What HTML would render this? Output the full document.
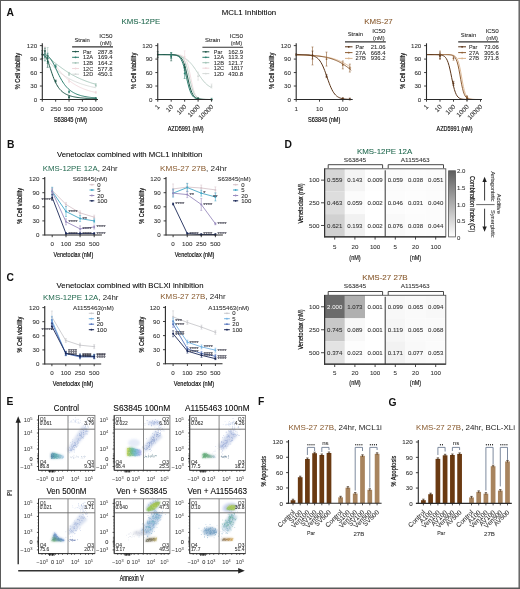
<!DOCTYPE html>
<html><head><meta charset="utf-8"><style>
html,body{margin:0;padding:0;background:#fff;width:520px;height:589px;overflow:hidden}
svg{display:block;filter:blur(0.25px)}
text{font-family:"Liberation Sans", sans-serif}
.b{stroke:#222;stroke-width:0.2px}
</style></head><body>
<svg width="520" height="589" viewBox="0 0 520 589">
<rect width="520" height="589" fill="#fff"/>
<line x1="0" y1="0.5" x2="520" y2="0.5" stroke="#5a5a5a" stroke-width="1"/>
<line x1="0.5" y1="0" x2="0.5" y2="589" stroke="#5a5a5a" stroke-width="1"/>
<line x1="519.2" y1="0" x2="519.2" y2="589" stroke="#5a5a5a" stroke-width="1.4"/>
<line x1="0" y1="588.3" x2="520" y2="588.3" stroke="#5a5a5a" stroke-width="1.4"/>
<text x="6.5" y="16.1" font-size="10.3" fill="#111" font-weight="bold">A</text>
<text x="6.9" y="147.6" font-size="10.3" fill="#111" font-weight="bold">B</text>
<text x="6.6" y="280.9" font-size="10.3" fill="#111" font-weight="bold">C</text>
<text x="284.6" y="147.6" font-size="10.3" fill="#111" font-weight="bold">D</text>
<text x="6.6" y="405.3" font-size="10.3" fill="#111" font-weight="bold">E</text>
<text x="258" y="405.4" font-size="10.3" fill="#111" font-weight="bold">F</text>
<text x="388.4" y="405.8" font-size="10.3" fill="#111" font-weight="bold">G</text>
<text x="249" y="15.4" font-size="7.85" text-anchor="middle" stroke="#222" stroke-width="0.08" textLength="54.4" lengthAdjust="spacingAndGlyphs">MCL1 Inhibition</text>
<text x="140.8" y="23.6" font-size="7.85" text-anchor="middle" fill="#22694f" stroke="#22694f" stroke-width="0.08" textLength="38.7" lengthAdjust="spacingAndGlyphs">KMS-12PE</text>
<text x="378.5" y="23.6" font-size="7.85" text-anchor="middle" fill="#87582c" stroke="#87582c" stroke-width="0.08" textLength="28.5" lengthAdjust="spacingAndGlyphs">KMS-27</text>
<path d="M42.3 54.6 L43.19 55.21 L44.08 56.07 L44.97 57.04 L45.87 58.06 L46.76 59.11 L47.65 60.17 L48.54 61.22 L49.43 62.26 L50.32 63.28 L51.22 64.28 L52.11 65.26 L53 66.2 L53.89 67.12 L54.78 68.01 L55.67 68.87 L56.57 69.7 L57.46 70.5 L58.35 71.27 L59.24 72.01 L60.13 72.73 L61.02 73.41 L61.92 74.08 L62.81 74.72 L63.7 75.33 L64.59 75.93 L65.48 76.5 L66.38 77.05 L67.27 77.58 L68.16 78.09 L69.05 78.59 L69.94 79.06 L70.83 79.52 L71.72 79.96 L72.62 80.39 L73.51 80.8 L74.4 81.2 L75.29 81.58 L76.18 81.96 L77.07 82.32 L77.97 82.66 L78.86 83 L79.75 83.33 L80.64 83.64 L81.53 83.95 L82.42 84.24 L83.32 84.53 L84.21 84.81 L85.1 85.08 L85.99 85.34 L86.88 85.59 L87.78 85.84 L88.67 86.07 L89.56 86.31 L90.45 86.53 L91.34 86.75 L92.23 86.96 L93.12 87.17 L94.02 87.37 L94.91 87.57 L95.8 87.76" stroke="#d6dad8" stroke-width="0.9" fill="none"/>
<path d="M42.3 54.6 L43.19 54.67 L44.08 54.87 L44.97 55.2 L45.87 55.65 L46.76 56.23 L47.65 56.9 L48.54 57.68 L49.43 58.54 L50.32 59.47 L51.22 60.46 L52.11 61.51 L53 62.59 L53.89 63.69 L54.78 64.81 L55.67 65.94 L56.57 67.07 L57.46 68.19 L58.35 69.3 L59.24 70.39 L60.13 71.45 L61.02 72.49 L61.92 73.5 L62.81 74.48 L63.7 75.43 L64.59 76.34 L65.48 77.22 L66.38 78.07 L67.27 78.88 L68.16 79.66 L69.05 80.41 L69.94 81.13 L70.83 81.81 L71.72 82.47 L72.62 83.09 L73.51 83.69 L74.4 84.26 L75.29 84.81 L76.18 85.33 L77.07 85.83 L77.97 86.31 L78.86 86.76 L79.75 87.2 L80.64 87.61 L81.53 88.01 L82.42 88.39 L83.32 88.76 L84.21 89.1 L85.1 89.44 L85.99 89.75 L86.88 90.06 L87.78 90.35 L88.67 90.63 L89.56 90.9 L90.45 91.16 L91.34 91.4 L92.23 91.64 L93.12 91.87 L94.02 92.08 L94.91 92.29 L95.8 92.49" stroke="#f0d8dc" stroke-width="0.9" fill="none"/>
<path d="M42.3 54.6 L43.19 54.79 L44.08 55.13 L44.97 55.56 L45.87 56.06 L46.76 56.61 L47.65 57.21 L48.54 57.84 L49.43 58.5 L50.32 59.18 L51.22 59.87 L52.11 60.57 L53 61.28 L53.89 61.99 L54.78 62.7 L55.67 63.41 L56.57 64.12 L57.46 64.82 L58.35 65.51 L59.24 66.19 L60.13 66.87 L61.02 67.53 L61.92 68.18 L62.81 68.82 L63.7 69.45 L64.59 70.06 L65.48 70.67 L66.38 71.25 L67.27 71.83 L68.16 72.39 L69.05 72.94 L69.94 73.48 L70.83 74 L71.72 74.51 L72.62 75.01 L73.51 75.49 L74.4 75.96 L75.29 76.42 L76.18 76.87 L77.07 77.31 L77.97 77.74 L78.86 78.15 L79.75 78.56 L80.64 78.95 L81.53 79.33 L82.42 79.71 L83.32 80.07 L84.21 80.43 L85.1 80.77 L85.99 81.11 L86.88 81.44 L87.78 81.76 L88.67 82.07 L89.56 82.37 L90.45 82.67 L91.34 82.96 L92.23 83.24 L93.12 83.51 L94.02 83.78 L94.91 84.04 L95.8 84.3" stroke="#a4c4b8" stroke-width="0.9" fill="none"/>
<path d="M42.3 54.6 L43.19 54.61 L44.08 54.65 L44.97 54.76 L45.87 54.97 L46.76 55.31 L47.65 55.82 L48.54 56.5 L49.43 57.38 L50.32 58.45 L51.22 59.72 L52.11 61.17 L53 62.78 L53.89 64.5 L54.78 66.33 L55.67 68.21 L56.57 70.11 L57.46 72 L58.35 73.86 L59.24 75.66 L60.13 77.39 L61.02 79.03 L61.92 80.57 L62.81 82.01 L63.7 83.35 L64.59 84.6 L65.48 85.74 L66.38 86.8 L67.27 87.77 L68.16 88.66 L69.05 89.47 L69.94 90.22 L70.83 90.9 L71.72 91.52 L72.62 92.09 L73.51 92.62 L74.4 93.1 L75.29 93.53 L76.18 93.94 L77.07 94.3 L77.97 94.64 L78.86 94.95 L79.75 95.24 L80.64 95.51 L81.53 95.75 L82.42 95.98 L83.32 96.18 L84.21 96.38 L85.1 96.56 L85.99 96.72 L86.88 96.87 L87.78 97.02 L88.67 97.15 L89.56 97.27 L90.45 97.39 L91.34 97.5 L92.23 97.6 L93.12 97.69 L94.02 97.78 L94.91 97.86 L95.8 97.94" stroke="#2e8070" stroke-width="1" fill="none"/>
<path d="M42.3 54.6 L43.19 54.67 L44.08 55 L44.97 55.72 L45.87 56.9 L46.76 58.54 L47.65 60.61 L48.54 63.02 L49.43 65.66 L50.32 68.4 L51.22 71.15 L52.11 73.81 L53 76.33 L53.89 78.66 L54.78 80.79 L55.67 82.72 L56.57 84.44 L57.46 85.97 L58.35 87.34 L59.24 88.54 L60.13 89.61 L61.02 90.55 L61.92 91.39 L62.81 92.13 L63.7 92.78 L64.59 93.37 L65.48 93.89 L66.38 94.35 L67.27 94.77 L68.16 95.14 L69.05 95.48 L69.94 95.78 L70.83 96.05 L71.72 96.3 L72.62 96.52 L73.51 96.72 L74.4 96.91 L75.29 97.08 L76.18 97.23 L77.07 97.37 L77.97 97.5 L78.86 97.62 L79.75 97.73 L80.64 97.83 L81.53 97.92 L82.42 98.01 L83.32 98.09 L84.21 98.17 L85.1 98.23 L85.99 98.3 L86.88 98.36 L87.78 98.41 L88.67 98.47 L89.56 98.52 L90.45 98.56 L91.34 98.6 L92.23 98.64 L93.12 98.68 L94.02 98.72 L94.91 98.75 L95.8 98.78" stroke="#1e5648" stroke-width="1" fill="none"/>
<line x1="42.3" y1="50.6" x2="42.3" y2="58.6" stroke="#d6dad8" stroke-width="0.6"/>
<line x1="41.3" y1="50.6" x2="43.3" y2="50.6" stroke="#d6dad8" stroke-width="0.5"/>
<line x1="41.3" y1="58.6" x2="43.3" y2="58.6" stroke="#d6dad8" stroke-width="0.5"/>
<circle cx="42.3" cy="54.6" r="0.9" fill="#d6dad8"/>
<line x1="44.97" y1="46.35" x2="44.97" y2="58.35" stroke="#f0d8dc" stroke-width="0.6"/>
<line x1="43.97" y1="46.35" x2="45.97" y2="46.35" stroke="#f0d8dc" stroke-width="0.5"/>
<line x1="43.97" y1="58.35" x2="45.97" y2="58.35" stroke="#f0d8dc" stroke-width="0.5"/>
<circle cx="44.97" cy="52.35" r="0.9" fill="#f0d8dc"/>
<line x1="47.65" y1="47.5" x2="47.65" y2="63.5" stroke="#a4c4b8" stroke-width="0.6"/>
<line x1="46.65" y1="47.5" x2="48.65" y2="47.5" stroke="#a4c4b8" stroke-width="0.5"/>
<line x1="46.65" y1="63.5" x2="48.65" y2="63.5" stroke="#a4c4b8" stroke-width="0.5"/>
<circle cx="47.65" cy="55.5" r="0.9" fill="#a4c4b8"/>
<line x1="42.3" y1="46.25" x2="42.3" y2="60.25" stroke="#a4c4b8" stroke-width="0.6"/>
<line x1="41.3" y1="46.25" x2="43.3" y2="46.25" stroke="#a4c4b8" stroke-width="0.5"/>
<line x1="41.3" y1="60.25" x2="43.3" y2="60.25" stroke="#a4c4b8" stroke-width="0.5"/>
<circle cx="42.3" cy="53.25" r="0.9" fill="#a4c4b8"/>
<line x1="44.97" y1="48.01" x2="44.97" y2="54.01" stroke="#1e5648" stroke-width="0.6"/>
<line x1="43.97" y1="48.01" x2="45.97" y2="48.01" stroke="#1e5648" stroke-width="0.5"/>
<line x1="43.97" y1="54.01" x2="45.97" y2="54.01" stroke="#1e5648" stroke-width="0.5"/>
<circle cx="44.97" cy="51.01" r="0.9" fill="#1e5648"/>
<line x1="42.3" y1="50.6" x2="42.3" y2="58.6" stroke="#1e5648" stroke-width="0.6"/>
<line x1="41.3" y1="50.6" x2="43.3" y2="50.6" stroke="#1e5648" stroke-width="0.5"/>
<line x1="41.3" y1="58.6" x2="43.3" y2="58.6" stroke="#1e5648" stroke-width="0.5"/>
<circle cx="42.3" cy="54.6" r="0.9" fill="#1e5648"/>
<line x1="47.65" y1="53.19" x2="47.65" y2="63.19" stroke="#2e8070" stroke-width="0.6"/>
<line x1="46.65" y1="53.19" x2="48.65" y2="53.19" stroke="#2e8070" stroke-width="0.5"/>
<line x1="46.65" y1="63.19" x2="48.65" y2="63.19" stroke="#2e8070" stroke-width="0.5"/>
<circle cx="47.65" cy="58.19" r="0.9" fill="#2e8070"/>
<line x1="44.97" y1="52.84" x2="44.97" y2="60.84" stroke="#2e8070" stroke-width="0.6"/>
<line x1="43.97" y1="52.84" x2="45.97" y2="52.84" stroke="#2e8070" stroke-width="0.5"/>
<line x1="43.97" y1="60.84" x2="45.97" y2="60.84" stroke="#2e8070" stroke-width="0.5"/>
<circle cx="44.97" cy="56.84" r="0.9" fill="#2e8070"/>
<line x1="47.65" y1="55.34" x2="47.65" y2="67.34" stroke="#1e5648" stroke-width="0.6"/>
<line x1="46.65" y1="55.34" x2="48.65" y2="55.34" stroke="#1e5648" stroke-width="0.5"/>
<line x1="46.65" y1="67.34" x2="48.65" y2="67.34" stroke="#1e5648" stroke-width="0.5"/>
<circle cx="47.65" cy="61.34" r="0.9" fill="#1e5648"/>
<line x1="55.67" y1="64.77" x2="55.67" y2="67.77" stroke="#2e8070" stroke-width="0.6"/>
<line x1="54.67" y1="64.77" x2="56.67" y2="64.77" stroke="#2e8070" stroke-width="0.5"/>
<line x1="54.67" y1="67.77" x2="56.67" y2="67.77" stroke="#2e8070" stroke-width="0.5"/>
<circle cx="55.67" cy="66.27" r="0.9" fill="#2e8070"/>
<line x1="55.67" y1="80.09" x2="55.67" y2="82.09" stroke="#1e5648" stroke-width="0.6"/>
<line x1="54.67" y1="80.09" x2="56.67" y2="80.09" stroke="#1e5648" stroke-width="0.5"/>
<line x1="54.67" y1="82.09" x2="56.67" y2="82.09" stroke="#1e5648" stroke-width="0.5"/>
<circle cx="55.67" cy="81.09" r="0.9" fill="#1e5648"/>
<line x1="69.05" y1="90.87" x2="69.05" y2="92.87" stroke="#2e8070" stroke-width="0.6"/>
<line x1="68.05" y1="90.87" x2="70.05" y2="90.87" stroke="#2e8070" stroke-width="0.5"/>
<line x1="68.05" y1="92.87" x2="70.05" y2="92.87" stroke="#2e8070" stroke-width="0.5"/>
<circle cx="69.05" cy="91.87" r="0.9" fill="#2e8070"/>
<line x1="69.05" y1="96.25" x2="69.05" y2="98.25" stroke="#1e5648" stroke-width="0.6"/>
<line x1="68.05" y1="96.25" x2="70.05" y2="96.25" stroke="#1e5648" stroke-width="0.5"/>
<line x1="68.05" y1="98.25" x2="70.05" y2="98.25" stroke="#1e5648" stroke-width="0.5"/>
<circle cx="69.05" cy="97.25" r="0.9" fill="#1e5648"/>
<line x1="69.05" y1="72.41" x2="69.05" y2="75.41" stroke="#a4c4b8" stroke-width="0.6"/>
<line x1="68.05" y1="72.41" x2="70.05" y2="72.41" stroke="#a4c4b8" stroke-width="0.5"/>
<line x1="68.05" y1="75.41" x2="70.05" y2="75.41" stroke="#a4c4b8" stroke-width="0.5"/>
<circle cx="69.05" cy="73.91" r="0.9" fill="#a4c4b8"/>
<line x1="69.05" y1="79.59" x2="69.05" y2="82.59" stroke="#f0d8dc" stroke-width="0.6"/>
<line x1="68.05" y1="79.59" x2="70.05" y2="79.59" stroke="#f0d8dc" stroke-width="0.5"/>
<line x1="68.05" y1="82.59" x2="70.05" y2="82.59" stroke="#f0d8dc" stroke-width="0.5"/>
<circle cx="69.05" cy="81.09" r="0.9" fill="#f0d8dc"/>
<line x1="95.8" y1="83.63" x2="95.8" y2="86.63" stroke="#a4c4b8" stroke-width="0.6"/>
<line x1="94.8" y1="83.63" x2="96.8" y2="83.63" stroke="#a4c4b8" stroke-width="0.5"/>
<line x1="94.8" y1="86.63" x2="96.8" y2="86.63" stroke="#a4c4b8" stroke-width="0.5"/>
<circle cx="95.8" cy="85.13" r="0.9" fill="#a4c4b8"/>
<line x1="95.8" y1="91.32" x2="95.8" y2="93.32" stroke="#f0d8dc" stroke-width="0.6"/>
<line x1="94.8" y1="91.32" x2="96.8" y2="91.32" stroke="#f0d8dc" stroke-width="0.5"/>
<line x1="94.8" y1="93.32" x2="96.8" y2="93.32" stroke="#f0d8dc" stroke-width="0.5"/>
<circle cx="95.8" cy="92.32" r="0.9" fill="#f0d8dc"/>
<line x1="95.8" y1="97.6" x2="95.8" y2="99.6" stroke="#1e5648" stroke-width="0.6"/>
<line x1="94.8" y1="97.6" x2="96.8" y2="97.6" stroke="#1e5648" stroke-width="0.5"/>
<line x1="94.8" y1="99.6" x2="96.8" y2="99.6" stroke="#1e5648" stroke-width="0.5"/>
<circle cx="95.8" cy="98.6" r="0.9" fill="#1e5648"/>
<line x1="95.8" y1="98.05" x2="95.8" y2="100.05" stroke="#2e8070" stroke-width="0.6"/>
<line x1="94.8" y1="98.05" x2="96.8" y2="98.05" stroke="#2e8070" stroke-width="0.5"/>
<line x1="94.8" y1="100.05" x2="96.8" y2="100.05" stroke="#2e8070" stroke-width="0.5"/>
<circle cx="95.8" cy="99.05" r="0.9" fill="#2e8070"/>
<line x1="42.3" y1="43.3" x2="42.3" y2="100" stroke="#2a2a2a" stroke-width="1.1"/>
<line x1="39.9" y1="99.5" x2="42.3" y2="99.5" stroke="#2a2a2a" stroke-width="0.9"/>
<text x="37.1" y="101.7" font-size="6.2" text-anchor="end" fill="#333" stroke="#333" stroke-width="0.08">0</text>
<line x1="39.9" y1="86.03" x2="42.3" y2="86.03" stroke="#2a2a2a" stroke-width="0.9"/>
<text x="37.1" y="88.23" font-size="6.2" text-anchor="end" fill="#333" stroke="#333" stroke-width="0.08">30</text>
<line x1="39.9" y1="72.56" x2="42.3" y2="72.56" stroke="#2a2a2a" stroke-width="0.9"/>
<text x="37.1" y="74.76" font-size="6.2" text-anchor="end" fill="#333" stroke="#333" stroke-width="0.08">60</text>
<line x1="39.9" y1="59.09" x2="42.3" y2="59.09" stroke="#2a2a2a" stroke-width="0.9"/>
<text x="37.1" y="61.29" font-size="6.2" text-anchor="end" fill="#333" stroke="#333" stroke-width="0.08">90</text>
<line x1="39.9" y1="45.62" x2="42.3" y2="45.62" stroke="#2a2a2a" stroke-width="0.9"/>
<text x="37.1" y="47.82" font-size="6.2" text-anchor="end" fill="#333" stroke="#333" stroke-width="0.08">120</text>
<line x1="42.3" y1="99.5" x2="98" y2="99.5" stroke="#2a2a2a" stroke-width="1.1"/>
<line x1="42.3" y1="99.5" x2="42.3" y2="101.7" stroke="#2a2a2a" stroke-width="0.9"/>
<text x="42.3" y="110.6" font-size="6.2" text-anchor="middle" fill="#333" stroke="#333" stroke-width="0.08">0</text>
<line x1="55.67" y1="99.5" x2="55.67" y2="101.7" stroke="#2a2a2a" stroke-width="0.9"/>
<text x="55.67" y="110.6" font-size="6.2" text-anchor="middle" fill="#333" stroke="#333" stroke-width="0.08">250</text>
<line x1="69.05" y1="99.5" x2="69.05" y2="101.7" stroke="#2a2a2a" stroke-width="0.9"/>
<text x="69.05" y="110.6" font-size="6.2" text-anchor="middle" fill="#333" stroke="#333" stroke-width="0.08">500</text>
<line x1="82.42" y1="99.5" x2="82.42" y2="101.7" stroke="#2a2a2a" stroke-width="0.9"/>
<text x="82.42" y="110.6" font-size="6.2" text-anchor="middle" fill="#333" stroke="#333" stroke-width="0.08">750</text>
<line x1="95.8" y1="99.5" x2="95.8" y2="101.7" stroke="#2a2a2a" stroke-width="0.9"/>
<text x="95.8" y="110.6" font-size="6.2" text-anchor="middle" fill="#333" stroke="#333" stroke-width="0.08">1000</text>
<text x="70.3" y="121.9" font-size="7.9" text-anchor="middle" stroke="#222" stroke-width="0.08" textLength="33" lengthAdjust="spacingAndGlyphs" class="b">S63845 (nM)</text>
<text x="19.6" y="71.1" font-size="7.6" text-anchor="middle" stroke="#222" stroke-width="0.08" textLength="36.2" lengthAdjust="spacingAndGlyphs" transform="rotate(-90 19.6 71.1)" class="b">% Cell viability</text>
<text x="74.4" y="41.7" font-size="6.2" fill="#2a2a2a" stroke="#2a2a2a" stroke-width="0.08" textLength="15.4" lengthAdjust="spacingAndGlyphs">Strain</text>
<text x="105.8" y="37.9" font-size="6.2" text-anchor="middle" fill="#2a2a2a" stroke="#2a2a2a" stroke-width="0.08" textLength="13.3" lengthAdjust="spacingAndGlyphs">IC50</text>
<text x="105.8" y="44.6" font-size="6.2" text-anchor="middle" fill="#2a2a2a" stroke="#2a2a2a" stroke-width="0.08" textLength="11.5" lengthAdjust="spacingAndGlyphs">(nM)</text>
<line x1="72.1" y1="46.9" x2="113" y2="46.9" stroke="#333" stroke-width="1.1"/>
<line x1="72.1" y1="51.6" x2="79" y2="51.6" stroke="#1e5648" stroke-width="1"/>
<circle cx="75.55" cy="51.6" r="0.9" fill="#1e5648"/>
<text x="83" y="53.6" font-size="6" fill="#2a2a2a" stroke="#2a2a2a" stroke-width="0.08" textLength="8.4" lengthAdjust="spacingAndGlyphs">Par</text>
<text x="112.5" y="53.6" font-size="6" text-anchor="end" fill="#2a2a2a" stroke="#2a2a2a" stroke-width="0.08" textLength="14.8" lengthAdjust="spacingAndGlyphs">287.8</text>
<line x1="72.1" y1="57.3" x2="79" y2="57.3" stroke="#2e8070" stroke-width="1"/>
<circle cx="75.55" cy="57.3" r="0.9" fill="#2e8070"/>
<text x="83" y="59.3" font-size="6" fill="#2a2a2a" stroke="#2a2a2a" stroke-width="0.08" textLength="10.2" lengthAdjust="spacingAndGlyphs">12A</text>
<text x="112.5" y="59.3" font-size="6" text-anchor="end" fill="#2a2a2a" stroke="#2a2a2a" stroke-width="0.08" textLength="14.8" lengthAdjust="spacingAndGlyphs">169.4</text>
<line x1="72.1" y1="62.9" x2="79" y2="62.9" stroke="#a4c4b8" stroke-width="1"/>
<circle cx="75.55" cy="62.9" r="0.9" fill="#a4c4b8"/>
<text x="83" y="64.9" font-size="6" fill="#2a2a2a" stroke="#2a2a2a" stroke-width="0.08" textLength="10.2" lengthAdjust="spacingAndGlyphs">12B</text>
<text x="112.5" y="64.9" font-size="6" text-anchor="end" fill="#2a2a2a" stroke="#2a2a2a" stroke-width="0.08" textLength="14.8" lengthAdjust="spacingAndGlyphs">164.2</text>
<line x1="72.1" y1="68.5" x2="79" y2="68.5" stroke="#f0d8dc" stroke-width="1"/>
<circle cx="75.55" cy="68.5" r="0.9" fill="#f0d8dc"/>
<text x="83" y="70.5" font-size="6" fill="#2a2a2a" stroke="#2a2a2a" stroke-width="0.08" textLength="10.2" lengthAdjust="spacingAndGlyphs">12C</text>
<text x="112.5" y="70.5" font-size="6" text-anchor="end" fill="#2a2a2a" stroke="#2a2a2a" stroke-width="0.08" textLength="14.8" lengthAdjust="spacingAndGlyphs">577.8</text>
<line x1="72.1" y1="74.2" x2="79" y2="74.2" stroke="#d6dad8" stroke-width="1"/>
<circle cx="75.55" cy="74.2" r="0.9" fill="#d6dad8"/>
<text x="83" y="76.2" font-size="6" fill="#2a2a2a" stroke="#2a2a2a" stroke-width="0.08" textLength="10.2" lengthAdjust="spacingAndGlyphs">12D</text>
<text x="112.5" y="76.2" font-size="6" text-anchor="end" fill="#2a2a2a" stroke="#2a2a2a" stroke-width="0.08" textLength="14.8" lengthAdjust="spacingAndGlyphs">450.1</text>
<path d="M157.75 54.64 L158.65 54.65 L159.54 54.65 L160.44 54.66 L161.34 54.67 L162.23 54.69 L163.13 54.7 L164.03 54.72 L164.92 54.74 L165.82 54.76 L166.72 54.78 L167.61 54.81 L168.51 54.85 L169.41 54.89 L170.3 54.94 L171.2 54.99 L172.1 55.06 L172.99 55.13 L173.89 55.22 L174.79 55.32 L175.68 55.44 L176.58 55.58 L177.48 55.73 L178.37 55.91 L179.27 56.12 L180.17 56.36 L181.06 56.64 L181.96 56.95 L182.86 57.31 L183.75 57.73 L184.65 58.19 L185.55 58.72 L186.44 59.31 L187.34 59.98 L188.24 60.72 L189.13 61.54 L190.03 62.44 L190.93 63.42 L191.82 64.48 L192.72 65.62 L193.62 66.82 L194.51 68.09 L195.41 69.4 L196.31 70.76 L197.2 72.13 L198.1 73.51 L199 74.87 L199.89 76.21 L200.79 77.51 L201.69 78.76 L202.58 79.94 L203.48 81.04 L204.38 82.08 L205.27 83.03 L206.17 83.9 L207.07 84.69 L207.96 85.4 L208.86 86.04 L209.76 86.6 L210.65 87.11 L211.55 87.55" stroke="#b8ccc4" stroke-width="0.9" fill="none"/>
<path d="M157.75 54.6 L158.65 54.6 L159.54 54.6 L160.44 54.6 L161.34 54.6 L162.23 54.6 L163.13 54.6 L164.03 54.6 L164.92 54.6 L165.82 54.6 L166.72 54.6 L167.61 54.6 L168.51 54.6 L169.41 54.6 L170.3 54.61 L171.2 54.61 L172.1 54.61 L172.99 54.62 L173.89 54.63 L174.79 54.64 L175.68 54.66 L176.58 54.68 L177.48 54.73 L178.37 54.79 L179.27 54.88 L180.17 55.02 L181.06 55.22 L181.96 55.51 L182.86 55.95 L183.75 56.58 L184.65 57.49 L185.55 58.77 L186.44 60.55 L187.34 62.93 L188.24 65.98 L189.13 69.68 L190.03 73.9 L190.93 78.36 L191.82 82.72 L192.72 86.66 L193.62 89.99 L194.51 92.64 L195.41 94.66 L196.31 96.13 L197.2 97.18 L198.1 97.92 L199 98.43 L199.89 98.77 L200.79 99.01 L201.69 99.17 L202.58 99.28 L203.48 99.35 L204.38 99.4 L205.27 99.43 L206.17 99.45 L207.07 99.47 L207.96 99.48 L208.86 99.49 L209.76 99.49 L210.65 99.49 L211.55 99.5" stroke="#f0d8dc" stroke-width="0.8" fill="none"/>
<path d="M157.75 54.6 L158.65 54.6 L159.54 54.6 L160.44 54.6 L161.34 54.6 L162.23 54.6 L163.13 54.6 L164.03 54.6 L164.92 54.6 L165.82 54.6 L166.72 54.61 L167.61 54.61 L168.51 54.61 L169.41 54.62 L170.3 54.63 L171.2 54.64 L172.1 54.65 L172.99 54.67 L173.89 54.71 L174.79 54.75 L175.68 54.81 L176.58 54.9 L177.48 55.03 L178.37 55.21 L179.27 55.46 L180.17 55.82 L181.06 56.32 L181.96 57 L182.86 57.94 L183.75 59.22 L184.65 60.9 L185.55 63.06 L186.44 65.75 L187.34 68.96 L188.24 72.61 L189.13 76.51 L190.03 80.45 L190.93 84.18 L191.82 87.52 L192.72 90.36 L193.62 92.66 L194.51 94.47 L195.41 95.84 L196.31 96.87 L197.2 97.62 L198.1 98.16 L199 98.55 L199.89 98.83 L200.79 99.03 L201.69 99.17 L202.58 99.27 L203.48 99.33 L204.38 99.38 L205.27 99.42 L206.17 99.44 L207.07 99.46 L207.96 99.47 L208.86 99.48 L209.76 99.49 L210.65 99.49 L211.55 99.49" stroke="#a4c4b8" stroke-width="0.8" fill="none"/>
<path d="M157.75 54.6 L158.65 54.6 L159.54 54.6 L160.44 54.6 L161.34 54.6 L162.23 54.6 L163.13 54.6 L164.03 54.61 L164.92 54.61 L165.82 54.61 L166.72 54.62 L167.61 54.63 L168.51 54.64 L169.41 54.66 L170.3 54.68 L171.2 54.71 L172.1 54.76 L172.99 54.83 L173.89 54.92 L174.79 55.06 L175.68 55.25 L176.58 55.52 L177.48 55.9 L178.37 56.42 L179.27 57.15 L180.17 58.15 L181.06 59.49 L181.96 61.25 L182.86 63.51 L183.75 66.3 L184.65 69.6 L185.55 73.3 L186.44 77.23 L187.34 81.15 L188.24 84.82 L189.13 88.08 L190.03 90.82 L190.93 93.03 L191.82 94.75 L192.72 96.05 L193.62 97.02 L194.51 97.73 L195.41 98.24 L196.31 98.61 L197.2 98.87 L198.1 99.06 L199 99.19 L199.89 99.28 L200.79 99.34 L201.69 99.39 L202.58 99.42 L203.48 99.45 L204.38 99.46 L205.27 99.47 L206.17 99.48 L207.07 99.49 L207.96 99.49 L208.86 99.49 L209.76 99.5 L210.65 99.5 L211.55 99.5" stroke="#2e8070" stroke-width="1" fill="none"/>
<path d="M157.75 54.6 L158.65 54.6 L159.54 54.6 L160.44 54.6 L161.34 54.6 L162.23 54.6 L163.13 54.6 L164.03 54.6 L164.92 54.61 L165.82 54.61 L166.72 54.61 L167.61 54.62 L168.51 54.62 L169.41 54.64 L170.3 54.65 L171.2 54.67 L172.1 54.7 L172.99 54.74 L173.89 54.8 L174.79 54.89 L175.68 55.01 L176.58 55.18 L177.48 55.43 L178.37 55.77 L179.27 56.24 L180.17 56.9 L181.06 57.81 L181.96 59.03 L182.86 60.66 L183.75 62.76 L184.65 65.38 L185.55 68.53 L186.44 72.13 L187.34 76.01 L188.24 79.96 L189.13 83.73 L190.03 87.13 L190.93 90.03 L191.82 92.4 L192.72 94.27 L193.62 95.69 L194.51 96.76 L195.41 97.54 L196.31 98.1 L197.2 98.51 L198.1 98.8 L199 99.01 L199.89 99.15 L200.79 99.25 L201.69 99.33 L202.58 99.38 L203.48 99.41 L204.38 99.44 L205.27 99.46 L206.17 99.47 L207.07 99.48 L207.96 99.49 L208.86 99.49 L209.76 99.49 L210.65 99.49 L211.55 99.5" stroke="#1e5648" stroke-width="1" fill="none"/>
<line x1="157.75" y1="51.6" x2="157.75" y2="57.6" stroke="#1e5648" stroke-width="0.6"/>
<line x1="156.75" y1="51.6" x2="158.75" y2="51.6" stroke="#1e5648" stroke-width="0.5"/>
<line x1="156.75" y1="57.6" x2="158.75" y2="57.6" stroke="#1e5648" stroke-width="0.5"/>
<circle cx="157.75" cy="54.6" r="0.9" fill="#1e5648"/>
<line x1="171.2" y1="52.84" x2="171.2" y2="60.84" stroke="#1e5648" stroke-width="0.6"/>
<line x1="170.2" y1="52.84" x2="172.2" y2="52.84" stroke="#1e5648" stroke-width="0.5"/>
<line x1="170.2" y1="60.84" x2="172.2" y2="60.84" stroke="#1e5648" stroke-width="0.5"/>
<circle cx="171.2" cy="56.84" r="0.9" fill="#1e5648"/>
<line x1="171.2" y1="52.5" x2="171.2" y2="58.5" stroke="#2e8070" stroke-width="0.6"/>
<line x1="170.2" y1="52.5" x2="172.2" y2="52.5" stroke="#2e8070" stroke-width="0.5"/>
<line x1="170.2" y1="58.5" x2="172.2" y2="58.5" stroke="#2e8070" stroke-width="0.5"/>
<circle cx="171.2" cy="55.5" r="0.9" fill="#2e8070"/>
<line x1="184.65" y1="64.17" x2="184.65" y2="70.17" stroke="#1e5648" stroke-width="0.6"/>
<line x1="183.65" y1="64.17" x2="185.65" y2="64.17" stroke="#1e5648" stroke-width="0.5"/>
<line x1="183.65" y1="70.17" x2="185.65" y2="70.17" stroke="#1e5648" stroke-width="0.5"/>
<circle cx="184.65" cy="67.17" r="0.9" fill="#1e5648"/>
<line x1="184.65" y1="68.46" x2="184.65" y2="78.46" stroke="#2e8070" stroke-width="0.6"/>
<line x1="183.65" y1="68.46" x2="185.65" y2="68.46" stroke="#2e8070" stroke-width="0.5"/>
<line x1="183.65" y1="78.46" x2="185.65" y2="78.46" stroke="#2e8070" stroke-width="0.5"/>
<circle cx="184.65" cy="73.46" r="0.9" fill="#2e8070"/>
<line x1="184.65" y1="50.84" x2="184.65" y2="62.84" stroke="#f0d8dc" stroke-width="0.6"/>
<line x1="183.65" y1="50.84" x2="185.65" y2="50.84" stroke="#f0d8dc" stroke-width="0.5"/>
<line x1="183.65" y1="62.84" x2="185.65" y2="62.84" stroke="#f0d8dc" stroke-width="0.5"/>
<circle cx="184.65" cy="56.84" r="0.9" fill="#f0d8dc"/>
<line x1="198.1" y1="72.15" x2="198.1" y2="80.15" stroke="#d6dad8" stroke-width="0.6"/>
<line x1="197.1" y1="72.15" x2="199.1" y2="72.15" stroke="#d6dad8" stroke-width="0.5"/>
<line x1="197.1" y1="80.15" x2="199.1" y2="80.15" stroke="#d6dad8" stroke-width="0.5"/>
<circle cx="198.1" cy="76.15" r="0.9" fill="#d6dad8"/>
<line x1="198.1" y1="97.6" x2="198.1" y2="99.6" stroke="#1e5648" stroke-width="0.6"/>
<line x1="197.1" y1="97.6" x2="199.1" y2="97.6" stroke="#1e5648" stroke-width="0.5"/>
<line x1="197.1" y1="99.6" x2="199.1" y2="99.6" stroke="#1e5648" stroke-width="0.5"/>
<circle cx="198.1" cy="98.6" r="0.9" fill="#1e5648"/>
<line x1="211.55" y1="84.03" x2="211.55" y2="88.03" stroke="#d6dad8" stroke-width="0.6"/>
<line x1="210.55" y1="84.03" x2="212.55" y2="84.03" stroke="#d6dad8" stroke-width="0.5"/>
<line x1="210.55" y1="88.03" x2="212.55" y2="88.03" stroke="#d6dad8" stroke-width="0.5"/>
<circle cx="211.55" cy="86.03" r="0.9" fill="#d6dad8"/>
<line x1="211.55" y1="98.28" x2="211.55" y2="100.28" stroke="#2e8070" stroke-width="0.6"/>
<line x1="210.55" y1="98.28" x2="212.55" y2="98.28" stroke="#2e8070" stroke-width="0.5"/>
<line x1="210.55" y1="100.28" x2="212.55" y2="100.28" stroke="#2e8070" stroke-width="0.5"/>
<circle cx="211.55" cy="99.28" r="0.9" fill="#2e8070"/>
<line x1="157.75" y1="43.3" x2="157.75" y2="100" stroke="#2a2a2a" stroke-width="1.1"/>
<line x1="155.35" y1="99.5" x2="157.75" y2="99.5" stroke="#2a2a2a" stroke-width="0.9"/>
<text x="152.55" y="101.7" font-size="6.2" text-anchor="end" fill="#333" stroke="#333" stroke-width="0.08">0</text>
<line x1="155.35" y1="86.03" x2="157.75" y2="86.03" stroke="#2a2a2a" stroke-width="0.9"/>
<text x="152.55" y="88.23" font-size="6.2" text-anchor="end" fill="#333" stroke="#333" stroke-width="0.08">30</text>
<line x1="155.35" y1="72.56" x2="157.75" y2="72.56" stroke="#2a2a2a" stroke-width="0.9"/>
<text x="152.55" y="74.76" font-size="6.2" text-anchor="end" fill="#333" stroke="#333" stroke-width="0.08">60</text>
<line x1="155.35" y1="59.09" x2="157.75" y2="59.09" stroke="#2a2a2a" stroke-width="0.9"/>
<text x="152.55" y="61.29" font-size="6.2" text-anchor="end" fill="#333" stroke="#333" stroke-width="0.08">90</text>
<line x1="155.35" y1="45.62" x2="157.75" y2="45.62" stroke="#2a2a2a" stroke-width="0.9"/>
<text x="152.55" y="47.82" font-size="6.2" text-anchor="end" fill="#333" stroke="#333" stroke-width="0.08">120</text>
<line x1="157.75" y1="99.5" x2="212.5" y2="99.5" stroke="#2a2a2a" stroke-width="1.1"/>
<line x1="157.75" y1="99.5" x2="157.75" y2="101.7" stroke="#2a2a2a" stroke-width="0.9"/>
<text x="160.05" y="107.3" font-size="6.5" text-anchor="end" fill="#333" stroke="#333" stroke-width="0.08" transform="rotate(-45 160.05 107.3)">1</text>
<line x1="171.2" y1="99.5" x2="171.2" y2="101.7" stroke="#2a2a2a" stroke-width="0.9"/>
<text x="173.5" y="107.3" font-size="6.5" text-anchor="end" fill="#333" stroke="#333" stroke-width="0.08" transform="rotate(-45 173.5 107.3)">10</text>
<line x1="184.65" y1="99.5" x2="184.65" y2="101.7" stroke="#2a2a2a" stroke-width="0.9"/>
<text x="186.95" y="107.3" font-size="6.5" text-anchor="end" fill="#333" stroke="#333" stroke-width="0.08" transform="rotate(-45 186.95 107.3)">100</text>
<line x1="198.1" y1="99.5" x2="198.1" y2="101.7" stroke="#2a2a2a" stroke-width="0.9"/>
<text x="200.4" y="107.3" font-size="6.5" text-anchor="end" fill="#333" stroke="#333" stroke-width="0.08" transform="rotate(-45 200.4 107.3)">1000</text>
<line x1="211.55" y1="99.5" x2="211.55" y2="101.7" stroke="#2a2a2a" stroke-width="0.9"/>
<text x="213.85" y="107.3" font-size="6.5" text-anchor="end" fill="#333" stroke="#333" stroke-width="0.08" transform="rotate(-45 213.85 107.3)">10000</text>
<text x="185.7" y="131.3" font-size="7.9" text-anchor="middle" stroke="#222" stroke-width="0.08" textLength="36" lengthAdjust="spacingAndGlyphs" class="b">AZD5991 (nM)</text>
<text x="136" y="70.9" font-size="7.6" text-anchor="middle" stroke="#222" stroke-width="0.08" textLength="36.2" lengthAdjust="spacingAndGlyphs" transform="rotate(-90 136 70.9)" class="b">% Cell viability</text>
<text x="205" y="41.7" font-size="6.2" fill="#2a2a2a" stroke="#2a2a2a" stroke-width="0.08" textLength="15.4" lengthAdjust="spacingAndGlyphs">Strain</text>
<text x="236.4" y="37.7" font-size="6.2" text-anchor="middle" fill="#2a2a2a" stroke="#2a2a2a" stroke-width="0.08" textLength="13.3" lengthAdjust="spacingAndGlyphs">IC50</text>
<text x="236.4" y="44.9" font-size="6.2" text-anchor="middle" fill="#2a2a2a" stroke="#2a2a2a" stroke-width="0.08" textLength="11.5" lengthAdjust="spacingAndGlyphs">(nM)</text>
<line x1="202.4" y1="47.2" x2="243.1" y2="47.2" stroke="#333" stroke-width="1.1"/>
<line x1="202.4" y1="51.8" x2="209.3" y2="51.8" stroke="#1e5648" stroke-width="1"/>
<circle cx="205.85" cy="51.8" r="0.9" fill="#1e5648"/>
<text x="213.8" y="53.8" font-size="6" fill="#2a2a2a" stroke="#2a2a2a" stroke-width="0.08" textLength="8.4" lengthAdjust="spacingAndGlyphs">Par</text>
<text x="243.1" y="53.8" font-size="6" text-anchor="end" fill="#2a2a2a" stroke="#2a2a2a" stroke-width="0.08" textLength="14.8" lengthAdjust="spacingAndGlyphs">162.9</text>
<line x1="202.4" y1="57.3" x2="209.3" y2="57.3" stroke="#2e8070" stroke-width="1"/>
<circle cx="205.85" cy="57.3" r="0.9" fill="#2e8070"/>
<text x="213.8" y="59.3" font-size="6" fill="#2a2a2a" stroke="#2a2a2a" stroke-width="0.08" textLength="10.2" lengthAdjust="spacingAndGlyphs">12A</text>
<text x="243.1" y="59.3" font-size="6" text-anchor="end" fill="#2a2a2a" stroke="#2a2a2a" stroke-width="0.08" textLength="14.8" lengthAdjust="spacingAndGlyphs">113.3</text>
<line x1="202.4" y1="62.7" x2="209.3" y2="62.7" stroke="#a4c4b8" stroke-width="1"/>
<circle cx="205.85" cy="62.7" r="0.9" fill="#a4c4b8"/>
<text x="213.8" y="64.7" font-size="6" fill="#2a2a2a" stroke="#2a2a2a" stroke-width="0.08" textLength="10.2" lengthAdjust="spacingAndGlyphs">12B</text>
<text x="243.1" y="64.7" font-size="6" text-anchor="end" fill="#2a2a2a" stroke="#2a2a2a" stroke-width="0.08" textLength="14.8" lengthAdjust="spacingAndGlyphs">121.7</text>
<line x1="202.4" y1="68.2" x2="209.3" y2="68.2" stroke="#f0d8dc" stroke-width="1"/>
<circle cx="205.85" cy="68.2" r="0.9" fill="#f0d8dc"/>
<text x="213.8" y="70.2" font-size="6" fill="#2a2a2a" stroke="#2a2a2a" stroke-width="0.08" textLength="10.2" lengthAdjust="spacingAndGlyphs">12C</text>
<text x="243.1" y="70.2" font-size="6" text-anchor="end" fill="#2a2a2a" stroke="#2a2a2a" stroke-width="0.08" textLength="12" lengthAdjust="spacingAndGlyphs">1817</text>
<line x1="202.4" y1="73.6" x2="209.3" y2="73.6" stroke="#d6dad8" stroke-width="1"/>
<circle cx="205.85" cy="73.6" r="0.9" fill="#d6dad8"/>
<text x="213.8" y="75.6" font-size="6" fill="#2a2a2a" stroke="#2a2a2a" stroke-width="0.08" textLength="10.2" lengthAdjust="spacingAndGlyphs">12D</text>
<text x="243.1" y="75.6" font-size="6" text-anchor="end" fill="#2a2a2a" stroke="#2a2a2a" stroke-width="0.08" textLength="14.8" lengthAdjust="spacingAndGlyphs">430.8</text>
<path d="M296.2 54.84 L297.12 54.85 L298.03 54.87 L298.95 54.89 L299.87 54.92 L300.79 54.94 L301.7 54.96 L302.62 54.99 L303.54 55.02 L304.45 55.05 L305.37 55.09 L306.29 55.12 L307.21 55.16 L308.12 55.2 L309.04 55.25 L309.96 55.29 L310.87 55.35 L311.79 55.4 L312.71 55.46 L313.63 55.52 L314.54 55.59 L315.46 55.66 L316.38 55.74 L317.29 55.83 L318.21 55.92 L319.13 56.01 L320.05 56.11 L320.96 56.22 L321.88 56.34 L322.8 56.47 L323.71 56.6 L324.63 56.74 L325.55 56.9 L326.47 57.06 L327.38 57.23 L328.3 57.42 L329.22 57.62 L330.13 57.83 L331.05 58.05 L331.97 58.29 L332.89 58.54 L333.8 58.81 L334.72 59.1 L335.64 59.4 L336.55 59.72 L337.47 60.06 L338.39 60.41 L339.31 60.79 L340.22 61.19 L341.14 61.61 L342.06 62.05 L342.97 62.51 L343.89 62.99 L344.81 63.5 L345.73 64.03 L346.64 64.58 L347.56 65.15 L348.48 65.75 L349.39 66.37 L350.31 67.01 L351.23 67.67" stroke="#dcb690" stroke-width="0.9" fill="none"/>
<path d="M296.2 54.83 L297.12 54.85 L298.03 54.87 L298.95 54.9 L299.87 54.92 L300.79 54.94 L301.7 54.97 L302.62 55 L303.54 55.03 L304.45 55.07 L305.37 55.1 L306.29 55.14 L307.21 55.19 L308.12 55.23 L309.04 55.28 L309.96 55.34 L310.87 55.4 L311.79 55.46 L312.71 55.53 L313.63 55.6 L314.54 55.68 L315.46 55.76 L316.38 55.85 L317.29 55.95 L318.21 56.05 L319.13 56.16 L320.05 56.28 L320.96 56.41 L321.88 56.55 L322.8 56.7 L323.71 56.86 L324.63 57.03 L325.55 57.22 L326.47 57.41 L327.38 57.62 L328.3 57.85 L329.22 58.09 L330.13 58.34 L331.05 58.62 L331.97 58.91 L332.89 59.22 L333.8 59.55 L334.72 59.9 L335.64 60.27 L336.55 60.66 L337.47 61.07 L338.39 61.51 L339.31 61.98 L340.22 62.46 L341.14 62.97 L342.06 63.51 L342.97 64.08 L343.89 64.66 L344.81 65.28 L345.73 65.92 L346.64 66.58 L347.56 67.27 L348.48 67.98 L349.39 68.72 L350.31 69.47 L351.23 70.25" stroke="#8e5e34" stroke-width="1" fill="none"/>
<path d="M296.2 54.62 L297.12 54.62 L298.03 54.63 L298.95 54.63 L299.87 54.64 L300.79 54.65 L301.7 54.67 L302.62 54.69 L303.54 54.71 L304.45 54.74 L305.37 54.77 L306.29 54.82 L307.21 54.88 L308.12 54.95 L309.04 55.04 L309.96 55.15 L310.87 55.3 L311.79 55.48 L312.71 55.71 L313.63 56 L314.54 56.35 L315.46 56.8 L316.38 57.35 L317.29 58.02 L318.21 58.84 L319.13 59.84 L320.05 61.03 L320.96 62.44 L321.88 64.08 L322.8 65.97 L323.71 68.08 L324.63 70.4 L325.55 72.89 L326.47 75.49 L327.38 78.13 L328.3 80.74 L329.22 83.26 L330.13 85.61 L331.05 87.77 L331.97 89.69 L332.89 91.38 L333.8 92.83 L334.72 94.06 L335.64 95.09 L336.55 95.94 L337.47 96.64 L338.39 97.21 L339.31 97.67 L340.22 98.04 L341.14 98.34 L342.06 98.58 L342.97 98.77 L343.89 98.92 L344.81 99.04 L345.73 99.14 L346.64 99.21 L347.56 99.27 L348.48 99.32 L349.39 99.36 L350.31 99.39 L351.23 99.41" stroke="#5a3418" stroke-width="1" fill="none"/>
<line x1="312.49" y1="46.95" x2="312.49" y2="64.95" stroke="#8e5e34" stroke-width="0.6"/>
<line x1="311.49" y1="46.95" x2="313.49" y2="46.95" stroke="#8e5e34" stroke-width="0.5"/>
<line x1="311.49" y1="64.95" x2="313.49" y2="64.95" stroke="#8e5e34" stroke-width="0.5"/>
<circle cx="312.49" cy="55.95" r="0.9" fill="#8e5e34"/>
<line x1="312.49" y1="51.05" x2="312.49" y2="59.05" stroke="#5a3418" stroke-width="0.6"/>
<line x1="311.49" y1="51.05" x2="313.49" y2="51.05" stroke="#5a3418" stroke-width="0.5"/>
<line x1="311.49" y1="59.05" x2="313.49" y2="59.05" stroke="#5a3418" stroke-width="0.5"/>
<circle cx="312.49" cy="55.05" r="0.9" fill="#5a3418"/>
<line x1="326.51" y1="52.09" x2="326.51" y2="66.09" stroke="#8e5e34" stroke-width="0.6"/>
<line x1="325.51" y1="52.09" x2="327.51" y2="52.09" stroke="#8e5e34" stroke-width="0.5"/>
<line x1="325.51" y1="66.09" x2="327.51" y2="66.09" stroke="#8e5e34" stroke-width="0.5"/>
<circle cx="326.51" cy="59.09" r="0.9" fill="#8e5e34"/>
<line x1="326.51" y1="74.65" x2="326.51" y2="77.65" stroke="#5a3418" stroke-width="0.6"/>
<line x1="325.51" y1="74.65" x2="327.51" y2="74.65" stroke="#5a3418" stroke-width="0.5"/>
<line x1="325.51" y1="77.65" x2="327.51" y2="77.65" stroke="#5a3418" stroke-width="0.5"/>
<circle cx="326.51" cy="76.15" r="0.9" fill="#5a3418"/>
<line x1="342.8" y1="60.93" x2="342.8" y2="68.93" stroke="#8e5e34" stroke-width="0.6"/>
<line x1="341.8" y1="60.93" x2="343.8" y2="60.93" stroke="#8e5e34" stroke-width="0.5"/>
<line x1="341.8" y1="68.93" x2="343.8" y2="68.93" stroke="#8e5e34" stroke-width="0.5"/>
<circle cx="342.8" cy="64.93" r="0.9" fill="#8e5e34"/>
<line x1="342.8" y1="97.6" x2="342.8" y2="99.6" stroke="#5a3418" stroke-width="0.6"/>
<line x1="341.8" y1="97.6" x2="343.8" y2="97.6" stroke="#5a3418" stroke-width="0.5"/>
<line x1="341.8" y1="99.6" x2="343.8" y2="99.6" stroke="#5a3418" stroke-width="0.5"/>
<circle cx="342.8" cy="98.6" r="0.9" fill="#5a3418"/>
<line x1="349.81" y1="64.07" x2="349.81" y2="72.07" stroke="#8e5e34" stroke-width="0.6"/>
<line x1="348.81" y1="64.07" x2="350.81" y2="64.07" stroke="#8e5e34" stroke-width="0.5"/>
<line x1="348.81" y1="72.07" x2="350.81" y2="72.07" stroke="#8e5e34" stroke-width="0.5"/>
<circle cx="349.81" cy="68.07" r="0.9" fill="#8e5e34"/>
<line x1="349.81" y1="98.05" x2="349.81" y2="100.05" stroke="#5a3418" stroke-width="0.6"/>
<line x1="348.81" y1="98.05" x2="350.81" y2="98.05" stroke="#5a3418" stroke-width="0.5"/>
<line x1="348.81" y1="100.05" x2="350.81" y2="100.05" stroke="#5a3418" stroke-width="0.5"/>
<circle cx="349.81" cy="99.05" r="0.9" fill="#5a3418"/>
<line x1="296.2" y1="53.6" x2="296.2" y2="55.6" stroke="#8e5e34" stroke-width="0.6"/>
<line x1="295.2" y1="53.6" x2="297.2" y2="53.6" stroke="#8e5e34" stroke-width="0.5"/>
<line x1="295.2" y1="55.6" x2="297.2" y2="55.6" stroke="#8e5e34" stroke-width="0.5"/>
<circle cx="296.2" cy="54.6" r="0.9" fill="#8e5e34"/>
<line x1="296.2" y1="43.3" x2="296.2" y2="100" stroke="#2a2a2a" stroke-width="1.1"/>
<line x1="293.8" y1="99.5" x2="296.2" y2="99.5" stroke="#2a2a2a" stroke-width="0.9"/>
<text x="291" y="101.7" font-size="6.2" text-anchor="end" fill="#333" stroke="#333" stroke-width="0.08">0</text>
<line x1="293.8" y1="86.03" x2="296.2" y2="86.03" stroke="#2a2a2a" stroke-width="0.9"/>
<text x="291" y="88.23" font-size="6.2" text-anchor="end" fill="#333" stroke="#333" stroke-width="0.08">30</text>
<line x1="293.8" y1="72.56" x2="296.2" y2="72.56" stroke="#2a2a2a" stroke-width="0.9"/>
<text x="291" y="74.76" font-size="6.2" text-anchor="end" fill="#333" stroke="#333" stroke-width="0.08">60</text>
<line x1="293.8" y1="59.09" x2="296.2" y2="59.09" stroke="#2a2a2a" stroke-width="0.9"/>
<text x="291" y="61.29" font-size="6.2" text-anchor="end" fill="#333" stroke="#333" stroke-width="0.08">90</text>
<line x1="293.8" y1="45.62" x2="296.2" y2="45.62" stroke="#2a2a2a" stroke-width="0.9"/>
<text x="291" y="47.82" font-size="6.2" text-anchor="end" fill="#333" stroke="#333" stroke-width="0.08">120</text>
<line x1="296.2" y1="99.5" x2="352.7" y2="99.5" stroke="#2a2a2a" stroke-width="1.1"/>
<line x1="296.2" y1="99.5" x2="296.2" y2="101.7" stroke="#2a2a2a" stroke-width="0.9"/>
<text x="296.2" y="110.6" font-size="6.2" text-anchor="middle" fill="#333" stroke="#333" stroke-width="0.08">1</text>
<line x1="319.5" y1="99.5" x2="319.5" y2="101.7" stroke="#2a2a2a" stroke-width="0.9"/>
<text x="319.5" y="110.6" font-size="6.2" text-anchor="middle" fill="#333" stroke="#333" stroke-width="0.08">10</text>
<line x1="342.8" y1="99.5" x2="342.8" y2="101.7" stroke="#2a2a2a" stroke-width="0.9"/>
<text x="342.8" y="110.6" font-size="6.2" text-anchor="middle" fill="#333" stroke="#333" stroke-width="0.08">100</text>
<text x="324.2" y="121.6" font-size="7.9" text-anchor="middle" stroke="#222" stroke-width="0.08" textLength="32.4" lengthAdjust="spacingAndGlyphs" class="b">S63845 (nM)</text>
<text x="274.5" y="70.9" font-size="7.6" text-anchor="middle" stroke="#222" stroke-width="0.08" textLength="36.4" lengthAdjust="spacingAndGlyphs" transform="rotate(-90 274.5 70.9)" class="b">% Cell viability</text>
<text x="347.7" y="36.4" font-size="6.2" fill="#2a2a2a" stroke="#2a2a2a" stroke-width="0.08" textLength="15.4" lengthAdjust="spacingAndGlyphs">Strain</text>
<text x="378.8" y="32.9" font-size="6.2" text-anchor="middle" fill="#2a2a2a" stroke="#2a2a2a" stroke-width="0.08" textLength="13.3" lengthAdjust="spacingAndGlyphs">IC50</text>
<text x="378.8" y="39.8" font-size="6.2" text-anchor="middle" fill="#2a2a2a" stroke="#2a2a2a" stroke-width="0.08" textLength="11.5" lengthAdjust="spacingAndGlyphs">(nM)</text>
<line x1="345" y1="41.9" x2="385.8" y2="41.9" stroke="#333" stroke-width="1.1"/>
<line x1="345" y1="46.8" x2="352.5" y2="46.8" stroke="#5a3418" stroke-width="1"/>
<circle cx="348.75" cy="46.8" r="0.9" fill="#5a3418"/>
<text x="355.6" y="48.8" font-size="6" fill="#2a2a2a" stroke="#2a2a2a" stroke-width="0.08" textLength="8.4" lengthAdjust="spacingAndGlyphs">Par</text>
<text x="385.5" y="48.8" font-size="6" text-anchor="end" fill="#2a2a2a" stroke="#2a2a2a" stroke-width="0.08" textLength="14.8" lengthAdjust="spacingAndGlyphs">21.06</text>
<line x1="345" y1="52.6" x2="352.5" y2="52.6" stroke="#8e5e34" stroke-width="1"/>
<circle cx="348.75" cy="52.6" r="0.9" fill="#8e5e34"/>
<text x="355.6" y="54.6" font-size="6" fill="#2a2a2a" stroke="#2a2a2a" stroke-width="0.08" textLength="10.2" lengthAdjust="spacingAndGlyphs">27A</text>
<text x="385.5" y="54.6" font-size="6" text-anchor="end" fill="#2a2a2a" stroke="#2a2a2a" stroke-width="0.08" textLength="14.8" lengthAdjust="spacingAndGlyphs">668.4</text>
<line x1="345" y1="58.4" x2="352.5" y2="58.4" stroke="#dcb690" stroke-width="1"/>
<circle cx="348.75" cy="58.4" r="0.9" fill="#dcb690"/>
<text x="355.6" y="60.4" font-size="6" fill="#2a2a2a" stroke="#2a2a2a" stroke-width="0.08" textLength="10.2" lengthAdjust="spacingAndGlyphs">27B</text>
<text x="385.5" y="60.4" font-size="6" text-anchor="end" fill="#2a2a2a" stroke="#2a2a2a" stroke-width="0.08" textLength="14.8" lengthAdjust="spacingAndGlyphs">936.2</text>
<path d="M426.5 54.6 L427.4 54.6 L428.3 54.6 L429.2 54.6 L430.1 54.6 L431 54.6 L431.9 54.6 L432.8 54.6 L433.7 54.6 L434.6 54.6 L435.5 54.6 L436.4 54.6 L437.3 54.6 L438.2 54.6 L439.1 54.6 L440 54.6 L440.9 54.6 L441.8 54.6 L442.7 54.6 L443.6 54.6 L444.5 54.61 L445.4 54.61 L446.3 54.62 L447.2 54.63 L448.1 54.64 L449 54.67 L449.9 54.71 L450.8 54.78 L451.7 54.88 L452.6 55.04 L453.5 55.29 L454.4 55.69 L455.3 56.3 L456.2 57.23 L457.1 58.63 L458 60.67 L458.9 63.51 L459.8 67.26 L460.7 71.82 L461.6 76.89 L462.5 81.98 L463.4 86.58 L464.3 90.38 L465.2 93.28 L466.1 95.37 L467 96.8 L467.9 97.76 L468.8 98.38 L469.7 98.79 L470.6 99.05 L471.5 99.21 L472.4 99.32 L473.3 99.39 L474.2 99.43 L475.1 99.45 L476 99.47 L476.9 99.48 L477.8 99.49 L478.7 99.49 L479.6 99.5 L480.5 99.5" stroke="#dcb690" stroke-width="0.9" fill="none"/>
<path d="M426.5 54.6 L427.4 54.6 L428.3 54.6 L429.2 54.6 L430.1 54.6 L431 54.6 L431.9 54.6 L432.8 54.6 L433.7 54.6 L434.6 54.6 L435.5 54.6 L436.4 54.6 L437.3 54.6 L438.2 54.6 L439.1 54.6 L440 54.6 L440.9 54.6 L441.8 54.6 L442.7 54.61 L443.6 54.61 L444.5 54.61 L445.4 54.62 L446.3 54.63 L447.2 54.65 L448.1 54.69 L449 54.74 L449.9 54.82 L450.8 54.94 L451.7 55.14 L452.6 55.45 L453.5 55.93 L454.4 56.67 L455.3 57.8 L456.2 59.46 L457.1 61.85 L458 65.1 L458.9 69.24 L459.8 74.08 L460.7 79.23 L461.6 84.15 L462.5 88.42 L463.4 91.81 L464.3 94.32 L465.2 96.09 L466.1 97.28 L467 98.08 L467.9 98.59 L468.8 98.92 L469.7 99.13 L470.6 99.27 L471.5 99.35 L472.4 99.41 L473.3 99.44 L474.2 99.46 L475.1 99.48 L476 99.49 L476.9 99.49 L477.8 99.49 L478.7 99.5 L479.6 99.5 L480.5 99.5" stroke="#8e5e34" stroke-width="1" fill="none"/>
<path d="M426.5 54.6 L427.4 54.6 L428.3 54.6 L429.2 54.6 L430.1 54.6 L431 54.6 L431.9 54.61 L432.8 54.61 L433.7 54.62 L434.6 54.62 L435.5 54.64 L436.4 54.65 L437.3 54.68 L438.2 54.72 L439.1 54.78 L440 54.86 L440.9 54.99 L441.8 55.18 L442.7 55.46 L443.6 55.87 L444.5 56.47 L445.4 57.33 L446.3 58.55 L447.2 60.24 L448.1 62.52 L449 65.47 L449.9 69.08 L450.8 73.23 L451.7 77.68 L452.6 82.07 L453.5 86.09 L454.4 89.53 L455.3 92.28 L456.2 94.39 L457.1 95.94 L458 97.04 L458.9 97.82 L459.8 98.36 L460.7 98.73 L461.6 98.98 L462.5 99.15 L463.4 99.26 L464.3 99.34 L465.2 99.39 L466.1 99.43 L467 99.45 L467.9 99.47 L468.8 99.48 L469.7 99.49 L470.6 99.49 L471.5 99.49 L472.4 99.5 L473.3 99.5 L474.2 99.5 L475.1 99.5 L476 99.5 L476.9 99.5 L477.8 99.5 L478.7 99.5 L479.6 99.5 L480.5 99.5" stroke="#5a3418" stroke-width="1" fill="none"/>
<line x1="440" y1="51.05" x2="440" y2="59.05" stroke="#8e5e34" stroke-width="0.6"/>
<line x1="439" y1="51.05" x2="441" y2="51.05" stroke="#8e5e34" stroke-width="0.5"/>
<line x1="439" y1="59.05" x2="441" y2="59.05" stroke="#8e5e34" stroke-width="0.5"/>
<circle cx="440" cy="55.05" r="0.9" fill="#8e5e34"/>
<line x1="440" y1="52.95" x2="440" y2="58.95" stroke="#5a3418" stroke-width="0.6"/>
<line x1="439" y1="52.95" x2="441" y2="52.95" stroke="#5a3418" stroke-width="0.5"/>
<line x1="439" y1="58.95" x2="441" y2="58.95" stroke="#5a3418" stroke-width="0.5"/>
<circle cx="440" cy="55.95" r="0.9" fill="#5a3418"/>
<line x1="453.5" y1="56.19" x2="453.5" y2="60.19" stroke="#8e5e34" stroke-width="0.6"/>
<line x1="452.5" y1="56.19" x2="454.5" y2="56.19" stroke="#8e5e34" stroke-width="0.5"/>
<line x1="452.5" y1="60.19" x2="454.5" y2="60.19" stroke="#8e5e34" stroke-width="0.5"/>
<circle cx="453.5" cy="58.19" r="0.9" fill="#8e5e34"/>
<line x1="453.5" y1="81.34" x2="453.5" y2="85.34" stroke="#5a3418" stroke-width="0.6"/>
<line x1="452.5" y1="81.34" x2="454.5" y2="81.34" stroke="#5a3418" stroke-width="0.5"/>
<line x1="452.5" y1="85.34" x2="454.5" y2="85.34" stroke="#5a3418" stroke-width="0.5"/>
<circle cx="453.5" cy="83.34" r="0.9" fill="#5a3418"/>
<line x1="467" y1="95.81" x2="467" y2="97.81" stroke="#8e5e34" stroke-width="0.6"/>
<line x1="466" y1="95.81" x2="468" y2="95.81" stroke="#8e5e34" stroke-width="0.5"/>
<line x1="466" y1="97.81" x2="468" y2="97.81" stroke="#8e5e34" stroke-width="0.5"/>
<circle cx="467" cy="96.81" r="0.9" fill="#8e5e34"/>
<line x1="467" y1="98.05" x2="467" y2="100.05" stroke="#5a3418" stroke-width="0.6"/>
<line x1="466" y1="98.05" x2="468" y2="98.05" stroke="#5a3418" stroke-width="0.5"/>
<line x1="466" y1="100.05" x2="468" y2="100.05" stroke="#5a3418" stroke-width="0.5"/>
<circle cx="467" cy="99.05" r="0.9" fill="#5a3418"/>
<line x1="426.5" y1="43.3" x2="426.5" y2="100" stroke="#2a2a2a" stroke-width="1.1"/>
<line x1="424.1" y1="99.5" x2="426.5" y2="99.5" stroke="#2a2a2a" stroke-width="0.9"/>
<text x="421.3" y="101.7" font-size="6.2" text-anchor="end" fill="#333" stroke="#333" stroke-width="0.08">0</text>
<line x1="424.1" y1="86.03" x2="426.5" y2="86.03" stroke="#2a2a2a" stroke-width="0.9"/>
<text x="421.3" y="88.23" font-size="6.2" text-anchor="end" fill="#333" stroke="#333" stroke-width="0.08">30</text>
<line x1="424.1" y1="72.56" x2="426.5" y2="72.56" stroke="#2a2a2a" stroke-width="0.9"/>
<text x="421.3" y="74.76" font-size="6.2" text-anchor="end" fill="#333" stroke="#333" stroke-width="0.08">60</text>
<line x1="424.1" y1="59.09" x2="426.5" y2="59.09" stroke="#2a2a2a" stroke-width="0.9"/>
<text x="421.3" y="61.29" font-size="6.2" text-anchor="end" fill="#333" stroke="#333" stroke-width="0.08">90</text>
<line x1="424.1" y1="45.62" x2="426.5" y2="45.62" stroke="#2a2a2a" stroke-width="0.9"/>
<text x="421.3" y="47.82" font-size="6.2" text-anchor="end" fill="#333" stroke="#333" stroke-width="0.08">120</text>
<line x1="426.5" y1="99.5" x2="482" y2="99.5" stroke="#2a2a2a" stroke-width="1.1"/>
<line x1="426.5" y1="99.5" x2="426.5" y2="101.7" stroke="#2a2a2a" stroke-width="0.9"/>
<text x="428.8" y="107.3" font-size="6.5" text-anchor="end" fill="#333" stroke="#333" stroke-width="0.08" transform="rotate(-45 428.8 107.3)">1</text>
<line x1="440" y1="99.5" x2="440" y2="101.7" stroke="#2a2a2a" stroke-width="0.9"/>
<text x="442.3" y="107.3" font-size="6.5" text-anchor="end" fill="#333" stroke="#333" stroke-width="0.08" transform="rotate(-45 442.3 107.3)">10</text>
<line x1="453.5" y1="99.5" x2="453.5" y2="101.7" stroke="#2a2a2a" stroke-width="0.9"/>
<text x="455.8" y="107.3" font-size="6.5" text-anchor="end" fill="#333" stroke="#333" stroke-width="0.08" transform="rotate(-45 455.8 107.3)">100</text>
<line x1="467" y1="99.5" x2="467" y2="101.7" stroke="#2a2a2a" stroke-width="0.9"/>
<text x="469.3" y="107.3" font-size="6.5" text-anchor="end" fill="#333" stroke="#333" stroke-width="0.08" transform="rotate(-45 469.3 107.3)">1000</text>
<line x1="480.5" y1="99.5" x2="480.5" y2="101.7" stroke="#2a2a2a" stroke-width="0.9"/>
<text x="482.8" y="107.3" font-size="6.5" text-anchor="end" fill="#333" stroke="#333" stroke-width="0.08" transform="rotate(-45 482.8 107.3)">10000</text>
<text x="454.5" y="131.3" font-size="7.9" text-anchor="middle" stroke="#222" stroke-width="0.08" textLength="36" lengthAdjust="spacingAndGlyphs" class="b">AZD5991 (nM)</text>
<text x="404.6" y="70.9" font-size="7.6" text-anchor="middle" stroke="#222" stroke-width="0.08" textLength="35.8" lengthAdjust="spacingAndGlyphs" transform="rotate(-90 404.6 70.9)" class="b">% Cell viability</text>
<text x="460.8" y="36.7" font-size="6.2" fill="#2a2a2a" stroke="#2a2a2a" stroke-width="0.08" textLength="15.4" lengthAdjust="spacingAndGlyphs">Strain</text>
<text x="492.1" y="32.9" font-size="6.2" text-anchor="middle" fill="#2a2a2a" stroke="#2a2a2a" stroke-width="0.08" textLength="13.3" lengthAdjust="spacingAndGlyphs">IC50</text>
<text x="492.1" y="39.8" font-size="6.2" text-anchor="middle" fill="#2a2a2a" stroke="#2a2a2a" stroke-width="0.08" textLength="11.5" lengthAdjust="spacingAndGlyphs">(nM)</text>
<line x1="458.2" y1="41.9" x2="498.8" y2="41.9" stroke="#333" stroke-width="1.1"/>
<line x1="458.2" y1="46.8" x2="466" y2="46.8" stroke="#5a3418" stroke-width="1"/>
<circle cx="462.1" cy="46.8" r="0.9" fill="#5a3418"/>
<text x="469" y="48.8" font-size="6" fill="#2a2a2a" stroke="#2a2a2a" stroke-width="0.08" textLength="8.4" lengthAdjust="spacingAndGlyphs">Par</text>
<text x="498.8" y="48.8" font-size="6" text-anchor="end" fill="#2a2a2a" stroke="#2a2a2a" stroke-width="0.08" textLength="14.8" lengthAdjust="spacingAndGlyphs">73.06</text>
<line x1="458.2" y1="52.6" x2="466" y2="52.6" stroke="#8e5e34" stroke-width="1"/>
<circle cx="462.1" cy="52.6" r="0.9" fill="#8e5e34"/>
<text x="469" y="54.6" font-size="6" fill="#2a2a2a" stroke="#2a2a2a" stroke-width="0.08" textLength="10.2" lengthAdjust="spacingAndGlyphs">27A</text>
<text x="498.8" y="54.6" font-size="6" text-anchor="end" fill="#2a2a2a" stroke="#2a2a2a" stroke-width="0.08" textLength="14.8" lengthAdjust="spacingAndGlyphs">305.6</text>
<line x1="458.2" y1="58.4" x2="466" y2="58.4" stroke="#dcb690" stroke-width="1"/>
<circle cx="462.1" cy="58.4" r="0.9" fill="#dcb690"/>
<text x="469" y="60.4" font-size="6" fill="#2a2a2a" stroke="#2a2a2a" stroke-width="0.08" textLength="10.2" lengthAdjust="spacingAndGlyphs">27B</text>
<text x="498.8" y="60.4" font-size="6" text-anchor="end" fill="#2a2a2a" stroke="#2a2a2a" stroke-width="0.08" textLength="14.8" lengthAdjust="spacingAndGlyphs">371.8</text>
<text x="56.9" y="156.5" font-size="7.8" stroke="#222" stroke-width="0.08" textLength="145.4" lengthAdjust="spacingAndGlyphs">Venetoclax combined with MCL1 inhibition</text>
<text x="42.8" y="170.8" font-size="7.85" textLength="74.9" lengthAdjust="spacingAndGlyphs"><tspan fill="#22694f">KMS-12PE 12A</tspan><tspan fill="#222">, 24hr</tspan></text>
<text x="160" y="170.8" font-size="7.85" textLength="66.9" lengthAdjust="spacingAndGlyphs"><tspan fill="#87582c">KMS-27 27B</tspan><tspan fill="#222">, 24hr</tspan></text>
<text x="56.6" y="288.3" font-size="7.8" stroke="#222" stroke-width="0.08" textLength="146.9" lengthAdjust="spacingAndGlyphs">Venetoclax combined with BCLXI inhibition</text>
<text x="43.1" y="299.6" font-size="7.85" textLength="75.4" lengthAdjust="spacingAndGlyphs"><tspan fill="#22694f">KMS-12PE 12A</tspan><tspan fill="#222">, 24hr</tspan></text>
<text x="160.2" y="299.4" font-size="7.85" textLength="65.5" lengthAdjust="spacingAndGlyphs"><tspan fill="#87582c">KMS-27 27B</tspan><tspan fill="#222">, 24hr</tspan></text>
<path d="M52.2 190.35 L66 204.45 L80.1 212.91 L94.2 217.14" stroke="#d8c6cc" stroke-width="0.9" fill="none"/>
<line x1="52.2" y1="187.35" x2="52.2" y2="193.35" stroke="#d8c6cc" stroke-width="0.6"/>
<line x1="51.2" y1="187.35" x2="53.2" y2="187.35" stroke="#d8c6cc" stroke-width="0.5"/>
<line x1="51.2" y1="193.35" x2="53.2" y2="193.35" stroke="#d8c6cc" stroke-width="0.5"/>
<circle cx="52.2" cy="190.35" r="1" fill="#d8c6cc"/>
<line x1="66" y1="202.45" x2="66" y2="206.45" stroke="#d8c6cc" stroke-width="0.6"/>
<line x1="65" y1="202.45" x2="67" y2="202.45" stroke="#d8c6cc" stroke-width="0.5"/>
<line x1="65" y1="206.45" x2="67" y2="206.45" stroke="#d8c6cc" stroke-width="0.5"/>
<circle cx="66" cy="204.45" r="1" fill="#d8c6cc"/>
<line x1="80.1" y1="210.91" x2="80.1" y2="214.91" stroke="#d8c6cc" stroke-width="0.6"/>
<line x1="79.1" y1="210.91" x2="81.1" y2="210.91" stroke="#d8c6cc" stroke-width="0.5"/>
<line x1="79.1" y1="214.91" x2="81.1" y2="214.91" stroke="#d8c6cc" stroke-width="0.5"/>
<circle cx="80.1" cy="212.91" r="1" fill="#d8c6cc"/>
<line x1="94.2" y1="215.14" x2="94.2" y2="219.14" stroke="#d8c6cc" stroke-width="0.6"/>
<line x1="93.2" y1="215.14" x2="95.2" y2="215.14" stroke="#d8c6cc" stroke-width="0.5"/>
<line x1="93.2" y1="219.14" x2="95.2" y2="219.14" stroke="#d8c6cc" stroke-width="0.5"/>
<circle cx="94.2" cy="217.14" r="1" fill="#d8c6cc"/>
<path d="M52.2 191.29 L66 211.5 L80.1 218.55 L94.2 220.9" stroke="#45a7c6" stroke-width="0.9" fill="none"/>
<line x1="52.2" y1="187.29" x2="52.2" y2="195.29" stroke="#45a7c6" stroke-width="0.6"/>
<line x1="51.2" y1="187.29" x2="53.2" y2="187.29" stroke="#45a7c6" stroke-width="0.5"/>
<line x1="51.2" y1="195.29" x2="53.2" y2="195.29" stroke="#45a7c6" stroke-width="0.5"/>
<circle cx="52.2" cy="191.29" r="1" fill="#45a7c6"/>
<line x1="66" y1="206.5" x2="66" y2="216.5" stroke="#45a7c6" stroke-width="0.6"/>
<line x1="65" y1="206.5" x2="67" y2="206.5" stroke="#45a7c6" stroke-width="0.5"/>
<line x1="65" y1="216.5" x2="67" y2="216.5" stroke="#45a7c6" stroke-width="0.5"/>
<circle cx="66" cy="211.5" r="1" fill="#45a7c6"/>
<line x1="80.1" y1="215.55" x2="80.1" y2="221.55" stroke="#45a7c6" stroke-width="0.6"/>
<line x1="79.1" y1="215.55" x2="81.1" y2="215.55" stroke="#45a7c6" stroke-width="0.5"/>
<line x1="79.1" y1="221.55" x2="81.1" y2="221.55" stroke="#45a7c6" stroke-width="0.5"/>
<circle cx="80.1" cy="218.55" r="1" fill="#45a7c6"/>
<line x1="94.2" y1="218.9" x2="94.2" y2="222.9" stroke="#45a7c6" stroke-width="0.6"/>
<line x1="93.2" y1="218.9" x2="95.2" y2="218.9" stroke="#45a7c6" stroke-width="0.5"/>
<line x1="93.2" y1="222.9" x2="95.2" y2="222.9" stroke="#45a7c6" stroke-width="0.5"/>
<circle cx="94.2" cy="220.9" r="1" fill="#45a7c6"/>
<path d="M52.2 191.76 L66 221.84 L80.1 228.89 L94.2 227.01" stroke="#9a8cbe" stroke-width="0.9" fill="none"/>
<line x1="52.2" y1="188.76" x2="52.2" y2="194.76" stroke="#9a8cbe" stroke-width="0.6"/>
<line x1="51.2" y1="188.76" x2="53.2" y2="188.76" stroke="#9a8cbe" stroke-width="0.5"/>
<line x1="51.2" y1="194.76" x2="53.2" y2="194.76" stroke="#9a8cbe" stroke-width="0.5"/>
<circle cx="52.2" cy="191.76" r="1" fill="#9a8cbe"/>
<line x1="66" y1="218.84" x2="66" y2="224.84" stroke="#9a8cbe" stroke-width="0.6"/>
<line x1="65" y1="218.84" x2="67" y2="218.84" stroke="#9a8cbe" stroke-width="0.5"/>
<line x1="65" y1="224.84" x2="67" y2="224.84" stroke="#9a8cbe" stroke-width="0.5"/>
<circle cx="66" cy="221.84" r="1" fill="#9a8cbe"/>
<line x1="80.1" y1="225.89" x2="80.1" y2="231.89" stroke="#9a8cbe" stroke-width="0.6"/>
<line x1="79.1" y1="225.89" x2="81.1" y2="225.89" stroke="#9a8cbe" stroke-width="0.5"/>
<line x1="79.1" y1="231.89" x2="81.1" y2="231.89" stroke="#9a8cbe" stroke-width="0.5"/>
<circle cx="80.1" cy="228.89" r="1" fill="#9a8cbe"/>
<line x1="94.2" y1="225.01" x2="94.2" y2="229.01" stroke="#9a8cbe" stroke-width="0.6"/>
<line x1="93.2" y1="225.01" x2="95.2" y2="225.01" stroke="#9a8cbe" stroke-width="0.5"/>
<line x1="93.2" y1="229.01" x2="95.2" y2="229.01" stroke="#9a8cbe" stroke-width="0.5"/>
<circle cx="94.2" cy="227.01" r="1" fill="#9a8cbe"/>
<path d="M52.2 197.4 L66 233.59 L80.1 233.59 L94.2 233.59" stroke="#1b2857" stroke-width="0.9" fill="none"/>
<line x1="52.2" y1="194.4" x2="52.2" y2="200.4" stroke="#1b2857" stroke-width="0.6"/>
<line x1="51.2" y1="194.4" x2="53.2" y2="194.4" stroke="#1b2857" stroke-width="0.5"/>
<line x1="51.2" y1="200.4" x2="53.2" y2="200.4" stroke="#1b2857" stroke-width="0.5"/>
<circle cx="52.2" cy="197.4" r="1" fill="#1b2857"/>
<line x1="66" y1="232.59" x2="66" y2="234.59" stroke="#1b2857" stroke-width="0.6"/>
<line x1="65" y1="232.59" x2="67" y2="232.59" stroke="#1b2857" stroke-width="0.5"/>
<line x1="65" y1="234.59" x2="67" y2="234.59" stroke="#1b2857" stroke-width="0.5"/>
<circle cx="66" cy="233.59" r="1" fill="#1b2857"/>
<line x1="80.1" y1="232.59" x2="80.1" y2="234.59" stroke="#1b2857" stroke-width="0.6"/>
<line x1="79.1" y1="232.59" x2="81.1" y2="232.59" stroke="#1b2857" stroke-width="0.5"/>
<line x1="79.1" y1="234.59" x2="81.1" y2="234.59" stroke="#1b2857" stroke-width="0.5"/>
<circle cx="80.1" cy="233.59" r="1" fill="#1b2857"/>
<line x1="94.2" y1="232.59" x2="94.2" y2="234.59" stroke="#1b2857" stroke-width="0.6"/>
<line x1="93.2" y1="232.59" x2="95.2" y2="232.59" stroke="#1b2857" stroke-width="0.5"/>
<line x1="93.2" y1="234.59" x2="95.2" y2="234.59" stroke="#1b2857" stroke-width="0.5"/>
<circle cx="94.2" cy="233.59" r="1" fill="#1b2857"/>
<text x="41.5" y="202.15" font-size="5.2" fill="#2a2a3a" stroke="#2a2a3a" stroke-width="0.08" textLength="11.25" lengthAdjust="spacingAndGlyphs">*****</text>
<text x="68.5" y="213.9" font-size="5.2" fill="#2a2a3a" stroke="#2a2a3a" stroke-width="0.08" textLength="9" lengthAdjust="spacingAndGlyphs">****</text>
<text x="68.5" y="224.24" font-size="5.2" fill="#2a2a3a" stroke="#2a2a3a" stroke-width="0.08" textLength="9" lengthAdjust="spacingAndGlyphs">****</text>
<text x="68.5" y="235.99" font-size="5.2" fill="#2a2a3a" stroke="#2a2a3a" stroke-width="0.08" textLength="9" lengthAdjust="spacingAndGlyphs">****</text>
<text x="82.5" y="220.95" font-size="5.2" fill="#2a2a3a" stroke="#2a2a3a" stroke-width="0.08" textLength="4.5" lengthAdjust="spacingAndGlyphs">**</text>
<text x="82.5" y="231.29" font-size="5.2" fill="#2a2a3a" stroke="#2a2a3a" stroke-width="0.08" textLength="9" lengthAdjust="spacingAndGlyphs">****</text>
<text x="82.5" y="235.99" font-size="5.2" fill="#2a2a3a" stroke="#2a2a3a" stroke-width="0.08" textLength="9" lengthAdjust="spacingAndGlyphs">****</text>
<text x="96.6" y="229.41" font-size="5.2" fill="#2a2a3a" stroke="#2a2a3a" stroke-width="0.08" textLength="9" lengthAdjust="spacingAndGlyphs">****</text>
<text x="96.6" y="235.99" font-size="5.2" fill="#2a2a3a" stroke="#2a2a3a" stroke-width="0.08" textLength="9" lengthAdjust="spacingAndGlyphs">****</text>
<line x1="44.75" y1="177" x2="44.75" y2="235.5" stroke="#2a2a2a" stroke-width="1.1"/>
<line x1="42.35" y1="235" x2="44.75" y2="235" stroke="#2a2a2a" stroke-width="0.9"/>
<text x="39.35" y="237.2" font-size="6.2" text-anchor="end" fill="#333" stroke="#333" stroke-width="0.08">0</text>
<line x1="42.35" y1="220.9" x2="44.75" y2="220.9" stroke="#2a2a2a" stroke-width="0.9"/>
<text x="39.35" y="223.1" font-size="6.2" text-anchor="end" fill="#333" stroke="#333" stroke-width="0.08">30</text>
<line x1="42.35" y1="206.8" x2="44.75" y2="206.8" stroke="#2a2a2a" stroke-width="0.9"/>
<text x="39.35" y="209" font-size="6.2" text-anchor="end" fill="#333" stroke="#333" stroke-width="0.08">60</text>
<line x1="42.35" y1="192.7" x2="44.75" y2="192.7" stroke="#2a2a2a" stroke-width="0.9"/>
<text x="39.35" y="194.9" font-size="6.2" text-anchor="end" fill="#333" stroke="#333" stroke-width="0.08">90</text>
<line x1="42.35" y1="178.6" x2="44.75" y2="178.6" stroke="#2a2a2a" stroke-width="0.9"/>
<text x="39.35" y="180.8" font-size="6.2" text-anchor="end" fill="#333" stroke="#333" stroke-width="0.08">120</text>
<line x1="44.75" y1="235" x2="101.9" y2="235" stroke="#2a2a2a" stroke-width="1.1"/>
<line x1="52.2" y1="235" x2="52.2" y2="237.2" stroke="#2a2a2a" stroke-width="0.9"/>
<text x="52.2" y="246.4" font-size="6.2" text-anchor="middle" fill="#333" stroke="#333" stroke-width="0.08">0</text>
<line x1="66" y1="235" x2="66" y2="237.2" stroke="#2a2a2a" stroke-width="0.9"/>
<text x="66" y="246.4" font-size="6.2" text-anchor="middle" fill="#333" stroke="#333" stroke-width="0.08">100</text>
<line x1="80.1" y1="235" x2="80.1" y2="237.2" stroke="#2a2a2a" stroke-width="0.9"/>
<text x="80.1" y="246.4" font-size="6.2" text-anchor="middle" fill="#333" stroke="#333" stroke-width="0.08">250</text>
<line x1="94.2" y1="235" x2="94.2" y2="237.2" stroke="#2a2a2a" stroke-width="0.9"/>
<text x="94.2" y="246.4" font-size="6.2" text-anchor="middle" fill="#333" stroke="#333" stroke-width="0.08">500</text>
<text x="22.2" y="205.9" font-size="7.6" text-anchor="middle" stroke="#222" stroke-width="0.08" textLength="35.8" lengthAdjust="spacingAndGlyphs" transform="rotate(-90 22.2 205.9)" class="b">% Cell viability</text>
<text x="72.7" y="181" font-size="6.1" fill="#333" stroke="#333" stroke-width="0.08" textLength="34.6" lengthAdjust="spacingAndGlyphs">S63845(nM)</text>
<line x1="89.5" y1="184.7" x2="94.3" y2="184.7" stroke="#d8c6cc" stroke-width="1"/>
<circle cx="91.9" cy="184.7" r="0.9" fill="#d8c6cc"/>
<text x="97.2" y="186.7" font-size="5.8" fill="#2a2a2a" stroke="#2a2a2a" stroke-width="0.08" textLength="3.35" lengthAdjust="spacingAndGlyphs">0</text>
<line x1="89.5" y1="190" x2="94.3" y2="190" stroke="#45a7c6" stroke-width="1"/>
<circle cx="91.9" cy="190" r="0.9" fill="#45a7c6"/>
<text x="97.2" y="192" font-size="5.8" fill="#2a2a2a" stroke="#2a2a2a" stroke-width="0.08" textLength="3.35" lengthAdjust="spacingAndGlyphs">5</text>
<line x1="89.5" y1="195.5" x2="94.3" y2="195.5" stroke="#9a8cbe" stroke-width="1"/>
<circle cx="91.9" cy="195.5" r="0.9" fill="#9a8cbe"/>
<text x="97.2" y="197.5" font-size="5.8" fill="#2a2a2a" stroke="#2a2a2a" stroke-width="0.08" textLength="6.7" lengthAdjust="spacingAndGlyphs">20</text>
<line x1="89.5" y1="200.8" x2="94.3" y2="200.8" stroke="#1b2857" stroke-width="1"/>
<circle cx="91.9" cy="200.8" r="0.9" fill="#1b2857"/>
<text x="97.2" y="202.8" font-size="5.8" fill="#2a2a2a" stroke="#2a2a2a" stroke-width="0.08" textLength="10.05" lengthAdjust="spacingAndGlyphs">100</text>
<text x="73.4" y="257" font-size="7.6" text-anchor="middle" stroke="#222" stroke-width="0.08" textLength="39.7" lengthAdjust="spacingAndGlyphs" class="b">Venetoclax (nM)</text>
<path d="M173.1 188.94 L187.25 187.06 L201.25 188 L215.4 189.88" stroke="#d8c6cc" stroke-width="0.9" fill="none"/>
<line x1="173.1" y1="183.94" x2="173.1" y2="193.94" stroke="#d8c6cc" stroke-width="0.6"/>
<line x1="172.1" y1="183.94" x2="174.1" y2="183.94" stroke="#d8c6cc" stroke-width="0.5"/>
<line x1="172.1" y1="193.94" x2="174.1" y2="193.94" stroke="#d8c6cc" stroke-width="0.5"/>
<circle cx="173.1" cy="188.94" r="1" fill="#d8c6cc"/>
<line x1="187.25" y1="183.06" x2="187.25" y2="191.06" stroke="#d8c6cc" stroke-width="0.6"/>
<line x1="186.25" y1="183.06" x2="188.25" y2="183.06" stroke="#d8c6cc" stroke-width="0.5"/>
<line x1="186.25" y1="191.06" x2="188.25" y2="191.06" stroke="#d8c6cc" stroke-width="0.5"/>
<circle cx="187.25" cy="187.06" r="1" fill="#d8c6cc"/>
<line x1="201.25" y1="185" x2="201.25" y2="191" stroke="#d8c6cc" stroke-width="0.6"/>
<line x1="200.25" y1="185" x2="202.25" y2="185" stroke="#d8c6cc" stroke-width="0.5"/>
<line x1="200.25" y1="191" x2="202.25" y2="191" stroke="#d8c6cc" stroke-width="0.5"/>
<circle cx="201.25" cy="188" r="1" fill="#d8c6cc"/>
<line x1="215.4" y1="186.88" x2="215.4" y2="192.88" stroke="#d8c6cc" stroke-width="0.6"/>
<line x1="214.4" y1="186.88" x2="216.4" y2="186.88" stroke="#d8c6cc" stroke-width="0.5"/>
<line x1="214.4" y1="192.88" x2="216.4" y2="192.88" stroke="#d8c6cc" stroke-width="0.5"/>
<circle cx="215.4" cy="189.88" r="1" fill="#d8c6cc"/>
<path d="M173.1 193.17 L187.25 187.53 L201.25 193.17 L215.4 196.93" stroke="#45a7c6" stroke-width="0.9" fill="none"/>
<line x1="173.1" y1="189.17" x2="173.1" y2="197.17" stroke="#45a7c6" stroke-width="0.6"/>
<line x1="172.1" y1="189.17" x2="174.1" y2="189.17" stroke="#45a7c6" stroke-width="0.5"/>
<line x1="172.1" y1="197.17" x2="174.1" y2="197.17" stroke="#45a7c6" stroke-width="0.5"/>
<circle cx="173.1" cy="193.17" r="1" fill="#45a7c6"/>
<line x1="187.25" y1="183.53" x2="187.25" y2="191.53" stroke="#45a7c6" stroke-width="0.6"/>
<line x1="186.25" y1="183.53" x2="188.25" y2="183.53" stroke="#45a7c6" stroke-width="0.5"/>
<line x1="186.25" y1="191.53" x2="188.25" y2="191.53" stroke="#45a7c6" stroke-width="0.5"/>
<circle cx="187.25" cy="187.53" r="1" fill="#45a7c6"/>
<line x1="201.25" y1="190.17" x2="201.25" y2="196.17" stroke="#45a7c6" stroke-width="0.6"/>
<line x1="200.25" y1="190.17" x2="202.25" y2="190.17" stroke="#45a7c6" stroke-width="0.5"/>
<line x1="200.25" y1="196.17" x2="202.25" y2="196.17" stroke="#45a7c6" stroke-width="0.5"/>
<circle cx="201.25" cy="193.17" r="1" fill="#45a7c6"/>
<line x1="215.4" y1="192.93" x2="215.4" y2="200.93" stroke="#45a7c6" stroke-width="0.6"/>
<line x1="214.4" y1="192.93" x2="216.4" y2="192.93" stroke="#45a7c6" stroke-width="0.5"/>
<line x1="214.4" y1="200.93" x2="216.4" y2="200.93" stroke="#45a7c6" stroke-width="0.5"/>
<circle cx="215.4" cy="196.93" r="1" fill="#45a7c6"/>
<path d="M173.1 193.17 L187.25 194.58 L201.25 204.45 L215.4 223.72" stroke="#9a8cbe" stroke-width="0.9" fill="none"/>
<line x1="173.1" y1="190.17" x2="173.1" y2="196.17" stroke="#9a8cbe" stroke-width="0.6"/>
<line x1="172.1" y1="190.17" x2="174.1" y2="190.17" stroke="#9a8cbe" stroke-width="0.5"/>
<line x1="172.1" y1="196.17" x2="174.1" y2="196.17" stroke="#9a8cbe" stroke-width="0.5"/>
<circle cx="173.1" cy="193.17" r="1" fill="#9a8cbe"/>
<line x1="187.25" y1="191.58" x2="187.25" y2="197.58" stroke="#9a8cbe" stroke-width="0.6"/>
<line x1="186.25" y1="191.58" x2="188.25" y2="191.58" stroke="#9a8cbe" stroke-width="0.5"/>
<line x1="186.25" y1="197.58" x2="188.25" y2="197.58" stroke="#9a8cbe" stroke-width="0.5"/>
<circle cx="187.25" cy="194.58" r="1" fill="#9a8cbe"/>
<line x1="201.25" y1="198.45" x2="201.25" y2="210.45" stroke="#9a8cbe" stroke-width="0.6"/>
<line x1="200.25" y1="198.45" x2="202.25" y2="198.45" stroke="#9a8cbe" stroke-width="0.5"/>
<line x1="200.25" y1="210.45" x2="202.25" y2="210.45" stroke="#9a8cbe" stroke-width="0.5"/>
<circle cx="201.25" cy="204.45" r="1" fill="#9a8cbe"/>
<line x1="215.4" y1="222.72" x2="215.4" y2="224.72" stroke="#9a8cbe" stroke-width="0.6"/>
<line x1="214.4" y1="222.72" x2="216.4" y2="222.72" stroke="#9a8cbe" stroke-width="0.5"/>
<line x1="214.4" y1="224.72" x2="216.4" y2="224.72" stroke="#9a8cbe" stroke-width="0.5"/>
<circle cx="215.4" cy="223.72" r="1" fill="#9a8cbe"/>
<path d="M173.1 203.98 L187.25 233.59 L201.25 234.53 L215.4 234.53" stroke="#1b2857" stroke-width="0.9" fill="none"/>
<line x1="173.1" y1="202.98" x2="173.1" y2="204.98" stroke="#1b2857" stroke-width="0.6"/>
<line x1="172.1" y1="202.98" x2="174.1" y2="202.98" stroke="#1b2857" stroke-width="0.5"/>
<line x1="172.1" y1="204.98" x2="174.1" y2="204.98" stroke="#1b2857" stroke-width="0.5"/>
<circle cx="173.1" cy="203.98" r="1" fill="#1b2857"/>
<line x1="187.25" y1="232.59" x2="187.25" y2="234.59" stroke="#1b2857" stroke-width="0.6"/>
<line x1="186.25" y1="232.59" x2="188.25" y2="232.59" stroke="#1b2857" stroke-width="0.5"/>
<line x1="186.25" y1="234.59" x2="188.25" y2="234.59" stroke="#1b2857" stroke-width="0.5"/>
<circle cx="187.25" cy="233.59" r="1" fill="#1b2857"/>
<line x1="201.25" y1="233.53" x2="201.25" y2="235.53" stroke="#1b2857" stroke-width="0.6"/>
<line x1="200.25" y1="233.53" x2="202.25" y2="233.53" stroke="#1b2857" stroke-width="0.5"/>
<line x1="200.25" y1="235.53" x2="202.25" y2="235.53" stroke="#1b2857" stroke-width="0.5"/>
<circle cx="201.25" cy="234.53" r="1" fill="#1b2857"/>
<line x1="215.4" y1="233.53" x2="215.4" y2="235.53" stroke="#1b2857" stroke-width="0.6"/>
<line x1="214.4" y1="233.53" x2="216.4" y2="233.53" stroke="#1b2857" stroke-width="0.5"/>
<line x1="214.4" y1="235.53" x2="216.4" y2="235.53" stroke="#1b2857" stroke-width="0.5"/>
<circle cx="215.4" cy="234.53" r="1" fill="#1b2857"/>
<text x="175.3" y="206.38" font-size="5.2" fill="#2a2a3a" stroke="#2a2a3a" stroke-width="0.08" textLength="9" lengthAdjust="spacingAndGlyphs">****</text>
<text x="189.5" y="196.98" font-size="5.2" fill="#2a2a3a" stroke="#2a2a3a" stroke-width="0.08" textLength="4.5" lengthAdjust="spacingAndGlyphs">**</text>
<text x="203.3" y="195.1" font-size="5.2" fill="#2a2a3a" stroke="#2a2a3a" stroke-width="0.08" textLength="2.25" lengthAdjust="spacingAndGlyphs">*</text>
<text x="203.3" y="206.85" font-size="5.2" fill="#2a2a3a" stroke="#2a2a3a" stroke-width="0.08" textLength="9" lengthAdjust="spacingAndGlyphs">****</text>
<text x="213" y="199.33" font-size="5.2" fill="#2a2a3a" stroke="#2a2a3a" stroke-width="0.08" textLength="4.5" lengthAdjust="spacingAndGlyphs">**</text>
<text x="217.6" y="226.12" font-size="5.2" fill="#2a2a3a" stroke="#2a2a3a" stroke-width="0.08" textLength="9" lengthAdjust="spacingAndGlyphs">****</text>
<text x="189.5" y="235.52" font-size="5.2" fill="#2a2a3a" stroke="#2a2a3a" stroke-width="0.08" textLength="9" lengthAdjust="spacingAndGlyphs">****</text>
<text x="203.3" y="236.46" font-size="5.2" fill="#2a2a3a" stroke="#2a2a3a" stroke-width="0.08" textLength="9" lengthAdjust="spacingAndGlyphs">****</text>
<text x="217.6" y="236.46" font-size="5.2" fill="#2a2a3a" stroke="#2a2a3a" stroke-width="0.08" textLength="9" lengthAdjust="spacingAndGlyphs">****</text>
<line x1="166" y1="177" x2="166" y2="235.5" stroke="#2a2a2a" stroke-width="1.1"/>
<line x1="163.6" y1="235" x2="166" y2="235" stroke="#2a2a2a" stroke-width="0.9"/>
<text x="160.6" y="237.2" font-size="6.2" text-anchor="end" fill="#333" stroke="#333" stroke-width="0.08">0</text>
<line x1="163.6" y1="220.9" x2="166" y2="220.9" stroke="#2a2a2a" stroke-width="0.9"/>
<text x="160.6" y="223.1" font-size="6.2" text-anchor="end" fill="#333" stroke="#333" stroke-width="0.08">30</text>
<line x1="163.6" y1="206.8" x2="166" y2="206.8" stroke="#2a2a2a" stroke-width="0.9"/>
<text x="160.6" y="209" font-size="6.2" text-anchor="end" fill="#333" stroke="#333" stroke-width="0.08">60</text>
<line x1="163.6" y1="192.7" x2="166" y2="192.7" stroke="#2a2a2a" stroke-width="0.9"/>
<text x="160.6" y="194.9" font-size="6.2" text-anchor="end" fill="#333" stroke="#333" stroke-width="0.08">90</text>
<line x1="163.6" y1="178.6" x2="166" y2="178.6" stroke="#2a2a2a" stroke-width="0.9"/>
<text x="160.6" y="180.8" font-size="6.2" text-anchor="end" fill="#333" stroke="#333" stroke-width="0.08">120</text>
<line x1="166" y1="235" x2="222.9" y2="235" stroke="#2a2a2a" stroke-width="1.1"/>
<line x1="173.1" y1="235" x2="173.1" y2="237.2" stroke="#2a2a2a" stroke-width="0.9"/>
<text x="173.1" y="246.4" font-size="6.2" text-anchor="middle" fill="#333" stroke="#333" stroke-width="0.08">0</text>
<line x1="187.25" y1="235" x2="187.25" y2="237.2" stroke="#2a2a2a" stroke-width="0.9"/>
<text x="187.25" y="246.4" font-size="6.2" text-anchor="middle" fill="#333" stroke="#333" stroke-width="0.08">100</text>
<line x1="201.25" y1="235" x2="201.25" y2="237.2" stroke="#2a2a2a" stroke-width="0.9"/>
<text x="201.25" y="246.4" font-size="6.2" text-anchor="middle" fill="#333" stroke="#333" stroke-width="0.08">250</text>
<line x1="215.4" y1="235" x2="215.4" y2="237.2" stroke="#2a2a2a" stroke-width="0.9"/>
<text x="215.4" y="246.4" font-size="6.2" text-anchor="middle" fill="#333" stroke="#333" stroke-width="0.08">500</text>
<text x="144.2" y="205.9" font-size="7.6" text-anchor="middle" stroke="#222" stroke-width="0.08" textLength="35.8" lengthAdjust="spacingAndGlyphs" transform="rotate(-90 144.2 205.9)" class="b">% Cell viability</text>
<text x="217.4" y="180.8" font-size="6.1" fill="#333" stroke="#333" stroke-width="0.08" textLength="33.3" lengthAdjust="spacingAndGlyphs">S63845(nM)</text>
<line x1="233" y1="184.7" x2="238.2" y2="184.7" stroke="#d8c6cc" stroke-width="1"/>
<circle cx="235.6" cy="184.7" r="0.9" fill="#d8c6cc"/>
<text x="241.2" y="186.7" font-size="5.8" fill="#2a2a2a" stroke="#2a2a2a" stroke-width="0.08" textLength="3.35" lengthAdjust="spacingAndGlyphs">0</text>
<line x1="233" y1="190" x2="238.2" y2="190" stroke="#45a7c6" stroke-width="1"/>
<circle cx="235.6" cy="190" r="0.9" fill="#45a7c6"/>
<text x="241.2" y="192" font-size="5.8" fill="#2a2a2a" stroke="#2a2a2a" stroke-width="0.08" textLength="3.35" lengthAdjust="spacingAndGlyphs">5</text>
<line x1="233" y1="195.5" x2="238.2" y2="195.5" stroke="#9a8cbe" stroke-width="1"/>
<circle cx="235.6" cy="195.5" r="0.9" fill="#9a8cbe"/>
<text x="241.2" y="197.5" font-size="5.8" fill="#2a2a2a" stroke="#2a2a2a" stroke-width="0.08" textLength="6.7" lengthAdjust="spacingAndGlyphs">20</text>
<line x1="233" y1="200.8" x2="238.2" y2="200.8" stroke="#1b2857" stroke-width="1"/>
<circle cx="235.6" cy="200.8" r="0.9" fill="#1b2857"/>
<text x="241.2" y="202.8" font-size="5.8" fill="#2a2a2a" stroke="#2a2a2a" stroke-width="0.08" textLength="10.05" lengthAdjust="spacingAndGlyphs">100</text>
<text x="194.6" y="257" font-size="7.6" text-anchor="middle" stroke="#222" stroke-width="0.08" textLength="39.7" lengthAdjust="spacingAndGlyphs" class="b">Venetoclax (nM)</text>
<path d="M51.9 317 L65.8 340.5 L80 345.2 L94.2 346.61" stroke="#c9c9cd" stroke-width="0.9" fill="none"/>
<line x1="51.9" y1="311" x2="51.9" y2="323" stroke="#c9c9cd" stroke-width="0.6"/>
<line x1="50.9" y1="311" x2="52.9" y2="311" stroke="#c9c9cd" stroke-width="0.5"/>
<line x1="50.9" y1="323" x2="52.9" y2="323" stroke="#c9c9cd" stroke-width="0.5"/>
<circle cx="51.9" cy="317" r="1" fill="#c9c9cd"/>
<line x1="65.8" y1="338.5" x2="65.8" y2="342.5" stroke="#c9c9cd" stroke-width="0.6"/>
<line x1="64.8" y1="338.5" x2="66.8" y2="338.5" stroke="#c9c9cd" stroke-width="0.5"/>
<line x1="64.8" y1="342.5" x2="66.8" y2="342.5" stroke="#c9c9cd" stroke-width="0.5"/>
<circle cx="65.8" cy="340.5" r="1" fill="#c9c9cd"/>
<line x1="80" y1="343.2" x2="80" y2="347.2" stroke="#c9c9cd" stroke-width="0.6"/>
<line x1="79" y1="343.2" x2="81" y2="343.2" stroke="#c9c9cd" stroke-width="0.5"/>
<line x1="79" y1="347.2" x2="81" y2="347.2" stroke="#c9c9cd" stroke-width="0.5"/>
<circle cx="80" cy="345.2" r="1" fill="#c9c9cd"/>
<line x1="94.2" y1="344.61" x2="94.2" y2="348.61" stroke="#c9c9cd" stroke-width="0.6"/>
<line x1="93.2" y1="344.61" x2="95.2" y2="344.61" stroke="#c9c9cd" stroke-width="0.5"/>
<line x1="93.2" y1="348.61" x2="95.2" y2="348.61" stroke="#c9c9cd" stroke-width="0.5"/>
<circle cx="94.2" cy="346.61" r="1" fill="#c9c9cd"/>
<path d="M51.9 320.29 L65.8 353.66 L80 356.01 L94.2 356.01" stroke="#74b2e2" stroke-width="0.9" fill="none"/>
<line x1="51.9" y1="316.29" x2="51.9" y2="324.29" stroke="#74b2e2" stroke-width="0.6"/>
<line x1="50.9" y1="316.29" x2="52.9" y2="316.29" stroke="#74b2e2" stroke-width="0.5"/>
<line x1="50.9" y1="324.29" x2="52.9" y2="324.29" stroke="#74b2e2" stroke-width="0.5"/>
<circle cx="51.9" cy="320.29" r="1" fill="#74b2e2"/>
<line x1="65.8" y1="351.66" x2="65.8" y2="355.66" stroke="#74b2e2" stroke-width="0.6"/>
<line x1="64.8" y1="351.66" x2="66.8" y2="351.66" stroke="#74b2e2" stroke-width="0.5"/>
<line x1="64.8" y1="355.66" x2="66.8" y2="355.66" stroke="#74b2e2" stroke-width="0.5"/>
<circle cx="65.8" cy="353.66" r="1" fill="#74b2e2"/>
<line x1="80" y1="354.01" x2="80" y2="358.01" stroke="#74b2e2" stroke-width="0.6"/>
<line x1="79" y1="354.01" x2="81" y2="354.01" stroke="#74b2e2" stroke-width="0.5"/>
<line x1="79" y1="358.01" x2="81" y2="358.01" stroke="#74b2e2" stroke-width="0.5"/>
<circle cx="80" cy="356.01" r="1" fill="#74b2e2"/>
<line x1="94.2" y1="354.01" x2="94.2" y2="358.01" stroke="#74b2e2" stroke-width="0.6"/>
<line x1="93.2" y1="354.01" x2="95.2" y2="354.01" stroke="#74b2e2" stroke-width="0.5"/>
<line x1="93.2" y1="358.01" x2="95.2" y2="358.01" stroke="#74b2e2" stroke-width="0.5"/>
<circle cx="94.2" cy="356.01" r="1" fill="#74b2e2"/>
<path d="M51.9 322.64 L65.8 353.66 L80 356.95 L94.2 356.95" stroke="#5877be" stroke-width="0.9" fill="none"/>
<line x1="51.9" y1="319.64" x2="51.9" y2="325.64" stroke="#5877be" stroke-width="0.6"/>
<line x1="50.9" y1="319.64" x2="52.9" y2="319.64" stroke="#5877be" stroke-width="0.5"/>
<line x1="50.9" y1="325.64" x2="52.9" y2="325.64" stroke="#5877be" stroke-width="0.5"/>
<circle cx="51.9" cy="322.64" r="1" fill="#5877be"/>
<line x1="65.8" y1="351.66" x2="65.8" y2="355.66" stroke="#5877be" stroke-width="0.6"/>
<line x1="64.8" y1="351.66" x2="66.8" y2="351.66" stroke="#5877be" stroke-width="0.5"/>
<line x1="64.8" y1="355.66" x2="66.8" y2="355.66" stroke="#5877be" stroke-width="0.5"/>
<circle cx="65.8" cy="353.66" r="1" fill="#5877be"/>
<line x1="80" y1="354.95" x2="80" y2="358.95" stroke="#5877be" stroke-width="0.6"/>
<line x1="79" y1="354.95" x2="81" y2="354.95" stroke="#5877be" stroke-width="0.5"/>
<line x1="79" y1="358.95" x2="81" y2="358.95" stroke="#5877be" stroke-width="0.5"/>
<circle cx="80" cy="356.95" r="1" fill="#5877be"/>
<line x1="94.2" y1="354.95" x2="94.2" y2="358.95" stroke="#5877be" stroke-width="0.6"/>
<line x1="93.2" y1="354.95" x2="95.2" y2="354.95" stroke="#5877be" stroke-width="0.5"/>
<line x1="93.2" y1="358.95" x2="95.2" y2="358.95" stroke="#5877be" stroke-width="0.5"/>
<circle cx="94.2" cy="356.95" r="1" fill="#5877be"/>
<path d="M51.9 326.4 L65.8 353.19 L80 356.01 L94.2 356.48" stroke="#1b2857" stroke-width="0.9" fill="none"/>
<line x1="51.9" y1="323.4" x2="51.9" y2="329.4" stroke="#1b2857" stroke-width="0.6"/>
<line x1="50.9" y1="323.4" x2="52.9" y2="323.4" stroke="#1b2857" stroke-width="0.5"/>
<line x1="50.9" y1="329.4" x2="52.9" y2="329.4" stroke="#1b2857" stroke-width="0.5"/>
<circle cx="51.9" cy="326.4" r="1" fill="#1b2857"/>
<line x1="65.8" y1="351.19" x2="65.8" y2="355.19" stroke="#1b2857" stroke-width="0.6"/>
<line x1="64.8" y1="351.19" x2="66.8" y2="351.19" stroke="#1b2857" stroke-width="0.5"/>
<line x1="64.8" y1="355.19" x2="66.8" y2="355.19" stroke="#1b2857" stroke-width="0.5"/>
<circle cx="65.8" cy="353.19" r="1" fill="#1b2857"/>
<line x1="80" y1="354.01" x2="80" y2="358.01" stroke="#1b2857" stroke-width="0.6"/>
<line x1="79" y1="354.01" x2="81" y2="354.01" stroke="#1b2857" stroke-width="0.5"/>
<line x1="79" y1="358.01" x2="81" y2="358.01" stroke="#1b2857" stroke-width="0.5"/>
<circle cx="80" cy="356.01" r="1" fill="#1b2857"/>
<line x1="94.2" y1="354.48" x2="94.2" y2="358.48" stroke="#1b2857" stroke-width="0.6"/>
<line x1="93.2" y1="354.48" x2="95.2" y2="354.48" stroke="#1b2857" stroke-width="0.5"/>
<line x1="93.2" y1="358.48" x2="95.2" y2="358.48" stroke="#1b2857" stroke-width="0.5"/>
<circle cx="94.2" cy="356.48" r="1" fill="#1b2857"/>
<text x="41.5" y="332.09" font-size="5.2" fill="#2a2a3a" stroke="#2a2a3a" stroke-width="0.08" textLength="11.25" lengthAdjust="spacingAndGlyphs">*****</text>
<text x="68" y="352.77" font-size="5.2" fill="#2a2a3a" stroke="#2a2a3a" stroke-width="0.08" textLength="9" lengthAdjust="spacingAndGlyphs">****</text>
<text x="68" y="354.65" font-size="5.2" fill="#2a2a3a" stroke="#2a2a3a" stroke-width="0.08" textLength="9" lengthAdjust="spacingAndGlyphs">****</text>
<text x="68" y="356.53" font-size="5.2" fill="#2a2a3a" stroke="#2a2a3a" stroke-width="0.08" textLength="9" lengthAdjust="spacingAndGlyphs">****</text>
<text x="82.2" y="356.53" font-size="5.2" fill="#2a2a3a" stroke="#2a2a3a" stroke-width="0.08" textLength="9" lengthAdjust="spacingAndGlyphs">****</text>
<text x="82.2" y="357.94" font-size="5.2" fill="#2a2a3a" stroke="#2a2a3a" stroke-width="0.08" textLength="9" lengthAdjust="spacingAndGlyphs">****</text>
<text x="82.2" y="359.35" font-size="5.2" fill="#2a2a3a" stroke="#2a2a3a" stroke-width="0.08" textLength="9" lengthAdjust="spacingAndGlyphs">****</text>
<text x="96.4" y="356.53" font-size="5.2" fill="#2a2a3a" stroke="#2a2a3a" stroke-width="0.08" textLength="9" lengthAdjust="spacingAndGlyphs">****</text>
<text x="96.4" y="358.41" font-size="5.2" fill="#2a2a3a" stroke="#2a2a3a" stroke-width="0.08" textLength="9" lengthAdjust="spacingAndGlyphs">****</text>
<text x="96.4" y="359.82" font-size="5.2" fill="#2a2a3a" stroke="#2a2a3a" stroke-width="0.08" textLength="9" lengthAdjust="spacingAndGlyphs">****</text>
<line x1="44.75" y1="306" x2="44.75" y2="364.5" stroke="#2a2a2a" stroke-width="1.1"/>
<line x1="42.35" y1="364" x2="44.75" y2="364" stroke="#2a2a2a" stroke-width="0.9"/>
<text x="39.35" y="366.2" font-size="6.2" text-anchor="end" fill="#333" stroke="#333" stroke-width="0.08">0</text>
<line x1="42.35" y1="349.9" x2="44.75" y2="349.9" stroke="#2a2a2a" stroke-width="0.9"/>
<text x="39.35" y="352.1" font-size="6.2" text-anchor="end" fill="#333" stroke="#333" stroke-width="0.08">30</text>
<line x1="42.35" y1="335.8" x2="44.75" y2="335.8" stroke="#2a2a2a" stroke-width="0.9"/>
<text x="39.35" y="338" font-size="6.2" text-anchor="end" fill="#333" stroke="#333" stroke-width="0.08">60</text>
<line x1="42.35" y1="321.7" x2="44.75" y2="321.7" stroke="#2a2a2a" stroke-width="0.9"/>
<text x="39.35" y="323.9" font-size="6.2" text-anchor="end" fill="#333" stroke="#333" stroke-width="0.08">90</text>
<line x1="42.35" y1="307.6" x2="44.75" y2="307.6" stroke="#2a2a2a" stroke-width="0.9"/>
<text x="39.35" y="309.8" font-size="6.2" text-anchor="end" fill="#333" stroke="#333" stroke-width="0.08">120</text>
<line x1="44.75" y1="364" x2="101.2" y2="364" stroke="#2a2a2a" stroke-width="1.1"/>
<line x1="51.9" y1="364" x2="51.9" y2="366.2" stroke="#2a2a2a" stroke-width="0.9"/>
<text x="51.9" y="375.4" font-size="6.2" text-anchor="middle" fill="#333" stroke="#333" stroke-width="0.08">0</text>
<line x1="65.8" y1="364" x2="65.8" y2="366.2" stroke="#2a2a2a" stroke-width="0.9"/>
<text x="65.8" y="375.4" font-size="6.2" text-anchor="middle" fill="#333" stroke="#333" stroke-width="0.08">100</text>
<line x1="80" y1="364" x2="80" y2="366.2" stroke="#2a2a2a" stroke-width="0.9"/>
<text x="80" y="375.4" font-size="6.2" text-anchor="middle" fill="#333" stroke="#333" stroke-width="0.08">250</text>
<line x1="94.2" y1="364" x2="94.2" y2="366.2" stroke="#2a2a2a" stroke-width="0.9"/>
<text x="94.2" y="375.4" font-size="6.2" text-anchor="middle" fill="#333" stroke="#333" stroke-width="0.08">500</text>
<text x="22.2" y="334.7" font-size="7.6" text-anchor="middle" stroke="#222" stroke-width="0.08" textLength="35.8" lengthAdjust="spacingAndGlyphs" transform="rotate(-90 22.2 334.7)" class="b">% Cell viability</text>
<text x="72.9" y="310" font-size="6.1" fill="#333" stroke="#333" stroke-width="0.08" textLength="41" lengthAdjust="spacingAndGlyphs">A1155463(nM)</text>
<line x1="88.8" y1="313.3" x2="94.1" y2="313.3" stroke="#c9c9cd" stroke-width="1"/>
<circle cx="91.45" cy="313.3" r="0.9" fill="#c9c9cd"/>
<text x="96.7" y="315.3" font-size="5.8" fill="#2a2a2a" stroke="#2a2a2a" stroke-width="0.08" textLength="3.35" lengthAdjust="spacingAndGlyphs">0</text>
<line x1="88.8" y1="318.7" x2="94.1" y2="318.7" stroke="#74b2e2" stroke-width="1"/>
<circle cx="91.45" cy="318.7" r="0.9" fill="#74b2e2"/>
<text x="96.7" y="320.7" font-size="5.8" fill="#2a2a2a" stroke="#2a2a2a" stroke-width="0.08" textLength="3.35" lengthAdjust="spacingAndGlyphs">5</text>
<line x1="88.8" y1="324.2" x2="94.1" y2="324.2" stroke="#5877be" stroke-width="1"/>
<circle cx="91.45" cy="324.2" r="0.9" fill="#5877be"/>
<text x="96.7" y="326.2" font-size="5.8" fill="#2a2a2a" stroke="#2a2a2a" stroke-width="0.08" textLength="6.7" lengthAdjust="spacingAndGlyphs">20</text>
<line x1="88.8" y1="329.7" x2="94.1" y2="329.7" stroke="#1b2857" stroke-width="1"/>
<circle cx="91.45" cy="329.7" r="0.9" fill="#1b2857"/>
<text x="96.7" y="331.7" font-size="5.8" fill="#2a2a2a" stroke="#2a2a2a" stroke-width="0.08" textLength="10.05" lengthAdjust="spacingAndGlyphs">100</text>
<text x="73" y="386.3" font-size="7.6" text-anchor="middle" stroke="#222" stroke-width="0.08" textLength="40.4" lengthAdjust="spacingAndGlyphs" class="b">Venetoclax (nM)</text>
<path d="M173.1 316.8 L187.4 322.44 L201.5 327.14 L215.4 332.31" stroke="#c9c9cd" stroke-width="0.9" fill="none"/>
<line x1="173.1" y1="310.8" x2="173.1" y2="322.8" stroke="#c9c9cd" stroke-width="0.6"/>
<line x1="172.1" y1="310.8" x2="174.1" y2="310.8" stroke="#c9c9cd" stroke-width="0.5"/>
<line x1="172.1" y1="322.8" x2="174.1" y2="322.8" stroke="#c9c9cd" stroke-width="0.5"/>
<circle cx="173.1" cy="316.8" r="1" fill="#c9c9cd"/>
<line x1="187.4" y1="320.44" x2="187.4" y2="324.44" stroke="#c9c9cd" stroke-width="0.6"/>
<line x1="186.4" y1="320.44" x2="188.4" y2="320.44" stroke="#c9c9cd" stroke-width="0.5"/>
<line x1="186.4" y1="324.44" x2="188.4" y2="324.44" stroke="#c9c9cd" stroke-width="0.5"/>
<circle cx="187.4" cy="322.44" r="1" fill="#c9c9cd"/>
<line x1="201.5" y1="325.14" x2="201.5" y2="329.14" stroke="#c9c9cd" stroke-width="0.6"/>
<line x1="200.5" y1="325.14" x2="202.5" y2="325.14" stroke="#c9c9cd" stroke-width="0.5"/>
<line x1="200.5" y1="329.14" x2="202.5" y2="329.14" stroke="#c9c9cd" stroke-width="0.5"/>
<circle cx="201.5" cy="327.14" r="1" fill="#c9c9cd"/>
<line x1="215.4" y1="330.31" x2="215.4" y2="334.31" stroke="#c9c9cd" stroke-width="0.6"/>
<line x1="214.4" y1="330.31" x2="216.4" y2="330.31" stroke="#c9c9cd" stroke-width="0.5"/>
<line x1="214.4" y1="334.31" x2="216.4" y2="334.31" stroke="#c9c9cd" stroke-width="0.5"/>
<circle cx="215.4" cy="332.31" r="1" fill="#c9c9cd"/>
<path d="M173.1 321.03 L187.4 342.18 L201.5 346.88 L215.4 350.17" stroke="#74b2e2" stroke-width="0.9" fill="none"/>
<line x1="173.1" y1="318.03" x2="173.1" y2="324.03" stroke="#74b2e2" stroke-width="0.6"/>
<line x1="172.1" y1="318.03" x2="174.1" y2="318.03" stroke="#74b2e2" stroke-width="0.5"/>
<line x1="172.1" y1="324.03" x2="174.1" y2="324.03" stroke="#74b2e2" stroke-width="0.5"/>
<circle cx="173.1" cy="321.03" r="1" fill="#74b2e2"/>
<line x1="187.4" y1="340.18" x2="187.4" y2="344.18" stroke="#74b2e2" stroke-width="0.6"/>
<line x1="186.4" y1="340.18" x2="188.4" y2="340.18" stroke="#74b2e2" stroke-width="0.5"/>
<line x1="186.4" y1="344.18" x2="188.4" y2="344.18" stroke="#74b2e2" stroke-width="0.5"/>
<circle cx="187.4" cy="342.18" r="1" fill="#74b2e2"/>
<line x1="201.5" y1="344.88" x2="201.5" y2="348.88" stroke="#74b2e2" stroke-width="0.6"/>
<line x1="200.5" y1="344.88" x2="202.5" y2="344.88" stroke="#74b2e2" stroke-width="0.5"/>
<line x1="200.5" y1="348.88" x2="202.5" y2="348.88" stroke="#74b2e2" stroke-width="0.5"/>
<circle cx="201.5" cy="346.88" r="1" fill="#74b2e2"/>
<line x1="215.4" y1="348.17" x2="215.4" y2="352.17" stroke="#74b2e2" stroke-width="0.6"/>
<line x1="214.4" y1="348.17" x2="216.4" y2="348.17" stroke="#74b2e2" stroke-width="0.5"/>
<line x1="214.4" y1="352.17" x2="216.4" y2="352.17" stroke="#74b2e2" stroke-width="0.5"/>
<circle cx="215.4" cy="350.17" r="1" fill="#74b2e2"/>
<path d="M173.1 324.32 L187.4 348.76 L201.5 353.46 L215.4 356.28" stroke="#5877be" stroke-width="0.9" fill="none"/>
<line x1="173.1" y1="321.32" x2="173.1" y2="327.32" stroke="#5877be" stroke-width="0.6"/>
<line x1="172.1" y1="321.32" x2="174.1" y2="321.32" stroke="#5877be" stroke-width="0.5"/>
<line x1="172.1" y1="327.32" x2="174.1" y2="327.32" stroke="#5877be" stroke-width="0.5"/>
<circle cx="173.1" cy="324.32" r="1" fill="#5877be"/>
<line x1="187.4" y1="346.76" x2="187.4" y2="350.76" stroke="#5877be" stroke-width="0.6"/>
<line x1="186.4" y1="346.76" x2="188.4" y2="346.76" stroke="#5877be" stroke-width="0.5"/>
<line x1="186.4" y1="350.76" x2="188.4" y2="350.76" stroke="#5877be" stroke-width="0.5"/>
<circle cx="187.4" cy="348.76" r="1" fill="#5877be"/>
<line x1="201.5" y1="351.46" x2="201.5" y2="355.46" stroke="#5877be" stroke-width="0.6"/>
<line x1="200.5" y1="351.46" x2="202.5" y2="351.46" stroke="#5877be" stroke-width="0.5"/>
<line x1="200.5" y1="355.46" x2="202.5" y2="355.46" stroke="#5877be" stroke-width="0.5"/>
<circle cx="201.5" cy="353.46" r="1" fill="#5877be"/>
<line x1="215.4" y1="354.28" x2="215.4" y2="358.28" stroke="#5877be" stroke-width="0.6"/>
<line x1="214.4" y1="354.28" x2="216.4" y2="354.28" stroke="#5877be" stroke-width="0.5"/>
<line x1="214.4" y1="358.28" x2="216.4" y2="358.28" stroke="#5877be" stroke-width="0.5"/>
<circle cx="215.4" cy="356.28" r="1" fill="#5877be"/>
<path d="M173.1 333.72 L187.4 351.11 L201.5 355.34 L215.4 358.63" stroke="#1b2857" stroke-width="0.9" fill="none"/>
<line x1="173.1" y1="330.72" x2="173.1" y2="336.72" stroke="#1b2857" stroke-width="0.6"/>
<line x1="172.1" y1="330.72" x2="174.1" y2="330.72" stroke="#1b2857" stroke-width="0.5"/>
<line x1="172.1" y1="336.72" x2="174.1" y2="336.72" stroke="#1b2857" stroke-width="0.5"/>
<circle cx="173.1" cy="333.72" r="1" fill="#1b2857"/>
<line x1="187.4" y1="349.11" x2="187.4" y2="353.11" stroke="#1b2857" stroke-width="0.6"/>
<line x1="186.4" y1="349.11" x2="188.4" y2="349.11" stroke="#1b2857" stroke-width="0.5"/>
<line x1="186.4" y1="353.11" x2="188.4" y2="353.11" stroke="#1b2857" stroke-width="0.5"/>
<circle cx="187.4" cy="351.11" r="1" fill="#1b2857"/>
<line x1="201.5" y1="353.34" x2="201.5" y2="357.34" stroke="#1b2857" stroke-width="0.6"/>
<line x1="200.5" y1="353.34" x2="202.5" y2="353.34" stroke="#1b2857" stroke-width="0.5"/>
<line x1="200.5" y1="357.34" x2="202.5" y2="357.34" stroke="#1b2857" stroke-width="0.5"/>
<circle cx="201.5" cy="355.34" r="1" fill="#1b2857"/>
<line x1="215.4" y1="357.63" x2="215.4" y2="359.63" stroke="#1b2857" stroke-width="0.6"/>
<line x1="214.4" y1="357.63" x2="216.4" y2="357.63" stroke="#1b2857" stroke-width="0.5"/>
<line x1="214.4" y1="359.63" x2="216.4" y2="359.63" stroke="#1b2857" stroke-width="0.5"/>
<circle cx="215.4" cy="358.63" r="1" fill="#1b2857"/>
<text x="175.3" y="323.43" font-size="5.2" fill="#2a2a3a" stroke="#2a2a3a" stroke-width="0.08" textLength="6.75" lengthAdjust="spacingAndGlyphs">***</text>
<text x="175.3" y="326.72" font-size="5.2" fill="#2a2a3a" stroke="#2a2a3a" stroke-width="0.08" textLength="9" lengthAdjust="spacingAndGlyphs">****</text>
<text x="175.3" y="335.18" font-size="5.2" fill="#2a2a3a" stroke="#2a2a3a" stroke-width="0.08" textLength="9" lengthAdjust="spacingAndGlyphs">****</text>
<text x="175.3" y="337.06" font-size="5.2" fill="#2a2a3a" stroke="#2a2a3a" stroke-width="0.08" textLength="9" lengthAdjust="spacingAndGlyphs">****</text>
<text x="189.6" y="344.58" font-size="5.2" fill="#2a2a3a" stroke="#2a2a3a" stroke-width="0.08" textLength="9" lengthAdjust="spacingAndGlyphs">****</text>
<text x="189.6" y="351.16" font-size="5.2" fill="#2a2a3a" stroke="#2a2a3a" stroke-width="0.08" textLength="9" lengthAdjust="spacingAndGlyphs">****</text>
<text x="189.6" y="353.51" font-size="5.2" fill="#2a2a3a" stroke="#2a2a3a" stroke-width="0.08" textLength="9" lengthAdjust="spacingAndGlyphs">****</text>
<text x="203.7" y="349.28" font-size="5.2" fill="#2a2a3a" stroke="#2a2a3a" stroke-width="0.08" textLength="9" lengthAdjust="spacingAndGlyphs">****</text>
<text x="203.7" y="355.86" font-size="5.2" fill="#2a2a3a" stroke="#2a2a3a" stroke-width="0.08" textLength="9" lengthAdjust="spacingAndGlyphs">****</text>
<text x="203.7" y="357.74" font-size="5.2" fill="#2a2a3a" stroke="#2a2a3a" stroke-width="0.08" textLength="9" lengthAdjust="spacingAndGlyphs">****</text>
<text x="217.6" y="352.57" font-size="5.2" fill="#2a2a3a" stroke="#2a2a3a" stroke-width="0.08" textLength="9" lengthAdjust="spacingAndGlyphs">****</text>
<text x="217.6" y="358.68" font-size="5.2" fill="#2a2a3a" stroke="#2a2a3a" stroke-width="0.08" textLength="9" lengthAdjust="spacingAndGlyphs">****</text>
<text x="217.6" y="361.03" font-size="5.2" fill="#2a2a3a" stroke="#2a2a3a" stroke-width="0.08" textLength="9" lengthAdjust="spacingAndGlyphs">****</text>
<line x1="165.4" y1="306" x2="165.4" y2="364.3" stroke="#2a2a2a" stroke-width="1.1"/>
<line x1="163" y1="363.8" x2="165.4" y2="363.8" stroke="#2a2a2a" stroke-width="0.9"/>
<text x="160" y="366" font-size="6.2" text-anchor="end" fill="#333" stroke="#333" stroke-width="0.08">0</text>
<line x1="163" y1="349.7" x2="165.4" y2="349.7" stroke="#2a2a2a" stroke-width="0.9"/>
<text x="160" y="351.9" font-size="6.2" text-anchor="end" fill="#333" stroke="#333" stroke-width="0.08">30</text>
<line x1="163" y1="335.6" x2="165.4" y2="335.6" stroke="#2a2a2a" stroke-width="0.9"/>
<text x="160" y="337.8" font-size="6.2" text-anchor="end" fill="#333" stroke="#333" stroke-width="0.08">60</text>
<line x1="163" y1="321.5" x2="165.4" y2="321.5" stroke="#2a2a2a" stroke-width="0.9"/>
<text x="160" y="323.7" font-size="6.2" text-anchor="end" fill="#333" stroke="#333" stroke-width="0.08">90</text>
<line x1="163" y1="307.4" x2="165.4" y2="307.4" stroke="#2a2a2a" stroke-width="0.9"/>
<text x="160" y="309.6" font-size="6.2" text-anchor="end" fill="#333" stroke="#333" stroke-width="0.08">120</text>
<line x1="165.4" y1="363.8" x2="222.5" y2="363.8" stroke="#2a2a2a" stroke-width="1.1"/>
<line x1="173.1" y1="363.8" x2="173.1" y2="366" stroke="#2a2a2a" stroke-width="0.9"/>
<text x="173.1" y="375.2" font-size="6.2" text-anchor="middle" fill="#333" stroke="#333" stroke-width="0.08">0</text>
<line x1="187.4" y1="363.8" x2="187.4" y2="366" stroke="#2a2a2a" stroke-width="0.9"/>
<text x="187.4" y="375.2" font-size="6.2" text-anchor="middle" fill="#333" stroke="#333" stroke-width="0.08">100</text>
<line x1="201.5" y1="363.8" x2="201.5" y2="366" stroke="#2a2a2a" stroke-width="0.9"/>
<text x="201.5" y="375.2" font-size="6.2" text-anchor="middle" fill="#333" stroke="#333" stroke-width="0.08">250</text>
<line x1="215.4" y1="363.8" x2="215.4" y2="366" stroke="#2a2a2a" stroke-width="0.9"/>
<text x="215.4" y="375.2" font-size="6.2" text-anchor="middle" fill="#333" stroke="#333" stroke-width="0.08">500</text>
<text x="144.2" y="334.7" font-size="7.6" text-anchor="middle" stroke="#222" stroke-width="0.08" textLength="35.8" lengthAdjust="spacingAndGlyphs" transform="rotate(-90 144.2 334.7)" class="b">% Cell viability</text>
<text x="208.3" y="310" font-size="6.1" fill="#333" stroke="#333" stroke-width="0.08" textLength="40.9" lengthAdjust="spacingAndGlyphs">A1155463(nM)</text>
<line x1="224.1" y1="313.3" x2="229.8" y2="313.3" stroke="#c9c9cd" stroke-width="1"/>
<circle cx="226.95" cy="313.3" r="0.9" fill="#c9c9cd"/>
<text x="232.3" y="315.3" font-size="5.8" fill="#2a2a2a" stroke="#2a2a2a" stroke-width="0.08" textLength="3.35" lengthAdjust="spacingAndGlyphs">0</text>
<line x1="224.1" y1="318.7" x2="229.8" y2="318.7" stroke="#74b2e2" stroke-width="1"/>
<circle cx="226.95" cy="318.7" r="0.9" fill="#74b2e2"/>
<text x="232.3" y="320.7" font-size="5.8" fill="#2a2a2a" stroke="#2a2a2a" stroke-width="0.08" textLength="3.35" lengthAdjust="spacingAndGlyphs">5</text>
<line x1="224.1" y1="324.2" x2="229.8" y2="324.2" stroke="#5877be" stroke-width="1"/>
<circle cx="226.95" cy="324.2" r="0.9" fill="#5877be"/>
<text x="232.3" y="326.2" font-size="5.8" fill="#2a2a2a" stroke="#2a2a2a" stroke-width="0.08" textLength="6.7" lengthAdjust="spacingAndGlyphs">20</text>
<line x1="224.1" y1="329.7" x2="229.8" y2="329.7" stroke="#1b2857" stroke-width="1"/>
<circle cx="226.95" cy="329.7" r="0.9" fill="#1b2857"/>
<text x="232.3" y="331.7" font-size="5.8" fill="#2a2a2a" stroke="#2a2a2a" stroke-width="0.08" textLength="10.05" lengthAdjust="spacingAndGlyphs">100</text>
<text x="194" y="386.3" font-size="7.6" text-anchor="middle" stroke="#222" stroke-width="0.08" textLength="40.4" lengthAdjust="spacingAndGlyphs" class="b">Venetoclax (nM)</text>
<rect x="324.6" y="168.8" width="20.25" height="22.72" fill="#d6d6d6"/>
<text x="334.7" y="182.23" font-size="5.9" text-anchor="middle" fill="#333" stroke="#333" stroke-width="0.08" textLength="15.2" lengthAdjust="spacingAndGlyphs">0.559</text>
<rect x="344.8" y="168.8" width="20.25" height="22.72" fill="#f4f4f4"/>
<text x="354.9" y="182.23" font-size="5.9" text-anchor="middle" fill="#333" stroke="#333" stroke-width="0.08" textLength="15.2" lengthAdjust="spacingAndGlyphs">0.143</text>
<rect x="365" y="168.8" width="20.25" height="22.72" fill="#fefefe"/>
<text x="375.1" y="182.23" font-size="5.9" text-anchor="middle" fill="#333" stroke="#333" stroke-width="0.08" textLength="15.2" lengthAdjust="spacingAndGlyphs">0.009</text>
<rect x="385.2" y="168.8" width="20.25" height="22.72" fill="#fbfbfb"/>
<text x="395.3" y="182.23" font-size="5.9" text-anchor="middle" fill="#333" stroke="#333" stroke-width="0.08" textLength="15.2" lengthAdjust="spacingAndGlyphs">0.059</text>
<rect x="405.4" y="168.8" width="20.25" height="22.72" fill="#fcfcfc"/>
<text x="415.5" y="182.23" font-size="5.9" text-anchor="middle" fill="#333" stroke="#333" stroke-width="0.08" textLength="15.2" lengthAdjust="spacingAndGlyphs">0.038</text>
<rect x="425.6" y="168.8" width="20.25" height="22.72" fill="#fbfbfb"/>
<text x="435.7" y="182.23" font-size="5.9" text-anchor="middle" fill="#333" stroke="#333" stroke-width="0.08" textLength="15.2" lengthAdjust="spacingAndGlyphs">0.051</text>
<rect x="324.6" y="191.47" width="20.25" height="22.72" fill="#dddddd"/>
<text x="334.7" y="204.9" font-size="5.9" text-anchor="middle" fill="#333" stroke="#333" stroke-width="0.08" textLength="15.2" lengthAdjust="spacingAndGlyphs">0.463</text>
<rect x="344.8" y="191.47" width="20.25" height="22.72" fill="#fbfbfb"/>
<text x="354.9" y="204.9" font-size="5.9" text-anchor="middle" fill="#333" stroke="#333" stroke-width="0.08" textLength="15.2" lengthAdjust="spacingAndGlyphs">0.059</text>
<rect x="365" y="191.47" width="20.25" height="22.72" fill="#ffffff"/>
<text x="375.1" y="204.9" font-size="5.9" text-anchor="middle" fill="#333" stroke="#333" stroke-width="0.08" textLength="15.2" lengthAdjust="spacingAndGlyphs">0.002</text>
<rect x="385.2" y="191.47" width="20.25" height="22.72" fill="#fcfcfc"/>
<text x="395.3" y="204.9" font-size="5.9" text-anchor="middle" fill="#333" stroke="#333" stroke-width="0.08" textLength="15.2" lengthAdjust="spacingAndGlyphs">0.046</text>
<rect x="405.4" y="191.47" width="20.25" height="22.72" fill="#fdfdfd"/>
<text x="415.5" y="204.9" font-size="5.9" text-anchor="middle" fill="#333" stroke="#333" stroke-width="0.08" textLength="15.2" lengthAdjust="spacingAndGlyphs">0.031</text>
<rect x="425.6" y="191.47" width="20.25" height="22.72" fill="#fcfcfc"/>
<text x="435.7" y="204.9" font-size="5.9" text-anchor="middle" fill="#333" stroke="#333" stroke-width="0.08" textLength="15.2" lengthAdjust="spacingAndGlyphs">0.040</text>
<rect x="324.6" y="214.13" width="20.25" height="22.72" fill="#d1d1d1"/>
<text x="334.7" y="227.57" font-size="5.9" text-anchor="middle" fill="#333" stroke="#333" stroke-width="0.08" textLength="15.2" lengthAdjust="spacingAndGlyphs">0.621</text>
<rect x="344.8" y="214.13" width="20.25" height="22.72" fill="#f1f1f1"/>
<text x="354.9" y="227.57" font-size="5.9" text-anchor="middle" fill="#333" stroke="#333" stroke-width="0.08" textLength="15.2" lengthAdjust="spacingAndGlyphs">0.193</text>
<rect x="365" y="214.13" width="20.25" height="22.72" fill="#ffffff"/>
<text x="375.1" y="227.57" font-size="5.9" text-anchor="middle" fill="#333" stroke="#333" stroke-width="0.08" textLength="15.2" lengthAdjust="spacingAndGlyphs">0.002</text>
<rect x="385.2" y="214.13" width="20.25" height="22.72" fill="#f9f9f9"/>
<text x="395.3" y="227.57" font-size="5.9" text-anchor="middle" fill="#333" stroke="#333" stroke-width="0.08" textLength="15.2" lengthAdjust="spacingAndGlyphs">0.076</text>
<rect x="405.4" y="214.13" width="20.25" height="22.72" fill="#fcfcfc"/>
<text x="415.5" y="227.57" font-size="5.9" text-anchor="middle" fill="#333" stroke="#333" stroke-width="0.08" textLength="15.2" lengthAdjust="spacingAndGlyphs">0.038</text>
<rect x="425.6" y="214.13" width="20.25" height="22.72" fill="#fcfcfc"/>
<text x="435.7" y="227.57" font-size="5.9" text-anchor="middle" fill="#333" stroke="#333" stroke-width="0.08" textLength="15.2" lengthAdjust="spacingAndGlyphs">0.044</text>
<rect x="324.6" y="168.8" width="121.2" height="68" fill="none" stroke="#555" stroke-width="0.9"/>
<line x1="324.6" y1="168.5" x2="324.6" y2="237.3" stroke="#333" stroke-width="1.2"/>
<line x1="324.1" y1="236.8" x2="445.8" y2="236.8" stroke="#333" stroke-width="1.2"/>
<line x1="385.2" y1="170.3" x2="385.2" y2="236.8" stroke="#333" stroke-width="1"/>
<path d="M328.2 168.3 L328.2 164.7 L382.6 164.7 L382.6 168.3" stroke="#333" stroke-width="0.9" fill="none"/>
<path d="M388.2 168.3 L388.2 164.7 L443.5 164.7 L443.5 168.3" stroke="#333" stroke-width="0.9" fill="none"/>
<text x="355" y="161.6" font-size="6.2" text-anchor="middle" fill="#333" stroke="#333" stroke-width="0.08" textLength="22.4" lengthAdjust="spacingAndGlyphs">S63845</text>
<text x="415.2" y="161.6" font-size="6.2" text-anchor="middle" fill="#333" stroke="#333" stroke-width="0.08" textLength="28.9" lengthAdjust="spacingAndGlyphs">A1155463</text>
<text x="384.6" y="154.3" font-size="7.8" text-anchor="middle" fill="#22694f" stroke="#22694f" stroke-width="0.08" textLength="55.4" lengthAdjust="spacingAndGlyphs">KMS-12PE 12A</text>
<line x1="321" y1="180.13" x2="324.6" y2="180.13" stroke="#333" stroke-width="0.9"/>
<text x="319.4" y="182.33" font-size="6.2" text-anchor="end" fill="#333" stroke="#333" stroke-width="0.08">100</text>
<line x1="321" y1="202.8" x2="324.6" y2="202.8" stroke="#333" stroke-width="0.9"/>
<text x="319.4" y="205" font-size="6.2" text-anchor="end" fill="#333" stroke="#333" stroke-width="0.08">250</text>
<line x1="321" y1="225.47" x2="324.6" y2="225.47" stroke="#333" stroke-width="0.9"/>
<text x="319.4" y="227.67" font-size="6.2" text-anchor="end" fill="#333" stroke="#333" stroke-width="0.08">500</text>
<line x1="334.7" y1="236.8" x2="334.7" y2="239.6" stroke="#333" stroke-width="0.9"/>
<text x="334.7" y="248.8" font-size="6.2" text-anchor="middle" fill="#333" stroke="#333" stroke-width="0.08">5</text>
<line x1="354.9" y1="236.8" x2="354.9" y2="239.6" stroke="#333" stroke-width="0.9"/>
<text x="354.9" y="248.8" font-size="6.2" text-anchor="middle" fill="#333" stroke="#333" stroke-width="0.08">20</text>
<line x1="375.1" y1="236.8" x2="375.1" y2="239.6" stroke="#333" stroke-width="0.9"/>
<text x="375.1" y="248.8" font-size="6.2" text-anchor="middle" fill="#333" stroke="#333" stroke-width="0.08">100</text>
<line x1="395.3" y1="236.8" x2="395.3" y2="239.6" stroke="#333" stroke-width="0.9"/>
<text x="395.3" y="248.8" font-size="6.2" text-anchor="middle" fill="#333" stroke="#333" stroke-width="0.08">5</text>
<line x1="415.5" y1="236.8" x2="415.5" y2="239.6" stroke="#333" stroke-width="0.9"/>
<text x="415.5" y="248.8" font-size="6.2" text-anchor="middle" fill="#333" stroke="#333" stroke-width="0.08">20</text>
<line x1="435.7" y1="236.8" x2="435.7" y2="239.6" stroke="#333" stroke-width="0.9"/>
<text x="435.7" y="248.8" font-size="6.2" text-anchor="middle" fill="#333" stroke="#333" stroke-width="0.08">100</text>
<text x="355" y="259.6" font-size="6.8" text-anchor="middle" fill="#333" stroke="#333" stroke-width="0.08" textLength="11.4" lengthAdjust="spacingAndGlyphs" class="b">(nM)</text>
<text x="415.5" y="259.6" font-size="6.8" text-anchor="middle" fill="#333" stroke="#333" stroke-width="0.08" textLength="11.4" lengthAdjust="spacingAndGlyphs" class="b">(nM)</text>
<text x="303.3" y="203.5" font-size="7.6" text-anchor="middle" stroke="#222" stroke-width="0.08" textLength="40.2" lengthAdjust="spacingAndGlyphs" transform="rotate(-90 303.3 203.5)" class="b">Venetoclax (nM)</text>
<rect x="324.6" y="295.3" width="20.25" height="23.02" fill="#6b6b6b"/>
<text x="334.7" y="308.88" font-size="5.9" text-anchor="middle" fill="#fff" textLength="15.2" lengthAdjust="spacingAndGlyphs">2.000</text>
<rect x="344.8" y="295.3" width="20.25" height="23.02" fill="#b0b0b0"/>
<text x="354.9" y="308.88" font-size="5.9" text-anchor="middle" fill="#333" stroke="#333" stroke-width="0.08" textLength="15.2" lengthAdjust="spacingAndGlyphs">1.073</text>
<rect x="365" y="295.3" width="20.25" height="23.02" fill="#ffffff"/>
<text x="375.1" y="308.88" font-size="5.9" text-anchor="middle" fill="#333" stroke="#333" stroke-width="0.08" textLength="15.2" lengthAdjust="spacingAndGlyphs">0.001</text>
<rect x="385.2" y="295.3" width="20.25" height="23.02" fill="#f8f8f8"/>
<text x="395.3" y="308.88" font-size="5.9" text-anchor="middle" fill="#333" stroke="#333" stroke-width="0.08" textLength="15.2" lengthAdjust="spacingAndGlyphs">0.099</text>
<rect x="405.4" y="295.3" width="20.25" height="23.02" fill="#fafafa"/>
<text x="415.5" y="308.88" font-size="5.9" text-anchor="middle" fill="#333" stroke="#333" stroke-width="0.08" textLength="15.2" lengthAdjust="spacingAndGlyphs">0.065</text>
<rect x="425.6" y="295.3" width="20.25" height="23.02" fill="#f8f8f8"/>
<text x="435.7" y="308.88" font-size="5.9" text-anchor="middle" fill="#333" stroke="#333" stroke-width="0.08" textLength="15.2" lengthAdjust="spacingAndGlyphs">0.094</text>
<rect x="324.6" y="318.27" width="20.25" height="23.02" fill="#c8c8c8"/>
<text x="334.7" y="331.85" font-size="5.9" text-anchor="middle" fill="#333" stroke="#333" stroke-width="0.08" textLength="15.2" lengthAdjust="spacingAndGlyphs">0.745</text>
<rect x="344.8" y="318.27" width="20.25" height="23.02" fill="#f8f8f8"/>
<text x="354.9" y="331.85" font-size="5.9" text-anchor="middle" fill="#333" stroke="#333" stroke-width="0.08" textLength="15.2" lengthAdjust="spacingAndGlyphs">0.089</text>
<rect x="365" y="318.27" width="20.25" height="23.02" fill="#ffffff"/>
<text x="375.1" y="331.85" font-size="5.9" text-anchor="middle" fill="#333" stroke="#333" stroke-width="0.08" textLength="15.2" lengthAdjust="spacingAndGlyphs">0.001</text>
<rect x="385.2" y="318.27" width="20.25" height="23.02" fill="#f6f6f6"/>
<text x="395.3" y="331.85" font-size="5.9" text-anchor="middle" fill="#333" stroke="#333" stroke-width="0.08" textLength="15.2" lengthAdjust="spacingAndGlyphs">0.119</text>
<rect x="405.4" y="318.27" width="20.25" height="23.02" fill="#fafafa"/>
<text x="415.5" y="331.85" font-size="5.9" text-anchor="middle" fill="#333" stroke="#333" stroke-width="0.08" textLength="15.2" lengthAdjust="spacingAndGlyphs">0.065</text>
<rect x="425.6" y="318.27" width="20.25" height="23.02" fill="#fafafa"/>
<text x="435.7" y="331.85" font-size="5.9" text-anchor="middle" fill="#333" stroke="#333" stroke-width="0.08" textLength="15.2" lengthAdjust="spacingAndGlyphs">0.068</text>
<rect x="324.6" y="341.23" width="20.25" height="23.02" fill="#e3e3e3"/>
<text x="334.7" y="354.82" font-size="5.9" text-anchor="middle" fill="#333" stroke="#333" stroke-width="0.08" textLength="15.2" lengthAdjust="spacingAndGlyphs">0.374</text>
<rect x="344.8" y="341.23" width="20.25" height="23.02" fill="#fdfdfd"/>
<text x="354.9" y="354.82" font-size="5.9" text-anchor="middle" fill="#333" stroke="#333" stroke-width="0.08" textLength="15.2" lengthAdjust="spacingAndGlyphs">0.023</text>
<rect x="365" y="341.23" width="20.25" height="23.02" fill="#ffffff"/>
<text x="375.1" y="354.82" font-size="5.9" text-anchor="middle" fill="#333" stroke="#333" stroke-width="0.08" textLength="15.2" lengthAdjust="spacingAndGlyphs">0.001</text>
<rect x="385.2" y="341.23" width="20.25" height="23.02" fill="#f2f2f2"/>
<text x="395.3" y="354.82" font-size="5.9" text-anchor="middle" fill="#333" stroke="#333" stroke-width="0.08" textLength="15.2" lengthAdjust="spacingAndGlyphs">0.171</text>
<rect x="405.4" y="341.23" width="20.25" height="23.02" fill="#f9f9f9"/>
<text x="415.5" y="354.82" font-size="5.9" text-anchor="middle" fill="#333" stroke="#333" stroke-width="0.08" textLength="15.2" lengthAdjust="spacingAndGlyphs">0.077</text>
<rect x="425.6" y="341.23" width="20.25" height="23.02" fill="#fbfbfb"/>
<text x="435.7" y="354.82" font-size="5.9" text-anchor="middle" fill="#333" stroke="#333" stroke-width="0.08" textLength="15.2" lengthAdjust="spacingAndGlyphs">0.053</text>
<rect x="324.6" y="295.3" width="121.2" height="68.9" fill="none" stroke="#555" stroke-width="0.9"/>
<line x1="324.6" y1="295" x2="324.6" y2="364.7" stroke="#333" stroke-width="1.2"/>
<line x1="324.1" y1="364.2" x2="445.8" y2="364.2" stroke="#333" stroke-width="1.2"/>
<line x1="385.2" y1="296.8" x2="385.2" y2="364.2" stroke="#333" stroke-width="1"/>
<path d="M328.2 295.1 L328.2 291.5 L382.6 291.5 L382.6 295.1" stroke="#333" stroke-width="0.9" fill="none"/>
<path d="M388.2 295.1 L388.2 291.5 L443.5 291.5 L443.5 295.1" stroke="#333" stroke-width="0.9" fill="none"/>
<text x="355" y="287.8" font-size="6.2" text-anchor="middle" fill="#333" stroke="#333" stroke-width="0.08" textLength="22.4" lengthAdjust="spacingAndGlyphs">S63845</text>
<text x="415.2" y="287.8" font-size="6.2" text-anchor="middle" fill="#333" stroke="#333" stroke-width="0.08" textLength="28.9" lengthAdjust="spacingAndGlyphs">A1155463</text>
<text x="385" y="280.4" font-size="7.8" text-anchor="middle" fill="#87582c" stroke="#87582c" stroke-width="0.08" textLength="45.4" lengthAdjust="spacingAndGlyphs">KMS-27 27B</text>
<line x1="321" y1="306.78" x2="324.6" y2="306.78" stroke="#333" stroke-width="0.9"/>
<text x="319.4" y="308.98" font-size="6.2" text-anchor="end" fill="#333" stroke="#333" stroke-width="0.08">100</text>
<line x1="321" y1="329.75" x2="324.6" y2="329.75" stroke="#333" stroke-width="0.9"/>
<text x="319.4" y="331.95" font-size="6.2" text-anchor="end" fill="#333" stroke="#333" stroke-width="0.08">250</text>
<line x1="321" y1="352.72" x2="324.6" y2="352.72" stroke="#333" stroke-width="0.9"/>
<text x="319.4" y="354.92" font-size="6.2" text-anchor="end" fill="#333" stroke="#333" stroke-width="0.08">500</text>
<line x1="334.7" y1="364.2" x2="334.7" y2="367" stroke="#333" stroke-width="0.9"/>
<text x="334.7" y="375.3" font-size="6.2" text-anchor="middle" fill="#333" stroke="#333" stroke-width="0.08">5</text>
<line x1="354.9" y1="364.2" x2="354.9" y2="367" stroke="#333" stroke-width="0.9"/>
<text x="354.9" y="375.3" font-size="6.2" text-anchor="middle" fill="#333" stroke="#333" stroke-width="0.08">20</text>
<line x1="375.1" y1="364.2" x2="375.1" y2="367" stroke="#333" stroke-width="0.9"/>
<text x="375.1" y="375.3" font-size="6.2" text-anchor="middle" fill="#333" stroke="#333" stroke-width="0.08">100</text>
<line x1="395.3" y1="364.2" x2="395.3" y2="367" stroke="#333" stroke-width="0.9"/>
<text x="395.3" y="375.3" font-size="6.2" text-anchor="middle" fill="#333" stroke="#333" stroke-width="0.08">5</text>
<line x1="415.5" y1="364.2" x2="415.5" y2="367" stroke="#333" stroke-width="0.9"/>
<text x="415.5" y="375.3" font-size="6.2" text-anchor="middle" fill="#333" stroke="#333" stroke-width="0.08">20</text>
<line x1="435.7" y1="364.2" x2="435.7" y2="367" stroke="#333" stroke-width="0.9"/>
<text x="435.7" y="375.3" font-size="6.2" text-anchor="middle" fill="#333" stroke="#333" stroke-width="0.08">100</text>
<text x="355" y="385.3" font-size="6.8" text-anchor="middle" fill="#333" stroke="#333" stroke-width="0.08" textLength="11.4" lengthAdjust="spacingAndGlyphs" class="b">(nM)</text>
<text x="415.5" y="385.3" font-size="6.8" text-anchor="middle" fill="#333" stroke="#333" stroke-width="0.08" textLength="11.4" lengthAdjust="spacingAndGlyphs" class="b">(nM)</text>
<text x="303.3" y="329.5" font-size="7.6" text-anchor="middle" stroke="#222" stroke-width="0.08" textLength="40.2" lengthAdjust="spacingAndGlyphs" transform="rotate(-90 303.3 329.5)" class="b">Venetoclax (nM)</text>
<defs><linearGradient id="cb" x1="0" y1="0" x2="0" y2="1"><stop offset="0" stop-color="#5e5e5e"/><stop offset="1" stop-color="#ffffff"/></linearGradient></defs>
<rect x="448.6" y="170.8" width="6.8" height="66.1" fill="url(#cb)" stroke="#555" stroke-width="0.8"/>
<text x="457" y="173" font-size="6" fill="#333" stroke="#333" stroke-width="0.08">2.0</text>
<text x="457" y="189.8" font-size="6" fill="#333" stroke="#333" stroke-width="0.08">1.5</text>
<text x="457" y="206.6" font-size="6" fill="#333" stroke="#333" stroke-width="0.08">1.0</text>
<text x="457" y="223.2" font-size="6" fill="#333" stroke="#333" stroke-width="0.08">0.5</text>
<text x="457" y="239.9" font-size="6" fill="#333" stroke="#333" stroke-width="0.08">0</text>
<text x="469.9" y="204.2" font-size="7" text-anchor="middle" stroke="#222" stroke-width="0.08" textLength="56.3" lengthAdjust="spacingAndGlyphs" transform="rotate(90 469.9 204.2)" class="b">Combination index (CI)</text>
<line x1="476.2" y1="204.6" x2="494.6" y2="204.6" stroke="#444" stroke-width="0.8"/>
<line x1="484.6" y1="200.5" x2="484.6" y2="181" stroke="#222" stroke-width="0.9"/>
<path d="M482.4 182 L484.6 176.8 L486.8 182" stroke="none" stroke-width="0" fill="#222"/>
<line x1="484.6" y1="208.7" x2="484.6" y2="227.5" stroke="#222" stroke-width="0.9"/>
<path d="M482.4 226.5 L484.6 231.8 L486.8 226.5" stroke="none" stroke-width="0" fill="#222"/>
<text x="490.9" y="186.5" font-size="6.2" text-anchor="middle" fill="#333" stroke="#333" stroke-width="0.08" textLength="30" lengthAdjust="spacingAndGlyphs" transform="rotate(90 490.9 186.5)">Antagonistic</text>
<text x="490.9" y="223.8" font-size="6.2" text-anchor="middle" fill="#333" stroke="#333" stroke-width="0.08" textLength="27.7" lengthAdjust="spacingAndGlyphs" transform="rotate(90 490.9 223.8)">Synergistic</text>
<text x="497.1" y="203.8" font-size="6.2" text-anchor="middle" fill="#333" stroke="#333" stroke-width="0.08" textLength="20" lengthAdjust="spacingAndGlyphs" transform="rotate(90 497.1 203.8)">Additive</text>
<defs><filter id="bl1" x="-50%" y="-50%" width="200%" height="200%"><feGaussianBlur stdDeviation="1.2"/></filter><filter id="bl2" x="-50%" y="-50%" width="200%" height="200%"><feGaussianBlur stdDeviation="0.6"/></filter></defs>
<line x1="18.2" y1="564.2" x2="18.2" y2="421" stroke="#222" stroke-width="1.3"/>
<path d="M15.6 422.8 L18.2 416.2 L20.8 422.8" stroke="none" stroke-width="0" fill="#222"/>
<line x1="18.2" y1="570.8" x2="240" y2="570.8" stroke="#333" stroke-width="1.6"/>
<path d="M238.2 568 L244.8 570.8 L238.2 573.6" stroke="none" stroke-width="0" fill="#222"/>
<text x="11.6" y="493" font-size="6.5" text-anchor="middle" stroke="#222" stroke-width="0.08" transform="rotate(-90 11.6 493)">PI</text>
<text x="131.7" y="580.8" font-size="8.2" text-anchor="middle" stroke="#222" stroke-width="0.08" textLength="24.1" lengthAdjust="spacingAndGlyphs" class="b">Annexin V</text>
<defs><linearGradient id="gC" x1="0" y1="0" x2="1" y2="0"><stop offset="0" stop-color="#2d6e96"/><stop offset="0.35" stop-color="#3f9aa0"/><stop offset="1" stop-color="#a8c8e4"/></linearGradient><linearGradient id="gS" x1="0" y1="0" x2="1" y2="0"><stop offset="0" stop-color="#b8c828"/><stop offset="0.3" stop-color="#58b078"/><stop offset="0.6" stop-color="#5aa8c8"/><stop offset="1" stop-color="#b0a8ec"/></linearGradient><linearGradient id="gA" x1="0" y1="0" x2="1" y2="0"><stop offset="0" stop-color="#3c9a58"/><stop offset="0.45" stop-color="#58a070"/><stop offset="1" stop-color="#a8bcd8"/></linearGradient><linearGradient id="gV" x1="0" y1="1" x2="1" y2="0"><stop offset="0" stop-color="#4aa040"/><stop offset="0.5" stop-color="#4a78c0"/><stop offset="1" stop-color="#a8bce4"/></linearGradient><linearGradient id="gG" x1="0" y1="1" x2="1" y2="0"><stop offset="0" stop-color="#78b848"/><stop offset="0.6" stop-color="#a8c838"/><stop offset="1" stop-color="#88b048"/></linearGradient><linearGradient id="gB" x1="0" y1="0" x2="1" y2="0"><stop offset="0" stop-color="#585848"/><stop offset="0.6" stop-color="#6a6040"/><stop offset="1" stop-color="#c0b060"/></linearGradient><linearGradient id="gB2" x1="0" y1="0" x2="1" y2="0"><stop offset="0" stop-color="#60584a"/><stop offset="0.5" stop-color="#a07030"/><stop offset="1" stop-color="#d0a040"/></linearGradient></defs>
<g>
<path d="M71.09 452.55 L89.38 430.5 L82.62 425.5 L66.91 449.45 Z" fill="#b4c2e4" opacity="0.5" filter="url(#bl1)"/>
<g fill="#7f98cc" opacity="0.6"><circle cx="77.96" cy="445.43" r="0.42"/><circle cx="68.61" cy="449.58" r="0.42"/><circle cx="69.58" cy="450.38" r="0.42"/><circle cx="79.45" cy="440.33" r="0.42"/><circle cx="78.97" cy="439.32" r="0.42"/><circle cx="70.56" cy="442.36" r="0.42"/><circle cx="77.07" cy="438.92" r="0.42"/><circle cx="70.92" cy="449.43" r="0.42"/><circle cx="73.39" cy="449.18" r="0.42"/><circle cx="86.79" cy="430.58" r="0.42"/><circle cx="80.87" cy="435.55" r="0.42"/><circle cx="71.51" cy="450.77" r="0.42"/><circle cx="81.86" cy="433.24" r="0.42"/><circle cx="79.98" cy="435.84" r="0.42"/><circle cx="84.94" cy="427.5" r="0.42"/><circle cx="77.35" cy="435.05" r="0.42"/><circle cx="83.05" cy="436.43" r="0.42"/><circle cx="68.59" cy="450.4" r="0.42"/><circle cx="71.74" cy="447.85" r="0.42"/><circle cx="83.43" cy="430.25" r="0.42"/><circle cx="85.23" cy="429.03" r="0.42"/><circle cx="79.83" cy="434.02" r="0.42"/><circle cx="88.11" cy="426.61" r="0.42"/><circle cx="86" cy="434.13" r="0.42"/><circle cx="86.49" cy="433.32" r="0.42"/><circle cx="73.12" cy="446.11" r="0.42"/><circle cx="68.14" cy="451.67" r="0.42"/><circle cx="74.69" cy="450.01" r="0.42"/><circle cx="71.81" cy="450.43" r="0.42"/><circle cx="88.29" cy="427.38" r="0.42"/><circle cx="83.65" cy="433.97" r="0.42"/><circle cx="85.92" cy="428.61" r="0.42"/><circle cx="80.83" cy="438.77" r="0.42"/><circle cx="72.93" cy="449.14" r="0.42"/><circle cx="71.52" cy="445.82" r="0.42"/><circle cx="76.94" cy="444.81" r="0.42"/><circle cx="72.79" cy="439.82" r="0.42"/><circle cx="80.86" cy="431.9" r="0.42"/><circle cx="87.39" cy="434.03" r="0.42"/><circle cx="87.75" cy="426.86" r="0.42"/><circle cx="77.09" cy="441.74" r="0.42"/><circle cx="83.22" cy="434.16" r="0.42"/><circle cx="74.57" cy="447.8" r="0.42"/><circle cx="71.16" cy="450.55" r="0.42"/><circle cx="70.84" cy="449.55" r="0.42"/><circle cx="85.56" cy="425.48" r="0.42"/><circle cx="73.52" cy="446.61" r="0.42"/><circle cx="75.31" cy="443.49" r="0.42"/><circle cx="78.44" cy="439.06" r="0.42"/><circle cx="70.29" cy="450.49" r="0.42"/><circle cx="86.07" cy="428.12" r="0.42"/><circle cx="86.27" cy="423.45" r="0.42"/><circle cx="83.19" cy="437.05" r="0.42"/><circle cx="89.75" cy="420.39" r="0.42"/><circle cx="74.01" cy="445.7" r="0.42"/><circle cx="81.72" cy="428.96" r="0.42"/><circle cx="77.01" cy="446.52" r="0.42"/><circle cx="89.99" cy="419.61" r="0.42"/><circle cx="85.62" cy="426.68" r="0.42"/><circle cx="79.99" cy="437.79" r="0.42"/><circle cx="69.16" cy="452.75" r="0.42"/><circle cx="85.75" cy="431.52" r="0.42"/><circle cx="92.17" cy="423.74" r="0.42"/><circle cx="77.47" cy="443.36" r="0.42"/><circle cx="74.12" cy="449.26" r="0.42"/><circle cx="87.97" cy="423.43" r="0.42"/><circle cx="83.15" cy="432.51" r="0.42"/><circle cx="85.99" cy="431.2" r="0.42"/><circle cx="83.53" cy="430.54" r="0.42"/><circle cx="83.56" cy="432.21" r="0.42"/><circle cx="86.04" cy="424.19" r="0.42"/><circle cx="87.14" cy="422.58" r="0.42"/><circle cx="74.25" cy="452.03" r="0.42"/><circle cx="87.83" cy="431.48" r="0.42"/><circle cx="86.73" cy="421.11" r="0.42"/><circle cx="81.11" cy="436.72" r="0.42"/><circle cx="86.19" cy="421" r="0.42"/><circle cx="83.45" cy="425.87" r="0.42"/><circle cx="86.18" cy="429.33" r="0.42"/><circle cx="75.71" cy="446.58" r="0.42"/><circle cx="73.85" cy="445.37" r="0.42"/><circle cx="85.52" cy="426.79" r="0.42"/><circle cx="83.27" cy="434.24" r="0.42"/><circle cx="84.5" cy="424.74" r="0.42"/><circle cx="82.54" cy="437.49" r="0.42"/><circle cx="76.6" cy="447.04" r="0.42"/><circle cx="69.6" cy="447.78" r="0.42"/><circle cx="79.92" cy="438.38" r="0.42"/><circle cx="81.22" cy="435.34" r="0.42"/><circle cx="81.12" cy="437.73" r="0.42"/><circle cx="82.56" cy="429.54" r="0.42"/><circle cx="86.8" cy="428.93" r="0.42"/><circle cx="79.72" cy="434.45" r="0.42"/><circle cx="81.3" cy="432.83" r="0.42"/><circle cx="82.41" cy="437.5" r="0.42"/><circle cx="87.89" cy="425.6" r="0.42"/><circle cx="84.68" cy="434.81" r="0.42"/><circle cx="73.52" cy="449.72" r="0.42"/><circle cx="70.52" cy="450.78" r="0.42"/><circle cx="84.11" cy="428.64" r="0.42"/><circle cx="71.74" cy="444.87" r="0.42"/><circle cx="75.98" cy="444.54" r="0.42"/><circle cx="75.79" cy="445.36" r="0.42"/><circle cx="83.47" cy="438.09" r="0.42"/><circle cx="70.33" cy="448.56" r="0.42"/><circle cx="77.2" cy="444.31" r="0.42"/><circle cx="86.75" cy="431.52" r="0.42"/><circle cx="80.58" cy="439.95" r="0.42"/><circle cx="81.61" cy="434.13" r="0.42"/><circle cx="89.09" cy="417.32" r="0.42"/></g>
<g fill="#5e7ab8" opacity="0.55"><circle cx="72.32" cy="447.51" r="0.42"/><circle cx="81.03" cy="435.71" r="0.42"/><circle cx="78.69" cy="440.03" r="0.42"/><circle cx="76.22" cy="446.88" r="0.42"/><circle cx="78.23" cy="438.15" r="0.42"/><circle cx="71.19" cy="446.6" r="0.42"/><circle cx="73.78" cy="446.95" r="0.42"/><circle cx="83.81" cy="435.96" r="0.42"/><circle cx="72.87" cy="446.63" r="0.42"/><circle cx="72.38" cy="441.85" r="0.42"/><circle cx="75.66" cy="445.42" r="0.42"/><circle cx="74.74" cy="445.24" r="0.42"/><circle cx="72.02" cy="449.25" r="0.42"/><circle cx="75.03" cy="442.35" r="0.42"/><circle cx="78.07" cy="441.16" r="0.42"/><circle cx="71.24" cy="448.92" r="0.42"/><circle cx="79.67" cy="435.52" r="0.42"/><circle cx="77.78" cy="440.19" r="0.42"/><circle cx="80.16" cy="434.94" r="0.42"/><circle cx="80.55" cy="435.01" r="0.42"/><circle cx="81.22" cy="436.48" r="0.42"/><circle cx="81.29" cy="432.1" r="0.42"/><circle cx="75.99" cy="442.1" r="0.42"/><circle cx="74.77" cy="447.65" r="0.42"/><circle cx="74.63" cy="444.9" r="0.42"/><circle cx="83.37" cy="432.34" r="0.42"/><circle cx="74.72" cy="445.09" r="0.42"/><circle cx="77.81" cy="442" r="0.42"/><circle cx="78.07" cy="443.37" r="0.42"/><circle cx="78.24" cy="442.79" r="0.42"/><circle cx="74.98" cy="443.48" r="0.42"/><circle cx="74.33" cy="442.39" r="0.42"/><circle cx="73.47" cy="445.38" r="0.42"/><circle cx="75.63" cy="445" r="0.42"/><circle cx="72.72" cy="448.42" r="0.42"/><circle cx="72.55" cy="443.93" r="0.42"/><circle cx="79.54" cy="433.63" r="0.42"/><circle cx="81.47" cy="433.97" r="0.42"/><circle cx="85.13" cy="433.09" r="0.42"/><circle cx="81.92" cy="438.14" r="0.42"/></g>
<g fill="#9aaed8" opacity="0.55"><circle cx="80.37" cy="420.59" r="0.4"/><circle cx="75.26" cy="419.09" r="0.4"/><circle cx="79.12" cy="423.5" r="0.4"/><circle cx="68.41" cy="421.92" r="0.4"/><circle cx="78.52" cy="419.18" r="0.4"/><circle cx="68.7" cy="420.3" r="0.4"/><circle cx="73.48" cy="419.76" r="0.4"/><circle cx="76.13" cy="422.4" r="0.4"/><circle cx="78.54" cy="423.12" r="0.4"/><circle cx="82.01" cy="423.86" r="0.4"/><circle cx="70.75" cy="421.19" r="0.4"/><circle cx="71.76" cy="420.28" r="0.4"/><circle cx="75.67" cy="422.01" r="0.4"/><circle cx="77.96" cy="419.46" r="0.4"/><circle cx="71.05" cy="421.96" r="0.4"/><circle cx="75.2" cy="421.5" r="0.4"/><circle cx="75.75" cy="420.78" r="0.4"/><circle cx="78.81" cy="422.57" r="0.4"/><circle cx="75.65" cy="420.92" r="0.4"/><circle cx="75.3" cy="417.65" r="0.4"/><circle cx="72.07" cy="422.06" r="0.4"/><circle cx="69.98" cy="422.32" r="0.4"/><circle cx="76.59" cy="419.8" r="0.4"/><circle cx="75" cy="421.5" r="0.4"/><circle cx="77.84" cy="422.98" r="0.4"/><circle cx="75.85" cy="420.64" r="0.4"/><circle cx="75.42" cy="421.9" r="0.4"/><circle cx="78.94" cy="422.47" r="0.4"/><circle cx="73.11" cy="419.83" r="0.4"/><circle cx="74.51" cy="420.82" r="0.4"/><circle cx="71.55" cy="421.81" r="0.4"/><circle cx="74.04" cy="422.17" r="0.4"/><circle cx="78.09" cy="421.34" r="0.4"/><circle cx="85.3" cy="421.49" r="0.4"/><circle cx="80.41" cy="422.19" r="0.4"/></g>
<g fill="#98aac4" opacity="0.7"><circle cx="83.58" cy="456.67" r="0.4"/><circle cx="73.93" cy="458.2" r="0.4"/><circle cx="72.29" cy="456.64" r="0.4"/><circle cx="78.22" cy="456.71" r="0.4"/><circle cx="81.69" cy="456.73" r="0.4"/><circle cx="81.11" cy="458.07" r="0.4"/><circle cx="77.31" cy="456.81" r="0.4"/><circle cx="76.87" cy="456.95" r="0.4"/><circle cx="71.1" cy="457.23" r="0.4"/><circle cx="84.28" cy="456.81" r="0.4"/><circle cx="84.26" cy="457.74" r="0.4"/><circle cx="81.53" cy="456.51" r="0.4"/><circle cx="73.61" cy="458.17" r="0.4"/><circle cx="78.61" cy="457.29" r="0.4"/><circle cx="73.94" cy="456.88" r="0.4"/><circle cx="82.88" cy="458.17" r="0.4"/><circle cx="73.17" cy="457.51" r="0.4"/><circle cx="71.18" cy="457.87" r="0.4"/><circle cx="84.35" cy="456.02" r="0.4"/><circle cx="85.23" cy="456.52" r="0.4"/><circle cx="82.16" cy="457.1" r="0.4"/><circle cx="76.68" cy="455.94" r="0.4"/><circle cx="75.17" cy="457.22" r="0.4"/><circle cx="70.62" cy="456.9" r="0.4"/><circle cx="73.95" cy="455.16" r="0.4"/></g>
<path d="M50.8 458.5 L50.8 453.5 L53 452.4 L56.5 453.6 L63.5 455.6 L63.5 458.3 Z" fill="url(#gC)" opacity="0.66" filter="url(#bl1)"/>
<g opacity="0.81"><rect x="52.32" y="452.75" width="0.6" height="0.6" fill="#2d6e96"/><rect x="53.22" y="453.06" width="0.6" height="0.6" fill="#35839a"/><rect x="53.68" y="452.93" width="0.6" height="0.6" fill="#409aa1"/><rect x="53.97" y="453.16" width="0.6" height="0.6" fill="#3b919e"/><rect x="51.2" y="453.65" width="0.6" height="0.6" fill="#2d6e96"/><rect x="52.32" y="453.36" width="0.6" height="0.6" fill="#337c99"/><rect x="52.9" y="453.73" width="0.6" height="0.6" fill="#36859b"/><rect x="53.92" y="453.45" width="0.6" height="0.6" fill="#3c939e"/><rect x="54.89" y="453.32" width="0.6" height="0.6" fill="#469da4"/><rect x="55.4" y="453.69" width="0.6" height="0.6" fill="#459ca4"/><rect x="56" y="453.72" width="0.6" height="0.6" fill="#54a3ad"/><rect x="50.93" y="453.82" width="0.6" height="0.6" fill="#36849b"/><rect x="51.13" y="454.26" width="0.6" height="0.6" fill="#2e7096"/><rect x="52.51" y="453.93" width="0.6" height="0.6" fill="#2d6e96"/><rect x="52.91" y="453.94" width="0.6" height="0.6" fill="#35839a"/><rect x="53.62" y="454.27" width="0.6" height="0.6" fill="#2f7397"/><rect x="54.88" y="453.99" width="0.6" height="0.6" fill="#398b9c"/><rect x="55.87" y="454.21" width="0.6" height="0.6" fill="#4da0a9"/><rect x="56.35" y="453.96" width="0.6" height="0.6" fill="#3e999f"/><rect x="56.64" y="453.9" width="0.6" height="0.6" fill="#61a9b6"/><rect x="57.27" y="453.83" width="0.6" height="0.6" fill="#4da0a9"/><rect x="51.18" y="454.79" width="0.6" height="0.6" fill="#2d6e96"/><rect x="53.08" y="454.85" width="0.6" height="0.6" fill="#2e7296"/><rect x="53.72" y="454.81" width="0.6" height="0.6" fill="#3a8d9d"/><rect x="54" y="454.41" width="0.6" height="0.6" fill="#3f9aa0"/><rect x="55.17" y="454.48" width="0.6" height="0.6" fill="#3d979f"/><rect x="55.97" y="454.4" width="0.6" height="0.6" fill="#419ba1"/><rect x="56.23" y="454.42" width="0.6" height="0.6" fill="#459ca4"/><rect x="56.73" y="454.65" width="0.6" height="0.6" fill="#52a2ac"/><rect x="57.31" y="454.69" width="0.6" height="0.6" fill="#5ba6b2"/><rect x="57.86" y="454.45" width="0.6" height="0.6" fill="#5ba6b2"/><rect x="58.3" y="454.55" width="0.6" height="0.6" fill="#64aab8"/><rect x="59.12" y="454.4" width="0.6" height="0.6" fill="#6badbd"/><rect x="60.06" y="454.63" width="0.6" height="0.6" fill="#6fafbf"/><rect x="50.99" y="455.13" width="0.6" height="0.6" fill="#327c99"/><rect x="51.42" y="455.35" width="0.6" height="0.6" fill="#2f7597"/><rect x="51.96" y="455.09" width="0.6" height="0.6" fill="#337e99"/><rect x="52.46" y="455.36" width="0.6" height="0.6" fill="#36849b"/><rect x="54.34" y="455.14" width="0.6" height="0.6" fill="#3e999f"/><rect x="55.03" y="455.29" width="0.6" height="0.6" fill="#3c939e"/><rect x="56.14" y="455.01" width="0.6" height="0.6" fill="#3e999f"/><rect x="56.66" y="455.02" width="0.6" height="0.6" fill="#4fa1aa"/><rect x="57.6" y="454.92" width="0.6" height="0.6" fill="#5da7b3"/><rect x="58.12" y="454.96" width="0.6" height="0.6" fill="#5fa8b5"/><rect x="58.53" y="455.21" width="0.6" height="0.6" fill="#59a5b1"/><rect x="59.01" y="455.23" width="0.6" height="0.6" fill="#77b2c4"/><rect x="59.57" y="454.91" width="0.6" height="0.6" fill="#6cadbd"/><rect x="60.28" y="455.29" width="0.6" height="0.6" fill="#7fb6c9"/><rect x="60.54" y="455.14" width="0.6" height="0.6" fill="#8bbbd1"/><rect x="61.05" y="455.12" width="0.6" height="0.6" fill="#92bed6"/><rect x="61.57" y="455.22" width="0.6" height="0.6" fill="#8dbcd2"/><rect x="50.98" y="455.95" width="0.6" height="0.6" fill="#2d6e96"/><rect x="52.78" y="455.63" width="0.6" height="0.6" fill="#398d9d"/><rect x="53.44" y="455.86" width="0.6" height="0.6" fill="#3f9aa0"/><rect x="54.1" y="455.91" width="0.6" height="0.6" fill="#398d9d"/><rect x="54.56" y="455.47" width="0.6" height="0.6" fill="#459ca4"/><rect x="55.03" y="455.92" width="0.6" height="0.6" fill="#429ba2"/><rect x="55.89" y="455.51" width="0.6" height="0.6" fill="#429ba2"/><rect x="57.2" y="455.95" width="0.6" height="0.6" fill="#459ca4"/><rect x="57.83" y="455.95" width="0.6" height="0.6" fill="#6eaebe"/><rect x="58.43" y="455.83" width="0.6" height="0.6" fill="#70afc0"/><rect x="58.82" y="455.86" width="0.6" height="0.6" fill="#7fb6c9"/><rect x="59.67" y="455.94" width="0.6" height="0.6" fill="#71b0c0"/><rect x="59.9" y="455.47" width="0.6" height="0.6" fill="#70afc0"/><rect x="60.76" y="455.67" width="0.6" height="0.6" fill="#8abbd0"/><rect x="61.11" y="455.78" width="0.6" height="0.6" fill="#85b8cd"/><rect x="61.55" y="455.63" width="0.6" height="0.6" fill="#89bad0"/><rect x="62.39" y="455.74" width="0.6" height="0.6" fill="#a1c4df"/><rect x="62.96" y="455.69" width="0.6" height="0.6" fill="#a8c8e4"/><rect x="50.87" y="456.44" width="0.6" height="0.6" fill="#2d6e96"/><rect x="51.3" y="456.13" width="0.6" height="0.6" fill="#2d6e96"/><rect x="51.83" y="456.32" width="0.6" height="0.6" fill="#2d6e96"/><rect x="52.67" y="456.37" width="0.6" height="0.6" fill="#35829a"/><rect x="53.02" y="456.2" width="0.6" height="0.6" fill="#35829a"/><rect x="53.33" y="456.39" width="0.6" height="0.6" fill="#2d7096"/><rect x="53.92" y="456.1" width="0.6" height="0.6" fill="#36859b"/><rect x="55.04" y="456.15" width="0.6" height="0.6" fill="#56a4af"/><rect x="55.89" y="456.36" width="0.6" height="0.6" fill="#4fa1aa"/><rect x="56.47" y="456.37" width="0.6" height="0.6" fill="#4da0a9"/><rect x="56.71" y="456.05" width="0.6" height="0.6" fill="#439ba2"/><rect x="57.17" y="456.17" width="0.6" height="0.6" fill="#4fa1aa"/><rect x="58.06" y="456.13" width="0.6" height="0.6" fill="#4b9fa7"/><rect x="58.47" y="456.39" width="0.6" height="0.6" fill="#66abb9"/><rect x="59.36" y="456.13" width="0.6" height="0.6" fill="#85b8cd"/><rect x="60.27" y="456.47" width="0.6" height="0.6" fill="#72b0c1"/><rect x="61.32" y="456.35" width="0.6" height="0.6" fill="#a3c6e1"/><rect x="62.45" y="456.43" width="0.6" height="0.6" fill="#97c0d9"/><rect x="62.8" y="456.11" width="0.6" height="0.6" fill="#8ebcd3"/><rect x="63.24" y="456.46" width="0.6" height="0.6" fill="#a8c8e4"/><rect x="51.01" y="456.72" width="0.6" height="0.6" fill="#2e7096"/><rect x="51.11" y="456.57" width="0.6" height="0.6" fill="#2d6e96"/><rect x="52.02" y="456.58" width="0.6" height="0.6" fill="#2d6e96"/><rect x="53.76" y="457.02" width="0.6" height="0.6" fill="#398c9c"/><rect x="54.72" y="456.96" width="0.6" height="0.6" fill="#3e999f"/><rect x="55.09" y="456.6" width="0.6" height="0.6" fill="#3e989f"/><rect x="55.66" y="456.76" width="0.6" height="0.6" fill="#3d979f"/><rect x="56.18" y="456.69" width="0.6" height="0.6" fill="#439ba2"/><rect x="57.46" y="456.57" width="0.6" height="0.6" fill="#63aab7"/><rect x="57.92" y="456.94" width="0.6" height="0.6" fill="#5ca6b3"/><rect x="58.36" y="456.98" width="0.6" height="0.6" fill="#57a4af"/><rect x="59.21" y="456.64" width="0.6" height="0.6" fill="#77b2c4"/><rect x="59.84" y="456.55" width="0.6" height="0.6" fill="#8ebcd3"/><rect x="60.15" y="456.95" width="0.6" height="0.6" fill="#71b0c0"/><rect x="61.14" y="456.66" width="0.6" height="0.6" fill="#8abbd0"/><rect x="61.8" y="456.6" width="0.6" height="0.6" fill="#a6c7e2"/><rect x="62.45" y="456.94" width="0.6" height="0.6" fill="#a5c6e2"/><rect x="62.83" y="456.75" width="0.6" height="0.6" fill="#a3c6e1"/><rect x="51.55" y="457.35" width="0.6" height="0.6" fill="#2e7297"/><rect x="52.09" y="457.22" width="0.6" height="0.6" fill="#2d6e96"/><rect x="52.58" y="457.42" width="0.6" height="0.6" fill="#327c99"/><rect x="53.63" y="457.47" width="0.6" height="0.6" fill="#317998"/><rect x="54.14" y="457.16" width="0.6" height="0.6" fill="#3d959e"/><rect x="54.84" y="457.22" width="0.6" height="0.6" fill="#3b919d"/><rect x="55.37" y="457.18" width="0.6" height="0.6" fill="#53a3ad"/><rect x="55.62" y="457.26" width="0.6" height="0.6" fill="#499ea7"/><rect x="56.14" y="457.59" width="0.6" height="0.6" fill="#54a3ad"/><rect x="56.65" y="457.58" width="0.6" height="0.6" fill="#3b929e"/><rect x="57.55" y="457.47" width="0.6" height="0.6" fill="#74b1c2"/><rect x="57.8" y="457.42" width="0.6" height="0.6" fill="#62a9b7"/><rect x="58.27" y="457.3" width="0.6" height="0.6" fill="#71b0c0"/><rect x="59.15" y="457.35" width="0.6" height="0.6" fill="#69acbb"/><rect x="59.65" y="457.3" width="0.6" height="0.6" fill="#78b3c5"/><rect x="60.35" y="457.32" width="0.6" height="0.6" fill="#7fb6ca"/><rect x="61.89" y="457.42" width="0.6" height="0.6" fill="#86b9cd"/><rect x="62.26" y="457.41" width="0.6" height="0.6" fill="#84b8cc"/><rect x="63.01" y="457.41" width="0.6" height="0.6" fill="#a8c8e4"/><rect x="63.41" y="457.33" width="0.6" height="0.6" fill="#96c0d8"/><rect x="51.02" y="457.74" width="0.6" height="0.6" fill="#317898"/><rect x="51.49" y="457.84" width="0.6" height="0.6" fill="#307798"/><rect x="51.92" y="457.73" width="0.6" height="0.6" fill="#317898"/><rect x="52.67" y="457.91" width="0.6" height="0.6" fill="#2f7597"/><rect x="53.11" y="457.91" width="0.6" height="0.6" fill="#347f99"/><rect x="53.71" y="457.91" width="0.6" height="0.6" fill="#3b919e"/><rect x="54.19" y="457.85" width="0.6" height="0.6" fill="#398d9d"/><rect x="54.46" y="458.14" width="0.6" height="0.6" fill="#3e999f"/><rect x="55.15" y="457.66" width="0.6" height="0.6" fill="#419ba1"/><rect x="55.71" y="458" width="0.6" height="0.6" fill="#449ca3"/><rect x="56.42" y="458.12" width="0.6" height="0.6" fill="#57a4af"/><rect x="56.71" y="458.05" width="0.6" height="0.6" fill="#53a2ad"/><rect x="57.54" y="458.05" width="0.6" height="0.6" fill="#62a9b7"/><rect x="57.93" y="457.93" width="0.6" height="0.6" fill="#6caebd"/><rect x="59.03" y="457.8" width="0.6" height="0.6" fill="#6cadbd"/><rect x="59.41" y="458.07" width="0.6" height="0.6" fill="#7ab3c6"/><rect x="60.09" y="457.78" width="0.6" height="0.6" fill="#74b1c2"/><rect x="60.54" y="457.65" width="0.6" height="0.6" fill="#80b6ca"/><rect x="61.15" y="457.89" width="0.6" height="0.6" fill="#93bfd6"/><rect x="61.87" y="457.98" width="0.6" height="0.6" fill="#a8c8e4"/><rect x="51.43" y="458.33" width="0.6" height="0.6" fill="#2d6e96"/><rect x="51.72" y="458.32" width="0.6" height="0.6" fill="#2f7397"/><rect x="56.88" y="458.33" width="0.6" height="0.6" fill="#59a5b1"/><rect x="62.03" y="458.24" width="0.6" height="0.6" fill="#93bed6"/></g>
</g>
<rect x="38.5" y="415.4" width="56.4" height="54.9" fill="none" stroke="#777" stroke-width="0.9"/>
<line x1="68" y1="415.4" x2="68" y2="470.3" stroke="#7a7a7a" stroke-width="0.9"/>
<line x1="38.5" y1="429.2" x2="94.9" y2="429.2" stroke="#6a6a6a" stroke-width="0.9"/>
<line x1="38.5" y1="415.4" x2="38.5" y2="470.3" stroke="#333" stroke-width="1"/>
<line x1="38.5" y1="470.3" x2="94.9" y2="470.3" stroke="#333" stroke-width="1"/>
<text x="66.4" y="410.8" font-size="8.4" text-anchor="middle" stroke="#222" stroke-width="0.08" textLength="25.2" lengthAdjust="spacingAndGlyphs">Control</text>
<text x="39.7" y="421.2" font-size="4.9" fill="#333" stroke="#333" stroke-width="0.08">Q1</text>
<text x="39.7" y="425.4" font-size="4.9" fill="#333" stroke="#333" stroke-width="0.08">0.061</text>
<text x="93.9" y="421.2" font-size="4.9" text-anchor="end" fill="#333" stroke="#333" stroke-width="0.08">Q2</text>
<text x="93.9" y="425.4" font-size="4.9" text-anchor="end" fill="#333" stroke="#333" stroke-width="0.08">3.79</text>
<text x="39.7" y="463.9" font-size="4.9" fill="#333" stroke="#333" stroke-width="0.08">Q4</text>
<text x="39.7" y="468.1" font-size="4.9" fill="#333" stroke="#333" stroke-width="0.08">86.8</text>
<text x="93.9" y="463.9" font-size="4.9" text-anchor="end" fill="#333" stroke="#333" stroke-width="0.08">Q3</text>
<text x="93.9" y="468.1" font-size="4.9" text-anchor="end" fill="#333" stroke="#333" stroke-width="0.08">9.34</text>
<text x="32.5" y="422" font-size="5.9" text-anchor="end" fill="#333">10<tspan font-size="4.01" dy="-2.2">5</tspan></text>
<line x1="36.9" y1="420" x2="38.5" y2="420" stroke="#222" stroke-width="0.8"/>
<text x="32.5" y="435" font-size="5.9" text-anchor="end" fill="#333">10<tspan font-size="4.01" dy="-2.2">4</tspan></text>
<line x1="36.9" y1="433" x2="38.5" y2="433" stroke="#222" stroke-width="0.8"/>
<text x="32.5" y="451" font-size="5.9" text-anchor="end" fill="#333">10<tspan font-size="4.01" dy="-2.2">3</tspan></text>
<line x1="36.9" y1="449" x2="38.5" y2="449" stroke="#222" stroke-width="0.8"/>
<text x="32.6" y="460.5" font-size="5.6" text-anchor="end" fill="#333" stroke="#333" stroke-width="0.08">0</text>
<line x1="36.9" y1="458.5" x2="38.5" y2="458.5" stroke="#222" stroke-width="0.8"/>
<text x="32.5" y="468.5" font-size="5.9" text-anchor="end" fill="#333">−10<tspan font-size="4.01" dy="-2.2">3</tspan></text>
<line x1="36.9" y1="466.5" x2="38.5" y2="466.5" stroke="#222" stroke-width="0.8"/>
<line x1="37.5" y1="423.4" x2="38.5" y2="423.4" stroke="#333" stroke-width="0.5"/>
<line x1="37.5" y1="425.4" x2="38.5" y2="425.4" stroke="#333" stroke-width="0.5"/>
<line x1="37.5" y1="427.4" x2="38.5" y2="427.4" stroke="#333" stroke-width="0.5"/>
<line x1="37.5" y1="429.4" x2="38.5" y2="429.4" stroke="#333" stroke-width="0.5"/>
<line x1="37.5" y1="436.4" x2="38.5" y2="436.4" stroke="#333" stroke-width="0.5"/>
<line x1="37.5" y1="439.4" x2="38.5" y2="439.4" stroke="#333" stroke-width="0.5"/>
<line x1="37.5" y1="442.4" x2="38.5" y2="442.4" stroke="#333" stroke-width="0.5"/>
<line x1="37.5" y1="445.4" x2="38.5" y2="445.4" stroke="#333" stroke-width="0.5"/>
<line x1="37.2" y1="453.9" x2="38.5" y2="453.9" stroke="#222" stroke-width="0.6"/>
<line x1="37.2" y1="455.4" x2="38.5" y2="455.4" stroke="#222" stroke-width="0.6"/>
<line x1="37.2" y1="456.9" x2="38.5" y2="456.9" stroke="#222" stroke-width="0.6"/>
<line x1="37.2" y1="458.5" x2="38.5" y2="458.5" stroke="#222" stroke-width="0.6"/>
<line x1="37.2" y1="459.9" x2="38.5" y2="459.9" stroke="#222" stroke-width="0.6"/>
<line x1="37.2" y1="461.4" x2="38.5" y2="461.4" stroke="#222" stroke-width="0.6"/>
<line x1="37.2" y1="462.9" x2="38.5" y2="462.9" stroke="#222" stroke-width="0.6"/>
<text x="42.1" y="480.9" font-size="5.6" text-anchor="middle" fill="#333">−10<tspan font-size="3.81" dy="-2.2">3</tspan></text>
<text x="52.5" y="480.9" font-size="5.6" text-anchor="middle" fill="#333" stroke="#333" stroke-width="0.08">0</text>
<text x="60" y="480.9" font-size="5.6" text-anchor="middle" fill="#333">10<tspan font-size="3.81" dy="-2.2">3</tspan></text>
<text x="75.3" y="480.9" font-size="5.6" text-anchor="middle" fill="#333">10<tspan font-size="3.81" dy="-2.2">4</tspan></text>
<text x="88.8" y="480.9" font-size="5.6" text-anchor="middle" fill="#333">10<tspan font-size="3.81" dy="-2.2">5</tspan></text>
<line x1="42" y1="470.3" x2="42" y2="471.7" stroke="#222" stroke-width="0.6"/>
<line x1="45.5" y1="470.3" x2="45.5" y2="471.7" stroke="#222" stroke-width="0.6"/>
<line x1="48.5" y1="470.3" x2="48.5" y2="471.7" stroke="#222" stroke-width="0.6"/>
<line x1="50.5" y1="470.3" x2="50.5" y2="471.7" stroke="#222" stroke-width="0.6"/>
<line x1="52" y1="470.3" x2="52" y2="471.7" stroke="#222" stroke-width="0.6"/>
<line x1="53.5" y1="470.3" x2="53.5" y2="471.7" stroke="#222" stroke-width="0.6"/>
<line x1="55.5" y1="470.3" x2="55.5" y2="471.7" stroke="#222" stroke-width="0.6"/>
<line x1="58.5" y1="470.3" x2="58.5" y2="471.7" stroke="#222" stroke-width="0.6"/>
<line x1="62.5" y1="470.3" x2="62.5" y2="471.7" stroke="#222" stroke-width="0.6"/>
<line x1="67.5" y1="470.3" x2="67.5" y2="471.7" stroke="#222" stroke-width="0.6"/>
<line x1="71.5" y1="470.3" x2="71.5" y2="471.7" stroke="#222" stroke-width="0.6"/>
<line x1="74.5" y1="470.3" x2="74.5" y2="471.7" stroke="#222" stroke-width="0.6"/>
<line x1="80.5" y1="470.3" x2="80.5" y2="471.7" stroke="#222" stroke-width="0.6"/>
<line x1="85.5" y1="470.3" x2="85.5" y2="471.7" stroke="#222" stroke-width="0.6"/>
<line x1="88.5" y1="470.3" x2="88.5" y2="471.7" stroke="#222" stroke-width="0.6"/>
<line x1="92.5" y1="470.3" x2="92.5" y2="471.7" stroke="#222" stroke-width="0.6"/>
<line x1="49.5" y1="470.3" x2="49.5" y2="472.5" stroke="#111" stroke-width="0.9"/>
<line x1="51" y1="470.3" x2="51" y2="472.5" stroke="#111" stroke-width="0.9"/>
<line x1="52.5" y1="470.3" x2="52.5" y2="472.5" stroke="#111" stroke-width="0.9"/>
<line x1="54" y1="470.3" x2="54" y2="472.5" stroke="#111" stroke-width="0.9"/>
<g>
<ellipse cx="134" cy="443" rx="6" ry="4" fill="#c8d4f0" opacity="0.45" transform="rotate(0 134 443)" filter="url(#bl1)"/>
<path d="M146.6 451.85 L162.61 436.67 L155.39 430.33 L142.4 448.15 Z" fill="#aebee0" opacity="0.5" filter="url(#bl1)"/>
<g fill="#7890c8" opacity="0.6"><circle cx="153.1" cy="440.32" r="0.42"/><circle cx="157.21" cy="432.66" r="0.42"/><circle cx="157.58" cy="428.52" r="0.42"/><circle cx="156.07" cy="439.04" r="0.42"/><circle cx="151.14" cy="438.61" r="0.42"/><circle cx="160.31" cy="430.14" r="0.42"/><circle cx="156.07" cy="440.11" r="0.42"/><circle cx="153.84" cy="442.48" r="0.42"/><circle cx="158.33" cy="431.3" r="0.42"/><circle cx="151.69" cy="441.56" r="0.42"/><circle cx="157.08" cy="435.84" r="0.42"/><circle cx="159.88" cy="428.79" r="0.42"/><circle cx="149.84" cy="445.64" r="0.42"/><circle cx="159.06" cy="425.88" r="0.42"/><circle cx="156.75" cy="434.87" r="0.42"/><circle cx="154.17" cy="434.21" r="0.42"/><circle cx="153.01" cy="436.45" r="0.42"/><circle cx="155.28" cy="431.73" r="0.42"/><circle cx="147.01" cy="448.96" r="0.42"/><circle cx="159.08" cy="435.43" r="0.42"/><circle cx="149.76" cy="444.36" r="0.42"/><circle cx="151.37" cy="437.84" r="0.42"/><circle cx="154.27" cy="440.44" r="0.42"/><circle cx="158.35" cy="436.64" r="0.42"/><circle cx="154.64" cy="438.87" r="0.42"/><circle cx="159.27" cy="427.35" r="0.42"/><circle cx="150.59" cy="442.97" r="0.42"/><circle cx="155.56" cy="442.91" r="0.42"/><circle cx="150.98" cy="439.21" r="0.42"/><circle cx="156.81" cy="436.19" r="0.42"/><circle cx="145.54" cy="453.99" r="0.42"/><circle cx="146.55" cy="449.17" r="0.42"/><circle cx="158.8" cy="430.23" r="0.42"/><circle cx="157.87" cy="434.21" r="0.42"/><circle cx="151.34" cy="450.37" r="0.42"/><circle cx="158.65" cy="436.37" r="0.42"/><circle cx="142.89" cy="446.71" r="0.42"/><circle cx="150.58" cy="441.99" r="0.42"/><circle cx="158.31" cy="427.01" r="0.42"/><circle cx="143.97" cy="448.3" r="0.42"/><circle cx="142.31" cy="447.87" r="0.42"/><circle cx="150.63" cy="448.88" r="0.42"/><circle cx="143.25" cy="447.71" r="0.42"/><circle cx="154.83" cy="440.45" r="0.42"/><circle cx="157.82" cy="430.04" r="0.42"/><circle cx="158.41" cy="434.37" r="0.42"/><circle cx="159.8" cy="436.01" r="0.42"/><circle cx="153.62" cy="437.61" r="0.42"/><circle cx="159.75" cy="425.59" r="0.42"/><circle cx="146.73" cy="438.73" r="0.42"/><circle cx="155.26" cy="429.58" r="0.42"/><circle cx="151.41" cy="442.88" r="0.42"/><circle cx="155.59" cy="431.14" r="0.42"/><circle cx="156.21" cy="431.8" r="0.42"/><circle cx="149.41" cy="442.47" r="0.42"/><circle cx="160.37" cy="432.06" r="0.42"/><circle cx="158.58" cy="432.72" r="0.42"/><circle cx="150.92" cy="437.05" r="0.42"/><circle cx="163.25" cy="429.89" r="0.42"/><circle cx="146.5" cy="445.56" r="0.42"/><circle cx="160.35" cy="433.23" r="0.42"/><circle cx="162.49" cy="428.37" r="0.42"/><circle cx="159.84" cy="433.61" r="0.42"/><circle cx="149.44" cy="445.27" r="0.42"/><circle cx="149.17" cy="443.87" r="0.42"/><circle cx="160.58" cy="433.04" r="0.42"/><circle cx="161.88" cy="431.12" r="0.42"/><circle cx="151.6" cy="438.85" r="0.42"/><circle cx="147.11" cy="448.09" r="0.42"/><circle cx="154.39" cy="440.75" r="0.42"/><circle cx="153.19" cy="439.44" r="0.42"/><circle cx="159.54" cy="425.35" r="0.42"/><circle cx="156.81" cy="436.48" r="0.42"/><circle cx="154.21" cy="435.57" r="0.42"/><circle cx="146.62" cy="457.09" r="0.42"/><circle cx="160.4" cy="427.21" r="0.42"/><circle cx="149.5" cy="445.51" r="0.42"/><circle cx="156.72" cy="428.06" r="0.42"/><circle cx="154.96" cy="427.09" r="0.42"/><circle cx="148.65" cy="446.84" r="0.42"/><circle cx="145.86" cy="445.68" r="0.42"/><circle cx="151.47" cy="445.07" r="0.42"/><circle cx="143.72" cy="447.74" r="0.42"/><circle cx="145.13" cy="449.93" r="0.42"/><circle cx="154.46" cy="434.38" r="0.42"/><circle cx="152.45" cy="433.39" r="0.42"/><circle cx="148.7" cy="454.04" r="0.42"/><circle cx="147" cy="447.63" r="0.42"/><circle cx="151.48" cy="446.95" r="0.42"/><circle cx="156.26" cy="434.62" r="0.42"/><circle cx="158.53" cy="430.41" r="0.42"/><circle cx="140.02" cy="452" r="0.42"/><circle cx="161.91" cy="427.01" r="0.42"/><circle cx="153.69" cy="437.26" r="0.42"/><circle cx="149.47" cy="443.63" r="0.42"/><circle cx="154.58" cy="440.73" r="0.42"/><circle cx="148.29" cy="447.61" r="0.42"/><circle cx="157.22" cy="434.29" r="0.42"/><circle cx="159.56" cy="429.13" r="0.42"/><circle cx="164.04" cy="430.95" r="0.42"/><circle cx="152.08" cy="444.93" r="0.42"/><circle cx="161.89" cy="429.1" r="0.42"/><circle cx="149.09" cy="444.43" r="0.42"/><circle cx="153.74" cy="437.27" r="0.42"/><circle cx="146.36" cy="449.09" r="0.42"/><circle cx="144.19" cy="448.92" r="0.42"/><circle cx="150.98" cy="442.64" r="0.42"/><circle cx="160.45" cy="430.18" r="0.42"/><circle cx="154.76" cy="437.73" r="0.42"/><circle cx="150.62" cy="449.16" r="0.42"/><circle cx="158.9" cy="428.43" r="0.42"/><circle cx="152.06" cy="439.65" r="0.42"/><circle cx="149.71" cy="442" r="0.42"/><circle cx="164.09" cy="426.95" r="0.42"/><circle cx="149.36" cy="445.06" r="0.42"/><circle cx="157.24" cy="432.21" r="0.42"/><circle cx="150.2" cy="451.34" r="0.42"/><circle cx="144.94" cy="451.99" r="0.42"/><circle cx="154.28" cy="439.74" r="0.42"/><circle cx="161.16" cy="429.23" r="0.42"/><circle cx="149.58" cy="449.48" r="0.42"/><circle cx="160.85" cy="434.52" r="0.42"/><circle cx="146.6" cy="447.03" r="0.42"/><circle cx="147.88" cy="445.63" r="0.42"/><circle cx="160.29" cy="435.42" r="0.42"/><circle cx="145.37" cy="449.7" r="0.42"/><circle cx="153.61" cy="441.62" r="0.42"/><circle cx="158.27" cy="429.57" r="0.42"/><circle cx="162.63" cy="429.71" r="0.42"/><circle cx="159.02" cy="424.3" r="0.42"/></g>
<g fill="#5a76b4" opacity="0.55"><circle cx="149.64" cy="445.38" r="0.42"/><circle cx="153.01" cy="443.61" r="0.42"/><circle cx="154.38" cy="441.49" r="0.42"/><circle cx="151.4" cy="441" r="0.42"/><circle cx="154.5" cy="439.22" r="0.42"/><circle cx="147.11" cy="443.15" r="0.42"/><circle cx="153.59" cy="440.31" r="0.42"/><circle cx="158.59" cy="432.84" r="0.42"/><circle cx="152.42" cy="440.27" r="0.42"/><circle cx="157.54" cy="434.61" r="0.42"/><circle cx="148.17" cy="446.55" r="0.42"/><circle cx="149.13" cy="449.49" r="0.42"/><circle cx="149.67" cy="447.29" r="0.42"/><circle cx="153.14" cy="437.62" r="0.42"/><circle cx="146.9" cy="448.19" r="0.42"/><circle cx="144.8" cy="448.62" r="0.42"/><circle cx="153.23" cy="440.85" r="0.42"/><circle cx="151.62" cy="443.63" r="0.42"/><circle cx="157.86" cy="437.12" r="0.42"/><circle cx="156.52" cy="438.99" r="0.42"/><circle cx="159.66" cy="433.67" r="0.42"/><circle cx="157.08" cy="434.76" r="0.42"/><circle cx="157.05" cy="435.05" r="0.42"/><circle cx="147.54" cy="443.82" r="0.42"/><circle cx="159.16" cy="435.37" r="0.42"/><circle cx="152.66" cy="436.88" r="0.42"/><circle cx="151.8" cy="444.14" r="0.42"/><circle cx="148.08" cy="442.64" r="0.42"/><circle cx="151.37" cy="442.34" r="0.42"/><circle cx="151.09" cy="441.63" r="0.42"/><circle cx="147.66" cy="448.6" r="0.42"/><circle cx="156.75" cy="433.05" r="0.42"/><circle cx="154.58" cy="435.92" r="0.42"/><circle cx="153.44" cy="438.79" r="0.42"/><circle cx="151.53" cy="440.88" r="0.42"/><circle cx="152.56" cy="439.3" r="0.42"/><circle cx="153.02" cy="443.11" r="0.42"/><circle cx="149.29" cy="443.27" r="0.42"/><circle cx="152.52" cy="441.41" r="0.42"/><circle cx="148.73" cy="442.43" r="0.42"/><circle cx="148.17" cy="446.49" r="0.42"/><circle cx="150.08" cy="442.86" r="0.42"/><circle cx="149.61" cy="446.2" r="0.42"/><circle cx="157.07" cy="434.74" r="0.42"/><circle cx="152.56" cy="439.61" r="0.42"/><circle cx="153.78" cy="439.57" r="0.42"/><circle cx="151.01" cy="441.02" r="0.42"/><circle cx="149.7" cy="443.43" r="0.42"/><circle cx="152.91" cy="441.2" r="0.42"/><circle cx="156.45" cy="436.07" r="0.42"/></g>
<ellipse cx="154" cy="423" rx="7" ry="2.2" fill="#b0bee4" opacity="0.55" transform="rotate(0 154 423)" filter="url(#bl1)"/>
<g fill="#6a84c0" opacity="0.6"><circle cx="159.34" cy="421.77" r="0.42"/><circle cx="154.19" cy="424.25" r="0.42"/><circle cx="153.72" cy="423.12" r="0.42"/><circle cx="151.56" cy="425.77" r="0.42"/><circle cx="157.47" cy="422.5" r="0.42"/><circle cx="154.55" cy="421.77" r="0.42"/><circle cx="156.93" cy="422.93" r="0.42"/><circle cx="151.99" cy="423.59" r="0.42"/><circle cx="164.5" cy="422.94" r="0.42"/><circle cx="151.57" cy="422.27" r="0.42"/><circle cx="157.34" cy="422.06" r="0.42"/><circle cx="148.81" cy="424.64" r="0.42"/><circle cx="147.7" cy="420.56" r="0.42"/><circle cx="153.23" cy="422.89" r="0.42"/><circle cx="146.91" cy="420.4" r="0.42"/><circle cx="155.14" cy="422.14" r="0.42"/><circle cx="145" cy="425.12" r="0.42"/><circle cx="160.09" cy="425.55" r="0.42"/><circle cx="154.19" cy="421.49" r="0.42"/><circle cx="151.47" cy="424.9" r="0.42"/><circle cx="152.73" cy="420.72" r="0.42"/><circle cx="157.62" cy="424.43" r="0.42"/><circle cx="149.88" cy="421.8" r="0.42"/><circle cx="157.16" cy="420.68" r="0.42"/><circle cx="155.76" cy="422.6" r="0.42"/><circle cx="158.03" cy="421.61" r="0.42"/><circle cx="152.59" cy="421.85" r="0.42"/><circle cx="160.64" cy="424.03" r="0.42"/><circle cx="149.99" cy="422.1" r="0.42"/><circle cx="154.92" cy="422.72" r="0.42"/><circle cx="156.22" cy="421.24" r="0.42"/><circle cx="151.47" cy="425.87" r="0.42"/><circle cx="158.96" cy="421.71" r="0.42"/><circle cx="161.23" cy="424.99" r="0.42"/><circle cx="144.98" cy="423.45" r="0.42"/><circle cx="158.25" cy="423.19" r="0.42"/><circle cx="153.67" cy="424.85" r="0.42"/><circle cx="155.59" cy="419.63" r="0.42"/><circle cx="154.16" cy="423.27" r="0.42"/><circle cx="148.83" cy="424.81" r="0.42"/></g>
<g fill="#6a8a94" opacity="0.8"><circle cx="150.96" cy="456.11" r="0.45"/><circle cx="148.42" cy="455.93" r="0.45"/><circle cx="156.04" cy="455.89" r="0.45"/><circle cx="145.08" cy="456.04" r="0.45"/><circle cx="151.95" cy="455.23" r="0.45"/><circle cx="156" cy="455.57" r="0.45"/><circle cx="152.36" cy="456.86" r="0.45"/><circle cx="151.11" cy="456.49" r="0.45"/><circle cx="148.14" cy="457.52" r="0.45"/><circle cx="150.76" cy="457.32" r="0.45"/><circle cx="153.94" cy="457.08" r="0.45"/><circle cx="153.95" cy="455.93" r="0.45"/><circle cx="148.29" cy="455.7" r="0.45"/><circle cx="146.8" cy="456.79" r="0.45"/><circle cx="152.81" cy="455.16" r="0.45"/><circle cx="153.98" cy="456.91" r="0.45"/><circle cx="154.51" cy="455.94" r="0.45"/><circle cx="145.41" cy="456.11" r="0.45"/><circle cx="152.91" cy="456.13" r="0.45"/><circle cx="150.38" cy="455.9" r="0.45"/><circle cx="152.43" cy="454.29" r="0.45"/><circle cx="151.28" cy="456.07" r="0.45"/><circle cx="146.62" cy="456.47" r="0.45"/><circle cx="145.47" cy="456.82" r="0.45"/><circle cx="155.43" cy="455.43" r="0.45"/><circle cx="144.57" cy="457.51" r="0.45"/><circle cx="148.62" cy="456.28" r="0.45"/><circle cx="146.07" cy="456.42" r="0.45"/><circle cx="156.07" cy="455.75" r="0.45"/><circle cx="149.85" cy="456.21" r="0.45"/></g>
<path d="M126.9 456 L126.9 448 L131 447.3 L141 450 L141 455.5 Z" fill="url(#gS)" opacity="0.66" filter="url(#bl1)"/>
<g opacity="0.81"><rect x="127.62" y="448" width="0.6" height="0.6" fill="#a2c23a"/><rect x="127.93" y="447.96" width="0.6" height="0.6" fill="#8fbd49"/><rect x="128.78" y="447.85" width="0.6" height="0.6" fill="#91be47"/><rect x="129.08" y="447.67" width="0.6" height="0.6" fill="#8abc4e"/><rect x="129.69" y="447.78" width="0.6" height="0.6" fill="#58ae8a"/><rect x="130.56" y="447.86" width="0.6" height="0.6" fill="#6ab468"/><rect x="131.24" y="447.93" width="0.6" height="0.6" fill="#58ac9e"/><rect x="131.76" y="447.79" width="0.6" height="0.6" fill="#58ac96"/><rect x="132.31" y="447.93" width="0.6" height="0.6" fill="#59aab3"/><rect x="127.11" y="448.52" width="0.6" height="0.6" fill="#acc531"/><rect x="127.28" y="448.25" width="0.6" height="0.6" fill="#adc530"/><rect x="127.94" y="448.17" width="0.6" height="0.6" fill="#aac433"/><rect x="128.72" y="448.44" width="0.6" height="0.6" fill="#9bc040"/><rect x="128.98" y="448.37" width="0.6" height="0.6" fill="#89bc4e"/><rect x="129.82" y="448.54" width="0.6" height="0.6" fill="#74b75f"/><rect x="129.97" y="448.58" width="0.6" height="0.6" fill="#5fb171"/><rect x="130.56" y="448.55" width="0.6" height="0.6" fill="#5fb171"/><rect x="131.51" y="448.52" width="0.6" height="0.6" fill="#58b077"/><rect x="131.97" y="448.56" width="0.6" height="0.6" fill="#5cb173"/><rect x="132.19" y="448.62" width="0.6" height="0.6" fill="#59aba9"/><rect x="133.07" y="448.56" width="0.6" height="0.6" fill="#58ad8e"/><rect x="133.48" y="448.18" width="0.6" height="0.6" fill="#58ad8d"/><rect x="134.26" y="448.21" width="0.6" height="0.6" fill="#59a8be"/><rect x="127.47" y="449.08" width="0.6" height="0.6" fill="#b8c828"/><rect x="128.36" y="448.84" width="0.6" height="0.6" fill="#b4c72a"/><rect x="128.95" y="448.73" width="0.6" height="0.6" fill="#7cb959"/><rect x="129.62" y="448.76" width="0.6" height="0.6" fill="#58af7a"/><rect x="130.18" y="448.88" width="0.6" height="0.6" fill="#6ab468"/><rect x="131" y="449.08" width="0.6" height="0.6" fill="#59b076"/><rect x="131.41" y="449.19" width="0.6" height="0.6" fill="#58ad90"/><rect x="131.82" y="448.79" width="0.6" height="0.6" fill="#58ad94"/><rect x="132.15" y="449.16" width="0.6" height="0.6" fill="#6ab468"/><rect x="133.03" y="448.83" width="0.6" height="0.6" fill="#58b077"/><rect x="133.32" y="448.71" width="0.6" height="0.6" fill="#59aaaa"/><rect x="134.81" y="448.78" width="0.6" height="0.6" fill="#59aaae"/><rect x="135.32" y="449.07" width="0.6" height="0.6" fill="#66a8cd"/><rect x="135.61" y="448.88" width="0.6" height="0.6" fill="#7ba8d5"/><rect x="136.18" y="449.12" width="0.6" height="0.6" fill="#7ca8d6"/><rect x="136.86" y="449.11" width="0.6" height="0.6" fill="#76a8d3"/><rect x="137.55" y="449.17" width="0.6" height="0.6" fill="#71a8d1"/><rect x="127.63" y="449.64" width="0.6" height="0.6" fill="#a7c335"/><rect x="127.89" y="449.58" width="0.6" height="0.6" fill="#b5c729"/><rect x="129.3" y="449.33" width="0.6" height="0.6" fill="#76b75e"/><rect x="129.62" y="449.53" width="0.6" height="0.6" fill="#76b75e"/><rect x="131.63" y="449.59" width="0.6" height="0.6" fill="#58ae89"/><rect x="132.94" y="449.57" width="0.6" height="0.6" fill="#58af81"/><rect x="133.26" y="449.34" width="0.6" height="0.6" fill="#59a8c5"/><rect x="134.02" y="449.29" width="0.6" height="0.6" fill="#58ac9b"/><rect x="134.56" y="449.51" width="0.6" height="0.6" fill="#5ea8c9"/><rect x="135.1" y="449.31" width="0.6" height="0.6" fill="#66a8cd"/><rect x="135.51" y="449.68" width="0.6" height="0.6" fill="#59a9b9"/><rect x="136.05" y="449.52" width="0.6" height="0.6" fill="#59a9b9"/><rect x="136.66" y="449.54" width="0.6" height="0.6" fill="#6fa8d0"/><rect x="137.36" y="449.54" width="0.6" height="0.6" fill="#72a8d2"/><rect x="137.87" y="449.68" width="0.6" height="0.6" fill="#83a8d9"/><rect x="138.56" y="449.63" width="0.6" height="0.6" fill="#a6a8e7"/><rect x="138.8" y="449.67" width="0.6" height="0.6" fill="#8ca8dd"/><rect x="139.39" y="449.73" width="0.6" height="0.6" fill="#98a8e2"/><rect x="127.31" y="449.95" width="0.6" height="0.6" fill="#b8c828"/><rect x="127.96" y="450.24" width="0.6" height="0.6" fill="#89bc4f"/><rect x="128.76" y="450.24" width="0.6" height="0.6" fill="#a5c337"/><rect x="129.22" y="449.97" width="0.6" height="0.6" fill="#97bf43"/><rect x="129.46" y="449.99" width="0.6" height="0.6" fill="#a9c434"/><rect x="130.42" y="450.16" width="0.6" height="0.6" fill="#71b662"/><rect x="130.77" y="450.2" width="0.6" height="0.6" fill="#67b36b"/><rect x="131.51" y="450.14" width="0.6" height="0.6" fill="#58ae87"/><rect x="132.02" y="450.09" width="0.6" height="0.6" fill="#58ac9e"/><rect x="132.79" y="450.08" width="0.6" height="0.6" fill="#58ad8f"/><rect x="133.32" y="450.24" width="0.6" height="0.6" fill="#58ad8e"/><rect x="134.36" y="449.97" width="0.6" height="0.6" fill="#58ae89"/><rect x="135.3" y="449.82" width="0.6" height="0.6" fill="#59a8c6"/><rect x="135.86" y="450.14" width="0.6" height="0.6" fill="#59a8c5"/><rect x="136.86" y="449.84" width="0.6" height="0.6" fill="#72a8d2"/><rect x="137.21" y="450.25" width="0.6" height="0.6" fill="#80a8d8"/><rect x="137.83" y="450.03" width="0.6" height="0.6" fill="#82a8d8"/><rect x="138.39" y="449.98" width="0.6" height="0.6" fill="#7aa8d5"/><rect x="139.32" y="449.87" width="0.6" height="0.6" fill="#8fa8de"/><rect x="139.99" y="449.94" width="0.6" height="0.6" fill="#9ea8e4"/><rect x="127.59" y="450.79" width="0.6" height="0.6" fill="#87bb50"/><rect x="128.07" y="450.67" width="0.6" height="0.6" fill="#a6c336"/><rect x="128.74" y="450.82" width="0.6" height="0.6" fill="#61b26f"/><rect x="129" y="450.73" width="0.6" height="0.6" fill="#acc531"/><rect x="129.58" y="450.63" width="0.6" height="0.6" fill="#7db958"/><rect x="129.98" y="450.52" width="0.6" height="0.6" fill="#58af7a"/><rect x="130.68" y="450.47" width="0.6" height="0.6" fill="#64b36d"/><rect x="131.22" y="450.42" width="0.6" height="0.6" fill="#58ae89"/><rect x="131.82" y="450.63" width="0.6" height="0.6" fill="#5cb174"/><rect x="132.23" y="450.38" width="0.6" height="0.6" fill="#58af80"/><rect x="132.98" y="450.82" width="0.6" height="0.6" fill="#59a9ba"/><rect x="133.71" y="450.64" width="0.6" height="0.6" fill="#59a9b4"/><rect x="134.29" y="450.53" width="0.6" height="0.6" fill="#5ea8c9"/><rect x="134.56" y="450.78" width="0.6" height="0.6" fill="#58ae8b"/><rect x="135.04" y="450.48" width="0.6" height="0.6" fill="#59a8c6"/><rect x="135.53" y="450.48" width="0.6" height="0.6" fill="#60a8ca"/><rect x="136.87" y="450.45" width="0.6" height="0.6" fill="#82a8d8"/><rect x="137.58" y="450.65" width="0.6" height="0.6" fill="#88a8db"/><rect x="137.82" y="450.42" width="0.6" height="0.6" fill="#5ea8ca"/><rect x="138.47" y="450.79" width="0.6" height="0.6" fill="#93a8e0"/><rect x="138.91" y="450.72" width="0.6" height="0.6" fill="#8aa8dc"/><rect x="139.5" y="450.69" width="0.6" height="0.6" fill="#a9a8e9"/><rect x="139.87" y="450.66" width="0.6" height="0.6" fill="#a5a8e7"/><rect x="140.65" y="450.65" width="0.6" height="0.6" fill="#a7a8e8"/><rect x="127.23" y="451.21" width="0.6" height="0.6" fill="#afc52f"/><rect x="127.91" y="450.95" width="0.6" height="0.6" fill="#85bb51"/><rect x="128.34" y="451.31" width="0.6" height="0.6" fill="#75b75f"/><rect x="129.12" y="451.19" width="0.6" height="0.6" fill="#98c042"/><rect x="129.57" y="451.27" width="0.6" height="0.6" fill="#98c042"/><rect x="130.31" y="451.28" width="0.6" height="0.6" fill="#7ab85b"/><rect x="130.99" y="451.13" width="0.6" height="0.6" fill="#58ac97"/><rect x="131.31" y="451.37" width="0.6" height="0.6" fill="#58ad93"/><rect x="131.93" y="451.29" width="0.6" height="0.6" fill="#58ae88"/><rect x="132.64" y="451.01" width="0.6" height="0.6" fill="#58ac98"/><rect x="132.77" y="450.93" width="0.6" height="0.6" fill="#58ac99"/><rect x="133.98" y="450.97" width="0.6" height="0.6" fill="#59aaaa"/><rect x="134.43" y="450.91" width="0.6" height="0.6" fill="#58ae86"/><rect x="135.02" y="451.39" width="0.6" height="0.6" fill="#59a9b4"/><rect x="135.85" y="451.13" width="0.6" height="0.6" fill="#59a8c2"/><rect x="136.45" y="450.95" width="0.6" height="0.6" fill="#81a8d8"/><rect x="136.75" y="451.33" width="0.6" height="0.6" fill="#79a8d5"/><rect x="138.12" y="451.21" width="0.6" height="0.6" fill="#83a8d9"/><rect x="138.42" y="451.02" width="0.6" height="0.6" fill="#96a8e1"/><rect x="139.13" y="451.22" width="0.6" height="0.6" fill="#9fa8e5"/><rect x="140.28" y="451.03" width="0.6" height="0.6" fill="#a4a8e7"/><rect x="140.81" y="451.04" width="0.6" height="0.6" fill="#89a8db"/><rect x="127.5" y="451.68" width="0.6" height="0.6" fill="#a5c337"/><rect x="129.55" y="451.46" width="0.6" height="0.6" fill="#78b85c"/><rect x="130.41" y="451.53" width="0.6" height="0.6" fill="#69b469"/><rect x="130.55" y="451.53" width="0.6" height="0.6" fill="#58af7d"/><rect x="132.09" y="451.47" width="0.6" height="0.6" fill="#58ad94"/><rect x="132.55" y="451.79" width="0.6" height="0.6" fill="#58ae83"/><rect x="132.92" y="451.5" width="0.6" height="0.6" fill="#58ac99"/><rect x="133.86" y="451.69" width="0.6" height="0.6" fill="#58ac9f"/><rect x="134.69" y="451.52" width="0.6" height="0.6" fill="#59a8c1"/><rect x="135.15" y="451.51" width="0.6" height="0.6" fill="#58ad94"/><rect x="136.44" y="451.82" width="0.6" height="0.6" fill="#6ba8cf"/><rect x="136.64" y="451.58" width="0.6" height="0.6" fill="#81a8d8"/><rect x="137.3" y="451.73" width="0.6" height="0.6" fill="#7da8d6"/><rect x="137.66" y="451.79" width="0.6" height="0.6" fill="#68a8cd"/><rect x="139.11" y="451.65" width="0.6" height="0.6" fill="#8da8dd"/><rect x="139.51" y="451.94" width="0.6" height="0.6" fill="#8ba8dc"/><rect x="139.92" y="451.95" width="0.6" height="0.6" fill="#aba8e9"/><rect x="140.7" y="451.91" width="0.6" height="0.6" fill="#9ea8e4"/><rect x="127.26" y="452.42" width="0.6" height="0.6" fill="#b8c828"/><rect x="128.2" y="452.02" width="0.6" height="0.6" fill="#abc432"/><rect x="130.07" y="452.31" width="0.6" height="0.6" fill="#58af7f"/><rect x="130.69" y="452.36" width="0.6" height="0.6" fill="#84bb52"/><rect x="131.39" y="452.16" width="0.6" height="0.6" fill="#58af78"/><rect x="131.87" y="452.11" width="0.6" height="0.6" fill="#58af81"/><rect x="132.39" y="452.36" width="0.6" height="0.6" fill="#59a8be"/><rect x="132.94" y="452.11" width="0.6" height="0.6" fill="#59aab1"/><rect x="135.35" y="452.43" width="0.6" height="0.6" fill="#59a9bc"/><rect x="136.06" y="452.08" width="0.6" height="0.6" fill="#71a8d1"/><rect x="136.95" y="452.26" width="0.6" height="0.6" fill="#7ba8d6"/><rect x="138" y="452.22" width="0.6" height="0.6" fill="#8aa8dc"/><rect x="138.27" y="452.34" width="0.6" height="0.6" fill="#6aa8cf"/><rect x="139.01" y="452.12" width="0.6" height="0.6" fill="#88a8db"/><rect x="139.31" y="452.1" width="0.6" height="0.6" fill="#a4a8e7"/><rect x="139.88" y="452.09" width="0.6" height="0.6" fill="#9ca8e3"/><rect x="140.52" y="452.42" width="0.6" height="0.6" fill="#b0a8ec"/><rect x="126.97" y="452.98" width="0.6" height="0.6" fill="#b8c828"/><rect x="127.51" y="452.74" width="0.6" height="0.6" fill="#95bf45"/><rect x="127.97" y="452.73" width="0.6" height="0.6" fill="#a7c336"/><rect x="128.62" y="452.96" width="0.6" height="0.6" fill="#77b75d"/><rect x="129.5" y="453.04" width="0.6" height="0.6" fill="#97bf43"/><rect x="130.11" y="452.59" width="0.6" height="0.6" fill="#58af7b"/><rect x="130.69" y="452.81" width="0.6" height="0.6" fill="#58ad8c"/><rect x="131.06" y="452.85" width="0.6" height="0.6" fill="#72b661"/><rect x="131.83" y="452.97" width="0.6" height="0.6" fill="#7db959"/><rect x="132.37" y="452.8" width="0.6" height="0.6" fill="#58ac96"/><rect x="133.11" y="452.89" width="0.6" height="0.6" fill="#58ac98"/><rect x="133.59" y="452.83" width="0.6" height="0.6" fill="#59aaaa"/><rect x="134.18" y="452.61" width="0.6" height="0.6" fill="#64a8cc"/><rect x="134.4" y="452.59" width="0.6" height="0.6" fill="#5aa8c8"/><rect x="135.18" y="452.58" width="0.6" height="0.6" fill="#59a8be"/><rect x="135.48" y="452.9" width="0.6" height="0.6" fill="#59aab2"/><rect x="136.99" y="452.62" width="0.6" height="0.6" fill="#70a8d1"/><rect x="137.59" y="452.69" width="0.6" height="0.6" fill="#7ba8d6"/><rect x="138.48" y="452.81" width="0.6" height="0.6" fill="#97a8e1"/><rect x="139.43" y="452.65" width="0.6" height="0.6" fill="#9ca8e3"/><rect x="140.12" y="452.74" width="0.6" height="0.6" fill="#8ba8dc"/><rect x="140.58" y="452.95" width="0.6" height="0.6" fill="#aba8e9"/><rect x="127.11" y="453.38" width="0.6" height="0.6" fill="#b8c828"/><rect x="127.4" y="453.38" width="0.6" height="0.6" fill="#8fbd49"/><rect x="127.89" y="453.5" width="0.6" height="0.6" fill="#acc531"/><rect x="129.07" y="453.54" width="0.6" height="0.6" fill="#b3c62b"/><rect x="129.62" y="453.42" width="0.6" height="0.6" fill="#73b660"/><rect x="130.78" y="453.5" width="0.6" height="0.6" fill="#67b36b"/><rect x="131.39" y="453.44" width="0.6" height="0.6" fill="#58ae86"/><rect x="131.67" y="453.56" width="0.6" height="0.6" fill="#59aba9"/><rect x="132.2" y="453.15" width="0.6" height="0.6" fill="#59aba1"/><rect x="133.59" y="453.18" width="0.6" height="0.6" fill="#58ac9f"/><rect x="134.5" y="453.22" width="0.6" height="0.6" fill="#59aaac"/><rect x="134.98" y="453.56" width="0.6" height="0.6" fill="#68a8cd"/><rect x="135.87" y="453.18" width="0.6" height="0.6" fill="#72a8d2"/><rect x="136.02" y="453.29" width="0.6" height="0.6" fill="#61a8cb"/><rect x="136.66" y="453.37" width="0.6" height="0.6" fill="#59a8bf"/><rect x="137.31" y="453.44" width="0.6" height="0.6" fill="#7da8d7"/><rect x="138.7" y="453.57" width="0.6" height="0.6" fill="#88a8db"/><rect x="140.15" y="453.37" width="0.6" height="0.6" fill="#b0a8ec"/><rect x="127.92" y="454.12" width="0.6" height="0.6" fill="#8abc4d"/><rect x="128.52" y="453.77" width="0.6" height="0.6" fill="#8bbc4c"/><rect x="128.94" y="454.04" width="0.6" height="0.6" fill="#6cb567"/><rect x="129.45" y="453.93" width="0.6" height="0.6" fill="#70b663"/><rect x="130.25" y="453.88" width="0.6" height="0.6" fill="#77b75d"/><rect x="130.82" y="453.72" width="0.6" height="0.6" fill="#5fb171"/><rect x="131.23" y="453.84" width="0.6" height="0.6" fill="#58af80"/><rect x="132.59" y="453.89" width="0.6" height="0.6" fill="#58ac9e"/><rect x="132.75" y="454.09" width="0.6" height="0.6" fill="#58af7c"/><rect x="133.31" y="453.88" width="0.6" height="0.6" fill="#59aba1"/><rect x="134.07" y="453.9" width="0.6" height="0.6" fill="#59a9b6"/><rect x="134.45" y="453.71" width="0.6" height="0.6" fill="#5ca8c9"/><rect x="135.46" y="454.12" width="0.6" height="0.6" fill="#61a8cb"/><rect x="136.34" y="453.76" width="0.6" height="0.6" fill="#59a8bf"/><rect x="136.63" y="453.78" width="0.6" height="0.6" fill="#5da8c9"/><rect x="137.25" y="454.1" width="0.6" height="0.6" fill="#83a8d9"/><rect x="137.94" y="453.77" width="0.6" height="0.6" fill="#87a8da"/><rect x="138.23" y="453.77" width="0.6" height="0.6" fill="#6ba8cf"/><rect x="139.24" y="453.67" width="0.6" height="0.6" fill="#89a8dc"/><rect x="139.47" y="454.06" width="0.6" height="0.6" fill="#7ba8d5"/><rect x="140.61" y="453.85" width="0.6" height="0.6" fill="#aaa8e9"/><rect x="126.99" y="454.28" width="0.6" height="0.6" fill="#8cbd4c"/><rect x="127.27" y="454.3" width="0.6" height="0.6" fill="#b8c828"/><rect x="128.25" y="454.6" width="0.6" height="0.6" fill="#5cb174"/><rect x="129.23" y="454.52" width="0.6" height="0.6" fill="#a6c336"/><rect x="129.79" y="454.25" width="0.6" height="0.6" fill="#99c041"/><rect x="130.84" y="454.57" width="0.6" height="0.6" fill="#58ae8a"/><rect x="132" y="454.5" width="0.6" height="0.6" fill="#79b85c"/><rect x="132.85" y="454.68" width="0.6" height="0.6" fill="#59aba2"/><rect x="133.73" y="454.59" width="0.6" height="0.6" fill="#59aba5"/><rect x="134.22" y="454.32" width="0.6" height="0.6" fill="#59aba3"/><rect x="134.6" y="454.65" width="0.6" height="0.6" fill="#59a9bd"/><rect x="135.26" y="454.4" width="0.6" height="0.6" fill="#5fa8ca"/><rect x="135.92" y="454.61" width="0.6" height="0.6" fill="#59aab3"/><rect x="137.5" y="454.2" width="0.6" height="0.6" fill="#82a8d9"/><rect x="138.06" y="454.41" width="0.6" height="0.6" fill="#83a8d9"/><rect x="138.43" y="454.37" width="0.6" height="0.6" fill="#74a8d3"/><rect x="139.06" y="454.35" width="0.6" height="0.6" fill="#aca8ea"/><rect x="139.44" y="454.55" width="0.6" height="0.6" fill="#87a8db"/><rect x="139.91" y="454.54" width="0.6" height="0.6" fill="#84a8d9"/><rect x="140.81" y="454.29" width="0.6" height="0.6" fill="#b0a8ec"/><rect x="127.51" y="455.2" width="0.6" height="0.6" fill="#b0c62e"/><rect x="128" y="455.23" width="0.6" height="0.6" fill="#8ebd4a"/><rect x="128.72" y="454.83" width="0.6" height="0.6" fill="#8fbd49"/><rect x="129.63" y="455.15" width="0.6" height="0.6" fill="#81ba55"/><rect x="130.23" y="455.18" width="0.6" height="0.6" fill="#63b26e"/><rect x="131.38" y="454.79" width="0.6" height="0.6" fill="#8ebd4a"/><rect x="131.78" y="455.08" width="0.6" height="0.6" fill="#58ac96"/><rect x="132.34" y="455.01" width="0.6" height="0.6" fill="#59aba3"/><rect x="132.88" y="455.24" width="0.6" height="0.6" fill="#58ae8b"/><rect x="133.67" y="455.09" width="0.6" height="0.6" fill="#58ae86"/><rect x="134.25" y="455.11" width="0.6" height="0.6" fill="#59a8be"/><rect x="134.37" y="454.91" width="0.6" height="0.6" fill="#6da8d0"/><rect x="134.97" y="455.04" width="0.6" height="0.6" fill="#59aab3"/><rect x="135.47" y="454.95" width="0.6" height="0.6" fill="#59a8bf"/><rect x="136.38" y="454.9" width="0.6" height="0.6" fill="#5ea8c9"/><rect x="136.76" y="455.24" width="0.6" height="0.6" fill="#78a8d4"/><rect x="137.29" y="455.23" width="0.6" height="0.6" fill="#5fa8ca"/><rect x="138" y="454.89" width="0.6" height="0.6" fill="#65a8cc"/><rect x="138.6" y="454.92" width="0.6" height="0.6" fill="#7ca8d6"/><rect x="139.01" y="455.19" width="0.6" height="0.6" fill="#90a8de"/><rect x="139.46" y="454.78" width="0.6" height="0.6" fill="#8da8dd"/><rect x="127.42" y="455.35" width="0.6" height="0.6" fill="#b8c828"/><rect x="128.23" y="455.43" width="0.6" height="0.6" fill="#8abc4e"/><rect x="129.17" y="455.69" width="0.6" height="0.6" fill="#6bb467"/><rect x="129.64" y="455.58" width="0.6" height="0.6" fill="#58af79"/><rect x="130.33" y="455.44" width="0.6" height="0.6" fill="#58af7f"/><rect x="130.64" y="455.62" width="0.6" height="0.6" fill="#72b661"/><rect x="132.28" y="455.42" width="0.6" height="0.6" fill="#66b36b"/><rect x="133.31" y="455.45" width="0.6" height="0.6" fill="#58ac96"/><rect x="134.28" y="455.62" width="0.6" height="0.6" fill="#59a9b6"/><rect x="134.82" y="455.67" width="0.6" height="0.6" fill="#59aba8"/><rect x="135.1" y="455.7" width="0.6" height="0.6" fill="#63a8cc"/><rect x="135.72" y="455.56" width="0.6" height="0.6" fill="#7fa8d7"/><rect x="136.45" y="455.37" width="0.6" height="0.6" fill="#7aa8d5"/><rect x="137.43" y="455.59" width="0.6" height="0.6" fill="#80a8d8"/></g>
</g>
<rect x="114.2" y="415.4" width="55.7" height="54.9" fill="none" stroke="#777" stroke-width="0.9"/>
<line x1="143.5" y1="415.4" x2="143.5" y2="470.3" stroke="#7a7a7a" stroke-width="0.9"/>
<line x1="114.2" y1="429.2" x2="169.9" y2="429.2" stroke="#6a6a6a" stroke-width="0.9"/>
<line x1="114.2" y1="415.4" x2="114.2" y2="470.3" stroke="#333" stroke-width="1"/>
<line x1="114.2" y1="470.3" x2="169.9" y2="470.3" stroke="#333" stroke-width="1"/>
<text x="141.75" y="410.8" font-size="8.4" text-anchor="middle" stroke="#222" stroke-width="0.08" textLength="56.8" lengthAdjust="spacingAndGlyphs">S63845 100nM</text>
<text x="115.4" y="421.2" font-size="4.9" fill="#333" stroke="#333" stroke-width="0.08">Q1</text>
<text x="115.4" y="425.4" font-size="4.9" fill="#333" stroke="#333" stroke-width="0.08">0.022</text>
<text x="168.9" y="421.2" font-size="4.9" text-anchor="end" fill="#333" stroke="#333" stroke-width="0.08">Q2</text>
<text x="168.9" y="425.4" font-size="4.9" text-anchor="end" fill="#333" stroke="#333" stroke-width="0.08">6.10</text>
<text x="115.4" y="463.9" font-size="4.9" fill="#333" stroke="#333" stroke-width="0.08">Q4</text>
<text x="115.4" y="468.1" font-size="4.9" fill="#333" stroke="#333" stroke-width="0.08">68.4</text>
<text x="168.9" y="463.9" font-size="4.9" text-anchor="end" fill="#333" stroke="#333" stroke-width="0.08">Q3</text>
<text x="168.9" y="468.1" font-size="4.9" text-anchor="end" fill="#333" stroke="#333" stroke-width="0.08">25.5</text>
<text x="108.2" y="422" font-size="5.9" text-anchor="end" fill="#333">10<tspan font-size="4.01" dy="-2.2">5</tspan></text>
<line x1="112.6" y1="420" x2="114.2" y2="420" stroke="#222" stroke-width="0.8"/>
<text x="108.2" y="435" font-size="5.9" text-anchor="end" fill="#333">10<tspan font-size="4.01" dy="-2.2">4</tspan></text>
<line x1="112.6" y1="433" x2="114.2" y2="433" stroke="#222" stroke-width="0.8"/>
<text x="108.2" y="451" font-size="5.9" text-anchor="end" fill="#333">10<tspan font-size="4.01" dy="-2.2">3</tspan></text>
<line x1="112.6" y1="449" x2="114.2" y2="449" stroke="#222" stroke-width="0.8"/>
<text x="108.3" y="460.5" font-size="5.6" text-anchor="end" fill="#333" stroke="#333" stroke-width="0.08">0</text>
<line x1="112.6" y1="458.5" x2="114.2" y2="458.5" stroke="#222" stroke-width="0.8"/>
<text x="108.2" y="468.5" font-size="5.9" text-anchor="end" fill="#333">−10<tspan font-size="4.01" dy="-2.2">3</tspan></text>
<line x1="112.6" y1="466.5" x2="114.2" y2="466.5" stroke="#222" stroke-width="0.8"/>
<line x1="113.2" y1="423.4" x2="114.2" y2="423.4" stroke="#333" stroke-width="0.5"/>
<line x1="113.2" y1="425.4" x2="114.2" y2="425.4" stroke="#333" stroke-width="0.5"/>
<line x1="113.2" y1="427.4" x2="114.2" y2="427.4" stroke="#333" stroke-width="0.5"/>
<line x1="113.2" y1="429.4" x2="114.2" y2="429.4" stroke="#333" stroke-width="0.5"/>
<line x1="113.2" y1="436.4" x2="114.2" y2="436.4" stroke="#333" stroke-width="0.5"/>
<line x1="113.2" y1="439.4" x2="114.2" y2="439.4" stroke="#333" stroke-width="0.5"/>
<line x1="113.2" y1="442.4" x2="114.2" y2="442.4" stroke="#333" stroke-width="0.5"/>
<line x1="113.2" y1="445.4" x2="114.2" y2="445.4" stroke="#333" stroke-width="0.5"/>
<line x1="112.9" y1="453.9" x2="114.2" y2="453.9" stroke="#222" stroke-width="0.6"/>
<line x1="112.9" y1="455.4" x2="114.2" y2="455.4" stroke="#222" stroke-width="0.6"/>
<line x1="112.9" y1="456.9" x2="114.2" y2="456.9" stroke="#222" stroke-width="0.6"/>
<line x1="112.9" y1="458.5" x2="114.2" y2="458.5" stroke="#222" stroke-width="0.6"/>
<line x1="112.9" y1="459.9" x2="114.2" y2="459.9" stroke="#222" stroke-width="0.6"/>
<line x1="112.9" y1="461.4" x2="114.2" y2="461.4" stroke="#222" stroke-width="0.6"/>
<line x1="112.9" y1="462.9" x2="114.2" y2="462.9" stroke="#222" stroke-width="0.6"/>
<text x="117.8" y="480.9" font-size="5.6" text-anchor="middle" fill="#333">−10<tspan font-size="3.81" dy="-2.2">3</tspan></text>
<text x="128.2" y="480.9" font-size="5.6" text-anchor="middle" fill="#333" stroke="#333" stroke-width="0.08">0</text>
<text x="135.7" y="480.9" font-size="5.6" text-anchor="middle" fill="#333">10<tspan font-size="3.81" dy="-2.2">3</tspan></text>
<text x="151" y="480.9" font-size="5.6" text-anchor="middle" fill="#333">10<tspan font-size="3.81" dy="-2.2">4</tspan></text>
<text x="164.5" y="480.9" font-size="5.6" text-anchor="middle" fill="#333">10<tspan font-size="3.81" dy="-2.2">5</tspan></text>
<line x1="117.7" y1="470.3" x2="117.7" y2="471.7" stroke="#222" stroke-width="0.6"/>
<line x1="121.2" y1="470.3" x2="121.2" y2="471.7" stroke="#222" stroke-width="0.6"/>
<line x1="124.2" y1="470.3" x2="124.2" y2="471.7" stroke="#222" stroke-width="0.6"/>
<line x1="126.2" y1="470.3" x2="126.2" y2="471.7" stroke="#222" stroke-width="0.6"/>
<line x1="127.7" y1="470.3" x2="127.7" y2="471.7" stroke="#222" stroke-width="0.6"/>
<line x1="129.2" y1="470.3" x2="129.2" y2="471.7" stroke="#222" stroke-width="0.6"/>
<line x1="131.2" y1="470.3" x2="131.2" y2="471.7" stroke="#222" stroke-width="0.6"/>
<line x1="134.2" y1="470.3" x2="134.2" y2="471.7" stroke="#222" stroke-width="0.6"/>
<line x1="138.2" y1="470.3" x2="138.2" y2="471.7" stroke="#222" stroke-width="0.6"/>
<line x1="143.2" y1="470.3" x2="143.2" y2="471.7" stroke="#222" stroke-width="0.6"/>
<line x1="147.2" y1="470.3" x2="147.2" y2="471.7" stroke="#222" stroke-width="0.6"/>
<line x1="150.2" y1="470.3" x2="150.2" y2="471.7" stroke="#222" stroke-width="0.6"/>
<line x1="156.2" y1="470.3" x2="156.2" y2="471.7" stroke="#222" stroke-width="0.6"/>
<line x1="161.2" y1="470.3" x2="161.2" y2="471.7" stroke="#222" stroke-width="0.6"/>
<line x1="164.2" y1="470.3" x2="164.2" y2="471.7" stroke="#222" stroke-width="0.6"/>
<line x1="168.2" y1="470.3" x2="168.2" y2="471.7" stroke="#222" stroke-width="0.6"/>
<line x1="125.2" y1="470.3" x2="125.2" y2="472.5" stroke="#111" stroke-width="0.9"/>
<line x1="126.7" y1="470.3" x2="126.7" y2="472.5" stroke="#111" stroke-width="0.9"/>
<line x1="128.2" y1="470.3" x2="128.2" y2="472.5" stroke="#111" stroke-width="0.9"/>
<line x1="129.7" y1="470.3" x2="129.7" y2="472.5" stroke="#111" stroke-width="0.9"/>
<g>
<path d="M223.61 450.18 L237.68 435.58 L230.32 429.42 L218.39 445.82 Z" fill="#a8b8de" opacity="0.55" filter="url(#bl1)"/>
<g fill="#7088c4" opacity="0.6"><circle cx="233.09" cy="432.77" r="0.42"/><circle cx="232.01" cy="428.95" r="0.42"/><circle cx="228.86" cy="444.14" r="0.42"/><circle cx="233.48" cy="430.93" r="0.42"/><circle cx="227.92" cy="446.03" r="0.42"/><circle cx="233.89" cy="422.41" r="0.42"/><circle cx="237.42" cy="434.67" r="0.42"/><circle cx="230.23" cy="441.61" r="0.42"/><circle cx="222.95" cy="446.71" r="0.42"/><circle cx="224.21" cy="437.05" r="0.42"/><circle cx="221.83" cy="446.98" r="0.42"/><circle cx="223.06" cy="442.12" r="0.42"/><circle cx="225.02" cy="440.64" r="0.42"/><circle cx="235.13" cy="434.86" r="0.42"/><circle cx="233.17" cy="429.45" r="0.42"/><circle cx="236.96" cy="431.05" r="0.42"/><circle cx="231.66" cy="440.58" r="0.42"/><circle cx="231.12" cy="430.55" r="0.42"/><circle cx="228.2" cy="436.05" r="0.42"/><circle cx="238.25" cy="427.75" r="0.42"/><circle cx="229.52" cy="431.82" r="0.42"/><circle cx="220.45" cy="447.55" r="0.42"/><circle cx="227.12" cy="434.72" r="0.42"/><circle cx="227.88" cy="439.84" r="0.42"/><circle cx="227.58" cy="441.35" r="0.42"/><circle cx="230.8" cy="431.32" r="0.42"/><circle cx="223.7" cy="442.81" r="0.42"/><circle cx="221.7" cy="441.41" r="0.42"/><circle cx="233.02" cy="418.46" r="0.42"/><circle cx="232.62" cy="422.26" r="0.42"/><circle cx="221.79" cy="447.96" r="0.42"/><circle cx="232.93" cy="424.39" r="0.42"/><circle cx="224.47" cy="444.17" r="0.42"/><circle cx="234.03" cy="434" r="0.42"/><circle cx="222.43" cy="450.16" r="0.42"/><circle cx="234.38" cy="424.26" r="0.42"/><circle cx="223.58" cy="447.59" r="0.42"/><circle cx="226.12" cy="431.94" r="0.42"/><circle cx="234.19" cy="423.74" r="0.42"/><circle cx="234.61" cy="430.12" r="0.42"/><circle cx="228.87" cy="435.7" r="0.42"/><circle cx="230.84" cy="443.97" r="0.42"/><circle cx="240.01" cy="429.77" r="0.42"/><circle cx="228.22" cy="436.31" r="0.42"/><circle cx="234.54" cy="428.34" r="0.42"/><circle cx="221.51" cy="452.07" r="0.42"/><circle cx="232.41" cy="440.54" r="0.42"/><circle cx="233.14" cy="430.44" r="0.42"/><circle cx="232.49" cy="427.04" r="0.42"/><circle cx="222.7" cy="437.76" r="0.42"/><circle cx="228.18" cy="436.34" r="0.42"/><circle cx="227.16" cy="441.99" r="0.42"/><circle cx="221.31" cy="445.88" r="0.42"/><circle cx="220.91" cy="445.34" r="0.42"/><circle cx="231.14" cy="431.32" r="0.42"/><circle cx="221.62" cy="446.6" r="0.42"/><circle cx="225.93" cy="440.32" r="0.42"/><circle cx="233.44" cy="435.9" r="0.42"/><circle cx="231.41" cy="432.93" r="0.42"/><circle cx="232.62" cy="426.12" r="0.42"/><circle cx="226.82" cy="443.37" r="0.42"/><circle cx="228.89" cy="435.23" r="0.42"/><circle cx="231.81" cy="433.35" r="0.42"/><circle cx="226.88" cy="446.15" r="0.42"/><circle cx="223.05" cy="448.71" r="0.42"/><circle cx="234.03" cy="429.84" r="0.42"/><circle cx="229.53" cy="421.58" r="0.42"/><circle cx="225.69" cy="443.37" r="0.42"/><circle cx="239.49" cy="435.34" r="0.42"/><circle cx="234.95" cy="436.59" r="0.42"/><circle cx="222.31" cy="445.17" r="0.42"/><circle cx="238.35" cy="426.54" r="0.42"/><circle cx="222.51" cy="446.29" r="0.42"/><circle cx="230.13" cy="429.18" r="0.42"/><circle cx="231.5" cy="434.04" r="0.42"/><circle cx="219.44" cy="447.15" r="0.42"/><circle cx="232.12" cy="440.03" r="0.42"/><circle cx="223.23" cy="444.28" r="0.42"/><circle cx="231.57" cy="440.96" r="0.42"/><circle cx="223.23" cy="444.79" r="0.42"/><circle cx="230.78" cy="424" r="0.42"/><circle cx="221.63" cy="441.82" r="0.42"/><circle cx="235.64" cy="429.92" r="0.42"/><circle cx="226.26" cy="440.58" r="0.42"/><circle cx="235.79" cy="434.15" r="0.42"/><circle cx="221.77" cy="449.42" r="0.42"/><circle cx="230.27" cy="430.83" r="0.42"/><circle cx="225.83" cy="440.37" r="0.42"/><circle cx="235.75" cy="431.61" r="0.42"/><circle cx="238.08" cy="427.38" r="0.42"/><circle cx="237.11" cy="432.83" r="0.42"/><circle cx="228.79" cy="430.64" r="0.42"/><circle cx="226.48" cy="443.88" r="0.42"/><circle cx="233.04" cy="434.52" r="0.42"/><circle cx="226.48" cy="442.03" r="0.42"/><circle cx="232.36" cy="438.26" r="0.42"/><circle cx="233.67" cy="421.05" r="0.42"/><circle cx="233.06" cy="422.09" r="0.42"/><circle cx="224.7" cy="443.55" r="0.42"/><circle cx="229.23" cy="439.86" r="0.42"/><circle cx="227.21" cy="437" r="0.42"/><circle cx="234.35" cy="424.15" r="0.42"/><circle cx="223.49" cy="444.59" r="0.42"/><circle cx="229.56" cy="436.64" r="0.42"/><circle cx="234.84" cy="427.72" r="0.42"/><circle cx="226.16" cy="432.23" r="0.42"/><circle cx="231.41" cy="437.52" r="0.42"/><circle cx="234.66" cy="425.91" r="0.42"/><circle cx="226.22" cy="442.16" r="0.42"/><circle cx="223.68" cy="435.34" r="0.42"/><circle cx="220.12" cy="446.46" r="0.42"/><circle cx="232.7" cy="428.36" r="0.42"/><circle cx="225.11" cy="443.91" r="0.42"/><circle cx="233.33" cy="434.64" r="0.42"/><circle cx="230.99" cy="422.32" r="0.42"/><circle cx="228.95" cy="431.23" r="0.42"/><circle cx="227.06" cy="442.4" r="0.42"/><circle cx="219.84" cy="449.77" r="0.42"/><circle cx="215.74" cy="446.68" r="0.42"/><circle cx="232.1" cy="437.19" r="0.42"/><circle cx="225.61" cy="446.22" r="0.42"/><circle cx="226.98" cy="436.91" r="0.42"/><circle cx="238.44" cy="435.18" r="0.42"/><circle cx="227.21" cy="440.57" r="0.42"/><circle cx="234.48" cy="434.07" r="0.42"/><circle cx="232.82" cy="427.93" r="0.42"/><circle cx="222.76" cy="454.02" r="0.42"/><circle cx="221.58" cy="442.46" r="0.42"/><circle cx="232.92" cy="434.73" r="0.42"/><circle cx="224.85" cy="446.49" r="0.42"/><circle cx="230.48" cy="432.85" r="0.42"/><circle cx="226.77" cy="447.99" r="0.42"/><circle cx="225.33" cy="445.45" r="0.42"/><circle cx="236.3" cy="435.43" r="0.42"/><circle cx="223.08" cy="445.58" r="0.42"/><circle cx="222.63" cy="451.08" r="0.42"/><circle cx="222.58" cy="445.46" r="0.42"/><circle cx="225.31" cy="445.57" r="0.42"/><circle cx="225.14" cy="442.92" r="0.42"/><circle cx="229.67" cy="437.4" r="0.42"/></g>
<g fill="#98aedc" opacity="0.55"><circle cx="225.06" cy="421.56" r="0.4"/><circle cx="228.58" cy="424.36" r="0.4"/><circle cx="226.89" cy="424.28" r="0.4"/><circle cx="223.16" cy="424.59" r="0.4"/><circle cx="229.96" cy="424.42" r="0.4"/><circle cx="226.36" cy="424.12" r="0.4"/><circle cx="228.96" cy="425.6" r="0.4"/><circle cx="229.47" cy="424.38" r="0.4"/><circle cx="225.97" cy="425.29" r="0.4"/><circle cx="232.6" cy="423.26" r="0.4"/><circle cx="230.74" cy="424.46" r="0.4"/><circle cx="228.34" cy="422.07" r="0.4"/><circle cx="234.65" cy="421.2" r="0.4"/><circle cx="229.56" cy="423.44" r="0.4"/><circle cx="232.51" cy="423.37" r="0.4"/><circle cx="228.64" cy="424.92" r="0.4"/><circle cx="230.1" cy="423.22" r="0.4"/><circle cx="230.88" cy="424.59" r="0.4"/><circle cx="231.96" cy="423.23" r="0.4"/><circle cx="228.34" cy="423.41" r="0.4"/><circle cx="225.57" cy="424.38" r="0.4"/><circle cx="229.93" cy="426.13" r="0.4"/><circle cx="227.36" cy="424.58" r="0.4"/><circle cx="232.49" cy="423.83" r="0.4"/><circle cx="228.72" cy="424.2" r="0.4"/></g>
<g fill="#5e7890" opacity="0.8"><circle cx="225.94" cy="456.56" r="0.45"/><circle cx="224.46" cy="455.99" r="0.45"/><circle cx="221.81" cy="456.66" r="0.45"/><circle cx="226.59" cy="457.28" r="0.45"/><circle cx="228.48" cy="455.53" r="0.45"/><circle cx="223.89" cy="456.44" r="0.45"/><circle cx="221.55" cy="456.03" r="0.45"/><circle cx="221.22" cy="456.82" r="0.45"/><circle cx="224.44" cy="456.86" r="0.45"/><circle cx="225.84" cy="455.96" r="0.45"/><circle cx="223.88" cy="456.55" r="0.45"/><circle cx="228.62" cy="457.08" r="0.45"/><circle cx="225.4" cy="456.41" r="0.45"/><circle cx="228.68" cy="456.26" r="0.45"/><circle cx="228.18" cy="458.42" r="0.45"/><circle cx="224.57" cy="457.87" r="0.45"/><circle cx="222.85" cy="456.89" r="0.45"/><circle cx="226.66" cy="456.64" r="0.45"/><circle cx="221.88" cy="456.66" r="0.45"/><circle cx="225.64" cy="457.13" r="0.45"/><circle cx="225.21" cy="456.32" r="0.45"/><circle cx="223.47" cy="457.52" r="0.45"/><circle cx="222.16" cy="457.13" r="0.45"/><circle cx="225.57" cy="456.47" r="0.45"/><circle cx="222.82" cy="457.23" r="0.45"/></g>
<g fill="#b0c0e0" opacity="0.5"><circle cx="210.16" cy="454.55" r="0.35"/><circle cx="217.84" cy="448.6" r="0.35"/><circle cx="212.49" cy="453.07" r="0.35"/><circle cx="209.21" cy="454.36" r="0.35"/><circle cx="207.87" cy="456.19" r="0.35"/><circle cx="219.78" cy="448.95" r="0.35"/><circle cx="215.51" cy="449.99" r="0.35"/><circle cx="214.39" cy="451.67" r="0.35"/><circle cx="209.52" cy="452" r="0.35"/><circle cx="220.11" cy="448.56" r="0.35"/><circle cx="213.15" cy="455.61" r="0.35"/><circle cx="215.3" cy="454.38" r="0.35"/><circle cx="210.94" cy="455.24" r="0.35"/><circle cx="213.49" cy="451.82" r="0.35"/><circle cx="214.87" cy="450.02" r="0.35"/><circle cx="215.46" cy="451.43" r="0.35"/></g>
<path d="M202.2 457.8 L202.6 453.6 L205.5 452.8 L208.7 454.6 L215.3 455.8 L215.3 457.4 Z" fill="url(#gA)" opacity="0.63" filter="url(#bl1)"/>
<g opacity="0.77"><rect x="205.73" y="453" width="0.6" height="0.6" fill="#4c9d66"/><rect x="202.92" y="453.54" width="0.6" height="0.6" fill="#3c9a58"/><rect x="203.87" y="453.46" width="0.6" height="0.6" fill="#449b5f"/><rect x="204.24" y="453.45" width="0.6" height="0.6" fill="#459c60"/><rect x="204.81" y="453.23" width="0.6" height="0.6" fill="#499c63"/><rect x="205.87" y="453.27" width="0.6" height="0.6" fill="#4d9d66"/><rect x="202.83" y="453.93" width="0.6" height="0.6" fill="#419b5c"/><rect x="203.1" y="453.97" width="0.6" height="0.6" fill="#469c60"/><rect x="203.73" y="453.86" width="0.6" height="0.6" fill="#439b5e"/><rect x="204.51" y="453.76" width="0.6" height="0.6" fill="#459c60"/><rect x="205.02" y="454" width="0.6" height="0.6" fill="#4c9d65"/><rect x="205.41" y="453.98" width="0.6" height="0.6" fill="#499c63"/><rect x="205.88" y="453.76" width="0.6" height="0.6" fill="#519e6a"/><rect x="206.83" y="454.05" width="0.6" height="0.6" fill="#4a9d64"/><rect x="207.06" y="454.01" width="0.6" height="0.6" fill="#519e6a"/><rect x="202.55" y="454.43" width="0.6" height="0.6" fill="#3c9a58"/><rect x="204.05" y="454.26" width="0.6" height="0.6" fill="#419b5c"/><rect x="204.18" y="454.58" width="0.6" height="0.6" fill="#429b5d"/><rect x="204.92" y="454.24" width="0.6" height="0.6" fill="#539f6c"/><rect x="205.28" y="454.34" width="0.6" height="0.6" fill="#519e6a"/><rect x="205.87" y="454.25" width="0.6" height="0.6" fill="#509e69"/><rect x="206.77" y="454.28" width="0.6" height="0.6" fill="#569f6f"/><rect x="207.28" y="454.41" width="0.6" height="0.6" fill="#569f6e"/><rect x="207.94" y="454.26" width="0.6" height="0.6" fill="#5ca175"/><rect x="208.79" y="454.68" width="0.6" height="0.6" fill="#5ca175"/><rect x="204.01" y="454.88" width="0.6" height="0.6" fill="#4a9d64"/><rect x="204.34" y="454.93" width="0.6" height="0.6" fill="#489c63"/><rect x="205.15" y="454.96" width="0.6" height="0.6" fill="#4c9d65"/><rect x="205.69" y="455.13" width="0.6" height="0.6" fill="#549f6c"/><rect x="206.3" y="455.11" width="0.6" height="0.6" fill="#4b9d64"/><rect x="206.76" y="454.88" width="0.6" height="0.6" fill="#4a9d64"/><rect x="206.97" y="455.02" width="0.6" height="0.6" fill="#5aa073"/><rect x="208.42" y="455.19" width="0.6" height="0.6" fill="#6da78b"/><rect x="208.89" y="455.08" width="0.6" height="0.6" fill="#59a072"/><rect x="209.54" y="455.02" width="0.6" height="0.6" fill="#5da176"/><rect x="210.04" y="455.18" width="0.6" height="0.6" fill="#7eada2"/><rect x="211.31" y="455.15" width="0.6" height="0.6" fill="#7fada3"/><rect x="202.79" y="455.35" width="0.6" height="0.6" fill="#3f9a5b"/><rect x="203.46" y="455.56" width="0.6" height="0.6" fill="#3c9a58"/><rect x="203.93" y="455.4" width="0.6" height="0.6" fill="#499c63"/><rect x="204.33" y="455.78" width="0.6" height="0.6" fill="#4d9d67"/><rect x="204.72" y="455.6" width="0.6" height="0.6" fill="#4f9e68"/><rect x="205.61" y="455.51" width="0.6" height="0.6" fill="#439b5e"/><rect x="206.19" y="455.48" width="0.6" height="0.6" fill="#4d9d67"/><rect x="206.72" y="455.7" width="0.6" height="0.6" fill="#63a47f"/><rect x="207.12" y="455.49" width="0.6" height="0.6" fill="#489c63"/><rect x="207.91" y="455.4" width="0.6" height="0.6" fill="#539e6b"/><rect x="208.09" y="455.57" width="0.6" height="0.6" fill="#68a585"/><rect x="209.6" y="455.58" width="0.6" height="0.6" fill="#73a993"/><rect x="210.38" y="455.76" width="0.6" height="0.6" fill="#88b1af"/><rect x="211.75" y="455.78" width="0.6" height="0.6" fill="#8eb2b6"/><rect x="212.61" y="455.6" width="0.6" height="0.6" fill="#84afa9"/><rect x="213.09" y="455.51" width="0.6" height="0.6" fill="#8ab1b1"/><rect x="214.41" y="455.67" width="0.6" height="0.6" fill="#9fb8cc"/><rect x="202.95" y="455.95" width="0.6" height="0.6" fill="#3e9a59"/><rect x="203.41" y="456.21" width="0.6" height="0.6" fill="#3c9a58"/><rect x="204.02" y="456.31" width="0.6" height="0.6" fill="#499c63"/><rect x="204.19" y="455.88" width="0.6" height="0.6" fill="#439b5e"/><rect x="205.04" y="455.92" width="0.6" height="0.6" fill="#3e9a5a"/><rect x="205.42" y="456.23" width="0.6" height="0.6" fill="#3e9a59"/><rect x="205.9" y="455.93" width="0.6" height="0.6" fill="#4a9d64"/><rect x="206.43" y="455.96" width="0.6" height="0.6" fill="#4d9d66"/><rect x="207" y="456.01" width="0.6" height="0.6" fill="#559f6d"/><rect x="207.67" y="456.34" width="0.6" height="0.6" fill="#5fa279"/><rect x="208.47" y="456.09" width="0.6" height="0.6" fill="#579f6f"/><rect x="208.63" y="455.89" width="0.6" height="0.6" fill="#5aa073"/><rect x="209.58" y="456.05" width="0.6" height="0.6" fill="#5ea278"/><rect x="210" y="456.05" width="0.6" height="0.6" fill="#72a991"/><rect x="210.63" y="456.14" width="0.6" height="0.6" fill="#7fada2"/><rect x="211.5" y="456.07" width="0.6" height="0.6" fill="#6ea78d"/><rect x="212.13" y="456.18" width="0.6" height="0.6" fill="#8ab1b2"/><rect x="212.58" y="456.28" width="0.6" height="0.6" fill="#87b0ae"/><rect x="213.25" y="456.19" width="0.6" height="0.6" fill="#9fb8cc"/><rect x="213.7" y="455.94" width="0.6" height="0.6" fill="#91b4ba"/><rect x="214.5" y="456.25" width="0.6" height="0.6" fill="#99b6c4"/><rect x="202.96" y="456.72" width="0.6" height="0.6" fill="#449b5f"/><rect x="203.22" y="456.59" width="0.6" height="0.6" fill="#419b5c"/><rect x="203.79" y="456.59" width="0.6" height="0.6" fill="#3f9a5b"/><rect x="204.61" y="456.67" width="0.6" height="0.6" fill="#429b5d"/><rect x="204.78" y="456.74" width="0.6" height="0.6" fill="#509e69"/><rect x="205.87" y="456.51" width="0.6" height="0.6" fill="#4c9d66"/><rect x="207.18" y="456.86" width="0.6" height="0.6" fill="#60a37b"/><rect x="207.91" y="456.62" width="0.6" height="0.6" fill="#579f6f"/><rect x="209.12" y="456.43" width="0.6" height="0.6" fill="#539e6b"/><rect x="209.66" y="456.75" width="0.6" height="0.6" fill="#6ea78d"/><rect x="210.29" y="456.7" width="0.6" height="0.6" fill="#74aa95"/><rect x="211.52" y="456.6" width="0.6" height="0.6" fill="#81aea5"/><rect x="212.35" y="456.75" width="0.6" height="0.6" fill="#a6bbd6"/><rect x="212.49" y="456.48" width="0.6" height="0.6" fill="#88b0af"/><rect x="213.22" y="456.74" width="0.6" height="0.6" fill="#8cb2b4"/><rect x="213.72" y="456.8" width="0.6" height="0.6" fill="#7fada3"/><rect x="214.35" y="456.57" width="0.6" height="0.6" fill="#a4bad3"/><rect x="202.59" y="457.14" width="0.6" height="0.6" fill="#469c61"/><rect x="203.44" y="457.21" width="0.6" height="0.6" fill="#429b5d"/><rect x="204" y="457.16" width="0.6" height="0.6" fill="#3d9a59"/><rect x="205.16" y="457.26" width="0.6" height="0.6" fill="#469c61"/><rect x="206.85" y="457.29" width="0.6" height="0.6" fill="#529e6b"/><rect x="208.04" y="457.42" width="0.6" height="0.6" fill="#539f6c"/><rect x="208.62" y="457.33" width="0.6" height="0.6" fill="#6aa688"/><rect x="209.31" y="457.42" width="0.6" height="0.6" fill="#5da176"/><rect x="210.04" y="457" width="0.6" height="0.6" fill="#7fada3"/><rect x="210.42" y="457.31" width="0.6" height="0.6" fill="#81aea5"/><rect x="211.12" y="457.27" width="0.6" height="0.6" fill="#66a583"/><rect x="211.41" y="457.28" width="0.6" height="0.6" fill="#7dada0"/><rect x="212.9" y="457.16" width="0.6" height="0.6" fill="#94b5be"/><rect x="213.18" y="457.38" width="0.6" height="0.6" fill="#7eada1"/><rect x="213.98" y="457.19" width="0.6" height="0.6" fill="#99b6c4"/><rect x="214.87" y="457.32" width="0.6" height="0.6" fill="#9cb8c9"/><rect x="202.27" y="457.69" width="0.6" height="0.6" fill="#3c9a58"/><rect x="203.5" y="457.52" width="0.6" height="0.6" fill="#409b5c"/><rect x="205.31" y="457.59" width="0.6" height="0.6" fill="#499c63"/></g>
</g>
<rect x="189.7" y="415.4" width="55.7" height="54.9" fill="none" stroke="#777" stroke-width="0.9"/>
<line x1="219.1" y1="415.4" x2="219.1" y2="470.3" stroke="#7a7a7a" stroke-width="0.9"/>
<line x1="189.7" y1="429.2" x2="245.4" y2="429.2" stroke="#6a6a6a" stroke-width="0.9"/>
<line x1="189.7" y1="415.4" x2="189.7" y2="470.3" stroke="#333" stroke-width="1"/>
<line x1="189.7" y1="470.3" x2="245.4" y2="470.3" stroke="#333" stroke-width="1"/>
<text x="217.25" y="410.8" font-size="8.4" text-anchor="middle" stroke="#222" stroke-width="0.08" textLength="64.6" lengthAdjust="spacingAndGlyphs">A1155463 100nM</text>
<text x="190.9" y="421.2" font-size="4.9" fill="#333" stroke="#333" stroke-width="0.08">Q1</text>
<text x="190.9" y="425.4" font-size="4.9" fill="#333" stroke="#333" stroke-width="0.08">0.062</text>
<text x="244.4" y="421.2" font-size="4.9" text-anchor="end" fill="#333" stroke="#333" stroke-width="0.08">Q2</text>
<text x="244.4" y="425.4" font-size="4.9" text-anchor="end" fill="#333" stroke="#333" stroke-width="0.08">4.26</text>
<text x="190.9" y="463.9" font-size="4.9" fill="#333" stroke="#333" stroke-width="0.08">Q4</text>
<text x="190.9" y="468.1" font-size="4.9" fill="#333" stroke="#333" stroke-width="0.08">77.5</text>
<text x="244.4" y="463.9" font-size="4.9" text-anchor="end" fill="#333" stroke="#333" stroke-width="0.08">Q3</text>
<text x="244.4" y="468.1" font-size="4.9" text-anchor="end" fill="#333" stroke="#333" stroke-width="0.08">18.2</text>
<text x="183.7" y="422" font-size="5.9" text-anchor="end" fill="#333">10<tspan font-size="4.01" dy="-2.2">5</tspan></text>
<line x1="188.1" y1="420" x2="189.7" y2="420" stroke="#222" stroke-width="0.8"/>
<text x="183.7" y="435" font-size="5.9" text-anchor="end" fill="#333">10<tspan font-size="4.01" dy="-2.2">4</tspan></text>
<line x1="188.1" y1="433" x2="189.7" y2="433" stroke="#222" stroke-width="0.8"/>
<text x="183.7" y="451" font-size="5.9" text-anchor="end" fill="#333">10<tspan font-size="4.01" dy="-2.2">3</tspan></text>
<line x1="188.1" y1="449" x2="189.7" y2="449" stroke="#222" stroke-width="0.8"/>
<text x="183.8" y="460.5" font-size="5.6" text-anchor="end" fill="#333" stroke="#333" stroke-width="0.08">0</text>
<line x1="188.1" y1="458.5" x2="189.7" y2="458.5" stroke="#222" stroke-width="0.8"/>
<text x="183.7" y="468.5" font-size="5.9" text-anchor="end" fill="#333">−10<tspan font-size="4.01" dy="-2.2">3</tspan></text>
<line x1="188.1" y1="466.5" x2="189.7" y2="466.5" stroke="#222" stroke-width="0.8"/>
<line x1="188.7" y1="423.4" x2="189.7" y2="423.4" stroke="#333" stroke-width="0.5"/>
<line x1="188.7" y1="425.4" x2="189.7" y2="425.4" stroke="#333" stroke-width="0.5"/>
<line x1="188.7" y1="427.4" x2="189.7" y2="427.4" stroke="#333" stroke-width="0.5"/>
<line x1="188.7" y1="429.4" x2="189.7" y2="429.4" stroke="#333" stroke-width="0.5"/>
<line x1="188.7" y1="436.4" x2="189.7" y2="436.4" stroke="#333" stroke-width="0.5"/>
<line x1="188.7" y1="439.4" x2="189.7" y2="439.4" stroke="#333" stroke-width="0.5"/>
<line x1="188.7" y1="442.4" x2="189.7" y2="442.4" stroke="#333" stroke-width="0.5"/>
<line x1="188.7" y1="445.4" x2="189.7" y2="445.4" stroke="#333" stroke-width="0.5"/>
<line x1="188.4" y1="453.9" x2="189.7" y2="453.9" stroke="#222" stroke-width="0.6"/>
<line x1="188.4" y1="455.4" x2="189.7" y2="455.4" stroke="#222" stroke-width="0.6"/>
<line x1="188.4" y1="456.9" x2="189.7" y2="456.9" stroke="#222" stroke-width="0.6"/>
<line x1="188.4" y1="458.5" x2="189.7" y2="458.5" stroke="#222" stroke-width="0.6"/>
<line x1="188.4" y1="459.9" x2="189.7" y2="459.9" stroke="#222" stroke-width="0.6"/>
<line x1="188.4" y1="461.4" x2="189.7" y2="461.4" stroke="#222" stroke-width="0.6"/>
<line x1="188.4" y1="462.9" x2="189.7" y2="462.9" stroke="#222" stroke-width="0.6"/>
<text x="193.3" y="480.9" font-size="5.6" text-anchor="middle" fill="#333">−10<tspan font-size="3.81" dy="-2.2">3</tspan></text>
<text x="203.7" y="480.9" font-size="5.6" text-anchor="middle" fill="#333" stroke="#333" stroke-width="0.08">0</text>
<text x="211.2" y="480.9" font-size="5.6" text-anchor="middle" fill="#333">10<tspan font-size="3.81" dy="-2.2">3</tspan></text>
<text x="226.5" y="480.9" font-size="5.6" text-anchor="middle" fill="#333">10<tspan font-size="3.81" dy="-2.2">4</tspan></text>
<text x="240" y="480.9" font-size="5.6" text-anchor="middle" fill="#333">10<tspan font-size="3.81" dy="-2.2">5</tspan></text>
<line x1="193.2" y1="470.3" x2="193.2" y2="471.7" stroke="#222" stroke-width="0.6"/>
<line x1="196.7" y1="470.3" x2="196.7" y2="471.7" stroke="#222" stroke-width="0.6"/>
<line x1="199.7" y1="470.3" x2="199.7" y2="471.7" stroke="#222" stroke-width="0.6"/>
<line x1="201.7" y1="470.3" x2="201.7" y2="471.7" stroke="#222" stroke-width="0.6"/>
<line x1="203.2" y1="470.3" x2="203.2" y2="471.7" stroke="#222" stroke-width="0.6"/>
<line x1="204.7" y1="470.3" x2="204.7" y2="471.7" stroke="#222" stroke-width="0.6"/>
<line x1="206.7" y1="470.3" x2="206.7" y2="471.7" stroke="#222" stroke-width="0.6"/>
<line x1="209.7" y1="470.3" x2="209.7" y2="471.7" stroke="#222" stroke-width="0.6"/>
<line x1="213.7" y1="470.3" x2="213.7" y2="471.7" stroke="#222" stroke-width="0.6"/>
<line x1="218.7" y1="470.3" x2="218.7" y2="471.7" stroke="#222" stroke-width="0.6"/>
<line x1="222.7" y1="470.3" x2="222.7" y2="471.7" stroke="#222" stroke-width="0.6"/>
<line x1="225.7" y1="470.3" x2="225.7" y2="471.7" stroke="#222" stroke-width="0.6"/>
<line x1="231.7" y1="470.3" x2="231.7" y2="471.7" stroke="#222" stroke-width="0.6"/>
<line x1="236.7" y1="470.3" x2="236.7" y2="471.7" stroke="#222" stroke-width="0.6"/>
<line x1="239.7" y1="470.3" x2="239.7" y2="471.7" stroke="#222" stroke-width="0.6"/>
<line x1="243.7" y1="470.3" x2="243.7" y2="471.7" stroke="#222" stroke-width="0.6"/>
<line x1="200.7" y1="470.3" x2="200.7" y2="472.5" stroke="#111" stroke-width="0.9"/>
<line x1="202.2" y1="470.3" x2="202.2" y2="472.5" stroke="#111" stroke-width="0.9"/>
<line x1="203.7" y1="470.3" x2="203.7" y2="472.5" stroke="#111" stroke-width="0.9"/>
<line x1="205.2" y1="470.3" x2="205.2" y2="472.5" stroke="#111" stroke-width="0.9"/>
<g>
<path d="M71.86 533.9 L87.38 519.72 L80.62 513.48 L67.74 530.1 Z" fill="#b0c0e0" opacity="0.5" filter="url(#bl1)"/>
<g fill="#7890c8" opacity="0.6"><circle cx="82.11" cy="520.71" r="0.42"/><circle cx="80.44" cy="530.66" r="0.42"/><circle cx="70.32" cy="526.05" r="0.42"/><circle cx="74.06" cy="522.32" r="0.42"/><circle cx="69.03" cy="534.51" r="0.42"/><circle cx="75.91" cy="525.04" r="0.42"/><circle cx="81.14" cy="505.97" r="0.42"/><circle cx="81.28" cy="504.92" r="0.42"/><circle cx="81.47" cy="508.76" r="0.42"/><circle cx="79.47" cy="516.06" r="0.42"/><circle cx="79.53" cy="528.91" r="0.42"/><circle cx="69.07" cy="533.31" r="0.42"/><circle cx="78.86" cy="523.74" r="0.42"/><circle cx="85.41" cy="514.01" r="0.42"/><circle cx="78.42" cy="503.76" r="0.42"/><circle cx="65.91" cy="537.16" r="0.42"/><circle cx="83.83" cy="504.97" r="0.42"/><circle cx="71.81" cy="530.65" r="0.42"/><circle cx="83.38" cy="518.47" r="0.42"/><circle cx="72.84" cy="531.07" r="0.42"/><circle cx="74.84" cy="533.71" r="0.42"/><circle cx="82.74" cy="507.21" r="0.42"/><circle cx="82.94" cy="503.35" r="0.42"/><circle cx="72.29" cy="536.11" r="0.42"/><circle cx="65.84" cy="531.84" r="0.42"/><circle cx="70.29" cy="528.7" r="0.42"/><circle cx="85.62" cy="513.6" r="0.42"/><circle cx="81.4" cy="516.6" r="0.42"/><circle cx="82.64" cy="512.44" r="0.42"/><circle cx="82.73" cy="508.42" r="0.42"/><circle cx="73.46" cy="532.27" r="0.42"/><circle cx="86.13" cy="513.29" r="0.42"/><circle cx="82.88" cy="516.63" r="0.42"/><circle cx="79.23" cy="520.37" r="0.42"/><circle cx="77.72" cy="523.38" r="0.42"/><circle cx="77.65" cy="528.91" r="0.42"/><circle cx="69.44" cy="530.23" r="0.42"/><circle cx="76.19" cy="525.69" r="0.42"/><circle cx="81.04" cy="517.23" r="0.42"/><circle cx="77.18" cy="523.43" r="0.42"/><circle cx="71.33" cy="530.72" r="0.42"/><circle cx="76.19" cy="528.35" r="0.42"/><circle cx="79.35" cy="522.1" r="0.42"/><circle cx="85.7" cy="507.24" r="0.42"/><circle cx="76.54" cy="524.22" r="0.42"/><circle cx="87.63" cy="513.78" r="0.42"/><circle cx="70.5" cy="536.78" r="0.42"/><circle cx="85.12" cy="518.34" r="0.42"/><circle cx="72.76" cy="531.37" r="0.42"/><circle cx="71.01" cy="531.95" r="0.42"/><circle cx="75.92" cy="522.17" r="0.42"/><circle cx="80.71" cy="522.26" r="0.42"/><circle cx="82.56" cy="509.94" r="0.42"/><circle cx="77.2" cy="524.07" r="0.42"/><circle cx="83.84" cy="517.49" r="0.42"/><circle cx="74.38" cy="526.75" r="0.42"/><circle cx="75.84" cy="522.82" r="0.42"/><circle cx="70.03" cy="533.1" r="0.42"/><circle cx="84.22" cy="506.21" r="0.42"/><circle cx="78.76" cy="519.36" r="0.42"/><circle cx="82.7" cy="512.01" r="0.42"/><circle cx="75.1" cy="530.46" r="0.42"/><circle cx="77.04" cy="523.22" r="0.42"/><circle cx="73.57" cy="530.08" r="0.42"/><circle cx="77.63" cy="519.29" r="0.42"/><circle cx="83.4" cy="515.05" r="0.42"/><circle cx="74.58" cy="528.67" r="0.42"/><circle cx="84.62" cy="512.53" r="0.42"/><circle cx="79.29" cy="524.24" r="0.42"/><circle cx="81.36" cy="505.58" r="0.42"/><circle cx="70.95" cy="531.76" r="0.42"/><circle cx="77.58" cy="519.46" r="0.42"/><circle cx="87.23" cy="516.28" r="0.42"/><circle cx="84.05" cy="516.61" r="0.42"/><circle cx="76.27" cy="530.23" r="0.42"/><circle cx="70.3" cy="529.27" r="0.42"/><circle cx="81.43" cy="504.74" r="0.42"/><circle cx="79.02" cy="519.44" r="0.42"/><circle cx="72.12" cy="526.95" r="0.42"/><circle cx="75.62" cy="523.64" r="0.42"/><circle cx="82.83" cy="518.65" r="0.42"/><circle cx="81" cy="518.49" r="0.42"/><circle cx="82.42" cy="517.24" r="0.42"/><circle cx="77.15" cy="527.66" r="0.42"/><circle cx="80.44" cy="510.93" r="0.42"/><circle cx="83.1" cy="505.45" r="0.42"/><circle cx="74.81" cy="523.99" r="0.42"/><circle cx="85.69" cy="507.74" r="0.42"/><circle cx="73.76" cy="527.02" r="0.42"/><circle cx="75.9" cy="524.02" r="0.42"/><circle cx="86.71" cy="514.62" r="0.42"/><circle cx="85.38" cy="510.61" r="0.42"/><circle cx="79.17" cy="516.39" r="0.42"/><circle cx="68.6" cy="532.92" r="0.42"/><circle cx="83.58" cy="503.08" r="0.42"/><circle cx="82.62" cy="506.69" r="0.42"/><circle cx="74.41" cy="528.54" r="0.42"/><circle cx="86.41" cy="511.98" r="0.42"/><circle cx="74.7" cy="523.93" r="0.42"/><circle cx="83.68" cy="511.2" r="0.42"/><circle cx="74.38" cy="520.92" r="0.42"/><circle cx="84.01" cy="506.42" r="0.42"/><circle cx="75.94" cy="530.88" r="0.42"/><circle cx="73.77" cy="528.41" r="0.42"/><circle cx="74.03" cy="524.28" r="0.42"/><circle cx="80.22" cy="527.91" r="0.42"/><circle cx="81.22" cy="520.22" r="0.42"/><circle cx="76.01" cy="529.97" r="0.42"/><circle cx="77.05" cy="526.42" r="0.42"/><circle cx="84.07" cy="511.62" r="0.42"/><circle cx="84.57" cy="517.47" r="0.42"/><circle cx="83.1" cy="514.48" r="0.42"/><circle cx="71.93" cy="532.32" r="0.42"/><circle cx="69.98" cy="525.95" r="0.42"/><circle cx="74.12" cy="527.82" r="0.42"/><circle cx="82.53" cy="514.63" r="0.42"/><circle cx="69.94" cy="531.99" r="0.42"/><circle cx="79.37" cy="520.15" r="0.42"/><circle cx="74.97" cy="533.35" r="0.42"/><circle cx="83.41" cy="510.09" r="0.42"/></g>
<g fill="#98aedc" opacity="0.55"><circle cx="83.65" cy="507.14" r="0.4"/><circle cx="79.68" cy="508.44" r="0.4"/><circle cx="72.89" cy="507.13" r="0.4"/><circle cx="85.01" cy="502.24" r="0.4"/><circle cx="80.35" cy="509.16" r="0.4"/><circle cx="80.15" cy="507.85" r="0.4"/><circle cx="83.85" cy="508.1" r="0.4"/><circle cx="72.38" cy="505.8" r="0.4"/><circle cx="77.96" cy="507.76" r="0.4"/><circle cx="77.43" cy="507.31" r="0.4"/><circle cx="84.84" cy="502.22" r="0.4"/><circle cx="83.03" cy="509.19" r="0.4"/><circle cx="81.11" cy="507.53" r="0.4"/><circle cx="79.22" cy="508.15" r="0.4"/><circle cx="79.85" cy="506.2" r="0.4"/><circle cx="81.73" cy="506.01" r="0.4"/><circle cx="78.86" cy="506.86" r="0.4"/><circle cx="74.97" cy="508.59" r="0.4"/><circle cx="78.76" cy="505.4" r="0.4"/><circle cx="78.73" cy="505.02" r="0.4"/><circle cx="84.02" cy="508.43" r="0.4"/><circle cx="85.94" cy="506.48" r="0.4"/><circle cx="81.47" cy="505.76" r="0.4"/><circle cx="76.02" cy="507.34" r="0.4"/><circle cx="80.44" cy="509.16" r="0.4"/></g>
<g fill="#5a70a8" opacity="0.8"><circle cx="69.63" cy="539.85" r="0.45"/><circle cx="71.23" cy="539.71" r="0.45"/><circle cx="72.7" cy="539.08" r="0.45"/><circle cx="72.68" cy="539.92" r="0.45"/><circle cx="75.03" cy="539.86" r="0.45"/><circle cx="72.01" cy="540.26" r="0.45"/><circle cx="73.83" cy="540.39" r="0.45"/><circle cx="75.1" cy="540.47" r="0.45"/><circle cx="77.7" cy="539.79" r="0.45"/><circle cx="72.64" cy="539.82" r="0.45"/><circle cx="70.37" cy="539.71" r="0.45"/><circle cx="70.5" cy="540.01" r="0.45"/><circle cx="74.19" cy="540.42" r="0.45"/><circle cx="72.15" cy="539.91" r="0.45"/><circle cx="73.11" cy="539.95" r="0.45"/><circle cx="71.39" cy="539.9" r="0.45"/><circle cx="73.87" cy="540.26" r="0.45"/><circle cx="70.13" cy="539.3" r="0.45"/><circle cx="74.3" cy="540.15" r="0.45"/><circle cx="72.4" cy="541.07" r="0.45"/><circle cx="74.6" cy="540.67" r="0.45"/><circle cx="69.44" cy="541.42" r="0.45"/><circle cx="74.93" cy="540.02" r="0.45"/><circle cx="71.31" cy="540.47" r="0.45"/><circle cx="68.31" cy="540.61" r="0.45"/></g>
<path d="M51.2 541.3 L54.4 532 L58 537 L64.3 539.6 L64.3 541.2 Z" fill="url(#gV)" opacity="0.66" filter="url(#bl1)"/>
<g opacity="0.81"><rect x="54.45" y="532.56" width="0.6" height="0.6" fill="#517dc2"/><rect x="54.52" y="533.07" width="0.6" height="0.6" fill="#5882c5"/><rect x="55" y="533.56" width="0.6" height="0.6" fill="#537ec3"/><rect x="53.84" y="534.35" width="0.6" height="0.6" fill="#4a8595"/><rect x="54.31" y="534.32" width="0.6" height="0.6" fill="#4a7bb3"/><rect x="55.27" y="533.96" width="0.6" height="0.6" fill="#4c7ac1"/><rect x="55.55" y="534.2" width="0.6" height="0.6" fill="#5983c6"/><rect x="55.96" y="534.21" width="0.6" height="0.6" fill="#648bca"/><rect x="53.76" y="534.74" width="0.6" height="0.6" fill="#4a7daf"/><rect x="54.33" y="534.61" width="0.6" height="0.6" fill="#4e7bc1"/><rect x="55.56" y="534.63" width="0.6" height="0.6" fill="#547fc3"/><rect x="53.28" y="535.46" width="0.6" height="0.6" fill="#4a7ab8"/><rect x="54.02" y="535.45" width="0.6" height="0.6" fill="#6d91cd"/><rect x="54.29" y="535.48" width="0.6" height="0.6" fill="#4a7eac"/><rect x="54.9" y="535.28" width="0.6" height="0.6" fill="#5882c5"/><rect x="55.4" y="535.38" width="0.6" height="0.6" fill="#4a829d"/><rect x="56.24" y="535.07" width="0.6" height="0.6" fill="#527ec3"/><rect x="53.32" y="535.65" width="0.6" height="0.6" fill="#4a829f"/><rect x="54.4" y="535.73" width="0.6" height="0.6" fill="#4a829d"/><rect x="54.81" y="535.82" width="0.6" height="0.6" fill="#5b84c6"/><rect x="56.01" y="535.73" width="0.6" height="0.6" fill="#4a78be"/><rect x="56.5" y="535.95" width="0.6" height="0.6" fill="#4a7dad"/><rect x="57.14" y="536.09" width="0.6" height="0.6" fill="#4b78c0"/><rect x="53.54" y="536.37" width="0.6" height="0.6" fill="#4a839b"/><rect x="54.86" y="536.22" width="0.6" height="0.6" fill="#4a8497"/><rect x="56.12" y="536.55" width="0.6" height="0.6" fill="#517dc3"/><rect x="56.54" y="536.19" width="0.6" height="0.6" fill="#698ecc"/><rect x="57.01" y="536.39" width="0.6" height="0.6" fill="#5680c4"/><rect x="52.79" y="536.95" width="0.6" height="0.6" fill="#4a8a85"/><rect x="54" y="536.76" width="0.6" height="0.6" fill="#4c79c0"/><rect x="55.76" y="537.15" width="0.6" height="0.6" fill="#4a8d7a"/><rect x="56.19" y="536.89" width="0.6" height="0.6" fill="#4a7daf"/><rect x="57.28" y="537.16" width="0.6" height="0.6" fill="#4a8498"/><rect x="52.72" y="537.51" width="0.6" height="0.6" fill="#4a916e"/><rect x="53.24" y="537.53" width="0.6" height="0.6" fill="#4a80a6"/><rect x="54.17" y="537.26" width="0.6" height="0.6" fill="#4a9464"/><rect x="54.33" y="537.67" width="0.6" height="0.6" fill="#4a8692"/><rect x="55.07" y="537.71" width="0.6" height="0.6" fill="#4a8691"/><rect x="55.42" y="537.4" width="0.6" height="0.6" fill="#4a7fa9"/><rect x="57.96" y="537.36" width="0.6" height="0.6" fill="#5781c5"/><rect x="58.15" y="537.63" width="0.6" height="0.6" fill="#4a839a"/><rect x="52.68" y="537.85" width="0.6" height="0.6" fill="#4a8986"/><rect x="53.19" y="538.18" width="0.6" height="0.6" fill="#4a8f76"/><rect x="54.03" y="537.84" width="0.6" height="0.6" fill="#4a8f75"/><rect x="54.45" y="538.02" width="0.6" height="0.6" fill="#4a9369"/><rect x="54.97" y="537.92" width="0.6" height="0.6" fill="#4a888b"/><rect x="55.62" y="538.15" width="0.6" height="0.6" fill="#4a8f73"/><rect x="56.09" y="537.95" width="0.6" height="0.6" fill="#4a829c"/><rect x="57.32" y="538.04" width="0.6" height="0.6" fill="#4a839a"/><rect x="58.01" y="538.27" width="0.6" height="0.6" fill="#4a8987"/><rect x="58.23" y="537.93" width="0.6" height="0.6" fill="#4a81a2"/><rect x="58.9" y="538.18" width="0.6" height="0.6" fill="#4a8c7d"/><rect x="60.2" y="537.99" width="0.6" height="0.6" fill="#6088c8"/><rect x="53.26" y="538.73" width="0.6" height="0.6" fill="#4a926c"/><rect x="54.1" y="538.72" width="0.6" height="0.6" fill="#4a8987"/><rect x="54.74" y="538.46" width="0.6" height="0.6" fill="#4a9072"/><rect x="55.25" y="538.82" width="0.6" height="0.6" fill="#4a8497"/><rect x="55.53" y="538.4" width="0.6" height="0.6" fill="#4a8e77"/><rect x="56.12" y="538.84" width="0.6" height="0.6" fill="#4a878e"/><rect x="56.63" y="538.56" width="0.6" height="0.6" fill="#4a7bb4"/><rect x="57.27" y="538.56" width="0.6" height="0.6" fill="#4a8496"/><rect x="57.71" y="538.6" width="0.6" height="0.6" fill="#4a78be"/><rect x="58.2" y="538.38" width="0.6" height="0.6" fill="#4a7fa9"/><rect x="59.32" y="538.74" width="0.6" height="0.6" fill="#4a8399"/><rect x="59.77" y="538.38" width="0.6" height="0.6" fill="#4a7bb5"/><rect x="61.26" y="538.5" width="0.6" height="0.6" fill="#4a7eac"/><rect x="52.22" y="539.3" width="0.6" height="0.6" fill="#4a975b"/><rect x="52.93" y="539.1" width="0.6" height="0.6" fill="#4a8a83"/><rect x="53.49" y="539.17" width="0.6" height="0.6" fill="#4a7fa7"/><rect x="53.75" y="539.07" width="0.6" height="0.6" fill="#4a8e79"/><rect x="54.47" y="539.33" width="0.6" height="0.6" fill="#4a8e78"/><rect x="55.16" y="539.05" width="0.6" height="0.6" fill="#4a8b80"/><rect x="55.71" y="539.07" width="0.6" height="0.6" fill="#4a8d7a"/><rect x="56.64" y="539.39" width="0.6" height="0.6" fill="#4a8693"/><rect x="57.27" y="539.09" width="0.6" height="0.6" fill="#4a8596"/><rect x="57.71" y="539" width="0.6" height="0.6" fill="#4a8c7e"/><rect x="58.34" y="538.92" width="0.6" height="0.6" fill="#4a839b"/><rect x="58.76" y="539.14" width="0.6" height="0.6" fill="#4a80a5"/><rect x="59.58" y="539.22" width="0.6" height="0.6" fill="#537ec3"/><rect x="60.12" y="539.23" width="0.6" height="0.6" fill="#4a8498"/><rect x="60.66" y="539" width="0.6" height="0.6" fill="#4a7bb6"/><rect x="61.02" y="538.95" width="0.6" height="0.6" fill="#4a78bc"/><rect x="61.49" y="539.27" width="0.6" height="0.6" fill="#4a80a5"/><rect x="62.33" y="538.97" width="0.6" height="0.6" fill="#537ec3"/><rect x="63.19" y="539.27" width="0.6" height="0.6" fill="#688ecb"/><rect x="52.21" y="539.55" width="0.6" height="0.6" fill="#4a9465"/><rect x="53.02" y="539.6" width="0.6" height="0.6" fill="#4a9366"/><rect x="53.6" y="539.59" width="0.6" height="0.6" fill="#4a8c7d"/><rect x="53.76" y="539.54" width="0.6" height="0.6" fill="#4a8c7e"/><rect x="54.54" y="539.67" width="0.6" height="0.6" fill="#4a9954"/><rect x="55.75" y="539.73" width="0.6" height="0.6" fill="#4a8d7c"/><rect x="57.44" y="539.47" width="0.6" height="0.6" fill="#4a8498"/><rect x="57.97" y="539.63" width="0.6" height="0.6" fill="#4a7cb2"/><rect x="58.43" y="539.55" width="0.6" height="0.6" fill="#4a926a"/><rect x="58.74" y="539.81" width="0.6" height="0.6" fill="#4a7ab8"/><rect x="59.34" y="539.51" width="0.6" height="0.6" fill="#4a839b"/><rect x="60.15" y="539.5" width="0.6" height="0.6" fill="#4a7dad"/><rect x="60.73" y="539.51" width="0.6" height="0.6" fill="#4a7ab7"/><rect x="61.32" y="539.62" width="0.6" height="0.6" fill="#4a81a2"/><rect x="62.4" y="539.55" width="0.6" height="0.6" fill="#557fc4"/><rect x="62.92" y="539.84" width="0.6" height="0.6" fill="#4c79c0"/><rect x="63.65" y="539.84" width="0.6" height="0.6" fill="#4a78c0"/><rect x="51.52" y="540.47" width="0.6" height="0.6" fill="#4a926a"/><rect x="52.75" y="540.27" width="0.6" height="0.6" fill="#4a9954"/><rect x="53.58" y="540.34" width="0.6" height="0.6" fill="#4a9465"/><rect x="54.29" y="540.35" width="0.6" height="0.6" fill="#4a9368"/><rect x="55.26" y="540.22" width="0.6" height="0.6" fill="#4a8f74"/><rect x="55.76" y="540.14" width="0.6" height="0.6" fill="#4a888a"/><rect x="56.82" y="540.1" width="0.6" height="0.6" fill="#4a8c7f"/><rect x="57.45" y="540.33" width="0.6" height="0.6" fill="#4a8498"/><rect x="58.02" y="540" width="0.6" height="0.6" fill="#4a80a4"/><rect x="58.13" y="540.5" width="0.6" height="0.6" fill="#4a7bb4"/><rect x="59.02" y="540.02" width="0.6" height="0.6" fill="#4a8692"/><rect x="59.45" y="540.25" width="0.6" height="0.6" fill="#4a8d7a"/><rect x="59.82" y="540.44" width="0.6" height="0.6" fill="#4a829d"/><rect x="60.43" y="540.12" width="0.6" height="0.6" fill="#4a839a"/><rect x="61.3" y="540.26" width="0.6" height="0.6" fill="#4a839b"/><rect x="61.89" y="540.11" width="0.6" height="0.6" fill="#4a7cb0"/><rect x="62.01" y="540.21" width="0.6" height="0.6" fill="#507cc2"/><rect x="63.4" y="540.36" width="0.6" height="0.6" fill="#4a7ab9"/><rect x="63.7" y="540.28" width="0.6" height="0.6" fill="#678dcb"/><rect x="52.54" y="540.61" width="0.6" height="0.6" fill="#4a9070"/><rect x="52.97" y="540.87" width="0.6" height="0.6" fill="#4a926b"/><rect x="54.02" y="540.88" width="0.6" height="0.6" fill="#4aa040"/><rect x="54.54" y="540.61" width="0.6" height="0.6" fill="#4a926b"/><rect x="55.01" y="540.77" width="0.6" height="0.6" fill="#4a965f"/><rect x="55.95" y="540.56" width="0.6" height="0.6" fill="#4a8988"/><rect x="56.65" y="540.77" width="0.6" height="0.6" fill="#4a9072"/><rect x="57.69" y="540.78" width="0.6" height="0.6" fill="#4a8691"/><rect x="58.77" y="540.68" width="0.6" height="0.6" fill="#4a8499"/><rect x="59.39" y="540.67" width="0.6" height="0.6" fill="#4a8b82"/><rect x="60.18" y="540.98" width="0.6" height="0.6" fill="#4a926a"/><rect x="60.66" y="540.78" width="0.6" height="0.6" fill="#4a8b82"/><rect x="60.88" y="540.92" width="0.6" height="0.6" fill="#4a7dae"/><rect x="62.26" y="540.6" width="0.6" height="0.6" fill="#4a8499"/><rect x="63.42" y="540.61" width="0.6" height="0.6" fill="#4a7cb2"/></g>
</g>
<rect x="38.5" y="498.8" width="56.4" height="54.8" fill="none" stroke="#777" stroke-width="0.9"/>
<line x1="68" y1="498.8" x2="68" y2="553.6" stroke="#7a7a7a" stroke-width="0.9"/>
<line x1="38.5" y1="512.8" x2="94.9" y2="512.8" stroke="#6a6a6a" stroke-width="0.9"/>
<line x1="38.5" y1="498.8" x2="38.5" y2="553.6" stroke="#333" stroke-width="1"/>
<line x1="38.5" y1="553.6" x2="94.9" y2="553.6" stroke="#333" stroke-width="1"/>
<text x="66.4" y="494.2" font-size="8.4" text-anchor="middle" stroke="#222" stroke-width="0.08" textLength="40" lengthAdjust="spacingAndGlyphs">Ven 500nM</text>
<text x="39.7" y="504.6" font-size="4.9" fill="#333" stroke="#333" stroke-width="0.08">Q1</text>
<text x="39.7" y="508.8" font-size="4.9" fill="#333" stroke="#333" stroke-width="0.08">0.021</text>
<text x="93.9" y="504.6" font-size="4.9" text-anchor="end" fill="#333" stroke="#333" stroke-width="0.08">Q2</text>
<text x="93.9" y="508.8" font-size="4.9" text-anchor="end" fill="#333" stroke="#333" stroke-width="0.08">3.71</text>
<text x="39.7" y="547.2" font-size="4.9" fill="#333" stroke="#333" stroke-width="0.08">Q4</text>
<text x="39.7" y="551.4" font-size="4.9" fill="#333" stroke="#333" stroke-width="0.08">75.6</text>
<text x="93.9" y="547.2" font-size="4.9" text-anchor="end" fill="#333" stroke="#333" stroke-width="0.08">Q3</text>
<text x="93.9" y="551.4" font-size="4.9" text-anchor="end" fill="#333" stroke="#333" stroke-width="0.08">20.7</text>
<text x="32.5" y="505.4" font-size="5.9" text-anchor="end" fill="#333">10<tspan font-size="4.01" dy="-2.2">5</tspan></text>
<line x1="36.9" y1="503.4" x2="38.5" y2="503.4" stroke="#222" stroke-width="0.8"/>
<text x="32.5" y="518.4" font-size="5.9" text-anchor="end" fill="#333">10<tspan font-size="4.01" dy="-2.2">4</tspan></text>
<line x1="36.9" y1="516.4" x2="38.5" y2="516.4" stroke="#222" stroke-width="0.8"/>
<text x="32.5" y="534.4" font-size="5.9" text-anchor="end" fill="#333">10<tspan font-size="4.01" dy="-2.2">3</tspan></text>
<line x1="36.9" y1="532.4" x2="38.5" y2="532.4" stroke="#222" stroke-width="0.8"/>
<text x="32.6" y="543.9" font-size="5.6" text-anchor="end" fill="#333" stroke="#333" stroke-width="0.08">0</text>
<line x1="36.9" y1="541.9" x2="38.5" y2="541.9" stroke="#222" stroke-width="0.8"/>
<text x="32.5" y="551.9" font-size="5.9" text-anchor="end" fill="#333">−10<tspan font-size="4.01" dy="-2.2">3</tspan></text>
<line x1="36.9" y1="549.9" x2="38.5" y2="549.9" stroke="#222" stroke-width="0.8"/>
<line x1="37.5" y1="506.8" x2="38.5" y2="506.8" stroke="#333" stroke-width="0.5"/>
<line x1="37.5" y1="508.8" x2="38.5" y2="508.8" stroke="#333" stroke-width="0.5"/>
<line x1="37.5" y1="510.8" x2="38.5" y2="510.8" stroke="#333" stroke-width="0.5"/>
<line x1="37.5" y1="512.8" x2="38.5" y2="512.8" stroke="#333" stroke-width="0.5"/>
<line x1="37.5" y1="519.8" x2="38.5" y2="519.8" stroke="#333" stroke-width="0.5"/>
<line x1="37.5" y1="522.8" x2="38.5" y2="522.8" stroke="#333" stroke-width="0.5"/>
<line x1="37.5" y1="525.8" x2="38.5" y2="525.8" stroke="#333" stroke-width="0.5"/>
<line x1="37.5" y1="528.8" x2="38.5" y2="528.8" stroke="#333" stroke-width="0.5"/>
<line x1="37.2" y1="537.3" x2="38.5" y2="537.3" stroke="#222" stroke-width="0.6"/>
<line x1="37.2" y1="538.8" x2="38.5" y2="538.8" stroke="#222" stroke-width="0.6"/>
<line x1="37.2" y1="540.3" x2="38.5" y2="540.3" stroke="#222" stroke-width="0.6"/>
<line x1="37.2" y1="541.9" x2="38.5" y2="541.9" stroke="#222" stroke-width="0.6"/>
<line x1="37.2" y1="543.3" x2="38.5" y2="543.3" stroke="#222" stroke-width="0.6"/>
<line x1="37.2" y1="544.8" x2="38.5" y2="544.8" stroke="#222" stroke-width="0.6"/>
<line x1="37.2" y1="546.3" x2="38.5" y2="546.3" stroke="#222" stroke-width="0.6"/>
<text x="42.1" y="564.2" font-size="5.6" text-anchor="middle" fill="#333">−10<tspan font-size="3.81" dy="-2.2">3</tspan></text>
<text x="52.5" y="564.2" font-size="5.6" text-anchor="middle" fill="#333" stroke="#333" stroke-width="0.08">0</text>
<text x="60" y="564.2" font-size="5.6" text-anchor="middle" fill="#333">10<tspan font-size="3.81" dy="-2.2">3</tspan></text>
<text x="75.3" y="564.2" font-size="5.6" text-anchor="middle" fill="#333">10<tspan font-size="3.81" dy="-2.2">4</tspan></text>
<text x="88.8" y="564.2" font-size="5.6" text-anchor="middle" fill="#333">10<tspan font-size="3.81" dy="-2.2">5</tspan></text>
<line x1="42" y1="553.6" x2="42" y2="555" stroke="#222" stroke-width="0.6"/>
<line x1="45.5" y1="553.6" x2="45.5" y2="555" stroke="#222" stroke-width="0.6"/>
<line x1="48.5" y1="553.6" x2="48.5" y2="555" stroke="#222" stroke-width="0.6"/>
<line x1="50.5" y1="553.6" x2="50.5" y2="555" stroke="#222" stroke-width="0.6"/>
<line x1="52" y1="553.6" x2="52" y2="555" stroke="#222" stroke-width="0.6"/>
<line x1="53.5" y1="553.6" x2="53.5" y2="555" stroke="#222" stroke-width="0.6"/>
<line x1="55.5" y1="553.6" x2="55.5" y2="555" stroke="#222" stroke-width="0.6"/>
<line x1="58.5" y1="553.6" x2="58.5" y2="555" stroke="#222" stroke-width="0.6"/>
<line x1="62.5" y1="553.6" x2="62.5" y2="555" stroke="#222" stroke-width="0.6"/>
<line x1="67.5" y1="553.6" x2="67.5" y2="555" stroke="#222" stroke-width="0.6"/>
<line x1="71.5" y1="553.6" x2="71.5" y2="555" stroke="#222" stroke-width="0.6"/>
<line x1="74.5" y1="553.6" x2="74.5" y2="555" stroke="#222" stroke-width="0.6"/>
<line x1="80.5" y1="553.6" x2="80.5" y2="555" stroke="#222" stroke-width="0.6"/>
<line x1="85.5" y1="553.6" x2="85.5" y2="555" stroke="#222" stroke-width="0.6"/>
<line x1="88.5" y1="553.6" x2="88.5" y2="555" stroke="#222" stroke-width="0.6"/>
<line x1="92.5" y1="553.6" x2="92.5" y2="555" stroke="#222" stroke-width="0.6"/>
<line x1="49.5" y1="553.6" x2="49.5" y2="555.8" stroke="#111" stroke-width="0.9"/>
<line x1="51" y1="553.6" x2="51" y2="555.8" stroke="#111" stroke-width="0.9"/>
<line x1="52.5" y1="553.6" x2="52.5" y2="555.8" stroke="#111" stroke-width="0.9"/>
<line x1="54" y1="553.6" x2="54" y2="555.8" stroke="#111" stroke-width="0.9"/>
<g>
<ellipse cx="153" cy="506" rx="7.5" ry="4.8" fill="#a4bce4" opacity="0.6" transform="rotate(-35 153 506)" filter="url(#bl1)"/>
<path d="M154.46 509.9 L140.63 530.69 L149.37 536.31 L162.54 515.1 Z" fill="#9ab8d8" opacity="0.6" filter="url(#bl1)"/>
<g fill="#5a8cc0" opacity="0.6"><circle cx="159.37" cy="515.78" r="0.45"/><circle cx="143.39" cy="534.7" r="0.45"/><circle cx="149.7" cy="527.47" r="0.45"/><circle cx="152.25" cy="523.69" r="0.45"/><circle cx="155.96" cy="515.94" r="0.45"/><circle cx="158.95" cy="514.62" r="0.45"/><circle cx="150.52" cy="528.95" r="0.45"/><circle cx="150.55" cy="523.85" r="0.45"/><circle cx="161.61" cy="515.5" r="0.45"/><circle cx="149.73" cy="532.38" r="0.45"/><circle cx="158.45" cy="515.85" r="0.45"/><circle cx="155.91" cy="520.9" r="0.45"/><circle cx="149.18" cy="518.26" r="0.45"/><circle cx="149.71" cy="525.25" r="0.45"/><circle cx="158.24" cy="521.34" r="0.45"/><circle cx="148.99" cy="524.93" r="0.45"/><circle cx="158.34" cy="517.44" r="0.45"/><circle cx="147.41" cy="523.47" r="0.45"/><circle cx="156.67" cy="518" r="0.45"/><circle cx="151.94" cy="526.48" r="0.45"/><circle cx="149.06" cy="526.25" r="0.45"/><circle cx="155.53" cy="519.24" r="0.45"/><circle cx="156.66" cy="522.89" r="0.45"/><circle cx="156.67" cy="518.04" r="0.45"/><circle cx="150.78" cy="530.06" r="0.45"/><circle cx="142.31" cy="530.07" r="0.45"/><circle cx="156.7" cy="514.61" r="0.45"/><circle cx="153.52" cy="525.23" r="0.45"/><circle cx="149.25" cy="521.86" r="0.45"/><circle cx="157.03" cy="527.67" r="0.45"/><circle cx="146.31" cy="532.7" r="0.45"/><circle cx="162.77" cy="513.33" r="0.45"/><circle cx="144.46" cy="530.59" r="0.45"/><circle cx="157.2" cy="519.49" r="0.45"/><circle cx="142.2" cy="524.86" r="0.45"/><circle cx="152.68" cy="525.59" r="0.45"/><circle cx="162.43" cy="511.28" r="0.45"/><circle cx="154.23" cy="510" r="0.45"/><circle cx="157.94" cy="519.81" r="0.45"/><circle cx="153.46" cy="524.28" r="0.45"/><circle cx="146.83" cy="532.11" r="0.45"/><circle cx="156.5" cy="514.13" r="0.45"/><circle cx="150.9" cy="523.1" r="0.45"/><circle cx="146.03" cy="527.7" r="0.45"/><circle cx="159.73" cy="512.19" r="0.45"/><circle cx="152.07" cy="525.34" r="0.45"/><circle cx="153.07" cy="521.34" r="0.45"/><circle cx="153.38" cy="512.68" r="0.45"/><circle cx="148.19" cy="523.46" r="0.45"/><circle cx="157.93" cy="520.34" r="0.45"/><circle cx="154.53" cy="522.94" r="0.45"/><circle cx="153.34" cy="521.08" r="0.45"/><circle cx="146.96" cy="531.43" r="0.45"/><circle cx="147.59" cy="536.36" r="0.45"/><circle cx="143.31" cy="523.27" r="0.45"/><circle cx="149.77" cy="526.11" r="0.45"/><circle cx="158.77" cy="516.4" r="0.45"/><circle cx="151.25" cy="519.63" r="0.45"/><circle cx="148.85" cy="528.69" r="0.45"/><circle cx="141.74" cy="530.14" r="0.45"/><circle cx="149.98" cy="527.33" r="0.45"/><circle cx="151.26" cy="522.86" r="0.45"/><circle cx="157.08" cy="523.12" r="0.45"/><circle cx="151.73" cy="514.23" r="0.45"/><circle cx="146.44" cy="528.07" r="0.45"/><circle cx="156.85" cy="524.16" r="0.45"/><circle cx="147.29" cy="522.49" r="0.45"/><circle cx="148.64" cy="531.71" r="0.45"/><circle cx="154.95" cy="516.88" r="0.45"/><circle cx="165.27" cy="514.67" r="0.45"/><circle cx="147.76" cy="521.03" r="0.45"/><circle cx="150.39" cy="529.78" r="0.45"/><circle cx="160.75" cy="517.52" r="0.45"/><circle cx="153.47" cy="527.44" r="0.45"/><circle cx="141.9" cy="532.27" r="0.45"/><circle cx="155.51" cy="517.74" r="0.45"/><circle cx="149.79" cy="523.77" r="0.45"/><circle cx="149.8" cy="527.51" r="0.45"/><circle cx="150.34" cy="518.38" r="0.45"/><circle cx="146.14" cy="533.4" r="0.45"/><circle cx="150.05" cy="518.43" r="0.45"/><circle cx="144.52" cy="525.04" r="0.45"/><circle cx="154.14" cy="523.07" r="0.45"/><circle cx="149.05" cy="521.75" r="0.45"/><circle cx="157.02" cy="516.44" r="0.45"/><circle cx="149.18" cy="523.68" r="0.45"/><circle cx="152.66" cy="518.27" r="0.45"/><circle cx="148.13" cy="524.59" r="0.45"/><circle cx="157.74" cy="514.3" r="0.45"/><circle cx="151.81" cy="523.34" r="0.45"/><circle cx="154.69" cy="527.6" r="0.45"/><circle cx="150.53" cy="526.9" r="0.45"/><circle cx="153.26" cy="516.7" r="0.45"/><circle cx="143.96" cy="537.44" r="0.45"/><circle cx="146.28" cy="531.05" r="0.45"/><circle cx="154.64" cy="521.89" r="0.45"/><circle cx="147.72" cy="536.84" r="0.45"/><circle cx="149.04" cy="517.22" r="0.45"/><circle cx="155.53" cy="521.64" r="0.45"/><circle cx="155.81" cy="516.98" r="0.45"/><circle cx="147.2" cy="523.42" r="0.45"/><circle cx="154.05" cy="526.08" r="0.45"/><circle cx="149.08" cy="521.96" r="0.45"/><circle cx="153.19" cy="520.76" r="0.45"/><circle cx="145.86" cy="534.65" r="0.45"/><circle cx="143.68" cy="527.61" r="0.45"/><circle cx="155.06" cy="517.47" r="0.45"/><circle cx="148.39" cy="517.61" r="0.45"/><circle cx="154" cy="518.57" r="0.45"/><circle cx="146.52" cy="526.6" r="0.45"/><circle cx="159.74" cy="518.71" r="0.45"/><circle cx="147.51" cy="527.84" r="0.45"/><circle cx="154.68" cy="509.11" r="0.45"/><circle cx="144.21" cy="534.26" r="0.45"/><circle cx="153.03" cy="523.98" r="0.45"/><circle cx="145.84" cy="532.39" r="0.45"/><circle cx="146.69" cy="531.85" r="0.45"/><circle cx="157.57" cy="513.82" r="0.45"/><circle cx="142.73" cy="533.85" r="0.45"/><circle cx="146.05" cy="532.67" r="0.45"/><circle cx="146.4" cy="532.06" r="0.45"/><circle cx="153.69" cy="525" r="0.45"/><circle cx="154.58" cy="531.65" r="0.45"/><circle cx="161.35" cy="513.07" r="0.45"/><circle cx="153.98" cy="524.73" r="0.45"/><circle cx="152.87" cy="523.97" r="0.45"/><circle cx="147.06" cy="535.98" r="0.45"/><circle cx="153.22" cy="509.81" r="0.45"/><circle cx="147.88" cy="524.9" r="0.45"/><circle cx="148.05" cy="515.57" r="0.45"/><circle cx="153.76" cy="517.07" r="0.45"/><circle cx="150.89" cy="522.17" r="0.45"/><circle cx="145.56" cy="529.9" r="0.45"/><circle cx="153.78" cy="518.39" r="0.45"/><circle cx="156.74" cy="516.53" r="0.45"/><circle cx="159.36" cy="515.06" r="0.45"/><circle cx="152.57" cy="531.79" r="0.45"/><circle cx="157.17" cy="512.72" r="0.45"/><circle cx="149.63" cy="523.25" r="0.45"/><circle cx="155.74" cy="510.26" r="0.45"/><circle cx="151.31" cy="520.97" r="0.45"/><circle cx="159.18" cy="515.29" r="0.45"/><circle cx="148.66" cy="531.83" r="0.45"/><circle cx="154.56" cy="523.98" r="0.45"/><circle cx="151.85" cy="524.67" r="0.45"/><circle cx="160.85" cy="519.72" r="0.45"/><circle cx="155.03" cy="523.15" r="0.45"/><circle cx="147.95" cy="526.63" r="0.45"/><circle cx="154.28" cy="511.31" r="0.45"/><circle cx="148.99" cy="517.83" r="0.45"/><circle cx="151.24" cy="523.47" r="0.45"/><circle cx="153.27" cy="516.06" r="0.45"/><circle cx="143.4" cy="530.68" r="0.45"/><circle cx="154.62" cy="513.78" r="0.45"/><circle cx="151.64" cy="513.5" r="0.45"/><circle cx="142.77" cy="523.62" r="0.45"/><circle cx="148.69" cy="527.42" r="0.45"/><circle cx="152.44" cy="520.78" r="0.45"/><circle cx="154.35" cy="513.96" r="0.45"/><circle cx="150.91" cy="529.65" r="0.45"/><circle cx="156.57" cy="513.27" r="0.45"/><circle cx="153.16" cy="525.09" r="0.45"/><circle cx="150.77" cy="527.4" r="0.45"/><circle cx="158.68" cy="523.84" r="0.45"/><circle cx="149.61" cy="523.13" r="0.45"/><circle cx="147.6" cy="530.99" r="0.45"/><circle cx="154.32" cy="521.78" r="0.45"/><circle cx="155.63" cy="512.01" r="0.45"/><circle cx="151.74" cy="533.36" r="0.45"/><circle cx="156.65" cy="517.52" r="0.45"/><circle cx="152.24" cy="528.33" r="0.45"/><circle cx="145.98" cy="531.18" r="0.45"/><circle cx="151.99" cy="520.96" r="0.45"/><circle cx="150.86" cy="524.73" r="0.45"/><circle cx="153.07" cy="521.31" r="0.45"/><circle cx="156.48" cy="511.42" r="0.45"/><circle cx="159.95" cy="520.32" r="0.45"/><circle cx="146.85" cy="532.56" r="0.45"/><circle cx="157.11" cy="513.99" r="0.45"/><circle cx="142.68" cy="529.31" r="0.45"/><circle cx="156.85" cy="517.59" r="0.45"/><circle cx="150.73" cy="527.57" r="0.45"/><circle cx="146.97" cy="532.26" r="0.45"/><circle cx="160.3" cy="515.63" r="0.45"/><circle cx="147.99" cy="529.8" r="0.45"/><circle cx="141.72" cy="534.08" r="0.45"/><circle cx="139" cy="536.89" r="0.45"/><circle cx="157.98" cy="515.97" r="0.45"/><circle cx="147.9" cy="536.04" r="0.45"/><circle cx="157.99" cy="518.68" r="0.45"/><circle cx="149.18" cy="522.02" r="0.45"/><circle cx="153.41" cy="515.26" r="0.45"/><circle cx="151.79" cy="529.08" r="0.45"/><circle cx="145.63" cy="529.83" r="0.45"/><circle cx="149.21" cy="519.89" r="0.45"/><circle cx="156.73" cy="513.94" r="0.45"/><circle cx="159.28" cy="512.51" r="0.45"/><circle cx="145.61" cy="526.62" r="0.45"/><circle cx="152.22" cy="528.1" r="0.45"/><circle cx="149.58" cy="522.37" r="0.45"/></g>
<g fill="#58a8b8" opacity="0.6"><circle cx="157.44" cy="517.58" r="0.45"/><circle cx="145.4" cy="529.67" r="0.45"/><circle cx="153.92" cy="523.4" r="0.45"/><circle cx="152.74" cy="517.39" r="0.45"/><circle cx="152.2" cy="520.92" r="0.45"/><circle cx="147.14" cy="526.3" r="0.45"/><circle cx="147.27" cy="529.97" r="0.45"/><circle cx="155.66" cy="515.46" r="0.45"/><circle cx="159.73" cy="517.78" r="0.45"/><circle cx="158.25" cy="512.98" r="0.45"/><circle cx="157.9" cy="518.2" r="0.45"/><circle cx="155.35" cy="516.12" r="0.45"/><circle cx="156.07" cy="518.92" r="0.45"/><circle cx="149.18" cy="527.04" r="0.45"/><circle cx="155.41" cy="513.54" r="0.45"/><circle cx="157.67" cy="521.9" r="0.45"/><circle cx="152.11" cy="530.02" r="0.45"/><circle cx="153.63" cy="523.97" r="0.45"/><circle cx="152.5" cy="522.08" r="0.45"/><circle cx="148.43" cy="522.95" r="0.45"/><circle cx="158.4" cy="515.58" r="0.45"/><circle cx="144.29" cy="531.73" r="0.45"/><circle cx="157.84" cy="515.08" r="0.45"/><circle cx="149.75" cy="529.37" r="0.45"/><circle cx="150.03" cy="521.06" r="0.45"/><circle cx="151.02" cy="522.02" r="0.45"/><circle cx="152.38" cy="522.66" r="0.45"/><circle cx="158.28" cy="517.3" r="0.45"/><circle cx="152.3" cy="522.14" r="0.45"/><circle cx="146.57" cy="527.53" r="0.45"/><circle cx="150.61" cy="522.88" r="0.45"/><circle cx="157.81" cy="517.31" r="0.45"/><circle cx="149.2" cy="527.55" r="0.45"/><circle cx="154.81" cy="514.46" r="0.45"/><circle cx="156.24" cy="515.81" r="0.45"/><circle cx="152.97" cy="526.53" r="0.45"/><circle cx="157.19" cy="514.8" r="0.45"/><circle cx="152.82" cy="520.86" r="0.45"/><circle cx="152.61" cy="516.12" r="0.45"/><circle cx="146.08" cy="530.13" r="0.45"/><circle cx="147.4" cy="521.59" r="0.45"/><circle cx="143.08" cy="529.6" r="0.45"/><circle cx="150.21" cy="521.18" r="0.45"/><circle cx="150" cy="526.91" r="0.45"/><circle cx="156.02" cy="518.23" r="0.45"/><circle cx="151.55" cy="533.43" r="0.45"/><circle cx="148.67" cy="526.31" r="0.45"/><circle cx="155.81" cy="523.65" r="0.45"/><circle cx="153.19" cy="521.52" r="0.45"/><circle cx="152.54" cy="521.68" r="0.45"/><circle cx="153.64" cy="522.45" r="0.45"/><circle cx="153.7" cy="519.05" r="0.45"/><circle cx="154.28" cy="521.11" r="0.45"/><circle cx="158.56" cy="507.88" r="0.45"/><circle cx="152.78" cy="516.63" r="0.45"/><circle cx="151.38" cy="521.7" r="0.45"/><circle cx="158.11" cy="514.09" r="0.45"/><circle cx="155.05" cy="517.52" r="0.45"/><circle cx="148.66" cy="526.74" r="0.45"/><circle cx="148.48" cy="527.52" r="0.45"/><circle cx="146.59" cy="526.78" r="0.45"/><circle cx="147.98" cy="526.44" r="0.45"/><circle cx="156.64" cy="514.07" r="0.45"/><circle cx="148.8" cy="522.9" r="0.45"/><circle cx="158.76" cy="518.52" r="0.45"/><circle cx="160.15" cy="516.45" r="0.45"/><circle cx="149.73" cy="530.8" r="0.45"/><circle cx="150.25" cy="528.56" r="0.45"/><circle cx="150.42" cy="525.41" r="0.45"/><circle cx="152.91" cy="516.59" r="0.45"/><circle cx="147.72" cy="522.28" r="0.45"/><circle cx="153.56" cy="521.06" r="0.45"/><circle cx="153.79" cy="522.69" r="0.45"/><circle cx="148.78" cy="523.94" r="0.45"/><circle cx="154.38" cy="513.11" r="0.45"/><circle cx="157.12" cy="514.41" r="0.45"/><circle cx="154.99" cy="522.29" r="0.45"/><circle cx="148.36" cy="530.47" r="0.45"/><circle cx="156.6" cy="514.77" r="0.45"/><circle cx="154.41" cy="518.8" r="0.45"/></g>
<g fill="#6a90d0" opacity="0.6"><circle cx="157.64" cy="499.9" r="0.4"/><circle cx="151.97" cy="503.8" r="0.4"/><circle cx="150.66" cy="505.83" r="0.4"/><circle cx="155.13" cy="501.14" r="0.4"/><circle cx="153.81" cy="501.59" r="0.4"/><circle cx="157.91" cy="502.18" r="0.4"/><circle cx="154.45" cy="506.57" r="0.4"/><circle cx="153.66" cy="504.49" r="0.4"/><circle cx="156.53" cy="502.7" r="0.4"/><circle cx="151.54" cy="503.91" r="0.4"/><circle cx="156.08" cy="504.7" r="0.4"/><circle cx="156.11" cy="504.15" r="0.4"/><circle cx="158.13" cy="500.7" r="0.4"/><circle cx="151.48" cy="506.33" r="0.4"/><circle cx="160.63" cy="498.2" r="0.4"/><circle cx="152.86" cy="502.35" r="0.4"/><circle cx="150.73" cy="502.6" r="0.4"/><circle cx="152.23" cy="504.85" r="0.4"/><circle cx="148.52" cy="504.91" r="0.4"/><circle cx="153.04" cy="500.24" r="0.4"/><circle cx="155.71" cy="500.84" r="0.4"/><circle cx="157.14" cy="501.21" r="0.4"/><circle cx="157.7" cy="499.21" r="0.4"/><circle cx="151.57" cy="505.8" r="0.4"/><circle cx="158.24" cy="502.06" r="0.4"/><circle cx="149.87" cy="506.49" r="0.4"/><circle cx="152.38" cy="504.33" r="0.4"/><circle cx="157.21" cy="503.08" r="0.4"/><circle cx="154.53" cy="504.69" r="0.4"/><circle cx="156.24" cy="502.25" r="0.4"/><circle cx="148.75" cy="504.93" r="0.4"/><circle cx="153.66" cy="505.79" r="0.4"/><circle cx="158.91" cy="499.22" r="0.4"/><circle cx="159.1" cy="498.89" r="0.4"/><circle cx="154.94" cy="503.35" r="0.4"/><circle cx="152.83" cy="497.61" r="0.4"/><circle cx="153.63" cy="502.91" r="0.4"/><circle cx="155.61" cy="500.28" r="0.4"/><circle cx="150.73" cy="503.16" r="0.4"/><circle cx="155.91" cy="502.97" r="0.4"/></g>
<path d="M146 509.5 L151 504.5 L156.5 501.3 L160 501.5 L159 505 L153.5 509.5 L148 511.2 Z" fill="url(#gG)" opacity="0.66" filter="url(#bl1)"/>
<g opacity="0.81"><rect x="157.57" y="502.07" width="0.6" height="0.6" fill="#98bc3f"/><rect x="157.89" y="501.95" width="0.6" height="0.6" fill="#88b047"/><rect x="158.85" y="501.85" width="0.6" height="0.6" fill="#8eb444"/><rect x="159.28" y="501.95" width="0.6" height="0.6" fill="#8db445"/><rect x="159.86" y="501.71" width="0.6" height="0.6" fill="#88b048"/><rect x="155.05" y="502.6" width="0.6" height="0.6" fill="#94b941"/><rect x="155.24" y="502.55" width="0.6" height="0.6" fill="#90b643"/><rect x="155.95" y="502.52" width="0.6" height="0.6" fill="#94b941"/><rect x="156.58" y="502.57" width="0.6" height="0.6" fill="#9dc03d"/><rect x="156.96" y="502.33" width="0.6" height="0.6" fill="#8db445"/><rect x="157.88" y="502.33" width="0.6" height="0.6" fill="#99bc3f"/><rect x="158.67" y="502.4" width="0.6" height="0.6" fill="#8eb444"/><rect x="153.49" y="503.15" width="0.6" height="0.6" fill="#98bc3f"/><rect x="154.24" y="503.19" width="0.6" height="0.6" fill="#a1c33b"/><rect x="154.83" y="503.07" width="0.6" height="0.6" fill="#9fc13c"/><rect x="156.05" y="503.17" width="0.6" height="0.6" fill="#a6c638"/><rect x="156.6" y="503.01" width="0.6" height="0.6" fill="#9cbf3d"/><rect x="156.84" y="502.87" width="0.6" height="0.6" fill="#90b643"/><rect x="157.45" y="503.2" width="0.6" height="0.6" fill="#9fc13c"/><rect x="157.88" y="502.86" width="0.6" height="0.6" fill="#8eb444"/><rect x="158.59" y="503.13" width="0.6" height="0.6" fill="#95b941"/><rect x="159.27" y="502.92" width="0.6" height="0.6" fill="#8bb246"/><rect x="152.92" y="503.59" width="0.6" height="0.6" fill="#a6c738"/><rect x="153.91" y="503.4" width="0.6" height="0.6" fill="#a5c539"/><rect x="154.14" y="503.58" width="0.6" height="0.6" fill="#9abe3e"/><rect x="154.9" y="503.4" width="0.6" height="0.6" fill="#a7c738"/><rect x="155.43" y="503.46" width="0.6" height="0.6" fill="#a1c33b"/><rect x="155.71" y="503.32" width="0.6" height="0.6" fill="#98bc3f"/><rect x="156.37" y="503.7" width="0.6" height="0.6" fill="#93b842"/><rect x="156.87" y="503.34" width="0.6" height="0.6" fill="#9cbf3d"/><rect x="157.43" y="503.66" width="0.6" height="0.6" fill="#a0c23b"/><rect x="158.06" y="503.55" width="0.6" height="0.6" fill="#99bc3f"/><rect x="158.58" y="503.72" width="0.6" height="0.6" fill="#94b941"/><rect x="159.27" y="503.29" width="0.6" height="0.6" fill="#8eb444"/><rect x="152.5" y="504.09" width="0.6" height="0.6" fill="#a2c639"/><rect x="153.32" y="503.9" width="0.6" height="0.6" fill="#a5c738"/><rect x="153.49" y="504.04" width="0.6" height="0.6" fill="#a7c738"/><rect x="154.41" y="503.9" width="0.6" height="0.6" fill="#a6c638"/><rect x="154.67" y="504.12" width="0.6" height="0.6" fill="#97bb40"/><rect x="155.14" y="504.15" width="0.6" height="0.6" fill="#9bbe3e"/><rect x="156.12" y="504" width="0.6" height="0.6" fill="#99bc3f"/><rect x="156.41" y="504.05" width="0.6" height="0.6" fill="#97bb40"/><rect x="156.92" y="503.94" width="0.6" height="0.6" fill="#a1c23b"/><rect x="157.77" y="504.22" width="0.6" height="0.6" fill="#a0c23b"/><rect x="157.95" y="503.82" width="0.6" height="0.6" fill="#9cbf3d"/><rect x="158.48" y="504.08" width="0.6" height="0.6" fill="#93b842"/><rect x="151.18" y="504.5" width="0.6" height="0.6" fill="#a2c639"/><rect x="152.18" y="504.65" width="0.6" height="0.6" fill="#9dc03d"/><rect x="153.68" y="504.55" width="0.6" height="0.6" fill="#9fc53a"/><rect x="154.57" y="504.36" width="0.6" height="0.6" fill="#99bd3f"/><rect x="155.14" y="504.79" width="0.6" height="0.6" fill="#9cbf3d"/><rect x="155.72" y="504.73" width="0.6" height="0.6" fill="#a6c738"/><rect x="156.48" y="504.82" width="0.6" height="0.6" fill="#9bbe3e"/><rect x="157.02" y="504.58" width="0.6" height="0.6" fill="#9ec13c"/><rect x="157.65" y="504.81" width="0.6" height="0.6" fill="#9fc13c"/><rect x="158.12" y="504.53" width="0.6" height="0.6" fill="#93b842"/><rect x="158.84" y="504.78" width="0.6" height="0.6" fill="#95b941"/><rect x="150.63" y="505.04" width="0.6" height="0.6" fill="#a2c639"/><rect x="150.73" y="505" width="0.6" height="0.6" fill="#9dc43b"/><rect x="151.68" y="505.16" width="0.6" height="0.6" fill="#9fc53a"/><rect x="152.57" y="505.02" width="0.6" height="0.6" fill="#a4c539"/><rect x="152.96" y="505.16" width="0.6" height="0.6" fill="#a4c539"/><rect x="153.6" y="505.27" width="0.6" height="0.6" fill="#a6c638"/><rect x="154.45" y="505.2" width="0.6" height="0.6" fill="#a3c43a"/><rect x="154.96" y="504.93" width="0.6" height="0.6" fill="#9bbe3e"/><rect x="155.93" y="505.27" width="0.6" height="0.6" fill="#a5c539"/><rect x="156.39" y="505.14" width="0.6" height="0.6" fill="#99bc3f"/><rect x="158.42" y="505.38" width="0.6" height="0.6" fill="#92b742"/><rect x="150.25" y="505.76" width="0.6" height="0.6" fill="#9cc43b"/><rect x="151.29" y="505.87" width="0.6" height="0.6" fill="#99c33c"/><rect x="152.15" y="505.65" width="0.6" height="0.6" fill="#9cc43b"/><rect x="152.64" y="505.52" width="0.6" height="0.6" fill="#a1c53a"/><rect x="153.22" y="505.72" width="0.6" height="0.6" fill="#a1c53a"/><rect x="153.61" y="505.69" width="0.6" height="0.6" fill="#a4c639"/><rect x="154.26" y="505.58" width="0.6" height="0.6" fill="#a3c639"/><rect x="154.68" y="505.55" width="0.6" height="0.6" fill="#a3c43a"/><rect x="155.54" y="505.82" width="0.6" height="0.6" fill="#a5c738"/><rect x="156.52" y="505.51" width="0.6" height="0.6" fill="#a3c639"/><rect x="156.89" y="505.9" width="0.6" height="0.6" fill="#a3c43a"/><rect x="149.95" y="506.34" width="0.6" height="0.6" fill="#8ebf40"/><rect x="150.8" y="506.23" width="0.6" height="0.6" fill="#95c13e"/><rect x="151.38" y="506.41" width="0.6" height="0.6" fill="#9ec43b"/><rect x="153.17" y="506.34" width="0.6" height="0.6" fill="#95c13e"/><rect x="153.45" y="506.13" width="0.6" height="0.6" fill="#a3c639"/><rect x="154.48" y="506.34" width="0.6" height="0.6" fill="#9fc53a"/><rect x="154.91" y="506.16" width="0.6" height="0.6" fill="#9fc13c"/><rect x="155.49" y="506.29" width="0.6" height="0.6" fill="#a3c43a"/><rect x="155.82" y="506.06" width="0.6" height="0.6" fill="#a7c738"/><rect x="156.27" y="506.12" width="0.6" height="0.6" fill="#a1c53a"/><rect x="156.76" y="506.02" width="0.6" height="0.6" fill="#9bbe3e"/><rect x="148.75" y="506.97" width="0.6" height="0.6" fill="#9ac33c"/><rect x="149.35" y="506.94" width="0.6" height="0.6" fill="#91c03f"/><rect x="149.84" y="506.68" width="0.6" height="0.6" fill="#93c13e"/><rect x="150.35" y="506.78" width="0.6" height="0.6" fill="#8abe41"/><rect x="150.84" y="506.69" width="0.6" height="0.6" fill="#90c03f"/><rect x="153.05" y="506.58" width="0.6" height="0.6" fill="#9dc43b"/><rect x="153.58" y="506.79" width="0.6" height="0.6" fill="#9fc53a"/><rect x="154.08" y="506.61" width="0.6" height="0.6" fill="#a4c639"/><rect x="148.25" y="507.35" width="0.6" height="0.6" fill="#8fbf40"/><rect x="148.77" y="507.24" width="0.6" height="0.6" fill="#90c03f"/><rect x="149.31" y="507.54" width="0.6" height="0.6" fill="#90c03f"/><rect x="149.7" y="507.35" width="0.6" height="0.6" fill="#8bbe41"/><rect x="150.96" y="507.49" width="0.6" height="0.6" fill="#91c03f"/><rect x="151.31" y="507.23" width="0.6" height="0.6" fill="#92c03f"/><rect x="151.95" y="507.6" width="0.6" height="0.6" fill="#9dc43b"/><rect x="154.76" y="507.28" width="0.6" height="0.6" fill="#9fc53a"/><rect x="155.56" y="507.48" width="0.6" height="0.6" fill="#94c13e"/><rect x="155.83" y="507.1" width="0.6" height="0.6" fill="#a2c639"/><rect x="147.61" y="508.14" width="0.6" height="0.6" fill="#8cbe41"/><rect x="148.87" y="508.06" width="0.6" height="0.6" fill="#8ebf40"/><rect x="149.07" y="507.93" width="0.6" height="0.6" fill="#92c03f"/><rect x="150.78" y="507.72" width="0.6" height="0.6" fill="#94c13e"/><rect x="151.64" y="507.92" width="0.6" height="0.6" fill="#92c03f"/><rect x="151.97" y="507.67" width="0.6" height="0.6" fill="#96c23d"/><rect x="152.73" y="507.75" width="0.6" height="0.6" fill="#91c03f"/><rect x="153.01" y="508.08" width="0.6" height="0.6" fill="#9ec43b"/><rect x="153.47" y="507.88" width="0.6" height="0.6" fill="#a3c639"/><rect x="154.38" y="508.01" width="0.6" height="0.6" fill="#9dc43b"/><rect x="154.87" y="508" width="0.6" height="0.6" fill="#a0c53a"/><rect x="147.11" y="508.57" width="0.6" height="0.6" fill="#82bb44"/><rect x="147.88" y="508.5" width="0.6" height="0.6" fill="#8abe41"/><rect x="148.12" y="508.26" width="0.6" height="0.6" fill="#7eba45"/><rect x="148.83" y="508.58" width="0.6" height="0.6" fill="#92c03f"/><rect x="149.89" y="508.5" width="0.6" height="0.6" fill="#96c23d"/><rect x="150.51" y="508.53" width="0.6" height="0.6" fill="#95c13e"/><rect x="150.94" y="508.58" width="0.6" height="0.6" fill="#93c13e"/><rect x="151.64" y="508.21" width="0.6" height="0.6" fill="#92c03f"/><rect x="152.07" y="508.24" width="0.6" height="0.6" fill="#8ebf40"/><rect x="152.39" y="508.45" width="0.6" height="0.6" fill="#8abe41"/><rect x="153.62" y="508.3" width="0.6" height="0.6" fill="#9ac33c"/><rect x="154.35" y="508.67" width="0.6" height="0.6" fill="#a0c53a"/><rect x="147.33" y="509.14" width="0.6" height="0.6" fill="#7eba45"/><rect x="147.89" y="509.1" width="0.6" height="0.6" fill="#84bc43"/><rect x="148.08" y="508.97" width="0.6" height="0.6" fill="#80ba45"/><rect x="149.25" y="509" width="0.6" height="0.6" fill="#8fbf40"/><rect x="150.01" y="509.12" width="0.6" height="0.6" fill="#8abe41"/><rect x="150.46" y="508.76" width="0.6" height="0.6" fill="#8abe41"/><rect x="150.79" y="508.93" width="0.6" height="0.6" fill="#9bc33c"/><rect x="152.57" y="509.18" width="0.6" height="0.6" fill="#94c13e"/><rect x="153.29" y="509.07" width="0.6" height="0.6" fill="#96c23d"/><rect x="153.71" y="509.05" width="0.6" height="0.6" fill="#98c23d"/><rect x="146.46" y="509.71" width="0.6" height="0.6" fill="#7bb946"/><rect x="148.43" y="509.56" width="0.6" height="0.6" fill="#81bb44"/><rect x="148.6" y="509.69" width="0.6" height="0.6" fill="#86bc43"/><rect x="149.36" y="509.65" width="0.6" height="0.6" fill="#79b847"/><rect x="149.67" y="509.53" width="0.6" height="0.6" fill="#90c03f"/><rect x="150.34" y="509.37" width="0.6" height="0.6" fill="#9cc43b"/><rect x="150.73" y="509.6" width="0.6" height="0.6" fill="#8dbf40"/><rect x="151.71" y="509.31" width="0.6" height="0.6" fill="#98c23d"/><rect x="152.09" y="509.54" width="0.6" height="0.6" fill="#96c23d"/><rect x="146.86" y="509.97" width="0.6" height="0.6" fill="#7fba45"/><rect x="147.82" y="509.9" width="0.6" height="0.6" fill="#8fbf40"/><rect x="148.35" y="509.88" width="0.6" height="0.6" fill="#78b847"/><rect x="148.61" y="509.91" width="0.6" height="0.6" fill="#83bb44"/><rect x="149.12" y="509.99" width="0.6" height="0.6" fill="#7db946"/><rect x="150.06" y="510.23" width="0.6" height="0.6" fill="#98c23d"/><rect x="150.25" y="509.98" width="0.6" height="0.6" fill="#84bc43"/><rect x="151.01" y="510.15" width="0.6" height="0.6" fill="#8bbe41"/><rect x="152.27" y="509.87" width="0.6" height="0.6" fill="#87bd42"/><rect x="147.63" y="510.62" width="0.6" height="0.6" fill="#81bb44"/><rect x="148.1" y="510.76" width="0.6" height="0.6" fill="#78b848"/><rect x="148.5" y="510.74" width="0.6" height="0.6" fill="#78b848"/><rect x="149.41" y="510.56" width="0.6" height="0.6" fill="#96c23d"/></g>
<ellipse cx="140" cy="533" rx="7" ry="2.4" fill="#c4c8d6" opacity="0.6" transform="rotate(0 140 533)" filter="url(#bl1)"/>
<g fill="#a8b0c8" opacity="0.5"><circle cx="143.62" cy="532.2" r="0.4"/><circle cx="131.14" cy="533.97" r="0.4"/><circle cx="126.67" cy="535.2" r="0.4"/><circle cx="138.14" cy="535.19" r="0.4"/><circle cx="137.77" cy="534.9" r="0.4"/><circle cx="140.96" cy="534" r="0.4"/><circle cx="136.5" cy="532.85" r="0.4"/><circle cx="130.54" cy="536.49" r="0.4"/><circle cx="132.58" cy="535.1" r="0.4"/><circle cx="139.33" cy="533.3" r="0.4"/><circle cx="133.46" cy="534.12" r="0.4"/><circle cx="141.98" cy="531.04" r="0.4"/><circle cx="128.5" cy="537.52" r="0.4"/><circle cx="139.34" cy="535.24" r="0.4"/><circle cx="129.81" cy="533.83" r="0.4"/><circle cx="136.29" cy="531.42" r="0.4"/><circle cx="128.19" cy="533.94" r="0.4"/><circle cx="141.69" cy="532.32" r="0.4"/><circle cx="141.93" cy="535.19" r="0.4"/><circle cx="128.98" cy="534.23" r="0.4"/><circle cx="133.54" cy="534.21" r="0.4"/><circle cx="130.78" cy="532.72" r="0.4"/><circle cx="128.34" cy="539.92" r="0.4"/><circle cx="131.89" cy="537.15" r="0.4"/><circle cx="138.81" cy="532.85" r="0.4"/><circle cx="130.24" cy="536.57" r="0.4"/><circle cx="134.55" cy="536.86" r="0.4"/><circle cx="142.54" cy="532.64" r="0.4"/><circle cx="129.44" cy="536.45" r="0.4"/><circle cx="133.01" cy="536.47" r="0.4"/></g>
<path d="M145 541.6 L146.5 538.6 L156.6 537.3 L156.2 540.8 Z" fill="url(#gB)" opacity="0.66" filter="url(#bl1)"/>
<g opacity="0.81"><rect x="156.24" y="537.43" width="0.6" height="0.6" fill="#c0b060"/><rect x="153.45" y="538.07" width="0.6" height="0.6" fill="#695f40"/><rect x="153.74" y="537.78" width="0.6" height="0.6" fill="#877b4a"/><rect x="154.37" y="538.06" width="0.6" height="0.6" fill="#93874f"/><rect x="155.56" y="537.96" width="0.6" height="0.6" fill="#a59756"/><rect x="156.18" y="538.04" width="0.6" height="0.6" fill="#bcac5e"/><rect x="156.41" y="537.85" width="0.6" height="0.6" fill="#afa059"/><rect x="148.99" y="538.4" width="0.6" height="0.6" fill="#645d42"/><rect x="149.65" y="538.29" width="0.6" height="0.6" fill="#665e41"/><rect x="150.44" y="538.64" width="0.6" height="0.6" fill="#645d42"/><rect x="151.16" y="538.57" width="0.6" height="0.6" fill="#655e41"/><rect x="151.93" y="538.64" width="0.6" height="0.6" fill="#716642"/><rect x="152.73" y="538.47" width="0.6" height="0.6" fill="#7b7046"/><rect x="153.19" y="538.4" width="0.6" height="0.6" fill="#685f40"/><rect x="153.68" y="538.58" width="0.6" height="0.6" fill="#726743"/><rect x="154.19" y="538.15" width="0.6" height="0.6" fill="#9b8d52"/><rect x="154.94" y="538.24" width="0.6" height="0.6" fill="#9b8d52"/><rect x="155.57" y="538.33" width="0.6" height="0.6" fill="#b8a95d"/><rect x="156.12" y="538.34" width="0.6" height="0.6" fill="#c0b060"/><rect x="146.85" y="539.15" width="0.6" height="0.6" fill="#5a5946"/><rect x="146.95" y="539.01" width="0.6" height="0.6" fill="#595847"/><rect x="147.57" y="539.12" width="0.6" height="0.6" fill="#5c5a45"/><rect x="148.18" y="538.72" width="0.6" height="0.6" fill="#5f5b44"/><rect x="149.07" y="538.79" width="0.6" height="0.6" fill="#655d42"/><rect x="149.34" y="539.02" width="0.6" height="0.6" fill="#625c43"/><rect x="149.72" y="538.99" width="0.6" height="0.6" fill="#635c43"/><rect x="150.32" y="538.72" width="0.6" height="0.6" fill="#6f6542"/><rect x="151.15" y="538.78" width="0.6" height="0.6" fill="#6a6040"/><rect x="151.38" y="538.74" width="0.6" height="0.6" fill="#7a6f46"/><rect x="152.28" y="539.02" width="0.6" height="0.6" fill="#675e41"/><rect x="152.71" y="539.03" width="0.6" height="0.6" fill="#685f40"/><rect x="153.15" y="538.9" width="0.6" height="0.6" fill="#93864f"/><rect x="154.03" y="538.87" width="0.6" height="0.6" fill="#867a4a"/><rect x="154.28" y="539.09" width="0.6" height="0.6" fill="#9b8e52"/><rect x="154.89" y="538.84" width="0.6" height="0.6" fill="#a19354"/><rect x="155.44" y="538.79" width="0.6" height="0.6" fill="#a29454"/><rect x="156.09" y="538.81" width="0.6" height="0.6" fill="#b1a25a"/><rect x="146.08" y="539.73" width="0.6" height="0.6" fill="#5c5a45"/><rect x="147.1" y="539.49" width="0.6" height="0.6" fill="#5c5946"/><rect x="147.9" y="539.61" width="0.6" height="0.6" fill="#5c5a45"/><rect x="148.18" y="539.38" width="0.6" height="0.6" fill="#655e41"/><rect x="148.96" y="539.5" width="0.6" height="0.6" fill="#635d42"/><rect x="149.19" y="539.53" width="0.6" height="0.6" fill="#635d42"/><rect x="150.04" y="539.48" width="0.6" height="0.6" fill="#655e41"/><rect x="150.96" y="539.52" width="0.6" height="0.6" fill="#635c43"/><rect x="151.7" y="539.66" width="0.6" height="0.6" fill="#6e6441"/><rect x="152.15" y="539.52" width="0.6" height="0.6" fill="#8c804c"/><rect x="153.28" y="539.62" width="0.6" height="0.6" fill="#85794a"/><rect x="153.86" y="539.71" width="0.6" height="0.6" fill="#887c4b"/><rect x="154.42" y="539.36" width="0.6" height="0.6" fill="#a09254"/><rect x="154.72" y="539.34" width="0.6" height="0.6" fill="#8a7e4c"/><rect x="155.21" y="539.51" width="0.6" height="0.6" fill="#ab9c58"/><rect x="155.8" y="539.28" width="0.6" height="0.6" fill="#a89a57"/><rect x="146.33" y="539.84" width="0.6" height="0.6" fill="#5c5946"/><rect x="147.95" y="540.22" width="0.6" height="0.6" fill="#5a5946"/><rect x="148.24" y="539.93" width="0.6" height="0.6" fill="#605b44"/><rect x="150.05" y="540.02" width="0.6" height="0.6" fill="#635d42"/><rect x="151.39" y="540.19" width="0.6" height="0.6" fill="#6a6040"/><rect x="152.04" y="540.22" width="0.6" height="0.6" fill="#817548"/><rect x="152.92" y="540.27" width="0.6" height="0.6" fill="#796e45"/><rect x="153.35" y="540.16" width="0.6" height="0.6" fill="#9d9053"/><rect x="153.93" y="539.9" width="0.6" height="0.6" fill="#92854f"/><rect x="154.13" y="540.07" width="0.6" height="0.6" fill="#9c8f52"/><rect x="155.15" y="540.17" width="0.6" height="0.6" fill="#968950"/><rect x="155.29" y="540.01" width="0.6" height="0.6" fill="#bfaf5f"/><rect x="155.91" y="539.81" width="0.6" height="0.6" fill="#978a50"/><rect x="145.61" y="540.76" width="0.6" height="0.6" fill="#5c5a45"/><rect x="145.9" y="540.43" width="0.6" height="0.6" fill="#595847"/><rect x="146.55" y="540.82" width="0.6" height="0.6" fill="#595847"/><rect x="148.49" y="540.72" width="0.6" height="0.6" fill="#615c43"/><rect x="148.62" y="540.46" width="0.6" height="0.6" fill="#635d42"/><rect x="150.12" y="540.72" width="0.6" height="0.6" fill="#675e41"/><rect x="151.37" y="540.41" width="0.6" height="0.6" fill="#695f40"/><rect x="154.02" y="540.7" width="0.6" height="0.6" fill="#ab9c58"/><rect x="154.29" y="540.7" width="0.6" height="0.6" fill="#9e9053"/><rect x="154.72" y="540.59" width="0.6" height="0.6" fill="#ad9e59"/><rect x="155.8" y="540.67" width="0.6" height="0.6" fill="#b8a95d"/><rect x="145.72" y="541.21" width="0.6" height="0.6" fill="#5d5a45"/><rect x="146.02" y="541.34" width="0.6" height="0.6" fill="#585848"/><rect x="146.62" y="540.9" width="0.6" height="0.6" fill="#5c5a45"/><rect x="147.37" y="541.13" width="0.6" height="0.6" fill="#5d5a45"/><rect x="147.54" y="541.31" width="0.6" height="0.6" fill="#5e5b44"/><rect x="148.15" y="541.06" width="0.6" height="0.6" fill="#5e5b44"/><rect x="149.65" y="541.18" width="0.6" height="0.6" fill="#665e41"/><rect x="149.77" y="541.24" width="0.6" height="0.6" fill="#645d42"/><rect x="151.65" y="540.96" width="0.6" height="0.6" fill="#685f40"/></g>
</g>
<rect x="114.2" y="498.8" width="55.7" height="54.8" fill="none" stroke="#777" stroke-width="0.9"/>
<line x1="143.5" y1="498.8" x2="143.5" y2="553.6" stroke="#7a7a7a" stroke-width="0.9"/>
<line x1="114.2" y1="512.8" x2="169.9" y2="512.8" stroke="#6a6a6a" stroke-width="0.9"/>
<line x1="114.2" y1="498.8" x2="114.2" y2="553.6" stroke="#333" stroke-width="1"/>
<line x1="114.2" y1="553.6" x2="169.9" y2="553.6" stroke="#333" stroke-width="1"/>
<text x="141.75" y="494.2" font-size="8.4" text-anchor="middle" stroke="#222" stroke-width="0.08" textLength="50.8" lengthAdjust="spacingAndGlyphs">Ven + S63845</text>
<text x="115.4" y="504.6" font-size="4.9" fill="#333" stroke="#333" stroke-width="0.08">Q1</text>
<text x="115.4" y="508.8" font-size="4.9" fill="#333" stroke="#333" stroke-width="0.08">0.040</text>
<text x="168.9" y="504.6" font-size="4.9" text-anchor="end" fill="#333" stroke="#333" stroke-width="0.08">Q2</text>
<text x="168.9" y="508.8" font-size="4.9" text-anchor="end" fill="#333" stroke="#333" stroke-width="0.08">47.3</text>
<text x="115.4" y="547.2" font-size="4.9" fill="#333" stroke="#333" stroke-width="0.08">Q4</text>
<text x="115.4" y="551.4" font-size="4.9" fill="#333" stroke="#333" stroke-width="0.08">3.17</text>
<text x="168.9" y="547.2" font-size="4.9" text-anchor="end" fill="#333" stroke="#333" stroke-width="0.08">Q3</text>
<text x="168.9" y="551.4" font-size="4.9" text-anchor="end" fill="#333" stroke="#333" stroke-width="0.08">49.5</text>
<text x="108.2" y="505.4" font-size="5.9" text-anchor="end" fill="#333">10<tspan font-size="4.01" dy="-2.2">5</tspan></text>
<line x1="112.6" y1="503.4" x2="114.2" y2="503.4" stroke="#222" stroke-width="0.8"/>
<text x="108.2" y="518.4" font-size="5.9" text-anchor="end" fill="#333">10<tspan font-size="4.01" dy="-2.2">4</tspan></text>
<line x1="112.6" y1="516.4" x2="114.2" y2="516.4" stroke="#222" stroke-width="0.8"/>
<text x="108.2" y="534.4" font-size="5.9" text-anchor="end" fill="#333">10<tspan font-size="4.01" dy="-2.2">3</tspan></text>
<line x1="112.6" y1="532.4" x2="114.2" y2="532.4" stroke="#222" stroke-width="0.8"/>
<text x="108.3" y="543.9" font-size="5.6" text-anchor="end" fill="#333" stroke="#333" stroke-width="0.08">0</text>
<line x1="112.6" y1="541.9" x2="114.2" y2="541.9" stroke="#222" stroke-width="0.8"/>
<text x="108.2" y="551.9" font-size="5.9" text-anchor="end" fill="#333">−10<tspan font-size="4.01" dy="-2.2">3</tspan></text>
<line x1="112.6" y1="549.9" x2="114.2" y2="549.9" stroke="#222" stroke-width="0.8"/>
<line x1="113.2" y1="506.8" x2="114.2" y2="506.8" stroke="#333" stroke-width="0.5"/>
<line x1="113.2" y1="508.8" x2="114.2" y2="508.8" stroke="#333" stroke-width="0.5"/>
<line x1="113.2" y1="510.8" x2="114.2" y2="510.8" stroke="#333" stroke-width="0.5"/>
<line x1="113.2" y1="512.8" x2="114.2" y2="512.8" stroke="#333" stroke-width="0.5"/>
<line x1="113.2" y1="519.8" x2="114.2" y2="519.8" stroke="#333" stroke-width="0.5"/>
<line x1="113.2" y1="522.8" x2="114.2" y2="522.8" stroke="#333" stroke-width="0.5"/>
<line x1="113.2" y1="525.8" x2="114.2" y2="525.8" stroke="#333" stroke-width="0.5"/>
<line x1="113.2" y1="528.8" x2="114.2" y2="528.8" stroke="#333" stroke-width="0.5"/>
<line x1="112.9" y1="537.3" x2="114.2" y2="537.3" stroke="#222" stroke-width="0.6"/>
<line x1="112.9" y1="538.8" x2="114.2" y2="538.8" stroke="#222" stroke-width="0.6"/>
<line x1="112.9" y1="540.3" x2="114.2" y2="540.3" stroke="#222" stroke-width="0.6"/>
<line x1="112.9" y1="541.9" x2="114.2" y2="541.9" stroke="#222" stroke-width="0.6"/>
<line x1="112.9" y1="543.3" x2="114.2" y2="543.3" stroke="#222" stroke-width="0.6"/>
<line x1="112.9" y1="544.8" x2="114.2" y2="544.8" stroke="#222" stroke-width="0.6"/>
<line x1="112.9" y1="546.3" x2="114.2" y2="546.3" stroke="#222" stroke-width="0.6"/>
<text x="117.8" y="564.2" font-size="5.6" text-anchor="middle" fill="#333">−10<tspan font-size="3.81" dy="-2.2">3</tspan></text>
<text x="128.2" y="564.2" font-size="5.6" text-anchor="middle" fill="#333" stroke="#333" stroke-width="0.08">0</text>
<text x="135.7" y="564.2" font-size="5.6" text-anchor="middle" fill="#333">10<tspan font-size="3.81" dy="-2.2">3</tspan></text>
<text x="151" y="564.2" font-size="5.6" text-anchor="middle" fill="#333">10<tspan font-size="3.81" dy="-2.2">4</tspan></text>
<text x="164.5" y="564.2" font-size="5.6" text-anchor="middle" fill="#333">10<tspan font-size="3.81" dy="-2.2">5</tspan></text>
<line x1="117.7" y1="553.6" x2="117.7" y2="555" stroke="#222" stroke-width="0.6"/>
<line x1="121.2" y1="553.6" x2="121.2" y2="555" stroke="#222" stroke-width="0.6"/>
<line x1="124.2" y1="553.6" x2="124.2" y2="555" stroke="#222" stroke-width="0.6"/>
<line x1="126.2" y1="553.6" x2="126.2" y2="555" stroke="#222" stroke-width="0.6"/>
<line x1="127.7" y1="553.6" x2="127.7" y2="555" stroke="#222" stroke-width="0.6"/>
<line x1="129.2" y1="553.6" x2="129.2" y2="555" stroke="#222" stroke-width="0.6"/>
<line x1="131.2" y1="553.6" x2="131.2" y2="555" stroke="#222" stroke-width="0.6"/>
<line x1="134.2" y1="553.6" x2="134.2" y2="555" stroke="#222" stroke-width="0.6"/>
<line x1="138.2" y1="553.6" x2="138.2" y2="555" stroke="#222" stroke-width="0.6"/>
<line x1="143.2" y1="553.6" x2="143.2" y2="555" stroke="#222" stroke-width="0.6"/>
<line x1="147.2" y1="553.6" x2="147.2" y2="555" stroke="#222" stroke-width="0.6"/>
<line x1="150.2" y1="553.6" x2="150.2" y2="555" stroke="#222" stroke-width="0.6"/>
<line x1="156.2" y1="553.6" x2="156.2" y2="555" stroke="#222" stroke-width="0.6"/>
<line x1="161.2" y1="553.6" x2="161.2" y2="555" stroke="#222" stroke-width="0.6"/>
<line x1="164.2" y1="553.6" x2="164.2" y2="555" stroke="#222" stroke-width="0.6"/>
<line x1="168.2" y1="553.6" x2="168.2" y2="555" stroke="#222" stroke-width="0.6"/>
<line x1="125.2" y1="553.6" x2="125.2" y2="555.8" stroke="#111" stroke-width="0.9"/>
<line x1="126.7" y1="553.6" x2="126.7" y2="555.8" stroke="#111" stroke-width="0.9"/>
<line x1="128.2" y1="553.6" x2="128.2" y2="555.8" stroke="#111" stroke-width="0.9"/>
<line x1="129.7" y1="553.6" x2="129.7" y2="555.8" stroke="#111" stroke-width="0.9"/>
<g>
<ellipse cx="230" cy="507.5" rx="7.5" ry="4.5" fill="#a8b8e8" opacity="0.6" transform="rotate(-10 230 507.5)" filter="url(#bl1)"/>
<path d="M230.53 512.42 L221.03 527.42 L229.37 532.18 L237.47 516.38 Z" fill="#92b8cc" opacity="0.55" filter="url(#bl1)"/>
<g fill="#5a9ab0" opacity="0.6"><circle cx="231.45" cy="515.23" r="0.45"/><circle cx="233.02" cy="524.5" r="0.45"/><circle cx="224.08" cy="523.66" r="0.45"/><circle cx="226.07" cy="533.18" r="0.45"/><circle cx="226.58" cy="532.57" r="0.45"/><circle cx="234.64" cy="518.36" r="0.45"/><circle cx="229.12" cy="526.56" r="0.45"/><circle cx="227.51" cy="521.08" r="0.45"/><circle cx="222.34" cy="529.75" r="0.45"/><circle cx="230.71" cy="517.59" r="0.45"/><circle cx="232.34" cy="517.85" r="0.45"/><circle cx="227.26" cy="521.5" r="0.45"/><circle cx="223.44" cy="525.72" r="0.45"/><circle cx="233.02" cy="516.2" r="0.45"/><circle cx="233.46" cy="515.76" r="0.45"/><circle cx="226.14" cy="526.4" r="0.45"/><circle cx="229.82" cy="522.09" r="0.45"/><circle cx="219.57" cy="534.07" r="0.45"/><circle cx="227.11" cy="528.58" r="0.45"/><circle cx="230.22" cy="521.59" r="0.45"/><circle cx="224.75" cy="525.24" r="0.45"/><circle cx="228.59" cy="522.55" r="0.45"/><circle cx="224.07" cy="527.01" r="0.45"/><circle cx="226.98" cy="528.33" r="0.45"/><circle cx="227.66" cy="533.55" r="0.45"/><circle cx="230.62" cy="521.12" r="0.45"/><circle cx="229.65" cy="520.58" r="0.45"/><circle cx="232.66" cy="519.8" r="0.45"/><circle cx="227.52" cy="528.74" r="0.45"/><circle cx="229.91" cy="518.84" r="0.45"/><circle cx="229.07" cy="519.9" r="0.45"/><circle cx="230.31" cy="518.01" r="0.45"/><circle cx="231.56" cy="518.02" r="0.45"/><circle cx="229.5" cy="520.17" r="0.45"/><circle cx="233.07" cy="524.92" r="0.45"/><circle cx="234.41" cy="514.78" r="0.45"/><circle cx="226.73" cy="522.3" r="0.45"/><circle cx="230.37" cy="522.64" r="0.45"/><circle cx="235.14" cy="520.41" r="0.45"/><circle cx="228.98" cy="521.16" r="0.45"/><circle cx="230.01" cy="516.32" r="0.45"/><circle cx="227.51" cy="530.67" r="0.45"/><circle cx="230.55" cy="523.57" r="0.45"/><circle cx="230.18" cy="529.05" r="0.45"/><circle cx="230.44" cy="517.49" r="0.45"/><circle cx="231.91" cy="521.45" r="0.45"/><circle cx="230.24" cy="524.11" r="0.45"/><circle cx="234.17" cy="513.55" r="0.45"/><circle cx="225.09" cy="525.79" r="0.45"/><circle cx="234.36" cy="519.15" r="0.45"/><circle cx="233.56" cy="518.38" r="0.45"/><circle cx="229.64" cy="522.71" r="0.45"/><circle cx="229.75" cy="520.47" r="0.45"/><circle cx="228.61" cy="530.76" r="0.45"/><circle cx="229.55" cy="520.6" r="0.45"/><circle cx="233.37" cy="522.31" r="0.45"/><circle cx="234.79" cy="527.56" r="0.45"/><circle cx="233.45" cy="518.14" r="0.45"/><circle cx="225.29" cy="520.43" r="0.45"/><circle cx="229.89" cy="514.34" r="0.45"/><circle cx="230.08" cy="520.64" r="0.45"/><circle cx="226.96" cy="525.31" r="0.45"/><circle cx="230.41" cy="519.21" r="0.45"/><circle cx="227.44" cy="523.53" r="0.45"/><circle cx="231.29" cy="511.86" r="0.45"/><circle cx="228.6" cy="518.7" r="0.45"/><circle cx="229.42" cy="518.04" r="0.45"/><circle cx="227.45" cy="524.53" r="0.45"/><circle cx="222.8" cy="519.96" r="0.45"/><circle cx="228.73" cy="520.14" r="0.45"/><circle cx="223.99" cy="530.83" r="0.45"/><circle cx="230.51" cy="516.62" r="0.45"/><circle cx="221.94" cy="533.43" r="0.45"/><circle cx="227.4" cy="526.01" r="0.45"/><circle cx="224.4" cy="524.38" r="0.45"/><circle cx="228.13" cy="522.27" r="0.45"/><circle cx="224.54" cy="524.48" r="0.45"/><circle cx="231.68" cy="515.97" r="0.45"/><circle cx="235.74" cy="519.17" r="0.45"/><circle cx="230.38" cy="521.6" r="0.45"/><circle cx="236.16" cy="518.84" r="0.45"/><circle cx="225.48" cy="526.09" r="0.45"/><circle cx="237.37" cy="511.97" r="0.45"/><circle cx="224.36" cy="524.67" r="0.45"/><circle cx="232.22" cy="515.89" r="0.45"/><circle cx="226.67" cy="526.7" r="0.45"/><circle cx="225.28" cy="529.08" r="0.45"/><circle cx="235.38" cy="512.09" r="0.45"/><circle cx="231.44" cy="521.51" r="0.45"/><circle cx="234.64" cy="513.92" r="0.45"/><circle cx="227.92" cy="519.99" r="0.45"/><circle cx="229.85" cy="514.92" r="0.45"/><circle cx="227.44" cy="530.97" r="0.45"/><circle cx="232.68" cy="517.75" r="0.45"/><circle cx="234.48" cy="512.92" r="0.45"/><circle cx="229.48" cy="521.75" r="0.45"/><circle cx="229.45" cy="512.16" r="0.45"/><circle cx="226.45" cy="522.6" r="0.45"/><circle cx="224.64" cy="526.73" r="0.45"/><circle cx="228.14" cy="522.43" r="0.45"/><circle cx="230.2" cy="521.63" r="0.45"/><circle cx="230.24" cy="517.05" r="0.45"/><circle cx="228.95" cy="516.31" r="0.45"/><circle cx="229.23" cy="523.15" r="0.45"/><circle cx="229.78" cy="528.43" r="0.45"/><circle cx="229.33" cy="521.33" r="0.45"/><circle cx="225.66" cy="524.31" r="0.45"/><circle cx="231.96" cy="514.79" r="0.45"/><circle cx="227.2" cy="522.8" r="0.45"/><circle cx="223.25" cy="530.29" r="0.45"/><circle cx="231.13" cy="530.06" r="0.45"/><circle cx="232.28" cy="518.64" r="0.45"/><circle cx="231.32" cy="515.29" r="0.45"/><circle cx="231.54" cy="525.23" r="0.45"/><circle cx="227.19" cy="524.62" r="0.45"/><circle cx="232.67" cy="514.6" r="0.45"/><circle cx="222.14" cy="523.81" r="0.45"/><circle cx="224.31" cy="523.13" r="0.45"/><circle cx="229.45" cy="523.21" r="0.45"/><circle cx="226.16" cy="522.2" r="0.45"/></g>
<g fill="#50a880" opacity="0.65"><circle cx="225.62" cy="521.88" r="0.45"/><circle cx="233.88" cy="522.93" r="0.45"/><circle cx="233.06" cy="519.84" r="0.45"/><circle cx="231.68" cy="521.73" r="0.45"/><circle cx="227.39" cy="522.67" r="0.45"/><circle cx="232.86" cy="517.49" r="0.45"/><circle cx="232" cy="516.84" r="0.45"/><circle cx="228.34" cy="525" r="0.45"/><circle cx="230.26" cy="523.89" r="0.45"/><circle cx="228.4" cy="524.81" r="0.45"/><circle cx="229.79" cy="516.49" r="0.45"/><circle cx="235.46" cy="519.57" r="0.45"/><circle cx="228.76" cy="524.53" r="0.45"/><circle cx="229.99" cy="517.78" r="0.45"/><circle cx="232.09" cy="520.76" r="0.45"/><circle cx="227.04" cy="524.09" r="0.45"/><circle cx="230.89" cy="523.37" r="0.45"/><circle cx="226.65" cy="521.02" r="0.45"/><circle cx="225.9" cy="520.04" r="0.45"/><circle cx="228.36" cy="517.66" r="0.45"/><circle cx="229.55" cy="517.17" r="0.45"/><circle cx="224.99" cy="523.02" r="0.45"/><circle cx="228.91" cy="519.42" r="0.45"/><circle cx="230.95" cy="517.97" r="0.45"/><circle cx="233.21" cy="512.74" r="0.45"/><circle cx="229.91" cy="519.57" r="0.45"/><circle cx="232.13" cy="515.82" r="0.45"/><circle cx="222.57" cy="524.29" r="0.45"/><circle cx="226.31" cy="525.45" r="0.45"/><circle cx="230.67" cy="517.56" r="0.45"/><circle cx="232" cy="522.74" r="0.45"/><circle cx="229.8" cy="518.32" r="0.45"/><circle cx="225.41" cy="523.64" r="0.45"/><circle cx="224.75" cy="524.8" r="0.45"/><circle cx="228.16" cy="514.29" r="0.45"/><circle cx="231.78" cy="516.15" r="0.45"/><circle cx="228.18" cy="525.49" r="0.45"/><circle cx="232.1" cy="524.3" r="0.45"/><circle cx="229.92" cy="522.47" r="0.45"/><circle cx="229.6" cy="519.85" r="0.45"/><circle cx="232.91" cy="518.59" r="0.45"/><circle cx="230.84" cy="516.22" r="0.45"/><circle cx="229.84" cy="518.45" r="0.45"/><circle cx="228.46" cy="520.53" r="0.45"/><circle cx="232.44" cy="526.42" r="0.45"/><circle cx="232.34" cy="519.63" r="0.45"/><circle cx="231.41" cy="514.62" r="0.45"/><circle cx="229.54" cy="516" r="0.45"/><circle cx="229.95" cy="527.56" r="0.45"/><circle cx="223.36" cy="526.85" r="0.45"/><circle cx="226.31" cy="527.01" r="0.45"/><circle cx="230.42" cy="517.76" r="0.45"/><circle cx="231.53" cy="517.22" r="0.45"/><circle cx="226.69" cy="523.45" r="0.45"/><circle cx="230.08" cy="518.03" r="0.45"/><circle cx="234.16" cy="513.73" r="0.45"/><circle cx="232.99" cy="517.48" r="0.45"/><circle cx="231.06" cy="522.54" r="0.45"/><circle cx="229.41" cy="521.33" r="0.45"/><circle cx="227.59" cy="525.71" r="0.45"/></g>
<path d="M226 508.8 L228.5 505.6 L233 504.8 L235.5 505.6 L234.5 509.6 L229 510 Z" fill="url(#gG)" opacity="0.66" filter="url(#bl1)"/>
<g opacity="0.81"><rect x="230.83" y="505.42" width="0.6" height="0.6" fill="#9dc03d"/><rect x="231.46" y="505.17" width="0.6" height="0.6" fill="#a7c738"/><rect x="231.95" y="505.15" width="0.6" height="0.6" fill="#9ec03c"/><rect x="233.08" y="505.39" width="0.6" height="0.6" fill="#98bc3f"/><rect x="233.68" y="505.39" width="0.6" height="0.6" fill="#9abd3e"/><rect x="234.02" y="505.16" width="0.6" height="0.6" fill="#95ba41"/><rect x="234.62" y="505.37" width="0.6" height="0.6" fill="#99bd3f"/><rect x="228.19" y="506.01" width="0.6" height="0.6" fill="#96c23d"/><rect x="229.24" y="505.66" width="0.6" height="0.6" fill="#9cc43b"/><rect x="229.72" y="505.66" width="0.6" height="0.6" fill="#a6c738"/><rect x="230.25" y="506.08" width="0.6" height="0.6" fill="#a2c43a"/><rect x="231.28" y="505.72" width="0.6" height="0.6" fill="#9bbe3e"/><rect x="232.45" y="505.67" width="0.6" height="0.6" fill="#9fc13c"/><rect x="233.1" y="506.09" width="0.6" height="0.6" fill="#96bb40"/><rect x="233.8" y="505.93" width="0.6" height="0.6" fill="#93b842"/><rect x="234.15" y="505.75" width="0.6" height="0.6" fill="#97bb40"/><rect x="234.9" y="505.83" width="0.6" height="0.6" fill="#97bb40"/><rect x="235.38" y="505.98" width="0.6" height="0.6" fill="#94b941"/><rect x="229.41" y="506.66" width="0.6" height="0.6" fill="#a2c33a"/><rect x="230.26" y="506.4" width="0.6" height="0.6" fill="#a1c53a"/><rect x="230.99" y="506.66" width="0.6" height="0.6" fill="#a3c639"/><rect x="231.39" y="506.64" width="0.6" height="0.6" fill="#a6c638"/><rect x="232.25" y="506.6" width="0.6" height="0.6" fill="#a3c43a"/><rect x="234.41" y="506.54" width="0.6" height="0.6" fill="#99bd3f"/><rect x="234.6" y="506.29" width="0.6" height="0.6" fill="#94b941"/><rect x="228.26" y="507.02" width="0.6" height="0.6" fill="#a0c53a"/><rect x="229.52" y="507.24" width="0.6" height="0.6" fill="#95c13e"/><rect x="229.99" y="506.83" width="0.6" height="0.6" fill="#9fc53a"/><rect x="230.87" y="506.75" width="0.6" height="0.6" fill="#a7c738"/><rect x="232.84" y="507.03" width="0.6" height="0.6" fill="#a6c638"/><rect x="233.23" y="507.12" width="0.6" height="0.6" fill="#a6c638"/><rect x="233.81" y="506.93" width="0.6" height="0.6" fill="#a5c539"/><rect x="234.05" y="507.03" width="0.6" height="0.6" fill="#a0c23b"/><rect x="227.11" y="507.48" width="0.6" height="0.6" fill="#95c13e"/><rect x="227.51" y="507.34" width="0.6" height="0.6" fill="#99c33c"/><rect x="228.24" y="507.36" width="0.6" height="0.6" fill="#97c23d"/><rect x="228.73" y="507.61" width="0.6" height="0.6" fill="#98c23d"/><rect x="229.11" y="507.57" width="0.6" height="0.6" fill="#8ebf40"/><rect x="229.97" y="507.49" width="0.6" height="0.6" fill="#a1c33b"/><rect x="230.73" y="507.51" width="0.6" height="0.6" fill="#a3c639"/><rect x="231.96" y="507.34" width="0.6" height="0.6" fill="#a5c639"/><rect x="232.66" y="507.75" width="0.6" height="0.6" fill="#a5c738"/><rect x="233.03" y="507.74" width="0.6" height="0.6" fill="#a4c639"/><rect x="233.48" y="507.41" width="0.6" height="0.6" fill="#a3c43a"/><rect x="234.55" y="507.44" width="0.6" height="0.6" fill="#a7c738"/><rect x="226.53" y="508.31" width="0.6" height="0.6" fill="#80ba45"/><rect x="227.14" y="508.18" width="0.6" height="0.6" fill="#81bb44"/><rect x="227.7" y="508.35" width="0.6" height="0.6" fill="#8cbe41"/><rect x="228.78" y="508" width="0.6" height="0.6" fill="#8dbf40"/><rect x="229.27" y="507.98" width="0.6" height="0.6" fill="#98c23d"/><rect x="229.89" y="507.9" width="0.6" height="0.6" fill="#97c23d"/><rect x="230.27" y="507.87" width="0.6" height="0.6" fill="#96c23d"/><rect x="231.04" y="508.06" width="0.6" height="0.6" fill="#9ac33c"/><rect x="232.15" y="508.07" width="0.6" height="0.6" fill="#9fc53a"/><rect x="232.42" y="508.17" width="0.6" height="0.6" fill="#9ec43b"/><rect x="233.04" y="508.2" width="0.6" height="0.6" fill="#a5c738"/><rect x="233.65" y="508.29" width="0.6" height="0.6" fill="#a6c638"/><rect x="234.45" y="508.2" width="0.6" height="0.6" fill="#a5c639"/><rect x="234.69" y="508.05" width="0.6" height="0.6" fill="#96ba40"/><rect x="227.29" y="508.73" width="0.6" height="0.6" fill="#89bd42"/><rect x="227.56" y="508.69" width="0.6" height="0.6" fill="#89bd42"/><rect x="228.38" y="508.73" width="0.6" height="0.6" fill="#8ebf40"/><rect x="228.74" y="508.84" width="0.6" height="0.6" fill="#89bd42"/><rect x="229.79" y="508.65" width="0.6" height="0.6" fill="#8ebf40"/><rect x="231.2" y="508.85" width="0.6" height="0.6" fill="#8fbf40"/><rect x="231.47" y="508.86" width="0.6" height="0.6" fill="#8bbe41"/><rect x="231.94" y="508.58" width="0.6" height="0.6" fill="#9ec43b"/><rect x="233.4" y="508.81" width="0.6" height="0.6" fill="#a4c639"/><rect x="233.82" y="508.74" width="0.6" height="0.6" fill="#9fc53a"/><rect x="234.12" y="508.57" width="0.6" height="0.6" fill="#a4c639"/><rect x="226.69" y="509.05" width="0.6" height="0.6" fill="#88bd42"/><rect x="227.69" y="508.96" width="0.6" height="0.6" fill="#7db946"/><rect x="228.32" y="509.28" width="0.6" height="0.6" fill="#80ba45"/><rect x="228.67" y="508.99" width="0.6" height="0.6" fill="#87bd42"/><rect x="229.44" y="509.17" width="0.6" height="0.6" fill="#91c03f"/><rect x="230" y="509.43" width="0.6" height="0.6" fill="#84bc43"/><rect x="230.62" y="509.18" width="0.6" height="0.6" fill="#91c03f"/><rect x="230.99" y="508.99" width="0.6" height="0.6" fill="#91c03f"/><rect x="231.42" y="509.14" width="0.6" height="0.6" fill="#98c23d"/><rect x="231.95" y="509.32" width="0.6" height="0.6" fill="#8dbf40"/><rect x="232.75" y="509.25" width="0.6" height="0.6" fill="#8cbe41"/><rect x="233.25" y="509.18" width="0.6" height="0.6" fill="#90c03f"/><rect x="233.73" y="509.09" width="0.6" height="0.6" fill="#a3c639"/><rect x="234.48" y="509.29" width="0.6" height="0.6" fill="#95c13e"/><rect x="229.43" y="509.83" width="0.6" height="0.6" fill="#87bd42"/><rect x="231.01" y="509.67" width="0.6" height="0.6" fill="#99c33c"/><rect x="232.46" y="509.74" width="0.6" height="0.6" fill="#98c23d"/><rect x="233.1" y="509.69" width="0.6" height="0.6" fill="#90c03f"/><rect x="234.16" y="509.55" width="0.6" height="0.6" fill="#8bbe41"/></g>
<ellipse cx="210" cy="531.5" rx="7" ry="4.2" fill="#80a6c8" opacity="0.75" transform="rotate(0 210 531.5)" filter="url(#bl1)"/>
<g fill="#4e86b0" opacity="0.6"><circle cx="214" cy="528.77" r="0.45"/><circle cx="211.19" cy="531.75" r="0.45"/><circle cx="212.62" cy="527.56" r="0.45"/><circle cx="211.14" cy="534.01" r="0.45"/><circle cx="213.23" cy="533.26" r="0.45"/><circle cx="215.53" cy="529.18" r="0.45"/><circle cx="215.64" cy="532.08" r="0.45"/><circle cx="205.42" cy="530.66" r="0.45"/><circle cx="211.25" cy="532.43" r="0.45"/><circle cx="216.23" cy="532.04" r="0.45"/><circle cx="207.65" cy="537.64" r="0.45"/><circle cx="208.48" cy="529.18" r="0.45"/><circle cx="214.28" cy="530.33" r="0.45"/><circle cx="206.37" cy="528.51" r="0.45"/><circle cx="215.48" cy="528.51" r="0.45"/><circle cx="210.48" cy="530.21" r="0.45"/><circle cx="209.12" cy="529.2" r="0.45"/><circle cx="210.71" cy="533.2" r="0.45"/><circle cx="214.87" cy="530.49" r="0.45"/><circle cx="204.63" cy="527.33" r="0.45"/><circle cx="210.04" cy="524.52" r="0.45"/><circle cx="216.15" cy="531.58" r="0.45"/><circle cx="210.58" cy="527.58" r="0.45"/><circle cx="207.04" cy="529.41" r="0.45"/><circle cx="213.13" cy="530.35" r="0.45"/><circle cx="212.87" cy="532.95" r="0.45"/><circle cx="201.14" cy="530.84" r="0.45"/><circle cx="215.83" cy="530.06" r="0.45"/><circle cx="210.61" cy="531.14" r="0.45"/><circle cx="204.36" cy="537.63" r="0.45"/><circle cx="209.41" cy="533.29" r="0.45"/><circle cx="207.96" cy="535.44" r="0.45"/><circle cx="215.33" cy="534.82" r="0.45"/><circle cx="214.41" cy="533.47" r="0.45"/><circle cx="216.42" cy="532.63" r="0.45"/><circle cx="210.65" cy="533.77" r="0.45"/><circle cx="205.91" cy="524.37" r="0.45"/><circle cx="213.77" cy="531.93" r="0.45"/><circle cx="206.79" cy="530.75" r="0.45"/><circle cx="205.63" cy="529.14" r="0.45"/><circle cx="210.9" cy="531.84" r="0.45"/><circle cx="213.87" cy="531.24" r="0.45"/><circle cx="212.95" cy="533.42" r="0.45"/><circle cx="206.8" cy="526.75" r="0.45"/><circle cx="206.88" cy="530.79" r="0.45"/><circle cx="207.58" cy="537.71" r="0.45"/><circle cx="206.89" cy="532.83" r="0.45"/><circle cx="206.52" cy="533.44" r="0.45"/><circle cx="204.23" cy="534.17" r="0.45"/><circle cx="210.87" cy="530.37" r="0.45"/><circle cx="204.54" cy="536.19" r="0.45"/><circle cx="207.38" cy="535.55" r="0.45"/><circle cx="198.96" cy="528.13" r="0.45"/><circle cx="218.38" cy="536.51" r="0.45"/><circle cx="210.13" cy="534.31" r="0.45"/><circle cx="212.84" cy="530.49" r="0.45"/><circle cx="210.64" cy="528.28" r="0.45"/><circle cx="203.88" cy="531.85" r="0.45"/><circle cx="213.4" cy="531.95" r="0.45"/><circle cx="204.41" cy="533.88" r="0.45"/><circle cx="210.46" cy="533.61" r="0.45"/><circle cx="208.72" cy="530.75" r="0.45"/><circle cx="214.89" cy="535.35" r="0.45"/><circle cx="204.52" cy="528.39" r="0.45"/><circle cx="214.5" cy="532.51" r="0.45"/><circle cx="210.29" cy="528.75" r="0.45"/><circle cx="214.7" cy="532.03" r="0.45"/><circle cx="211.05" cy="532.59" r="0.45"/><circle cx="207.65" cy="532.62" r="0.45"/><circle cx="210.66" cy="533.52" r="0.45"/><circle cx="211.8" cy="527.9" r="0.45"/><circle cx="206.8" cy="530.75" r="0.45"/><circle cx="215.4" cy="529.67" r="0.45"/><circle cx="215.26" cy="534.53" r="0.45"/><circle cx="214.07" cy="537.84" r="0.45"/><circle cx="210.02" cy="532.4" r="0.45"/><circle cx="215.66" cy="532.64" r="0.45"/><circle cx="214.62" cy="531.13" r="0.45"/><circle cx="216.56" cy="532.49" r="0.45"/><circle cx="201.27" cy="534.55" r="0.45"/><circle cx="209.18" cy="529.02" r="0.45"/><circle cx="208.69" cy="530.71" r="0.45"/><circle cx="215.32" cy="532.43" r="0.45"/><circle cx="209.74" cy="531.46" r="0.45"/><circle cx="205.94" cy="529.7" r="0.45"/><circle cx="207.92" cy="530.86" r="0.45"/><circle cx="204.72" cy="530.37" r="0.45"/><circle cx="214.66" cy="532.77" r="0.45"/><circle cx="210.06" cy="532.47" r="0.45"/><circle cx="208.96" cy="528.17" r="0.45"/></g>
<g fill="#8aa8d4" opacity="0.55"><circle cx="216.26" cy="533.16" r="0.4"/><circle cx="225.94" cy="527.65" r="0.4"/><circle cx="222.92" cy="532.81" r="0.4"/><circle cx="225" cy="531.3" r="0.4"/><circle cx="219.69" cy="532.06" r="0.4"/><circle cx="222.1" cy="534.28" r="0.4"/><circle cx="216.19" cy="530.35" r="0.4"/><circle cx="215.5" cy="534.33" r="0.4"/><circle cx="222.71" cy="528.51" r="0.4"/><circle cx="223.74" cy="532.05" r="0.4"/><circle cx="217.6" cy="529.92" r="0.4"/><circle cx="224.83" cy="530.33" r="0.4"/><circle cx="227.5" cy="529.78" r="0.4"/><circle cx="216.77" cy="531.14" r="0.4"/><circle cx="222.26" cy="531.08" r="0.4"/><circle cx="218.55" cy="535.27" r="0.4"/><circle cx="212.27" cy="534.33" r="0.4"/><circle cx="228.39" cy="529.43" r="0.4"/><circle cx="225.01" cy="530.9" r="0.4"/><circle cx="222.44" cy="533.62" r="0.4"/><circle cx="226.37" cy="530.65" r="0.4"/><circle cx="224.99" cy="529.57" r="0.4"/><circle cx="221.96" cy="531.8" r="0.4"/><circle cx="217" cy="525.74" r="0.4"/><circle cx="227.52" cy="532.88" r="0.4"/><circle cx="215.95" cy="532.01" r="0.4"/><circle cx="221.54" cy="536.19" r="0.4"/><circle cx="218.56" cy="533.72" r="0.4"/><circle cx="213.14" cy="533.15" r="0.4"/><circle cx="225.79" cy="532.94" r="0.4"/><circle cx="223.83" cy="529.71" r="0.4"/><circle cx="220.23" cy="531.18" r="0.4"/><circle cx="224.2" cy="525.81" r="0.4"/><circle cx="214.81" cy="531.51" r="0.4"/><circle cx="222.78" cy="529.09" r="0.4"/><circle cx="226.48" cy="530.31" r="0.4"/><circle cx="226.93" cy="528.93" r="0.4"/><circle cx="212.34" cy="532.15" r="0.4"/><circle cx="215.03" cy="530.7" r="0.4"/><circle cx="225.64" cy="531.84" r="0.4"/></g>
<path d="M220.6 540.6 L222.5 538.4 L233.2 537.9 L232 540.5 Z" fill="url(#gB2)" opacity="0.66" filter="url(#bl1)"/>
<g opacity="0.81"><rect x="230.59" y="538.05" width="0.6" height="0.6" fill="#a97933"/><rect x="231.76" y="537.99" width="0.6" height="0.6" fill="#c3933b"/><rect x="232.69" y="537.98" width="0.6" height="0.6" fill="#c8983d"/><rect x="223.02" y="538.68" width="0.6" height="0.6" fill="#7a613f"/><rect x="223.23" y="538.56" width="0.6" height="0.6" fill="#756041"/><rect x="224.08" y="538.59" width="0.6" height="0.6" fill="#8a6738"/><rect x="224.26" y="538.45" width="0.6" height="0.6" fill="#926a35"/><rect x="224.95" y="538.53" width="0.6" height="0.6" fill="#896739"/><rect x="226.77" y="538.52" width="0.6" height="0.6" fill="#9c6e31"/><rect x="227.69" y="538.31" width="0.6" height="0.6" fill="#ad7d34"/><rect x="228.12" y="538.3" width="0.6" height="0.6" fill="#9d6f30"/><rect x="229.36" y="538.3" width="0.6" height="0.6" fill="#bc8c39"/><rect x="229.71" y="538.41" width="0.6" height="0.6" fill="#c1913b"/><rect x="231.8" y="538.63" width="0.6" height="0.6" fill="#bc8c39"/><rect x="232.54" y="538.65" width="0.6" height="0.6" fill="#c7973d"/><rect x="222.12" y="539.17" width="0.6" height="0.6" fill="#776040"/><rect x="223.45" y="539.17" width="0.6" height="0.6" fill="#78613f"/><rect x="223.93" y="538.85" width="0.6" height="0.6" fill="#9a6d32"/><rect x="224.22" y="538.9" width="0.6" height="0.6" fill="#81643c"/><rect x="225.17" y="538.84" width="0.6" height="0.6" fill="#916a35"/><rect x="225.79" y="538.81" width="0.6" height="0.6" fill="#9d6f31"/><rect x="225.99" y="539.13" width="0.6" height="0.6" fill="#936b35"/><rect x="226.88" y="538.91" width="0.6" height="0.6" fill="#986d32"/><rect x="226.96" y="539.22" width="0.6" height="0.6" fill="#ab7b33"/><rect x="227.53" y="539.12" width="0.6" height="0.6" fill="#9d6f30"/><rect x="228.15" y="539.2" width="0.6" height="0.6" fill="#a77732"/><rect x="228.92" y="538.78" width="0.6" height="0.6" fill="#b18135"/><rect x="229.17" y="538.84" width="0.6" height="0.6" fill="#ae7e34"/><rect x="229.84" y="539.15" width="0.6" height="0.6" fill="#cc9c3e"/><rect x="230.57" y="539.05" width="0.6" height="0.6" fill="#c4943c"/><rect x="231.07" y="538.84" width="0.6" height="0.6" fill="#b08035"/><rect x="231.48" y="539.24" width="0.6" height="0.6" fill="#c1913b"/><rect x="231.92" y="539.14" width="0.6" height="0.6" fill="#cf9f3f"/><rect x="222.85" y="539.62" width="0.6" height="0.6" fill="#7a623f"/><rect x="223.11" y="539.4" width="0.6" height="0.6" fill="#8b6838"/><rect x="223.94" y="539.37" width="0.6" height="0.6" fill="#705e43"/><rect x="224.66" y="539.79" width="0.6" height="0.6" fill="#8e6937"/><rect x="224.93" y="539.7" width="0.6" height="0.6" fill="#946b34"/><rect x="225.61" y="539.43" width="0.6" height="0.6" fill="#8f6936"/><rect x="225.99" y="539.51" width="0.6" height="0.6" fill="#996d32"/><rect x="226.49" y="539.41" width="0.6" height="0.6" fill="#966c33"/><rect x="227.62" y="539.55" width="0.6" height="0.6" fill="#9e6f30"/><rect x="228.18" y="539.7" width="0.6" height="0.6" fill="#b28236"/><rect x="228.82" y="539.64" width="0.6" height="0.6" fill="#aa7a33"/><rect x="229.17" y="539.35" width="0.6" height="0.6" fill="#aa7a33"/><rect x="231.1" y="539.57" width="0.6" height="0.6" fill="#c0903a"/><rect x="231.41" y="539.5" width="0.6" height="0.6" fill="#c5953c"/><rect x="232.18" y="539.71" width="0.6" height="0.6" fill="#d0a040"/><rect x="222.43" y="540.28" width="0.6" height="0.6" fill="#665a47"/><rect x="222.56" y="540.28" width="0.6" height="0.6" fill="#6a5c45"/><rect x="223.37" y="540.01" width="0.6" height="0.6" fill="#896739"/><rect x="224.22" y="539.96" width="0.6" height="0.6" fill="#83653b"/><rect x="225" y="539.98" width="0.6" height="0.6" fill="#986d33"/><rect x="225.51" y="540.26" width="0.6" height="0.6" fill="#7f633d"/><rect x="226.79" y="540.35" width="0.6" height="0.6" fill="#9a6d32"/><rect x="227.81" y="540.13" width="0.6" height="0.6" fill="#ac7c34"/><rect x="228.12" y="539.94" width="0.6" height="0.6" fill="#a47431"/><rect x="228.65" y="540.34" width="0.6" height="0.6" fill="#af7f35"/><rect x="229.91" y="540.05" width="0.6" height="0.6" fill="#ae7e34"/><rect x="230.68" y="540.35" width="0.6" height="0.6" fill="#b08035"/><rect x="231.01" y="539.95" width="0.6" height="0.6" fill="#c5953c"/><rect x="231.5" y="539.98" width="0.6" height="0.6" fill="#bc8c39"/><rect x="232.05" y="539.91" width="0.6" height="0.6" fill="#cf9f3f"/></g>
</g>
<rect x="189.7" y="498.8" width="55.7" height="54.8" fill="none" stroke="#777" stroke-width="0.9"/>
<line x1="219.1" y1="498.8" x2="219.1" y2="553.6" stroke="#7a7a7a" stroke-width="0.9"/>
<line x1="189.7" y1="512.8" x2="245.4" y2="512.8" stroke="#6a6a6a" stroke-width="0.9"/>
<line x1="189.7" y1="498.8" x2="189.7" y2="553.6" stroke="#333" stroke-width="1"/>
<line x1="189.7" y1="553.6" x2="245.4" y2="553.6" stroke="#333" stroke-width="1"/>
<text x="217.25" y="494.2" font-size="8.4" text-anchor="middle" stroke="#222" stroke-width="0.08" textLength="59.4" lengthAdjust="spacingAndGlyphs">Ven + A1155463</text>
<text x="190.9" y="504.6" font-size="4.9" fill="#333" stroke="#333" stroke-width="0.08">Q1</text>
<text x="190.9" y="508.8" font-size="4.9" fill="#333" stroke="#333" stroke-width="0.08">0.10</text>
<text x="244.4" y="504.6" font-size="4.9" text-anchor="end" fill="#333" stroke="#333" stroke-width="0.08">Q2</text>
<text x="244.4" y="508.8" font-size="4.9" text-anchor="end" fill="#333" stroke="#333" stroke-width="0.08">30.8</text>
<text x="190.9" y="547.2" font-size="4.9" fill="#333" stroke="#333" stroke-width="0.08">Q4</text>
<text x="190.9" y="551.4" font-size="4.9" fill="#333" stroke="#333" stroke-width="0.08">17.7</text>
<text x="244.4" y="547.2" font-size="4.9" text-anchor="end" fill="#333" stroke="#333" stroke-width="0.08">Q3</text>
<text x="244.4" y="551.4" font-size="4.9" text-anchor="end" fill="#333" stroke="#333" stroke-width="0.08">51.4</text>
<text x="183.7" y="505.4" font-size="5.9" text-anchor="end" fill="#333">10<tspan font-size="4.01" dy="-2.2">5</tspan></text>
<line x1="188.1" y1="503.4" x2="189.7" y2="503.4" stroke="#222" stroke-width="0.8"/>
<text x="183.7" y="518.4" font-size="5.9" text-anchor="end" fill="#333">10<tspan font-size="4.01" dy="-2.2">4</tspan></text>
<line x1="188.1" y1="516.4" x2="189.7" y2="516.4" stroke="#222" stroke-width="0.8"/>
<text x="183.7" y="534.4" font-size="5.9" text-anchor="end" fill="#333">10<tspan font-size="4.01" dy="-2.2">3</tspan></text>
<line x1="188.1" y1="532.4" x2="189.7" y2="532.4" stroke="#222" stroke-width="0.8"/>
<text x="183.8" y="543.9" font-size="5.6" text-anchor="end" fill="#333" stroke="#333" stroke-width="0.08">0</text>
<line x1="188.1" y1="541.9" x2="189.7" y2="541.9" stroke="#222" stroke-width="0.8"/>
<text x="183.7" y="551.9" font-size="5.9" text-anchor="end" fill="#333">−10<tspan font-size="4.01" dy="-2.2">3</tspan></text>
<line x1="188.1" y1="549.9" x2="189.7" y2="549.9" stroke="#222" stroke-width="0.8"/>
<line x1="188.7" y1="506.8" x2="189.7" y2="506.8" stroke="#333" stroke-width="0.5"/>
<line x1="188.7" y1="508.8" x2="189.7" y2="508.8" stroke="#333" stroke-width="0.5"/>
<line x1="188.7" y1="510.8" x2="189.7" y2="510.8" stroke="#333" stroke-width="0.5"/>
<line x1="188.7" y1="512.8" x2="189.7" y2="512.8" stroke="#333" stroke-width="0.5"/>
<line x1="188.7" y1="519.8" x2="189.7" y2="519.8" stroke="#333" stroke-width="0.5"/>
<line x1="188.7" y1="522.8" x2="189.7" y2="522.8" stroke="#333" stroke-width="0.5"/>
<line x1="188.7" y1="525.8" x2="189.7" y2="525.8" stroke="#333" stroke-width="0.5"/>
<line x1="188.7" y1="528.8" x2="189.7" y2="528.8" stroke="#333" stroke-width="0.5"/>
<line x1="188.4" y1="537.3" x2="189.7" y2="537.3" stroke="#222" stroke-width="0.6"/>
<line x1="188.4" y1="538.8" x2="189.7" y2="538.8" stroke="#222" stroke-width="0.6"/>
<line x1="188.4" y1="540.3" x2="189.7" y2="540.3" stroke="#222" stroke-width="0.6"/>
<line x1="188.4" y1="541.9" x2="189.7" y2="541.9" stroke="#222" stroke-width="0.6"/>
<line x1="188.4" y1="543.3" x2="189.7" y2="543.3" stroke="#222" stroke-width="0.6"/>
<line x1="188.4" y1="544.8" x2="189.7" y2="544.8" stroke="#222" stroke-width="0.6"/>
<line x1="188.4" y1="546.3" x2="189.7" y2="546.3" stroke="#222" stroke-width="0.6"/>
<text x="193.3" y="564.2" font-size="5.6" text-anchor="middle" fill="#333">−10<tspan font-size="3.81" dy="-2.2">3</tspan></text>
<text x="203.7" y="564.2" font-size="5.6" text-anchor="middle" fill="#333" stroke="#333" stroke-width="0.08">0</text>
<text x="211.2" y="564.2" font-size="5.6" text-anchor="middle" fill="#333">10<tspan font-size="3.81" dy="-2.2">3</tspan></text>
<text x="226.5" y="564.2" font-size="5.6" text-anchor="middle" fill="#333">10<tspan font-size="3.81" dy="-2.2">4</tspan></text>
<text x="240" y="564.2" font-size="5.6" text-anchor="middle" fill="#333">10<tspan font-size="3.81" dy="-2.2">5</tspan></text>
<line x1="193.2" y1="553.6" x2="193.2" y2="555" stroke="#222" stroke-width="0.6"/>
<line x1="196.7" y1="553.6" x2="196.7" y2="555" stroke="#222" stroke-width="0.6"/>
<line x1="199.7" y1="553.6" x2="199.7" y2="555" stroke="#222" stroke-width="0.6"/>
<line x1="201.7" y1="553.6" x2="201.7" y2="555" stroke="#222" stroke-width="0.6"/>
<line x1="203.2" y1="553.6" x2="203.2" y2="555" stroke="#222" stroke-width="0.6"/>
<line x1="204.7" y1="553.6" x2="204.7" y2="555" stroke="#222" stroke-width="0.6"/>
<line x1="206.7" y1="553.6" x2="206.7" y2="555" stroke="#222" stroke-width="0.6"/>
<line x1="209.7" y1="553.6" x2="209.7" y2="555" stroke="#222" stroke-width="0.6"/>
<line x1="213.7" y1="553.6" x2="213.7" y2="555" stroke="#222" stroke-width="0.6"/>
<line x1="218.7" y1="553.6" x2="218.7" y2="555" stroke="#222" stroke-width="0.6"/>
<line x1="222.7" y1="553.6" x2="222.7" y2="555" stroke="#222" stroke-width="0.6"/>
<line x1="225.7" y1="553.6" x2="225.7" y2="555" stroke="#222" stroke-width="0.6"/>
<line x1="231.7" y1="553.6" x2="231.7" y2="555" stroke="#222" stroke-width="0.6"/>
<line x1="236.7" y1="553.6" x2="236.7" y2="555" stroke="#222" stroke-width="0.6"/>
<line x1="239.7" y1="553.6" x2="239.7" y2="555" stroke="#222" stroke-width="0.6"/>
<line x1="243.7" y1="553.6" x2="243.7" y2="555" stroke="#222" stroke-width="0.6"/>
<line x1="200.7" y1="553.6" x2="200.7" y2="555.8" stroke="#111" stroke-width="0.9"/>
<line x1="202.2" y1="553.6" x2="202.2" y2="555.8" stroke="#111" stroke-width="0.9"/>
<line x1="203.7" y1="553.6" x2="203.7" y2="555.8" stroke="#111" stroke-width="0.9"/>
<line x1="205.2" y1="553.6" x2="205.2" y2="555.8" stroke="#111" stroke-width="0.9"/>
<text x="288.5" y="429.8" font-size="8.1" textLength="93.4" lengthAdjust="spacingAndGlyphs"><tspan fill="#87582c">KMS-27 27B</tspan><tspan fill="#222">, 24hr, MCL1i</tspan></text>
<text x="416.1" y="430" font-size="8.1" textLength="98.9" lengthAdjust="spacingAndGlyphs"><tspan fill="#87582c">KMS-27 27B</tspan><tspan fill="#222">, 24hr, BCL-XLi</tspan></text>
<rect x="290.65" y="500.23" width="4.7" height="3.07" fill="#6a3a12"/>
<line x1="291.8" y1="499.23" x2="294.2" y2="499.23" stroke="#3a2410" stroke-width="0.7"/>
<line x1="293" y1="499.23" x2="293" y2="501.23" stroke="#3a2410" stroke-width="0.7"/>
<rect x="297.85" y="477.21" width="4.7" height="26.09" fill="#6a3a12"/>
<line x1="299" y1="476.21" x2="301.4" y2="476.21" stroke="#3a2410" stroke-width="0.7"/>
<line x1="300.2" y1="476.21" x2="300.2" y2="478.21" stroke="#3a2410" stroke-width="0.7"/>
<rect x="305.05" y="458.99" width="4.7" height="44.31" fill="#6a3a12"/>
<line x1="306.2" y1="457.99" x2="308.6" y2="457.99" stroke="#3a2410" stroke-width="0.7"/>
<line x1="307.4" y1="457.99" x2="307.4" y2="459.99" stroke="#3a2410" stroke-width="0.7"/>
<rect x="312.25" y="453.21" width="4.7" height="50.09" fill="#6a3a12"/>
<line x1="313.4" y1="452.21" x2="315.8" y2="452.21" stroke="#3a2410" stroke-width="0.7"/>
<line x1="314.6" y1="452.21" x2="314.6" y2="454.21" stroke="#3a2410" stroke-width="0.7"/>
<rect x="319.45" y="455" width="4.7" height="48.3" fill="#6a3a12"/>
<line x1="320.6" y1="454" x2="323" y2="454" stroke="#3a2410" stroke-width="0.7"/>
<line x1="321.8" y1="454" x2="321.8" y2="456" stroke="#3a2410" stroke-width="0.7"/>
<rect x="326.65" y="453" width="4.7" height="50.3" fill="#6a3a12"/>
<line x1="327.8" y1="452" x2="330.2" y2="452" stroke="#3a2410" stroke-width="0.7"/>
<line x1="329" y1="452" x2="329" y2="454" stroke="#3a2410" stroke-width="0.7"/>
<rect x="338.25" y="497.31" width="4.7" height="5.99" fill="#a8845e"/>
<line x1="339.4" y1="496.31" x2="341.8" y2="496.31" stroke="#3a2410" stroke-width="0.7"/>
<line x1="340.6" y1="496.31" x2="340.6" y2="498.31" stroke="#3a2410" stroke-width="0.7"/>
<rect x="345.55" y="487.69" width="4.7" height="15.61" fill="#a8845e"/>
<line x1="346.7" y1="486.69" x2="349.1" y2="486.69" stroke="#3a2410" stroke-width="0.7"/>
<line x1="347.9" y1="486.69" x2="347.9" y2="488.69" stroke="#3a2410" stroke-width="0.7"/>
<rect x="352.85" y="493.58" width="4.7" height="9.72" fill="#a8845e"/>
<line x1="354" y1="492.58" x2="356.4" y2="492.58" stroke="#3a2410" stroke-width="0.7"/>
<line x1="355.2" y1="492.58" x2="355.2" y2="494.58" stroke="#3a2410" stroke-width="0.7"/>
<rect x="360.15" y="455.82" width="4.7" height="47.48" fill="#a8845e"/>
<line x1="361.3" y1="454.82" x2="363.7" y2="454.82" stroke="#3a2410" stroke-width="0.7"/>
<line x1="362.5" y1="454.82" x2="362.5" y2="456.82" stroke="#3a2410" stroke-width="0.7"/>
<rect x="367.45" y="489.79" width="4.7" height="13.51" fill="#a8845e"/>
<line x1="368.6" y1="488.79" x2="371" y2="488.79" stroke="#3a2410" stroke-width="0.7"/>
<line x1="369.8" y1="488.79" x2="369.8" y2="490.79" stroke="#3a2410" stroke-width="0.7"/>
<rect x="374.75" y="453.82" width="4.7" height="49.48" fill="#a8845e"/>
<line x1="375.9" y1="452.82" x2="378.3" y2="452.82" stroke="#3a2410" stroke-width="0.7"/>
<line x1="377.1" y1="452.82" x2="377.1" y2="454.82" stroke="#3a2410" stroke-width="0.7"/>
<line x1="288.5" y1="440" x2="288.5" y2="503.8" stroke="#2a2a2a" stroke-width="1.1"/>
<line x1="286.1" y1="503.3" x2="288.5" y2="503.3" stroke="#2a2a2a" stroke-width="0.9"/>
<text x="282.9" y="505.5" font-size="6.2" text-anchor="end" fill="#333" stroke="#333" stroke-width="0.08">0</text>
<line x1="286.1" y1="487.95" x2="288.5" y2="487.95" stroke="#2a2a2a" stroke-width="0.9"/>
<text x="282.9" y="490.15" font-size="6.2" text-anchor="end" fill="#333" stroke="#333" stroke-width="0.08">30</text>
<line x1="286.1" y1="472.6" x2="288.5" y2="472.6" stroke="#2a2a2a" stroke-width="0.9"/>
<text x="282.9" y="474.8" font-size="6.2" text-anchor="end" fill="#333" stroke="#333" stroke-width="0.08">60</text>
<line x1="286.1" y1="457.25" x2="288.5" y2="457.25" stroke="#2a2a2a" stroke-width="0.9"/>
<text x="282.9" y="459.45" font-size="6.2" text-anchor="end" fill="#333" stroke="#333" stroke-width="0.08">90</text>
<line x1="286.1" y1="441.9" x2="288.5" y2="441.9" stroke="#2a2a2a" stroke-width="0.9"/>
<text x="282.9" y="444.1" font-size="6.2" text-anchor="end" fill="#333" stroke="#333" stroke-width="0.08">120</text>
<line x1="286.3" y1="503.3" x2="381.6" y2="503.3" stroke="#2a2a2a" stroke-width="1.1"/>
<line x1="293" y1="503.3" x2="293" y2="505.3" stroke="#2a2a2a" stroke-width="0.8"/>
<text x="295.4" y="512.7" font-size="6.6" text-anchor="end" fill="#333" stroke="#333" stroke-width="0.08" transform="rotate(-45 295.4 512.7)">Control</text>
<line x1="300.2" y1="503.3" x2="300.2" y2="505.3" stroke="#2a2a2a" stroke-width="0.8"/>
<text x="302.6" y="512.7" font-size="6.6" text-anchor="end" fill="#333" stroke="#333" stroke-width="0.08" transform="rotate(-45 302.6 512.7)">S100</text>
<line x1="307.4" y1="503.3" x2="307.4" y2="505.3" stroke="#2a2a2a" stroke-width="0.8"/>
<text x="309.8" y="512.7" font-size="6.6" text-anchor="end" fill="#333" stroke="#333" stroke-width="0.08" transform="rotate(-45 309.8 512.7)">Ven100</text>
<line x1="314.6" y1="503.3" x2="314.6" y2="505.3" stroke="#2a2a2a" stroke-width="0.8"/>
<text x="317" y="512.7" font-size="6.6" text-anchor="end" fill="#333" stroke="#333" stroke-width="0.08" transform="rotate(-45 317 512.7)">SV100</text>
<line x1="321.8" y1="503.3" x2="321.8" y2="505.3" stroke="#2a2a2a" stroke-width="0.8"/>
<text x="324.2" y="512.7" font-size="6.6" text-anchor="end" fill="#333" stroke="#333" stroke-width="0.08" transform="rotate(-45 324.2 512.7)">Ven500</text>
<line x1="329" y1="503.3" x2="329" y2="505.3" stroke="#2a2a2a" stroke-width="0.8"/>
<text x="331.4" y="512.7" font-size="6.6" text-anchor="end" fill="#333" stroke="#333" stroke-width="0.08" transform="rotate(-45 331.4 512.7)">SV500</text>
<line x1="340.6" y1="503.3" x2="340.6" y2="505.3" stroke="#2a2a2a" stroke-width="0.8"/>
<text x="343" y="512.7" font-size="6.6" text-anchor="end" fill="#333" stroke="#333" stroke-width="0.08" transform="rotate(-45 343 512.7)">Control</text>
<line x1="347.9" y1="503.3" x2="347.9" y2="505.3" stroke="#2a2a2a" stroke-width="0.8"/>
<text x="350.3" y="512.7" font-size="6.6" text-anchor="end" fill="#333" stroke="#333" stroke-width="0.08" transform="rotate(-45 350.3 512.7)">S100</text>
<line x1="355.2" y1="503.3" x2="355.2" y2="505.3" stroke="#2a2a2a" stroke-width="0.8"/>
<text x="357.6" y="512.7" font-size="6.6" text-anchor="end" fill="#333" stroke="#333" stroke-width="0.08" transform="rotate(-45 357.6 512.7)">Ven100</text>
<line x1="362.5" y1="503.3" x2="362.5" y2="505.3" stroke="#2a2a2a" stroke-width="0.8"/>
<text x="364.9" y="512.7" font-size="6.6" text-anchor="end" fill="#333" stroke="#333" stroke-width="0.08" transform="rotate(-45 364.9 512.7)">SV100</text>
<line x1="369.8" y1="503.3" x2="369.8" y2="505.3" stroke="#2a2a2a" stroke-width="0.8"/>
<text x="372.2" y="512.7" font-size="6.6" text-anchor="end" fill="#333" stroke="#333" stroke-width="0.08" transform="rotate(-45 372.2 512.7)">Ven500</text>
<line x1="377.1" y1="503.3" x2="377.1" y2="505.3" stroke="#2a2a2a" stroke-width="0.8"/>
<text x="379.5" y="512.7" font-size="6.6" text-anchor="end" fill="#333" stroke="#333" stroke-width="0.08" transform="rotate(-45 379.5 512.7)">SV500</text>
<path d="M307.4 455 L307.4 447.4 L314.6 447.4 L314.6 451" stroke="#5d6d86" stroke-width="0.8" fill="none"/>
<rect x="307.35" y="444" width="1.05" height="1.4" fill="#333"/>
<rect x="309.4" y="444" width="1.05" height="1.4" fill="#333"/>
<rect x="311.45" y="444" width="1.05" height="1.4" fill="#333"/>
<rect x="313.5" y="444" width="1.05" height="1.4" fill="#333"/>
<path d="M321.8 452 L321.8 447.4 L329 447.4 L329 450" stroke="#5d6d86" stroke-width="0.8" fill="none"/>
<text x="325.4" y="445.3" font-size="6" text-anchor="middle" fill="#333" stroke="#333" stroke-width="0.08">ns</text>
<path d="M355.2 490.5 L355.2 447.4 L362.5 447.4 L362.5 451" stroke="#5d6d86" stroke-width="0.8" fill="none"/>
<rect x="355.2" y="444" width="1.05" height="1.4" fill="#333"/>
<rect x="357.25" y="444" width="1.05" height="1.4" fill="#333"/>
<rect x="359.3" y="444" width="1.05" height="1.4" fill="#333"/>
<rect x="361.35" y="444" width="1.05" height="1.4" fill="#333"/>
<path d="M369.8 487.7 L369.8 447.4 L377.1 447.4 L377.1 450" stroke="#5d6d86" stroke-width="0.8" fill="none"/>
<rect x="369.8" y="444" width="1.05" height="1.4" fill="#333"/>
<rect x="371.85" y="444" width="1.05" height="1.4" fill="#333"/>
<rect x="373.9" y="444" width="1.05" height="1.4" fill="#333"/>
<rect x="375.95" y="444" width="1.05" height="1.4" fill="#333"/>
<text x="311" y="535.3" font-size="6.1" text-anchor="middle" fill="#333" stroke="#333" stroke-width="0.08" textLength="8.1" lengthAdjust="spacingAndGlyphs">Par</text>
<text x="358.8" y="535.5" font-size="6.1" text-anchor="middle" fill="#333" stroke="#333" stroke-width="0.08" textLength="10.8" lengthAdjust="spacingAndGlyphs">27B</text>
<text x="266.2" y="471.3" font-size="7.4" text-anchor="middle" stroke="#222" stroke-width="0.08" textLength="30.6" lengthAdjust="spacingAndGlyphs" transform="rotate(-90 266.2 471.3)" class="b">% Apoptosis</text>
<rect x="421.05" y="500.18" width="4.7" height="3.22" fill="#6a3a12"/>
<line x1="422.2" y1="499.18" x2="424.6" y2="499.18" stroke="#3a2410" stroke-width="0.7"/>
<line x1="423.4" y1="499.18" x2="423.4" y2="501.18" stroke="#3a2410" stroke-width="0.7"/>
<rect x="428.25" y="494.19" width="4.7" height="9.21" fill="#6a3a12"/>
<line x1="429.4" y1="493.19" x2="431.8" y2="493.19" stroke="#3a2410" stroke-width="0.7"/>
<line x1="430.6" y1="493.19" x2="430.6" y2="495.19" stroke="#3a2410" stroke-width="0.7"/>
<rect x="435.55" y="458.88" width="4.7" height="44.51" fill="#6a3a12"/>
<line x1="436.7" y1="457.88" x2="439.1" y2="457.88" stroke="#3a2410" stroke-width="0.7"/>
<line x1="437.9" y1="457.88" x2="437.9" y2="459.88" stroke="#3a2410" stroke-width="0.7"/>
<rect x="442.75" y="455.3" width="4.7" height="48.1" fill="#6a3a12"/>
<line x1="443.9" y1="454.3" x2="446.3" y2="454.3" stroke="#3a2410" stroke-width="0.7"/>
<line x1="445.1" y1="454.3" x2="445.1" y2="456.3" stroke="#3a2410" stroke-width="0.7"/>
<rect x="450.05" y="455" width="4.7" height="48.4" fill="#6a3a12"/>
<line x1="451.2" y1="454" x2="453.6" y2="454" stroke="#3a2410" stroke-width="0.7"/>
<line x1="452.4" y1="454" x2="452.4" y2="456" stroke="#3a2410" stroke-width="0.7"/>
<rect x="457.25" y="453.92" width="4.7" height="49.48" fill="#6a3a12"/>
<line x1="458.4" y1="452.92" x2="460.8" y2="452.92" stroke="#3a2410" stroke-width="0.7"/>
<line x1="459.6" y1="452.92" x2="459.6" y2="454.92" stroke="#3a2410" stroke-width="0.7"/>
<rect x="469.15" y="497.41" width="4.7" height="5.99" fill="#a8845e"/>
<line x1="470.3" y1="496.41" x2="472.7" y2="496.41" stroke="#3a2410" stroke-width="0.7"/>
<line x1="471.5" y1="496.41" x2="471.5" y2="498.41" stroke="#3a2410" stroke-width="0.7"/>
<rect x="476.35" y="491.89" width="4.7" height="11.51" fill="#a8845e"/>
<line x1="477.5" y1="490.89" x2="479.9" y2="490.89" stroke="#3a2410" stroke-width="0.7"/>
<line x1="478.7" y1="490.89" x2="478.7" y2="492.89" stroke="#3a2410" stroke-width="0.7"/>
<rect x="483.55" y="493.68" width="4.7" height="9.72" fill="#a8845e"/>
<line x1="484.7" y1="492.68" x2="487.1" y2="492.68" stroke="#3a2410" stroke-width="0.7"/>
<line x1="485.9" y1="492.68" x2="485.9" y2="494.68" stroke="#3a2410" stroke-width="0.7"/>
<rect x="490.75" y="466.2" width="4.7" height="37.2" fill="#a8845e"/>
<line x1="491.9" y1="465.2" x2="494.3" y2="465.2" stroke="#3a2410" stroke-width="0.7"/>
<line x1="493.1" y1="465.2" x2="493.1" y2="467.2" stroke="#3a2410" stroke-width="0.7"/>
<rect x="497.95" y="490.61" width="4.7" height="12.79" fill="#a8845e"/>
<line x1="499.1" y1="489.61" x2="501.5" y2="489.61" stroke="#3a2410" stroke-width="0.7"/>
<line x1="500.3" y1="489.61" x2="500.3" y2="491.61" stroke="#3a2410" stroke-width="0.7"/>
<rect x="505.15" y="461.44" width="4.7" height="41.96" fill="#a8845e"/>
<line x1="506.3" y1="460.44" x2="508.7" y2="460.44" stroke="#3a2410" stroke-width="0.7"/>
<line x1="507.5" y1="460.44" x2="507.5" y2="462.44" stroke="#3a2410" stroke-width="0.7"/>
<line x1="418.3" y1="440" x2="418.3" y2="503.9" stroke="#2a2a2a" stroke-width="1.1"/>
<line x1="415.9" y1="503.4" x2="418.3" y2="503.4" stroke="#2a2a2a" stroke-width="0.9"/>
<text x="412.7" y="505.6" font-size="6.2" text-anchor="end" fill="#333" stroke="#333" stroke-width="0.08">0</text>
<line x1="415.9" y1="488.05" x2="418.3" y2="488.05" stroke="#2a2a2a" stroke-width="0.9"/>
<text x="412.7" y="490.25" font-size="6.2" text-anchor="end" fill="#333" stroke="#333" stroke-width="0.08">30</text>
<line x1="415.9" y1="472.7" x2="418.3" y2="472.7" stroke="#2a2a2a" stroke-width="0.9"/>
<text x="412.7" y="474.9" font-size="6.2" text-anchor="end" fill="#333" stroke="#333" stroke-width="0.08">60</text>
<line x1="415.9" y1="457.35" x2="418.3" y2="457.35" stroke="#2a2a2a" stroke-width="0.9"/>
<text x="412.7" y="459.55" font-size="6.2" text-anchor="end" fill="#333" stroke="#333" stroke-width="0.08">90</text>
<line x1="415.9" y1="442" x2="418.3" y2="442" stroke="#2a2a2a" stroke-width="0.9"/>
<text x="412.7" y="444.2" font-size="6.2" text-anchor="end" fill="#333" stroke="#333" stroke-width="0.08">120</text>
<line x1="416.1" y1="503.4" x2="511.8" y2="503.4" stroke="#2a2a2a" stroke-width="1.1"/>
<line x1="423.4" y1="503.4" x2="423.4" y2="505.4" stroke="#2a2a2a" stroke-width="0.8"/>
<text x="425.8" y="512.8" font-size="6.6" text-anchor="end" fill="#333" stroke="#333" stroke-width="0.08" transform="rotate(-45 425.8 512.8)">Control</text>
<line x1="430.6" y1="503.4" x2="430.6" y2="505.4" stroke="#2a2a2a" stroke-width="0.8"/>
<text x="433" y="512.8" font-size="6.6" text-anchor="end" fill="#333" stroke="#333" stroke-width="0.08" transform="rotate(-45 433 512.8)">A100</text>
<line x1="437.9" y1="503.4" x2="437.9" y2="505.4" stroke="#2a2a2a" stroke-width="0.8"/>
<text x="440.3" y="512.8" font-size="6.6" text-anchor="end" fill="#333" stroke="#333" stroke-width="0.08" transform="rotate(-45 440.3 512.8)">Ven100</text>
<line x1="445.1" y1="503.4" x2="445.1" y2="505.4" stroke="#2a2a2a" stroke-width="0.8"/>
<text x="447.5" y="512.8" font-size="6.6" text-anchor="end" fill="#333" stroke="#333" stroke-width="0.08" transform="rotate(-45 447.5 512.8)">AV100</text>
<line x1="452.4" y1="503.4" x2="452.4" y2="505.4" stroke="#2a2a2a" stroke-width="0.8"/>
<text x="454.8" y="512.8" font-size="6.6" text-anchor="end" fill="#333" stroke="#333" stroke-width="0.08" transform="rotate(-45 454.8 512.8)">Ven500</text>
<line x1="459.6" y1="503.4" x2="459.6" y2="505.4" stroke="#2a2a2a" stroke-width="0.8"/>
<text x="462" y="512.8" font-size="6.6" text-anchor="end" fill="#333" stroke="#333" stroke-width="0.08" transform="rotate(-45 462 512.8)">AV500</text>
<line x1="471.5" y1="503.4" x2="471.5" y2="505.4" stroke="#2a2a2a" stroke-width="0.8"/>
<text x="473.9" y="512.8" font-size="6.6" text-anchor="end" fill="#333" stroke="#333" stroke-width="0.08" transform="rotate(-45 473.9 512.8)">Control</text>
<line x1="478.7" y1="503.4" x2="478.7" y2="505.4" stroke="#2a2a2a" stroke-width="0.8"/>
<text x="481.1" y="512.8" font-size="6.6" text-anchor="end" fill="#333" stroke="#333" stroke-width="0.08" transform="rotate(-45 481.1 512.8)">A100</text>
<line x1="485.9" y1="503.4" x2="485.9" y2="505.4" stroke="#2a2a2a" stroke-width="0.8"/>
<text x="488.3" y="512.8" font-size="6.6" text-anchor="end" fill="#333" stroke="#333" stroke-width="0.08" transform="rotate(-45 488.3 512.8)">Ven100</text>
<line x1="493.1" y1="503.4" x2="493.1" y2="505.4" stroke="#2a2a2a" stroke-width="0.8"/>
<text x="495.5" y="512.8" font-size="6.6" text-anchor="end" fill="#333" stroke="#333" stroke-width="0.08" transform="rotate(-45 495.5 512.8)">AV100</text>
<line x1="500.3" y1="503.4" x2="500.3" y2="505.4" stroke="#2a2a2a" stroke-width="0.8"/>
<text x="502.7" y="512.8" font-size="6.6" text-anchor="end" fill="#333" stroke="#333" stroke-width="0.08" transform="rotate(-45 502.7 512.8)">Ven500</text>
<line x1="507.5" y1="503.4" x2="507.5" y2="505.4" stroke="#2a2a2a" stroke-width="0.8"/>
<text x="509.9" y="512.8" font-size="6.6" text-anchor="end" fill="#333" stroke="#333" stroke-width="0.08" transform="rotate(-45 509.9 512.8)">AV500</text>
<path d="M437.9 455 L437.9 447.4 L445.1 447.4 L445.1 451.5" stroke="#5d6d86" stroke-width="0.8" fill="none"/>
<rect x="439.9" y="444" width="1.05" height="1.4" fill="#333"/>
<rect x="441.95" y="444" width="1.05" height="1.4" fill="#333"/>
<path d="M452.4 451 L452.4 447.4 L459.6 447.4 L459.6 450" stroke="#5d6d86" stroke-width="0.8" fill="none"/>
<text x="456" y="445.3" font-size="6" text-anchor="middle" fill="#333" stroke="#333" stroke-width="0.08">ns</text>
<path d="M485.9 490.5 L485.9 447.4 L493.1 447.4 L493.1 464" stroke="#5d6d86" stroke-width="0.8" fill="none"/>
<rect x="485.85" y="444" width="1.05" height="1.4" fill="#333"/>
<rect x="487.9" y="444" width="1.05" height="1.4" fill="#333"/>
<rect x="489.95" y="444" width="1.05" height="1.4" fill="#333"/>
<rect x="492" y="444" width="1.05" height="1.4" fill="#333"/>
<path d="M500.3 486.4 L500.3 447.4 L507.5 447.4 L507.5 459.9" stroke="#5d6d86" stroke-width="0.8" fill="none"/>
<rect x="500.25" y="444" width="1.05" height="1.4" fill="#333"/>
<rect x="502.3" y="444" width="1.05" height="1.4" fill="#333"/>
<rect x="504.35" y="444" width="1.05" height="1.4" fill="#333"/>
<rect x="506.4" y="444" width="1.05" height="1.4" fill="#333"/>
<text x="441.2" y="535.3" font-size="6.1" text-anchor="middle" fill="#333" stroke="#333" stroke-width="0.08" textLength="8.1" lengthAdjust="spacingAndGlyphs">Par</text>
<text x="489.5" y="535.5" font-size="6.1" text-anchor="middle" fill="#333" stroke="#333" stroke-width="0.08" textLength="10.8" lengthAdjust="spacingAndGlyphs">27B</text>
<text x="396.2" y="471.1" font-size="7.4" text-anchor="middle" stroke="#222" stroke-width="0.08" textLength="30.6" lengthAdjust="spacingAndGlyphs" transform="rotate(-90 396.2 471.1)" class="b">% Apoptosis</text>
</svg></body></html>
